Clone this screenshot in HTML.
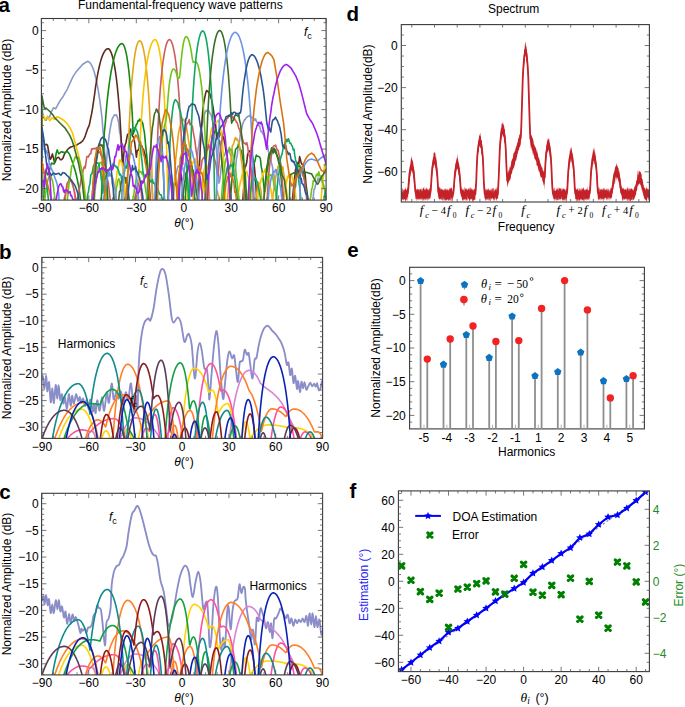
<!DOCTYPE html><html><head><meta charset="utf-8"><style>html,body{margin:0;padding:0;background:#fff;overflow:hidden}svg{display:block}</style></head><body>
<svg width="685" height="707" viewBox="0 0 685 707" font-family='"Liberation Sans", sans-serif'>
<rect width="685" height="707" fill="#fff"/>
<defs>
<clipPath id="ca"><rect x="41.4" y="18.5" width="284.7" height="181.6"/></clipPath>
<clipPath id="cb"><rect x="41.8" y="257.4" width="280.8" height="181"/></clipPath>
<clipPath id="cc"><rect x="41.6" y="493.3" width="281" height="181.6"/></clipPath>
<clipPath id="cd"><rect x="401.3" y="24.6" width="248.1" height="177.4"/></clipPath>
<clipPath id="ce"><rect x="409.6" y="267.3" width="234.8" height="161.6"/></clipPath>
<clipPath id="cf"><rect x="398.4" y="490.9" width="251" height="180.7"/></clipPath>
</defs>
<g clip-path="url(#ca)">
<path d="M40.4 215.0 41.2 215.0 42.0 109.1 42.8 113.4 43.6 117.0 44.4 118.6 45.2 120.1 46.0 120.5 46.8 118.9 47.6 117.2 48.4 116.9 49.2 117.3 50.0 116.0 50.8 113.6 51.6 111.5 52.4 109.9 53.2 108.3 54.0 107.8 54.8 108.4 55.6 108.8 56.4 107.3 57.2 105.9 58.0 104.4 58.8 103.0 59.6 101.6 60.4 100.2 61.2 99.1 62.0 98.1 62.8 97.0 63.6 95.6 64.4 94.1 65.2 92.7 66.0 91.4 66.8 90.1 67.6 88.5 68.4 86.7 69.2 84.8 70.0 83.0 70.8 81.3 71.6 79.6 72.4 77.9 73.2 76.4 74.0 75.1 74.8 73.9 75.6 72.6 76.4 71.5 77.2 70.6 78.0 69.7 78.8 68.8 79.6 67.9 80.4 67.0 81.2 66.1 82.0 65.1 82.8 64.2 83.6 63.7 84.4 63.2 85.2 62.7 86.0 62.3 86.8 61.8 87.6 61.4 88.4 61.6 89.2 62.1 90.0 62.8 90.8 63.9 91.6 65.3 92.4 67.0 93.2 69.0 94.0 71.3 94.8 74.0 95.6 77.2 96.4 80.5 97.2 84.9 98.0 88.9 98.8 94.1 99.6 99.1 100.4 104.8 101.2 111.7 102.0 117.5 102.8 128.5 103.6 137.3 104.4 149.1 105.2 159.6 106.0 169.4 106.8 158.5 107.6 146.8 108.4 142.1 109.2 135.3 110.0 129.8 110.8 125.3 111.6 121.3 112.4 118.4 113.2 117.2 114.0 115.2 114.8 114.8 115.6 115.4 116.4 114.8 117.2 116.6 118.0 120.0 118.8 123.4 119.6 132.1 120.4 135.3 121.2 145.6 122.0 157.1 122.8 168.9 123.6 185.0 124.4 204.1 125.2 215.0 126.0 215.0 126.8 215.0 127.6 215.0 128.4 215.0 129.2 215.0 130.0 215.0 130.8 215.0 131.6 215.0 132.4 215.0 133.2 211.3 134.0 204.7 134.8 197.1 135.6 195.3 136.4 194.6 137.2 194.3 138.0 197.9 138.8 201.9 139.6 215.0 140.4 215.0 141.2 215.0 142.0 215.0 142.8 215.0 143.6 215.0 144.4 215.0 145.2 215.0 146.0 208.4 146.8 194.0 147.6 181.5 148.4 175.7 149.2 174.2 150.0 170.9 150.8 175.9 151.6 182.9 152.4 193.6 153.2 210.4 154.0 215.0 154.8 215.0 155.6 215.0 156.4 215.0 157.2 215.0 158.0 215.0 158.8 215.0 159.6 215.0 160.4 215.0 161.2 215.0 162.0 215.0 162.8 215.0 163.6 215.0 164.4 215.0 165.2 215.0 166.0 215.0 166.8 215.0 167.6 215.0 168.4 215.0 169.2 215.0 170.0 215.0 170.8 215.0 171.6 211.6 172.4 201.3 173.2 196.3 174.0 187.5 174.8 179.7 175.6 175.0 176.4 173.2 177.2 168.8 178.0 166.3 178.8 166.5 179.6 165.5 180.4 166.4 181.2 163.9 182.0 165.1 182.8 168.3 183.6 171.9 184.4 172.7 185.2 175.5 186.0 179.1 186.8 186.1 187.6 190.8 188.4 196.7 189.2 199.9 190.0 212.1 190.8 215.0 191.6 215.0 192.4 215.0 193.2 215.0 194.0 211.1 194.8 195.4 195.6 183.0 196.4 172.7 197.2 159.7 198.0 149.7 198.8 145.8 199.6 138.4 200.4 132.3 201.2 127.3 202.0 125.1 202.8 121.3 203.6 116.7 204.4 114.7 205.2 112.1 206.0 110.6 206.8 111.3 207.6 109.8 208.4 110.6 209.2 111.6 210.0 113.4 210.8 114.5 211.6 116.9 212.4 120.5 213.2 124.1 214.0 128.8 214.8 137.5 215.6 141.7 216.4 149.5 217.2 159.8 218.0 169.7 218.8 183.2 219.6 181.2 220.4 175.5 221.2 166.5 222.0 163.0 222.8 158.9 223.6 155.2 224.4 155.9 225.2 153.1 226.0 151.3 226.8 156.0 227.6 150.6 228.4 150.0 229.2 149.9 230.0 153.0 230.8 155.7 231.6 157.7 232.4 163.6 233.2 165.8 234.0 171.9 234.8 177.0 235.6 168.3 236.4 159.2 237.2 155.6 238.0 148.5 238.8 142.2 239.6 141.0 240.4 133.8 241.2 131.0 242.0 127.4 242.8 123.6 243.6 121.8 244.4 119.9 245.2 119.7 246.0 117.9 246.8 117.4 247.6 116.5 248.4 116.1 249.2 116.5 250.0 115.2 250.8 116.9 251.6 117.8 252.4 117.6 253.2 117.8 254.0 118.8 254.8 120.4 255.6 118.8 256.4 121.3 257.2 122.5 258.0 122.9 258.8 125.8 259.6 125.8 260.4 129.5 261.2 131.8 262.0 131.3 262.8 134.0 263.6 134.8 264.4 137.9 265.2 138.9 266.0 140.4 266.8 146.3 267.6 145.3 268.4 151.5 269.2 152.4 270.0 157.8 270.8 158.9 271.6 163.8 272.4 166.2 273.2 173.2 274.0 174.8 274.8 181.7 275.6 186.9 276.4 193.4 277.2 199.7 278.0 206.9 278.8 212.0 279.6 215.0 280.4 215.0 281.2 215.0 282.0 215.0 282.8 215.0 283.6 215.0 284.4 215.0 285.2 215.0 286.0 215.0 286.8 215.0 287.6 215.0 288.4 215.0 289.2 215.0 290.0 215.0 290.8 215.0 291.6 215.0 292.4 215.0 293.2 215.0 294.0 215.0 294.8 215.0 295.6 215.0 296.4 215.0 297.2 215.0 298.0 215.0 298.8 215.0 299.6 215.0 300.4 215.0 301.2 215.0 302.0 215.0 302.8 215.0 303.6 215.0 304.4 215.0 305.2 215.0 306.0 215.0 306.8 215.0 307.6 215.0 308.4 215.0 309.2 215.0 310.0 215.0 310.8 215.0 311.6 207.3 312.4 201.5 313.2 196.9 314.0 189.4 314.8 188.7 315.6 184.6 316.4 183.4 317.2 180.9 318.0 178.0 318.8 179.8 319.6 178.3 320.4 177.7 321.2 180.5 322.0 181.3 322.8 183.8 323.6 185.9 324.4 189.1 325.2 194.9 326.0 198.2 326.8 205.9" stroke="#8a9ac8" stroke-width="1.6" fill="none" stroke-linejoin="round"/>
<path d="M40.4 215.0 41.2 215.0 42.0 132.8 42.8 136.6 43.6 140.5 44.4 144.4 45.2 144.8 46.0 144.6 46.8 144.4 47.6 145.5 48.4 150.2 49.2 154.8 50.0 159.5 50.8 158.8 51.6 156.4 52.4 153.9 53.2 157.1 54.0 160.2 54.8 162.8 55.6 160.8 56.4 158.8 57.2 157.8 58.0 157.5 58.8 157.4 59.6 158.6 60.4 159.7 61.2 159.7 62.0 159.3 62.8 158.5 63.6 156.4 64.4 154.3 65.2 152.9 66.0 151.7 66.8 150.6 67.6 149.5 68.4 148.7 69.2 148.1 70.0 147.5 70.8 147.0 71.6 146.7 72.4 146.5 73.2 146.2 74.0 146.0 74.8 145.8 75.6 145.6 76.4 145.2 77.2 144.7 78.0 144.1 78.8 143.6 79.6 143.2 80.4 142.8 81.2 142.3 82.0 141.5 82.8 140.6 83.6 139.3 84.4 137.8 85.2 136.1 86.0 133.6 86.8 131.2 87.6 128.8 88.4 127.1 89.2 125.4 90.0 121.6 90.8 117.7 91.6 113.9 92.4 109.3 93.2 103.8 94.0 98.3 94.8 92.8 95.6 86.6 96.4 81.8 97.2 76.8 98.0 72.6 98.8 68.7 99.6 65.2 100.4 62.1 101.2 59.3 102.0 56.9 102.8 54.8 103.6 53.1 104.4 51.6 105.2 50.5 106.0 49.6 106.8 49.0 107.6 48.7 108.4 48.8 109.2 49.3 110.0 50.3 110.8 51.8 111.6 53.8 112.4 56.4 113.2 59.5 114.0 63.2 114.8 67.6 115.6 72.7 116.4 78.6 117.2 85.6 118.0 93.7 118.8 102.7 119.6 111.8 120.4 125.7 121.2 138.6 122.0 154.2 122.8 165.6 123.6 155.8 124.4 148.5 125.2 144.7 126.0 142.5 126.8 138.2 127.6 134.2 128.4 134.3 129.2 133.9 130.0 128.9 130.8 131.9 131.6 131.7 132.4 135.6 133.2 136.8 134.0 138.6 134.8 143.5 135.6 149.7 136.4 157.2 137.2 151.0 138.0 150.1 138.8 150.0 139.6 144.2 140.4 147.2 141.2 145.5 142.0 146.1 142.8 148.9 143.6 149.4 144.4 153.1 145.2 155.1 146.0 158.8 146.8 164.4 147.6 170.5 148.4 178.4 149.2 184.1 150.0 195.8 150.8 203.4 151.6 215.0 152.4 215.0 153.2 215.0 154.0 215.0 154.8 215.0 155.6 215.0 156.4 215.0 157.2 215.0 158.0 215.0 158.8 215.0 159.6 215.0 160.4 215.0 161.2 215.0 162.0 215.0 162.8 215.0 163.6 215.0 164.4 215.0 165.2 215.0 166.0 215.0 166.8 215.0 167.6 210.6 168.4 191.8 169.2 183.5 170.0 177.7 170.8 179.8 171.6 186.1 172.4 196.4 173.2 211.9 174.0 215.0 174.8 215.0 175.6 215.0 176.4 215.0 177.2 208.8 178.0 191.5 178.8 176.9 179.6 171.9 180.4 172.8 181.2 174.9 182.0 181.1 182.8 191.4 183.6 215.0 184.4 215.0 185.2 215.0 186.0 215.0 186.8 215.0 187.6 215.0 188.4 215.0 189.2 215.0 190.0 215.0 190.8 215.0 191.6 215.0 192.4 215.0 193.2 215.0 194.0 215.0 194.8 215.0 195.6 215.0 196.4 215.0 197.2 215.0 198.0 215.0 198.8 189.5 199.6 163.9 200.4 144.8 201.2 133.4 202.0 120.5 202.8 110.4 203.6 103.6 204.4 99.2 205.2 95.3 206.0 91.9 206.8 90.5 207.6 91.5 208.4 91.8 209.2 93.0 210.0 94.1 210.8 97.3 211.6 99.7 212.4 103.6 213.2 108.3 214.0 114.2 214.8 119.6 215.6 124.9 216.4 134.1 217.2 138.8 218.0 138.3 218.8 137.6 219.6 135.6 220.4 132.4 221.2 133.7 222.0 136.1 222.8 138.5 223.6 136.8 224.4 141.9 225.2 145.6 226.0 151.6 226.8 153.7 227.6 161.9 228.4 169.7 229.2 179.9 230.0 187.3 230.8 199.5 231.6 215.0 232.4 215.0 233.2 215.0 234.0 215.0 234.8 215.0 235.6 215.0 236.4 215.0 237.2 215.0 238.0 215.0 238.8 215.0 239.6 215.0 240.4 215.0 241.2 215.0 242.0 215.0 242.8 200.9 243.6 189.4 244.4 179.3 245.2 167.6 246.0 165.2 246.8 162.0 247.6 154.5 248.4 152.8 249.2 151.8 250.0 150.6 250.8 151.8 251.6 151.9 252.4 155.8 253.2 160.2 254.0 162.9 254.8 171.4 255.6 180.3 256.4 194.8 257.2 209.6 258.0 215.0 258.8 215.0 259.6 215.0 260.4 215.0 261.2 215.0 262.0 215.0 262.8 215.0 263.6 215.0 264.4 215.0 265.2 215.0 266.0 215.0 266.8 215.0 267.6 215.0 268.4 215.0 269.2 215.0 270.0 215.0 270.8 215.0 271.6 215.0 272.4 215.0 273.2 215.0 274.0 215.0 274.8 215.0 275.6 215.0 276.4 215.0 277.2 215.0 278.0 215.0 278.8 215.0 279.6 215.0 280.4 215.0 281.2 215.0 282.0 215.0 282.8 215.0 283.6 215.0 284.4 215.0 285.2 215.0 286.0 215.0 286.8 215.0 287.6 215.0 288.4 215.0 289.2 215.0 290.0 215.0 290.8 215.0 291.6 204.0 292.4 199.5 293.2 192.1 294.0 182.4 294.8 176.5 295.6 169.0 296.4 169.0 297.2 164.5 298.0 162.3 298.8 164.0 299.6 156.6 300.4 159.6 301.2 162.9 302.0 164.4 302.8 164.2 303.6 165.6 304.4 171.2 305.2 174.7 306.0 184.3 306.8 190.0 307.6 196.4 308.4 206.7 309.2 215.0 310.0 215.0 310.8 215.0 311.6 215.0 312.4 215.0 313.2 215.0 314.0 215.0 314.8 215.0 315.6 215.0 316.4 215.0 317.2 215.0 318.0 215.0 318.8 215.0 319.6 215.0 320.4 215.0 321.2 215.0 322.0 215.0 322.8 215.0 323.6 215.0 324.4 215.0 325.2 215.0 326.0 215.0 326.8 215.0" stroke="#5e2a1e" stroke-width="1.6" fill="none" stroke-linejoin="round"/>
<path d="M40.4 215.0 41.2 215.0 42.0 215.0 42.8 215.0 43.6 215.0 44.4 174.0 45.2 172.0 46.0 170.0 46.8 172.4 47.6 174.8 48.4 174.4 49.2 171.3 50.0 168.1 50.8 165.0 51.6 163.1 52.4 163.4 53.2 163.7 54.0 164.1 54.8 160.6 55.6 156.5 56.4 152.4 57.2 149.9 58.0 152.0 58.8 153.8 59.6 153.2 60.4 152.6 61.2 151.9 62.0 151.9 62.8 152.1 63.6 152.4 64.4 152.6 65.2 152.5 66.0 151.9 66.8 151.2 67.6 151.7 68.4 152.7 69.2 153.7 70.0 155.5 70.8 157.6 71.6 159.8 72.4 161.9 73.2 164.3 74.0 167.0 74.8 169.6 75.6 172.3 76.4 175.3 77.2 179.2 78.0 183.0 78.8 186.9 79.6 192.5 80.4 198.7 81.2 215.0 82.0 215.0 82.8 215.0 83.6 215.0 84.4 215.0 85.2 215.0 86.0 215.0 86.8 215.0 87.6 215.0 88.4 215.0 89.2 215.0 90.0 215.0 90.8 215.0 91.6 215.0 92.4 215.0 93.2 215.0 94.0 215.0 94.8 215.0 95.6 215.0 96.4 215.0 97.2 215.0 98.0 215.0 98.8 215.0 99.6 215.0 100.4 215.0 101.2 205.8 102.0 180.4 102.8 163.8 103.6 146.7 104.4 131.7 105.2 124.4 106.0 114.2 106.8 104.6 107.6 97.2 108.4 90.3 109.2 84.2 110.0 78.5 110.8 73.6 111.6 69.1 112.4 65.1 113.2 61.4 114.0 58.2 114.8 55.3 115.6 52.8 116.4 50.6 117.2 48.7 118.0 47.1 118.8 45.9 119.6 44.9 120.4 44.2 121.2 43.7 122.0 43.6 122.8 43.9 123.6 45.0 124.4 46.7 125.2 49.2 126.0 52.4 126.8 56.4 127.6 61.3 128.4 67.1 129.2 74.1 130.0 82.3 130.8 91.7 131.6 103.5 132.4 116.9 133.2 134.1 134.0 131.7 134.8 129.8 135.6 127.1 136.4 124.3 137.2 123.6 138.0 120.7 138.8 121.0 139.6 119.0 140.4 120.9 141.2 119.5 142.0 122.2 142.8 123.5 143.6 128.4 144.4 132.4 145.2 140.6 146.0 149.3 146.8 156.2 147.6 167.8 148.4 185.4 149.2 206.1 150.0 215.0 150.8 215.0 151.6 215.0 152.4 215.0 153.2 215.0 154.0 215.0 154.8 215.0 155.6 215.0 156.4 215.0 157.2 215.0 158.0 215.0 158.8 215.0 159.6 215.0 160.4 215.0 161.2 208.0 162.0 200.9 162.8 198.3 163.6 198.8 164.4 204.1 165.2 214.5 166.0 215.0 166.8 215.0 167.6 215.0 168.4 215.0 169.2 215.0 170.0 215.0 170.8 215.0 171.6 213.6 172.4 197.9 173.2 190.4 174.0 183.7 174.8 185.1 175.6 182.7 176.4 184.8 177.2 191.2 178.0 196.0 178.8 205.3 179.6 215.0 180.4 215.0 181.2 215.0 182.0 215.0 182.8 215.0 183.6 215.0 184.4 215.0 185.2 201.5 186.0 185.8 186.8 177.8 187.6 169.1 188.4 163.9 189.2 160.2 190.0 160.3 190.8 161.6 191.6 165.2 192.4 170.2 193.2 178.8 194.0 193.8 194.8 211.4 195.6 215.0 196.4 215.0 197.2 215.0 198.0 215.0 198.8 215.0 199.6 215.0 200.4 215.0 201.2 215.0 202.0 215.0 202.8 215.0 203.6 215.0 204.4 215.0 205.2 215.0 206.0 201.3 206.8 187.7 207.6 175.6 208.4 166.8 209.2 160.1 210.0 150.0 210.8 147.6 211.6 140.4 212.4 135.2 213.2 133.0 214.0 133.4 214.8 132.0 215.6 130.3 216.4 131.5 217.2 132.8 218.0 138.0 218.8 139.8 219.6 141.2 220.4 147.2 221.2 154.5 222.0 163.6 222.8 169.8 223.6 178.5 224.4 189.0 225.2 203.1 226.0 215.0 226.8 215.0 227.6 215.0 228.4 215.0 229.2 215.0 230.0 208.0 230.8 194.8 231.6 184.7 232.4 172.9 233.2 165.1 234.0 161.5 234.8 155.1 235.6 149.1 236.4 148.6 237.2 147.6 238.0 146.5 238.8 143.3 239.6 147.6 240.4 150.4 241.2 150.4 242.0 154.7 242.8 158.4 243.6 164.2 244.4 171.2 245.2 173.2 246.0 188.2 246.8 197.7 247.6 208.4 248.4 215.0 249.2 211.7 250.0 197.4 250.8 190.4 251.6 181.5 252.4 174.4 253.2 168.9 254.0 162.1 254.8 161.8 255.6 157.6 256.4 155.1 257.2 156.3 258.0 156.2 258.8 156.6 259.6 157.0 260.4 159.0 261.2 166.3 262.0 170.2 262.8 176.4 263.6 183.3 264.4 191.6 265.2 190.7 266.0 182.2 266.8 172.1 267.6 169.1 268.4 162.8 269.2 158.1 270.0 154.1 270.8 153.2 271.6 151.0 272.4 149.6 273.2 149.3 274.0 148.1 274.8 152.0 275.6 149.9 276.4 153.0 277.2 156.1 278.0 159.1 278.8 161.4 279.6 168.3 280.4 170.7 281.2 179.2 282.0 188.2 282.8 198.9 283.6 210.6 284.4 215.0 285.2 215.0 286.0 215.0 286.8 215.0 287.6 215.0 288.4 215.0 289.2 215.0 290.0 215.0 290.8 215.0 291.6 215.0 292.4 215.0 293.2 212.0 294.0 198.5 294.8 192.3 295.6 185.1 296.4 176.3 297.2 170.5 298.0 166.3 298.8 165.9 299.6 165.3 300.4 168.3 301.2 167.5 302.0 168.8 302.8 171.8 303.6 172.2 304.4 177.5 305.2 183.0 306.0 189.5 306.8 193.1 307.6 201.6 308.4 210.3 309.2 215.0 310.0 215.0 310.8 215.0 311.6 215.0 312.4 215.0 313.2 215.0 314.0 215.0 314.8 215.0 315.6 215.0 316.4 215.0 317.2 215.0 318.0 215.0 318.8 215.0 319.6 215.0 320.4 215.0 321.2 215.0 322.0 215.0 322.8 215.0 323.6 215.0 324.4 215.0 325.2 208.3 326.0 201.4 326.8 197.0" stroke="#138a13" stroke-width="1.6" fill="none" stroke-linejoin="round"/>
<path d="M40.4 215.0 41.2 215.0 42.0 215.0 42.8 215.0 43.6 215.0 44.4 215.0 45.2 215.0 46.0 215.0 46.8 215.0 47.6 215.0 48.4 215.0 49.2 215.0 50.0 215.0 50.8 215.0 51.6 215.0 52.4 215.0 53.2 215.0 54.0 215.0 54.8 215.0 55.6 215.0 56.4 215.0 57.2 215.0 58.0 215.0 58.8 215.0 59.6 215.0 60.4 215.0 61.2 215.0 62.0 215.0 62.8 215.0 63.6 215.0 64.4 208.1 65.2 201.4 66.0 193.2 66.8 190.0 67.6 186.1 68.4 183.0 69.2 179.0 70.0 177.5 70.8 180.8 71.6 182.0 72.4 183.2 73.2 185.7 74.0 190.1 74.8 195.8 75.6 200.9 76.4 203.9 77.2 212.3 78.0 215.0 78.8 215.0 79.6 215.0 80.4 215.0 81.2 215.0 82.0 215.0 82.8 215.0 83.6 215.0 84.4 215.0 85.2 215.0 86.0 215.0 86.8 215.0 87.6 215.0 88.4 215.0 89.2 215.0 90.0 215.0 90.8 215.0 91.6 215.0 92.4 207.4 93.2 199.4 94.0 192.4 94.8 184.5 95.6 183.0 96.4 176.8 97.2 174.7 98.0 172.1 98.8 171.0 99.6 171.3 100.4 172.6 101.2 173.4 102.0 171.1 102.8 172.8 103.6 178.2 104.4 182.7 105.2 188.5 106.0 191.1 106.8 200.3 107.6 209.2 108.4 215.0 109.2 215.0 110.0 215.0 110.8 215.0 111.6 215.0 112.4 215.0 113.2 215.0 114.0 215.0 114.8 215.0 115.6 215.0 116.4 215.0 117.2 215.0 118.0 215.0 118.8 215.0 119.6 215.0 120.4 215.0 121.2 215.0 122.0 215.0 122.8 215.0 123.6 215.0 124.4 215.0 125.2 215.0 126.0 215.0 126.8 215.0 127.6 175.2 128.4 149.4 129.2 125.9 130.0 110.5 130.8 95.6 131.6 84.8 132.4 75.4 133.2 67.6 134.0 60.8 134.8 55.2 135.6 50.7 136.4 47.0 137.2 44.2 138.0 42.3 138.8 41.1 139.6 40.7 140.4 41.1 141.2 42.1 142.0 43.9 142.8 46.5 143.6 49.9 144.4 54.1 145.2 59.2 146.0 65.3 146.8 72.5 147.6 81.3 148.4 91.1 149.2 102.7 150.0 118.1 150.8 134.4 151.6 156.6 152.4 192.3 153.2 215.0 154.0 215.0 154.8 215.0 155.6 215.0 156.4 215.0 157.2 215.0 158.0 215.0 158.8 215.0 159.6 215.0 160.4 215.0 161.2 215.0 162.0 215.0 162.8 215.0 163.6 215.0 164.4 215.0 165.2 215.0 166.0 215.0 166.8 215.0 167.6 215.0 168.4 215.0 169.2 215.0 170.0 215.0 170.8 215.0 171.6 215.0 172.4 215.0 173.2 207.4 174.0 189.8 174.8 174.5 175.6 160.2 176.4 152.8 177.2 144.8 178.0 137.3 178.8 131.7 179.6 128.2 180.4 125.2 181.2 121.3 182.0 119.4 182.8 120.1 183.6 119.3 184.4 120.4 185.2 122.2 186.0 124.6 186.8 129.4 187.6 133.9 188.4 139.7 189.2 143.8 190.0 151.9 190.8 164.6 191.6 171.3 192.4 183.6 193.2 200.1 194.0 215.0 194.8 215.0 195.6 215.0 196.4 215.0 197.2 215.0 198.0 215.0 198.8 215.0 199.6 215.0 200.4 215.0 201.2 215.0 202.0 194.5 202.8 183.1 203.6 173.0 204.4 169.1 205.2 166.0 206.0 163.8 206.8 166.7 207.6 172.4 208.4 178.3 209.2 193.5 210.0 206.9 210.8 215.0 211.6 215.0 212.4 215.0 213.2 215.0 214.0 215.0 214.8 215.0 215.6 207.4 216.4 196.1 217.2 190.9 218.0 194.3 218.8 196.2 219.6 205.7 220.4 215.0 221.2 215.0 222.0 215.0 222.8 215.0 223.6 215.0 224.4 215.0 225.2 215.0 226.0 215.0 226.8 215.0 227.6 200.8 228.4 186.4 229.2 173.0 230.0 168.0 230.8 161.8 231.6 153.3 232.4 145.6 233.2 144.8 234.0 142.4 234.8 139.1 235.6 137.4 236.4 139.9 237.2 138.8 238.0 140.5 238.8 143.0 239.6 147.2 240.4 151.8 241.2 159.7 242.0 163.8 242.8 173.1 243.6 184.0 244.4 199.2 245.2 213.2 246.0 215.0 246.8 215.0 247.6 215.0 248.4 215.0 249.2 215.0 250.0 215.0 250.8 215.0 251.6 215.0 252.4 215.0 253.2 215.0 254.0 215.0 254.8 215.0 255.6 203.0 256.4 195.1 257.2 190.0 258.0 184.9 258.8 182.2 259.6 185.0 260.4 187.7 261.2 192.9 262.0 203.2 262.8 215.0 263.6 215.0 264.4 215.0 265.2 215.0 266.0 215.0 266.8 215.0 267.6 215.0 268.4 215.0 269.2 215.0 270.0 215.0 270.8 215.0 271.6 213.5 272.4 202.9 273.2 192.6 274.0 188.6 274.8 182.0 275.6 177.9 276.4 172.5 277.2 170.1 278.0 167.1 278.8 164.4 279.6 162.5 280.4 165.8 281.2 165.6 282.0 169.6 282.8 166.7 283.6 173.1 284.4 177.1 285.2 182.1 286.0 187.2 286.8 193.1 287.6 202.9 288.4 212.0 289.2 215.0 290.0 215.0 290.8 215.0 291.6 215.0 292.4 215.0 293.2 215.0 294.0 215.0 294.8 215.0 295.6 215.0 296.4 215.0 297.2 215.0 298.0 215.0 298.8 215.0 299.6 215.0 300.4 215.0 301.2 215.0 302.0 215.0 302.8 215.0 303.6 215.0 304.4 215.0 305.2 215.0 306.0 215.0 306.8 215.0 307.6 215.0 308.4 215.0 309.2 215.0 310.0 215.0 310.8 215.0 311.6 215.0 312.4 215.0 313.2 215.0 314.0 215.0 314.8 215.0 315.6 215.0 316.4 215.0 317.2 215.0 318.0 215.0 318.8 215.0 319.6 215.0 320.4 215.0 321.2 215.0 322.0 215.0 322.8 213.1 323.6 207.5 324.4 206.1 325.2 204.7 326.0 202.3 326.8 203.3" stroke="#e8a317" stroke-width="1.6" fill="none" stroke-linejoin="round"/>
<path d="M40.4 215.0 41.2 215.0 42.0 120.1 42.8 117.5 43.6 116.0 44.4 118.1 45.2 119.8 46.0 118.5 46.8 117.2 47.6 116.2 48.4 118.0 49.2 119.7 50.0 120.7 50.8 119.4 51.6 118.1 52.4 117.8 53.2 118.5 54.0 119.1 54.8 119.2 55.6 118.2 56.4 117.3 57.2 116.7 58.0 117.0 58.8 117.4 59.6 117.8 60.4 118.3 61.2 118.7 62.0 119.2 62.8 119.7 63.6 120.2 64.4 120.9 65.2 121.6 66.0 122.3 66.8 123.3 67.6 124.3 68.4 125.4 69.2 126.7 70.0 128.1 70.8 129.5 71.6 131.2 72.4 132.8 73.2 135.5 74.0 138.5 74.8 141.5 75.6 144.5 76.4 147.5 77.2 150.4 78.0 153.3 78.8 156.4 79.6 160.0 80.4 163.6 81.2 167.4 82.0 171.3 82.8 175.6 83.6 180.5 84.4 186.5 85.2 193.5 86.0 201.0 86.8 215.0 87.6 215.0 88.4 215.0 89.2 215.0 90.0 215.0 90.8 215.0 91.6 215.0 92.4 215.0 93.2 215.0 94.0 215.0 94.8 215.0 95.6 215.0 96.4 215.0 97.2 215.0 98.0 215.0 98.8 215.0 99.6 215.0 100.4 215.0 101.2 215.0 102.0 215.0 102.8 215.0 103.6 215.0 104.4 215.0 105.2 215.0 106.0 215.0 106.8 215.0 107.6 215.0 108.4 215.0 109.2 215.0 110.0 215.0 110.8 215.0 111.6 215.0 112.4 215.0 113.2 215.0 114.0 207.9 114.8 196.1 115.6 183.9 116.4 177.8 117.2 171.1 118.0 168.6 118.8 164.9 119.6 160.0 120.4 160.0 121.2 162.1 122.0 162.9 122.8 168.0 123.6 175.0 124.4 184.6 125.2 195.7 126.0 213.5 126.8 215.0 127.6 215.0 128.4 215.0 129.2 215.0 130.0 215.0 130.8 215.0 131.6 215.0 132.4 215.0 133.2 215.0 134.0 215.0 134.8 215.0 135.6 215.0 136.4 215.0 137.2 215.0 138.0 203.4 138.8 174.6 139.6 151.0 140.4 135.6 141.2 121.8 142.0 110.2 142.8 98.8 143.6 89.8 144.4 81.8 145.2 75.0 146.0 68.9 146.8 63.6 147.6 58.9 148.4 54.8 149.2 51.3 150.0 48.2 150.8 45.7 151.6 43.6 152.4 42.0 153.2 40.8 154.0 40.0 154.8 39.6 155.6 39.7 156.4 40.6 157.2 42.2 158.0 44.5 158.8 47.7 159.6 51.7 160.4 56.6 161.2 62.5 162.0 69.6 162.8 78.0 163.6 87.6 164.4 99.7 165.2 115.6 166.0 129.0 166.8 154.3 167.6 187.1 168.4 215.0 169.2 215.0 170.0 215.0 170.8 215.0 171.6 215.0 172.4 215.0 173.2 215.0 174.0 215.0 174.8 215.0 175.6 215.0 176.4 215.0 177.2 215.0 178.0 215.0 178.8 215.0 179.6 215.0 180.4 215.0 181.2 215.0 182.0 215.0 182.8 215.0 183.6 215.0 184.4 215.0 185.2 215.0 186.0 215.0 186.8 202.4 187.6 192.1 188.4 186.1 189.2 179.4 190.0 177.5 190.8 170.8 191.6 164.6 192.4 164.2 193.2 162.1 194.0 161.4 194.8 160.0 195.6 159.1 196.4 164.5 197.2 164.1 198.0 167.1 198.8 166.5 199.6 173.7 200.4 178.6 201.2 184.9 202.0 192.3 202.8 194.0 203.6 181.6 204.4 173.5 205.2 166.9 206.0 163.9 206.8 155.0 207.6 150.6 208.4 144.8 209.2 140.5 210.0 137.7 210.8 133.0 211.6 128.2 212.4 127.8 213.2 127.3 214.0 124.5 214.8 122.7 215.6 122.8 216.4 122.8 217.2 121.6 218.0 120.3 218.8 120.6 219.6 125.7 220.4 127.4 221.2 134.0 222.0 137.8 222.8 148.4 223.6 160.5 224.4 170.6 225.2 187.5 226.0 209.4 226.8 215.0 227.6 215.0 228.4 215.0 229.2 215.0 230.0 215.0 230.8 215.0 231.6 215.0 232.4 215.0 233.2 215.0 234.0 215.0 234.8 215.0 235.6 215.0 236.4 215.0 237.2 208.4 238.0 199.8 238.8 190.4 239.6 186.0 240.4 182.0 241.2 179.4 242.0 175.3 242.8 172.4 243.6 168.4 244.4 166.8 245.2 170.1 246.0 171.2 246.8 171.5 247.6 175.2 248.4 177.1 249.2 181.4 250.0 184.6 250.8 191.6 251.6 194.8 252.4 204.3 253.2 213.7 254.0 215.0 254.8 215.0 255.6 215.0 256.4 213.3 257.2 204.9 258.0 197.1 258.8 189.9 259.6 186.0 260.4 182.7 261.2 179.2 262.0 177.6 262.8 173.0 263.6 171.9 264.4 171.9 265.2 168.9 266.0 172.0 266.8 174.8 267.6 174.1 268.4 179.1 269.2 180.0 270.0 186.1 270.8 188.9 271.6 194.7 272.4 201.2 273.2 209.3 274.0 215.0 274.8 215.0 275.6 215.0 276.4 215.0 277.2 215.0 278.0 215.0 278.8 215.0 279.6 215.0 280.4 215.0 281.2 215.0 282.0 214.3 282.8 209.4 283.6 201.3 284.4 193.4 285.2 190.0 286.0 184.2 286.8 180.8 287.6 176.0 288.4 177.6 289.2 174.0 290.0 176.5 290.8 175.6 291.6 175.2 292.4 178.2 293.2 180.8 294.0 183.8 294.8 187.9 295.6 194.9 296.4 201.6 297.2 210.6 298.0 215.0 298.8 215.0 299.6 215.0 300.4 215.0 301.2 215.0 302.0 215.0 302.8 215.0 303.6 215.0 304.4 215.0 305.2 215.0 306.0 215.0 306.8 215.0 307.6 215.0 308.4 215.0 309.2 215.0 310.0 215.0 310.8 215.0 311.6 215.0 312.4 215.0 313.2 215.0 314.0 215.0 314.8 215.0 315.6 215.0 316.4 215.0 317.2 215.0 318.0 215.0 318.8 215.0 319.6 215.0 320.4 207.9 321.2 198.4 322.0 188.0 322.8 180.6 323.6 175.9 324.4 166.0 325.2 163.7 326.0 160.6 326.8 157.2" stroke="#f7c600" stroke-width="1.6" fill="none" stroke-linejoin="round"/>
<path d="M40.4 215.0 41.2 215.0 42.0 215.0 42.8 215.0 43.6 215.0 44.4 215.0 45.2 215.0 46.0 215.0 46.8 215.0 47.6 215.0 48.4 215.0 49.2 215.0 50.0 215.0 50.8 215.0 51.6 215.0 52.4 215.0 53.2 215.0 54.0 215.0 54.8 215.0 55.6 215.0 56.4 215.0 57.2 215.0 58.0 215.0 58.8 215.0 59.6 215.0 60.4 215.0 61.2 215.0 62.0 215.0 62.8 211.0 63.6 205.9 64.4 198.0 65.2 195.3 66.0 190.4 66.8 184.7 67.6 182.3 68.4 182.1 69.2 179.3 70.0 181.0 70.8 181.4 71.6 179.9 72.4 184.5 73.2 186.9 74.0 189.9 74.8 193.2 75.6 198.8 76.4 204.4 77.2 202.2 78.0 195.8 78.8 193.2 79.6 187.8 80.4 183.8 81.2 178.4 82.0 176.9 82.8 171.8 83.6 168.7 84.4 166.6 85.2 168.1 86.0 162.3 86.8 156.5 87.6 156.5 88.4 157.0 89.2 155.0 90.0 153.9 90.8 153.7 91.6 148.8 92.4 149.4 93.2 148.7 94.0 148.4 94.8 148.6 95.6 148.9 96.4 147.7 97.2 150.0 98.0 148.4 98.8 153.0 99.6 152.4 100.4 151.4 101.2 155.5 102.0 155.9 102.8 159.2 103.6 161.3 104.4 164.4 105.2 167.4 106.0 170.5 106.8 174.9 107.6 179.9 108.4 183.5 109.2 190.7 110.0 197.8 110.8 202.0 111.6 212.6 112.4 215.0 113.2 215.0 114.0 215.0 114.8 215.0 115.6 215.0 116.4 215.0 117.2 215.0 118.0 215.0 118.8 215.0 119.6 215.0 120.4 215.0 121.2 215.0 122.0 215.0 122.8 215.0 123.6 215.0 124.4 215.0 125.2 215.0 126.0 215.0 126.8 215.0 127.6 215.0 128.4 215.0 129.2 215.0 130.0 215.0 130.8 215.0 131.6 215.0 132.4 215.0 133.2 215.0 134.0 212.3 134.8 203.2 135.6 195.2 136.4 190.9 137.2 185.7 138.0 183.2 138.8 184.9 139.6 186.7 140.4 187.7 141.2 191.8 142.0 200.9 142.8 206.3 143.6 215.0 144.4 215.0 145.2 215.0 146.0 215.0 146.8 215.0 147.6 215.0 148.4 215.0 149.2 215.0 150.0 215.0 150.8 215.0 151.6 215.0 152.4 215.0 153.2 215.0 154.0 215.0 154.8 215.0 155.6 214.7 156.4 175.6 157.2 149.7 158.0 128.0 158.8 112.0 159.6 98.7 160.4 87.5 161.2 78.4 162.0 70.4 162.8 63.5 163.6 57.8 164.4 52.9 165.2 48.9 166.0 45.6 166.8 43.1 167.6 41.3 168.4 40.1 169.2 39.6 170.0 39.8 170.8 40.6 171.6 42.1 172.4 44.3 173.2 47.2 174.0 50.8 174.8 55.2 175.6 60.5 176.4 66.8 177.2 74.2 178.0 83.2 178.8 92.6 179.6 104.9 180.4 118.8 181.2 135.3 182.0 158.2 182.8 164.4 183.6 150.7 184.4 140.9 185.2 132.8 186.0 127.7 186.8 123.8 187.6 123.5 188.4 121.7 189.2 119.5 190.0 124.7 190.8 123.3 191.6 125.5 192.4 126.2 193.2 131.7 194.0 136.1 194.8 139.8 195.6 146.6 196.4 152.5 197.2 156.7 198.0 164.8 198.8 176.8 199.6 174.0 200.4 170.4 201.2 167.7 202.0 160.7 202.8 158.8 203.6 158.3 204.4 157.0 205.2 154.1 206.0 149.1 206.8 150.8 207.6 149.3 208.4 144.6 209.2 147.9 210.0 146.3 210.8 144.6 211.6 147.7 212.4 150.2 213.2 150.4 214.0 155.9 214.8 160.5 215.6 161.8 216.4 168.0 217.2 173.9 218.0 176.1 218.8 166.4 219.6 157.1 220.4 149.7 221.2 142.5 222.0 139.4 222.8 135.8 223.6 129.8 224.4 127.2 225.2 123.8 226.0 122.0 226.8 118.1 227.6 118.2 228.4 117.0 229.2 116.3 230.0 115.2 230.8 116.7 231.6 116.6 232.4 116.7 233.2 118.6 234.0 117.2 234.8 119.5 235.6 120.4 236.4 122.3 237.2 122.8 238.0 125.6 238.8 128.3 239.6 129.4 240.4 132.9 241.2 134.8 242.0 136.9 242.8 140.1 243.6 142.7 244.4 143.5 245.2 143.3 246.0 144.5 246.8 142.7 247.6 146.3 248.4 152.3 249.2 155.2 250.0 157.9 250.8 165.5 251.6 174.0 252.4 183.0 253.2 196.2 254.0 210.0 254.8 215.0 255.6 215.0 256.4 215.0 257.2 215.0 258.0 215.0 258.8 215.0 259.6 215.0 260.4 215.0 261.2 215.0 262.0 215.0 262.8 215.0 263.6 215.0 264.4 215.0 265.2 215.0 266.0 215.0 266.8 207.7 267.6 191.8 268.4 179.0 269.2 169.4 270.0 162.2 270.8 159.0 271.6 154.7 272.4 149.6 273.2 146.5 274.0 145.7 274.8 145.7 275.6 145.0 276.4 147.9 277.2 149.8 278.0 150.2 278.8 153.6 279.6 158.1 280.4 161.8 281.2 166.7 282.0 177.4 282.8 188.0 283.6 201.5 284.4 215.0 285.2 215.0 286.0 215.0 286.8 215.0 287.6 215.0 288.4 215.0 289.2 215.0 290.0 215.0 290.8 215.0 291.6 215.0 292.4 206.3 293.2 201.7 294.0 188.6 294.8 183.9 295.6 180.6 296.4 178.1 297.2 176.5 298.0 172.9 298.8 171.5 299.6 168.4 300.4 169.3 301.2 169.5 302.0 170.8 302.8 175.8 303.6 176.9 304.4 180.6 305.2 186.9 306.0 191.9 306.8 200.9 307.6 207.5 308.4 215.0 309.2 215.0 310.0 215.0 310.8 215.0 311.6 215.0 312.4 215.0 313.2 215.0 314.0 215.0 314.8 215.0 315.6 215.0 316.4 215.0 317.2 215.0 318.0 215.0 318.8 215.0 319.6 215.0 320.4 215.0 321.2 215.0 322.0 215.0 322.8 215.0 323.6 215.0 324.4 215.0 325.2 215.0 326.0 215.0 326.8 215.0" stroke="#cd5c5c" stroke-width="1.6" fill="none" stroke-linejoin="round"/>
<path d="M40.4 215.0 41.2 215.0 42.0 215.0 42.8 215.0 43.6 215.0 44.4 206.2 45.2 196.2 46.0 191.0 46.8 185.2 47.6 181.3 48.4 178.6 49.2 176.1 50.0 175.2 50.8 174.3 51.6 178.6 52.4 180.6 53.2 184.4 54.0 191.4 54.8 197.2 55.6 205.9 56.4 215.0 57.2 215.0 58.0 215.0 58.8 215.0 59.6 215.0 60.4 215.0 61.2 215.0 62.0 215.0 62.8 215.0 63.6 215.0 64.4 215.0 65.2 215.0 66.0 215.0 66.8 212.2 67.6 198.7 68.4 189.3 69.2 182.7 70.0 178.6 70.8 173.8 71.6 166.1 72.4 165.9 73.2 163.1 74.0 160.7 74.8 157.9 75.6 156.3 76.4 158.2 77.2 157.3 78.0 157.5 78.8 158.1 79.6 161.1 80.4 164.7 81.2 168.4 82.0 172.6 82.8 174.7 83.6 184.3 84.4 190.8 85.2 198.9 86.0 208.3 86.8 215.0 87.6 215.0 88.4 215.0 89.2 215.0 90.0 215.0 90.8 215.0 91.6 215.0 92.4 215.0 93.2 215.0 94.0 205.9 94.8 193.8 95.6 185.9 96.4 178.0 97.2 172.7 98.0 166.7 98.8 165.5 99.6 162.8 100.4 162.7 101.2 162.1 102.0 165.2 102.8 166.6 103.6 168.0 104.4 176.1 105.2 182.9 106.0 187.9 106.8 201.3 107.6 215.0 108.4 215.0 109.2 215.0 110.0 215.0 110.8 215.0 111.6 215.0 112.4 215.0 113.2 215.0 114.0 213.9 114.8 201.3 115.6 193.8 116.4 188.7 117.2 184.4 118.0 180.1 118.8 178.7 119.6 180.7 120.4 187.0 121.2 190.5 122.0 197.9 122.8 206.4 123.6 215.0 124.4 215.0 125.2 215.0 126.0 215.0 126.8 215.0 127.6 215.0 128.4 215.0 129.2 215.0 130.0 215.0 130.8 215.0 131.6 215.0 132.4 203.7 133.2 196.7 134.0 193.5 134.8 186.2 135.6 183.5 136.4 177.0 137.2 173.8 138.0 173.7 138.8 170.0 139.6 172.5 140.4 171.7 141.2 171.7 142.0 173.9 142.8 172.3 143.6 177.4 144.4 181.8 145.2 186.8 146.0 192.6 146.8 196.7 147.6 206.7 148.4 215.0 149.2 215.0 150.0 215.0 150.8 215.0 151.6 215.0 152.4 215.0 153.2 215.0 154.0 215.0 154.8 209.8 155.6 199.3 156.4 188.4 157.2 176.3 158.0 174.7 158.8 168.3 159.6 160.1 160.4 154.0 161.2 147.7 162.0 139.7 162.8 136.9 163.6 131.4 164.4 125.9 165.2 123.2 166.0 119.8 166.8 114.6 167.6 103.3 168.4 93.7 169.2 85.3 170.0 79.7 170.8 75.3 171.6 72.1 172.4 69.9 173.2 69.0 174.0 69.2 174.8 69.9 175.6 71.2 176.4 73.1 177.2 75.6 178.0 78.7 178.8 78.3 179.6 77.0 180.4 69.6 181.2 60.3 182.0 52.8 182.8 46.9 183.6 42.4 184.4 39.3 185.2 37.3 186.0 36.6 186.8 36.9 187.6 37.8 188.4 39.5 189.2 41.8 190.0 45.0 190.8 48.9 191.6 53.7 192.4 59.4 193.2 62.3 194.0 62.2 194.8 62.0 195.6 62.0 196.4 62.3 197.2 63.5 198.0 65.5 198.8 68.5 199.6 72.4 200.4 77.4 201.2 83.3 202.0 90.4 202.8 99.8 203.6 110.0 204.4 123.3 205.2 138.1 206.0 160.6 206.8 184.1 207.6 215.0 208.4 215.0 209.2 215.0 210.0 215.0 210.8 215.0 211.6 215.0 212.4 215.0 213.2 215.0 214.0 215.0 214.8 215.0 215.6 215.0 216.4 215.0 217.2 215.0 218.0 215.0 218.8 215.0 219.6 215.0 220.4 215.0 221.2 203.0 222.0 190.5 222.8 181.7 223.6 172.8 224.4 170.0 225.2 162.2 226.0 159.0 226.8 157.0 227.6 151.3 228.4 151.8 229.2 147.4 230.0 148.6 230.8 150.7 231.6 149.5 232.4 152.0 233.2 156.6 234.0 161.2 234.8 164.5 235.6 168.9 236.4 176.8 237.2 182.3 238.0 192.9 238.8 196.8 239.6 213.5 240.4 215.0 241.2 215.0 242.0 215.0 242.8 215.0 243.6 215.0 244.4 215.0 245.2 215.0 246.0 215.0 246.8 215.0 247.6 215.0 248.4 215.0 249.2 215.0 250.0 215.0 250.8 215.0 251.6 215.0 252.4 215.0 253.2 215.0 254.0 215.0 254.8 215.0 255.6 215.0 256.4 215.0 257.2 215.0 258.0 215.0 258.8 215.0 259.6 215.0 260.4 215.0 261.2 215.0 262.0 215.0 262.8 209.2 263.6 201.6 264.4 194.9 265.2 187.1 266.0 183.6 266.8 181.3 267.6 177.4 268.4 179.3 269.2 175.5 270.0 175.6 270.8 174.5 271.6 175.8 272.4 175.6 273.2 180.3 274.0 184.3 274.8 189.5 275.6 191.7 276.4 198.7 277.2 207.4 278.0 215.0 278.8 215.0 279.6 215.0 280.4 215.0 281.2 215.0 282.0 215.0 282.8 215.0 283.6 215.0 284.4 215.0 285.2 215.0 286.0 215.0 286.8 215.0 287.6 215.0 288.4 215.0 289.2 215.0 290.0 215.0 290.8 215.0 291.6 215.0 292.4 215.0 293.2 215.0 294.0 215.0 294.8 215.0 295.6 215.0 296.4 215.0 297.2 215.0 298.0 215.0 298.8 215.0 299.6 215.0 300.4 215.0 301.2 215.0 302.0 215.0 302.8 215.0 303.6 215.0 304.4 215.0 305.2 215.0 306.0 215.0 306.8 215.0 307.6 215.0 308.4 215.0 309.2 205.6 310.0 199.8 310.8 196.7 311.6 189.6 312.4 187.2 313.2 180.8 314.0 181.3 314.8 179.9 315.6 177.2 316.4 174.7 317.2 173.8 318.0 176.0 318.8 171.7 319.6 175.3 320.4 176.6 321.2 175.9 322.0 179.3 322.8 182.3 323.6 184.9 324.4 188.3 325.2 190.5 326.0 196.2 326.8 202.1" stroke="#6fc41a" stroke-width="1.6" fill="none" stroke-linejoin="round"/>
<path d="M40.4 210.1 41.2 201.3 42.0 190.1 42.8 184.0 43.6 182.6 44.4 179.2 45.2 180.9 46.0 181.8 46.8 185.3 47.6 192.1 48.4 199.7 49.2 207.4 50.0 215.0 50.8 215.0 51.6 215.0 52.4 215.0 53.2 215.0 54.0 215.0 54.8 215.0 55.6 215.0 56.4 215.0 57.2 215.0 58.0 215.0 58.8 215.0 59.6 215.0 60.4 215.0 61.2 215.0 62.0 215.0 62.8 215.0 63.6 215.0 64.4 215.0 65.2 215.0 66.0 215.0 66.8 215.0 67.6 215.0 68.4 215.0 69.2 215.0 70.0 215.0 70.8 215.0 71.6 215.0 72.4 215.0 73.2 215.0 74.0 215.0 74.8 215.0 75.6 215.0 76.4 215.0 77.2 215.0 78.0 215.0 78.8 215.0 79.6 215.0 80.4 215.0 81.2 215.0 82.0 215.0 82.8 215.0 83.6 215.0 84.4 215.0 85.2 215.0 86.0 213.3 86.8 204.7 87.6 194.9 88.4 191.9 89.2 186.4 90.0 183.5 90.8 174.8 91.6 174.1 92.4 172.1 93.2 166.8 94.0 164.8 94.8 165.1 95.6 163.4 96.4 163.0 97.2 162.5 98.0 163.2 98.8 163.7 99.6 169.7 100.4 170.4 101.2 178.5 102.0 183.8 102.8 193.1 103.6 186.9 104.4 180.4 105.2 178.9 106.0 177.2 106.8 174.1 107.6 172.9 108.4 171.5 109.2 169.7 110.0 168.5 110.8 167.8 111.6 166.1 112.4 166.8 113.2 163.4 114.0 164.3 114.8 165.9 115.6 165.7 116.4 167.7 117.2 167.0 118.0 169.2 118.8 171.5 119.6 175.0 120.4 174.0 121.2 176.2 122.0 183.6 122.8 176.7 123.6 175.6 124.4 172.1 125.2 167.1 126.0 165.8 126.8 168.1 127.6 159.5 128.4 154.6 129.2 146.0 130.0 139.9 130.8 134.1 131.6 132.1 132.4 128.4 133.2 127.3 134.0 128.5 134.8 127.7 135.6 128.3 136.4 129.9 137.2 131.3 138.0 134.6 138.8 139.1 139.6 145.7 140.4 146.5 141.2 154.8 142.0 161.0 142.8 170.6 143.6 173.9 144.4 176.3 145.2 176.9 146.0 174.8 146.8 176.4 147.6 176.2 148.4 177.7 149.2 180.0 150.0 180.0 150.8 181.9 151.6 181.8 152.4 179.5 153.2 183.2 154.0 182.8 154.8 184.4 155.6 187.4 156.4 188.9 157.2 188.8 158.0 188.7 158.8 192.3 159.6 194.2 160.4 194.9 161.2 194.7 162.0 198.3 162.8 199.7 163.6 200.1 164.4 201.4 165.2 205.7 166.0 206.1 166.8 205.8 167.6 208.2 168.4 191.0 169.2 167.9 170.0 143.4 170.8 130.1 171.6 119.2 172.4 111.9 173.2 105.9 174.0 102.4 174.8 100.4 175.6 99.7 176.4 100.7 177.2 101.8 178.0 102.8 178.8 107.0 179.6 109.7 180.4 111.4 181.2 116.0 182.0 119.0 182.8 125.4 183.6 131.8 184.4 137.1 185.2 145.1 186.0 157.7 186.8 167.3 187.6 178.4 188.4 195.3 189.2 214.7 190.0 177.7 190.8 145.8 191.6 123.1 192.4 105.7 193.2 91.5 194.0 80.0 194.8 70.2 195.6 61.8 196.4 54.7 197.2 48.7 198.0 43.7 198.8 39.6 199.6 36.4 200.4 33.9 201.2 32.2 202.0 31.2 202.8 30.9 203.6 31.4 204.4 32.8 205.2 35.1 206.0 38.3 206.8 42.5 207.6 47.8 208.4 54.2 209.2 61.9 210.0 71.1 210.8 82.4 211.6 95.5 212.4 111.8 213.2 133.9 214.0 163.4 214.8 207.6 215.6 215.0 216.4 215.0 217.2 215.0 218.0 215.0 218.8 215.0 219.6 215.0 220.4 215.0 221.2 215.0 222.0 204.4 222.8 197.2 223.6 191.6 224.4 183.3 225.2 179.5 226.0 175.0 226.8 169.5 227.6 166.3 228.4 165.6 229.2 168.4 230.0 165.9 230.8 164.4 231.6 165.6 232.4 167.1 233.2 174.4 234.0 175.8 234.8 177.8 235.6 185.8 236.4 190.6 237.2 198.3 238.0 208.4 238.8 215.0 239.6 215.0 240.4 215.0 241.2 215.0 242.0 215.0 242.8 215.0 243.6 215.0 244.4 215.0 245.2 215.0 246.0 215.0 246.8 215.0 247.6 213.5 248.4 205.8 249.2 202.3 250.0 195.8 250.8 188.7 251.6 184.1 252.4 184.0 253.2 180.1 254.0 178.0 254.8 180.6 255.6 178.1 256.4 180.5 257.2 181.7 258.0 185.8 258.8 189.1 259.6 193.4 260.4 197.4 261.2 203.1 262.0 211.2 262.8 215.0 263.6 215.0 264.4 215.0 265.2 215.0 266.0 215.0 266.8 215.0 267.6 215.0 268.4 215.0 269.2 215.0 270.0 215.0 270.8 215.0 271.6 215.0 272.4 215.0 273.2 215.0 274.0 215.0 274.8 215.0 275.6 203.6 276.4 197.4 277.2 187.1 278.0 177.9 278.8 174.6 279.6 167.3 280.4 159.7 281.2 155.9 282.0 154.5 282.8 149.8 283.6 145.7 284.4 146.9 285.2 141.4 286.0 142.0 286.8 139.2 287.6 141.4 288.4 138.8 289.2 140.8 290.0 143.3 290.8 143.2 291.6 145.3 292.4 146.3 293.2 149.9 294.0 149.1 294.8 155.4 295.6 159.9 296.4 162.5 297.2 168.6 298.0 172.9 298.8 181.7 299.6 186.7 300.4 194.4 301.2 204.7 302.0 215.0 302.8 215.0 303.6 215.0 304.4 215.0 305.2 215.0 306.0 215.0 306.8 215.0 307.6 215.0 308.4 215.0 309.2 215.0 310.0 215.0 310.8 215.0 311.6 215.0 312.4 215.0 313.2 215.0 314.0 215.0 314.8 215.0 315.6 215.0 316.4 215.0 317.2 215.0 318.0 215.0 318.8 215.0 319.6 215.0 320.4 215.0 321.2 215.0 322.0 214.9 322.8 207.4 323.6 202.3 324.4 195.9 325.2 193.3 326.0 190.6 326.8 188.5" stroke="#0fa860" stroke-width="1.6" fill="none" stroke-linejoin="round"/>
<path d="M40.4 215.0 41.2 215.0 42.0 95.8 42.8 100.8 43.6 104.7 44.4 108.3 45.2 108.4 46.0 108.0 46.8 108.8 47.6 109.5 48.4 110.2 49.2 110.8 50.0 111.6 50.8 112.6 51.6 113.5 52.4 114.4 53.2 115.3 54.0 116.6 54.8 117.8 55.6 118.6 56.4 119.4 57.2 120.2 58.0 121.0 58.8 121.9 59.6 122.7 60.4 123.5 61.2 124.3 62.0 125.1 62.8 125.9 63.6 126.7 64.4 127.4 65.2 128.3 66.0 129.5 66.8 130.7 67.6 131.9 68.4 133.2 69.2 134.4 70.0 135.9 70.8 137.6 71.6 139.3 72.4 141.6 73.2 144.0 74.0 146.4 74.8 149.4 75.6 152.5 76.4 155.4 77.2 158.3 78.0 161.2 78.8 164.6 79.6 168.9 80.4 172.9 81.2 176.7 82.0 180.8 82.8 187.4 83.6 194.6 84.4 201.3 85.2 215.0 86.0 215.0 86.8 215.0 87.6 215.0 88.4 215.0 89.2 215.0 90.0 215.0 90.8 215.0 91.6 215.0 92.4 215.0 93.2 215.0 94.0 195.9 94.8 181.0 95.6 172.3 96.4 161.0 97.2 157.1 98.0 149.8 98.8 149.4 99.6 143.4 100.4 144.9 101.2 145.8 102.0 144.9 102.8 147.3 103.6 151.5 104.4 154.6 105.2 161.5 106.0 169.1 106.8 181.7 107.6 194.2 108.4 212.3 109.2 215.0 110.0 215.0 110.8 215.0 111.6 215.0 112.4 215.0 113.2 215.0 114.0 215.0 114.8 215.0 115.6 215.0 116.4 215.0 117.2 210.4 118.0 203.2 118.8 198.8 119.6 191.5 120.4 190.6 121.2 181.8 122.0 181.0 122.8 179.2 123.6 176.5 124.4 177.4 125.2 177.5 126.0 183.1 126.8 177.7 127.6 186.6 128.4 192.5 129.2 200.5 130.0 212.0 130.8 215.0 131.6 215.0 132.4 215.0 133.2 215.0 134.0 215.0 134.8 215.0 135.6 215.0 136.4 215.0 137.2 215.0 138.0 215.0 138.8 215.0 139.6 215.0 140.4 215.0 141.2 215.0 142.0 215.0 142.8 215.0 143.6 215.0 144.4 215.0 145.2 215.0 146.0 215.0 146.8 215.0 147.6 211.5 148.4 189.2 149.2 171.0 150.0 155.4 150.8 146.1 151.6 135.7 152.4 127.5 153.2 122.8 154.0 116.2 154.8 113.1 155.6 111.8 156.4 109.1 157.2 110.0 158.0 112.4 158.8 113.3 159.6 119.9 160.4 127.2 161.2 134.8 162.0 145.9 162.8 160.1 163.6 177.5 164.4 198.9 165.2 215.0 166.0 215.0 166.8 215.0 167.6 215.0 168.4 215.0 169.2 215.0 170.0 215.0 170.8 215.0 171.6 215.0 172.4 215.0 173.2 215.0 174.0 215.0 174.8 215.0 175.6 215.0 176.4 215.0 177.2 215.0 178.0 215.0 178.8 215.0 179.6 215.0 180.4 215.0 181.2 215.0 182.0 208.7 182.8 198.0 183.6 191.4 184.4 184.2 185.2 179.2 186.0 172.8 186.8 171.5 187.6 170.1 188.4 166.9 189.2 165.8 190.0 166.8 190.8 167.3 191.6 165.7 192.4 169.5 193.2 170.3 194.0 175.8 194.8 177.7 195.6 183.2 196.4 192.2 197.2 197.1 198.0 210.4 198.8 215.0 199.6 215.0 200.4 215.0 201.2 215.0 202.0 215.0 202.8 215.0 203.6 215.0 204.4 215.0 205.2 193.7 206.0 162.4 206.8 138.9 207.6 118.2 208.4 103.4 209.2 90.7 210.0 80.0 210.8 70.9 211.6 63.2 212.4 56.5 213.2 50.8 214.0 45.8 214.8 41.7 215.6 38.3 216.4 35.5 217.2 33.3 218.0 31.8 218.8 30.9 219.6 30.5 220.4 30.8 221.2 31.7 222.0 33.2 222.8 35.5 223.6 38.4 224.4 42.2 225.2 46.7 226.0 52.1 226.8 58.5 227.6 66.0 228.4 74.6 229.2 85.5 230.0 97.6 230.8 112.6 231.6 123.2 232.4 121.3 233.2 120.4 234.0 118.2 234.8 116.0 235.6 114.7 236.4 115.3 237.2 115.3 238.0 116.2 238.8 114.8 239.6 120.8 240.4 123.3 241.2 130.3 242.0 139.3 242.8 146.2 243.6 157.6 244.4 175.6 245.2 194.7 246.0 215.0 246.8 215.0 247.6 215.0 248.4 215.0 249.2 215.0 250.0 215.0 250.8 215.0 251.6 215.0 252.4 215.0 253.2 215.0 254.0 215.0 254.8 215.0 255.6 215.0 256.4 215.0 257.2 215.0 258.0 215.0 258.8 215.0 259.6 215.0 260.4 215.0 261.2 215.0 262.0 215.0 262.8 215.0 263.6 206.3 264.4 190.6 265.2 183.4 266.0 175.4 266.8 166.7 267.6 163.4 268.4 156.9 269.2 153.3 270.0 155.0 270.8 151.2 271.6 147.9 272.4 150.5 273.2 153.1 274.0 149.3 274.8 149.5 275.6 152.9 276.4 154.0 277.2 156.5 278.0 157.5 278.8 163.4 279.6 163.5 280.4 166.6 281.2 170.2 282.0 174.5 282.8 176.4 283.6 178.3 284.4 179.8 285.2 186.8 286.0 191.5 286.8 198.7 287.6 207.5 288.4 215.0 289.2 215.0 290.0 174.8 290.8 174.4 291.6 174.0 292.4 173.6 293.2 173.2 294.0 172.8 294.8 172.6 295.6 172.3 296.4 172.1 297.2 171.9 298.0 171.6 298.8 171.4 299.6 171.1 300.4 171.1 301.2 171.2 302.0 171.4 302.8 171.6 303.6 171.7 304.4 171.9 305.2 172.1 306.0 172.3 306.8 172.5 307.6 172.7 308.4 173.0 309.2 173.2 310.0 173.4 310.8 173.7 311.6 173.9 312.4 175.4 313.2 176.9 314.0 178.3 314.8 179.8 315.6 181.3 316.4 182.8 317.2 184.2 318.0 183.8 318.8 182.3 319.6 180.7 320.4 179.2 321.2 177.7 322.0 176.4 322.8 175.1 323.6 173.8 324.4 172.5 325.2 171.2 326.0 169.8 326.8 168.4" stroke="#3c6e28" stroke-width="1.6" fill="none" stroke-linejoin="round"/>
<path d="M40.4 215.0 41.2 215.0 42.0 136.7 42.8 141.1 43.6 145.4 44.4 148.6 45.2 151.9 46.0 153.0 46.8 150.6 47.6 153.6 48.4 158.3 49.2 162.5 50.0 164.9 50.8 167.4 51.6 169.2 52.4 170.8 53.2 172.6 54.0 175.0 54.8 177.4 55.6 179.6 56.4 181.8 57.2 184.5 58.0 189.1 58.8 194.7 59.6 215.0 60.4 215.0 61.2 215.0 62.0 215.0 62.8 215.0 63.6 215.0 64.4 215.0 65.2 215.0 66.0 215.0 66.8 215.0 67.6 215.0 68.4 215.0 69.2 215.0 70.0 215.0 70.8 215.0 71.6 215.0 72.4 215.0 73.2 215.0 74.0 215.0 74.8 215.0 75.6 215.0 76.4 215.0 77.2 215.0 78.0 215.0 78.8 215.0 79.6 215.0 80.4 215.0 81.2 215.0 82.0 215.0 82.8 215.0 83.6 215.0 84.4 215.0 85.2 215.0 86.0 215.0 86.8 215.0 87.6 215.0 88.4 215.0 89.2 215.0 90.0 215.0 90.8 215.0 91.6 215.0 92.4 215.0 93.2 215.0 94.0 215.0 94.8 215.0 95.6 215.0 96.4 215.0 97.2 215.0 98.0 215.0 98.8 215.0 99.6 215.0 100.4 215.0 101.2 215.0 102.0 215.0 102.8 208.0 103.6 199.4 104.4 193.2 105.2 190.1 106.0 185.0 106.8 179.7 107.6 176.7 108.4 175.8 109.2 172.4 110.0 176.1 110.8 174.2 111.6 175.3 112.4 177.5 113.2 180.1 114.0 185.2 114.8 188.1 115.6 191.3 116.4 201.4 117.2 207.4 118.0 215.0 118.8 215.0 119.6 215.0 120.4 215.0 121.2 202.6 122.0 192.7 122.8 185.5 123.6 176.9 124.4 167.5 125.2 161.7 126.0 155.4 126.8 156.2 127.6 154.2 128.4 152.1 129.2 149.1 130.0 149.6 130.8 149.5 131.6 154.1 132.4 153.8 133.2 156.3 134.0 160.3 134.8 163.7 135.6 169.7 136.4 176.3 137.2 182.2 138.0 191.3 138.8 202.4 139.6 215.0 140.4 215.0 141.2 215.0 142.0 215.0 142.8 215.0 143.6 215.0 144.4 215.0 145.2 215.0 146.0 215.0 146.8 215.0 147.6 215.0 148.4 215.0 149.2 215.0 150.0 215.0 150.8 215.0 151.6 215.0 152.4 215.0 153.2 215.0 154.0 215.0 154.8 197.5 155.6 176.3 156.4 157.1 157.2 148.0 158.0 140.7 158.8 139.1 159.6 136.6 160.4 138.1 161.2 144.0 162.0 151.9 162.8 158.4 163.6 176.4 164.4 201.1 165.2 215.0 166.0 215.0 166.8 215.0 167.6 215.0 168.4 201.3 169.2 185.1 170.0 177.7 170.8 179.3 171.6 174.7 172.4 185.3 173.2 201.5 174.0 215.0 174.8 215.0 175.6 215.0 176.4 215.0 177.2 215.0 178.0 215.0 178.8 215.0 179.6 215.0 180.4 215.0 181.2 204.4 182.0 191.8 182.8 181.3 183.6 177.5 184.4 168.9 185.2 164.3 186.0 160.5 186.8 156.9 187.6 154.8 188.4 150.5 189.2 150.3 190.0 152.0 190.8 149.2 191.6 150.9 192.4 152.6 193.2 156.8 194.0 159.0 194.8 162.5 195.6 172.1 196.4 175.0 197.2 183.6 198.0 192.9 198.8 203.5 199.6 215.0 200.4 215.0 201.2 215.0 202.0 215.0 202.8 215.0 203.6 215.0 204.4 215.0 205.2 215.0 206.0 215.0 206.8 215.0 207.6 215.0 208.4 215.0 209.2 215.0 210.0 215.0 210.8 215.0 211.6 215.0 212.4 215.0 213.2 215.0 214.0 215.0 214.8 215.0 215.6 215.0 216.4 198.6 217.2 171.1 218.0 150.3 218.8 132.2 219.6 119.9 220.4 107.1 221.2 97.5 222.0 88.3 222.8 80.6 223.6 73.5 224.4 67.4 225.2 61.9 226.0 57.0 226.8 52.6 227.6 48.8 228.4 45.4 229.2 42.4 230.0 39.9 230.8 37.7 231.6 35.9 232.4 34.5 233.2 33.5 234.0 32.8 234.8 32.4 235.6 32.4 236.4 32.8 237.2 33.5 238.0 34.5 238.8 35.9 239.6 37.7 240.4 39.9 241.2 42.4 242.0 45.4 242.8 48.8 243.6 52.6 244.4 57.0 245.2 61.9 246.0 67.4 246.8 73.5 247.6 80.4 248.4 88.2 249.2 96.7 250.0 107.2 250.8 117.3 251.6 132.4 252.4 148.2 253.2 172.2 254.0 199.1 254.8 215.0 255.6 215.0 256.4 215.0 257.2 215.0 258.0 215.0 258.8 215.0 259.6 215.0 260.4 215.0 261.2 215.0 262.0 215.0 262.8 215.0 263.6 215.0 264.4 215.0 265.2 215.0 266.0 215.0 266.8 215.0 267.6 201.9 268.4 197.3 269.2 187.7 270.0 185.5 270.8 180.0 271.6 176.3 272.4 175.8 273.2 171.8 274.0 171.3 274.8 172.4 275.6 169.5 276.4 170.1 277.2 173.5 278.0 176.6 278.8 177.0 279.6 183.9 280.4 186.1 281.2 193.5 282.0 200.1 282.8 207.1 283.6 215.0 284.4 215.0 285.2 215.0 286.0 215.0 286.8 215.0 287.6 215.0 288.4 215.0 289.2 215.0 290.0 215.0 290.8 215.0 291.6 215.0 292.4 215.0 293.2 215.0 294.0 215.0 294.8 215.0 295.6 215.0 296.4 215.0 297.2 215.0 298.0 215.0 298.8 215.0 299.6 215.0 300.4 173.7 301.2 172.3 302.0 170.9 302.8 169.3 303.6 167.5 304.4 165.7 305.2 163.9 306.0 162.6 306.8 161.8 307.6 160.9 308.4 160.1 309.2 159.8 310.0 159.5 310.8 159.3 311.6 159.0 312.4 159.3 313.2 159.6 314.0 159.8 314.8 160.1 315.6 160.4 316.4 160.6 317.2 160.9 318.0 160.6 318.8 159.9 319.6 159.2 320.4 158.5 321.2 157.9 322.0 157.3 322.8 156.8 323.6 156.2 324.4 155.7 325.2 155.1 326.0 154.6 326.8 154.1" stroke="#6b93e8" stroke-width="1.6" fill="none" stroke-linejoin="round"/>
<path d="M40.4 215.0 41.2 215.0 42.0 127.7 42.8 133.0 43.6 137.7 44.4 144.0 45.2 152.0 46.0 158.9 46.8 165.2 47.6 167.3 48.4 169.4 49.2 171.4 50.0 172.9 50.8 174.4 51.6 175.1 52.4 174.2 53.2 173.3 54.0 173.3 54.8 173.7 55.6 174.2 56.4 174.1 57.2 173.8 58.0 173.5 58.8 173.3 59.6 174.1 60.4 174.9 61.2 175.0 62.0 173.8 62.8 172.6 63.6 172.7 64.4 173.0 65.2 173.5 66.0 174.4 66.8 175.3 67.6 176.0 68.4 176.7 69.2 177.8 70.0 178.8 70.8 179.9 71.6 181.0 72.4 182.0 73.2 183.1 74.0 184.1 74.8 185.2 75.6 187.0 76.4 189.3 77.2 191.5 78.0 194.2 78.8 199.6 79.6 215.0 80.4 215.0 81.2 215.0 82.0 215.0 82.8 215.0 83.6 215.0 84.4 215.0 85.2 215.0 86.0 215.0 86.8 215.0 87.6 215.0 88.4 215.0 89.2 215.0 90.0 215.0 90.8 215.0 91.6 206.7 92.4 194.4 93.2 184.5 94.0 177.3 94.8 167.3 95.6 163.2 96.4 157.1 97.2 150.5 98.0 147.5 98.8 144.9 99.6 142.8 100.4 140.4 101.2 138.6 102.0 137.7 102.8 137.2 103.6 138.3 104.4 138.7 105.2 139.1 106.0 141.0 106.8 143.8 107.6 147.9 108.4 148.7 109.2 155.1 110.0 160.0 110.8 165.5 111.6 173.1 112.4 183.6 113.2 188.3 114.0 202.0 114.8 212.9 115.6 215.0 116.4 215.0 117.2 215.0 118.0 215.0 118.8 215.0 119.6 215.0 120.4 215.0 121.2 215.0 122.0 215.0 122.8 215.0 123.6 215.0 124.4 215.0 125.2 215.0 126.0 215.0 126.8 209.9 127.6 200.2 128.4 190.1 129.2 183.1 130.0 176.2 130.8 172.1 131.6 171.4 132.4 165.6 133.2 169.9 134.0 168.7 134.8 169.0 135.6 166.4 136.4 171.4 137.2 171.9 138.0 173.3 138.8 176.6 139.6 177.8 140.4 183.0 141.2 186.5 142.0 191.7 142.8 196.6 143.6 206.6 144.4 211.0 145.2 215.0 146.0 215.0 146.8 215.0 147.6 215.0 148.4 215.0 149.2 215.0 150.0 215.0 150.8 215.0 151.6 215.0 152.4 215.0 153.2 215.0 154.0 215.0 154.8 215.0 155.6 213.6 156.4 193.1 157.2 177.5 158.0 164.1 158.8 157.4 159.6 148.7 160.4 140.8 161.2 137.1 162.0 135.7 162.8 130.2 163.6 131.0 164.4 129.5 165.2 131.0 166.0 132.1 166.8 136.0 167.6 143.4 168.4 141.9 169.2 149.2 170.0 155.7 170.8 165.2 171.6 175.2 172.4 184.2 173.2 194.9 174.0 212.5 174.8 215.0 175.6 215.0 176.4 215.0 177.2 215.0 178.0 215.0 178.8 204.7 179.6 188.4 180.4 172.8 181.2 160.8 182.0 152.3 182.8 146.3 183.6 136.7 184.4 131.5 185.2 124.7 186.0 118.3 186.8 118.0 187.6 112.4 188.4 109.2 189.2 106.3 190.0 106.0 190.8 105.1 191.6 104.1 192.4 104.3 193.2 104.1 194.0 104.7 194.8 104.8 195.6 107.3 196.4 109.8 197.2 111.7 198.0 114.0 198.8 116.2 199.6 121.0 200.4 126.6 201.2 129.2 202.0 133.6 202.8 140.8 203.6 145.2 204.4 149.0 205.2 161.4 206.0 168.5 206.8 179.5 207.6 178.5 208.4 173.6 209.2 173.2 210.0 166.6 210.8 160.1 211.6 156.3 212.4 155.5 213.2 151.1 214.0 149.5 214.8 145.4 215.6 141.3 216.4 138.8 217.2 137.2 218.0 133.9 218.8 133.6 219.6 129.4 220.4 127.5 221.2 126.5 222.0 125.6 222.8 123.9 223.6 123.2 224.4 120.6 225.2 119.8 226.0 116.9 226.8 116.3 227.6 116.6 228.4 115.4 229.2 116.0 230.0 115.0 230.8 114.5 231.6 112.8 232.4 114.8 233.2 112.8 234.0 112.2 234.8 112.3 235.6 113.2 236.4 113.4 237.2 113.7 238.0 113.4 238.8 114.2 239.6 112.9 240.4 113.0 241.2 108.9 242.0 99.9 242.8 92.0 243.6 85.1 244.4 79.5 245.2 74.3 246.0 69.7 246.8 65.9 247.6 62.6 248.4 60.0 249.2 57.9 250.0 56.4 250.8 55.4 251.6 54.9 252.4 54.8 253.2 55.2 254.0 55.8 254.8 56.8 255.6 58.1 256.4 59.8 257.2 61.8 258.0 64.2 258.8 67.0 259.6 70.1 260.4 73.7 261.2 77.5 262.0 82.6 262.8 87.0 263.6 92.7 264.4 99.1 265.2 107.0 266.0 115.0 266.8 123.0 267.6 126.0 268.4 129.9 269.2 127.5 270.0 130.5 270.8 132.0 271.6 125.9 272.4 121.2 273.2 119.5 274.0 119.7 274.8 118.2 275.6 117.2 276.4 119.6 277.2 120.1 278.0 122.6 278.8 124.6 279.6 126.7 280.4 130.7 281.2 134.6 282.0 141.4 282.8 146.7 283.6 145.1 284.4 148.3 285.2 148.7 286.0 146.3 286.8 151.2 287.6 151.9 288.4 154.4 289.2 153.1 290.0 153.8 290.8 158.2 291.6 160.9 292.4 160.4 293.2 162.1 294.0 161.5 294.8 164.6 295.6 165.6 296.4 170.0 297.2 169.2 298.0 170.2 298.8 174.2 299.6 174.0 300.4 178.9 301.2 178.3 302.0 183.3 302.8 184.0 303.6 185.5 304.4 187.5 305.2 191.7 306.0 194.1 306.8 193.7 307.6 197.6 308.4 203.4 309.2 203.3 310.0 208.8 310.8 213.6 311.6 213.3 312.4 215.0 313.2 215.0 314.0 215.0 314.8 215.0 315.6 215.0 316.4 215.0 317.2 215.0 318.0 215.0 318.8 215.0 319.6 215.0 320.4 215.0 321.2 215.0 322.0 215.0 322.8 215.0 323.6 215.0 324.4 215.0 325.2 215.0 326.0 215.0 326.8 215.0" stroke="#2a5592" stroke-width="1.6" fill="none" stroke-linejoin="round"/>
<path d="M40.4 215.0 41.2 215.0 42.0 161.3 42.8 165.9 43.6 169.8 44.4 173.5 45.2 176.4 46.0 179.2 46.8 182.0 47.6 184.8 48.4 187.6 49.2 190.8 50.0 194.0 50.8 198.3 51.6 215.0 52.4 215.0 53.2 215.0 54.0 215.0 54.8 215.0 55.6 215.0 56.4 215.0 57.2 215.0 58.0 215.0 58.8 215.0 59.6 215.0 60.4 215.0 61.2 215.0 62.0 215.0 62.8 215.0 63.6 215.0 64.4 215.0 65.2 215.0 66.0 215.0 66.8 215.0 67.6 215.0 68.4 215.0 69.2 215.0 70.0 215.0 70.8 214.4 71.6 212.6 72.4 206.8 73.2 207.0 74.0 205.5 74.8 204.0 75.6 201.9 76.4 202.8 77.2 205.9 78.0 204.4 78.8 209.0 79.6 212.3 80.4 214.9 81.2 215.0 82.0 215.0 82.8 215.0 83.6 215.0 84.4 215.0 85.2 215.0 86.0 215.0 86.8 215.0 87.6 215.0 88.4 215.0 89.2 215.0 90.0 215.0 90.8 215.0 91.6 212.1 92.4 193.2 93.2 180.2 94.0 169.5 94.8 159.5 95.6 155.8 96.4 151.0 97.2 148.8 98.0 148.1 98.8 148.8 99.6 146.5 100.4 148.4 101.2 155.0 102.0 157.9 102.8 165.1 103.6 173.0 104.4 185.2 105.2 202.1 106.0 215.0 106.8 215.0 107.6 215.0 108.4 215.0 109.2 215.0 110.0 215.0 110.8 215.0 111.6 215.0 112.4 215.0 113.2 215.0 114.0 215.0 114.8 215.0 115.6 215.0 116.4 215.0 117.2 215.0 118.0 215.0 118.8 215.0 119.6 215.0 120.4 215.0 121.2 215.0 122.0 215.0 122.8 215.0 123.6 215.0 124.4 215.0 125.2 210.0 126.0 197.0 126.8 184.8 127.6 176.6 128.4 169.2 129.2 160.1 130.0 154.1 130.8 148.7 131.6 141.7 132.4 141.4 133.2 139.5 134.0 139.7 134.8 137.4 135.6 135.1 136.4 135.7 137.2 137.1 138.0 138.6 138.8 141.7 139.6 142.1 140.4 141.6 141.2 145.6 142.0 147.2 142.8 149.4 143.6 155.1 144.4 156.6 145.2 162.3 146.0 166.2 146.8 171.4 147.6 178.0 148.4 184.9 149.2 192.0 150.0 198.6 150.8 211.9 151.6 215.0 152.4 215.0 153.2 215.0 154.0 215.0 154.8 215.0 155.6 215.0 156.4 215.0 157.2 210.8 158.0 186.5 158.8 167.4 159.6 152.0 160.4 143.6 161.2 134.3 162.0 123.7 162.8 120.5 163.6 116.7 164.4 114.2 165.2 110.6 166.0 109.9 166.8 110.7 167.6 112.8 168.4 113.8 169.2 116.5 170.0 120.9 170.8 125.2 171.6 129.1 172.4 135.6 173.2 141.7 174.0 151.2 174.8 161.7 175.6 173.8 176.4 187.2 177.2 200.4 178.0 189.7 178.8 175.8 179.6 168.8 180.4 157.6 181.2 155.4 182.0 151.7 182.8 145.4 183.6 145.2 184.4 141.4 185.2 144.8 186.0 144.8 186.8 151.0 187.6 148.9 188.4 152.6 189.2 156.5 190.0 160.0 190.8 164.3 191.6 170.3 192.4 175.4 193.2 180.1 194.0 188.0 194.8 179.4 195.6 178.7 196.4 174.9 197.2 170.3 198.0 170.9 198.8 170.3 199.6 168.8 200.4 171.1 201.2 173.1 202.0 173.0 202.8 177.5 203.6 180.6 204.4 182.5 205.2 187.6 206.0 190.0 206.8 195.4 207.6 202.9 208.4 208.9 209.2 213.9 210.0 215.0 210.8 215.0 211.6 215.0 212.4 215.0 213.2 215.0 214.0 215.0 214.8 215.0 215.6 215.0 216.4 215.0 217.2 215.0 218.0 215.0 218.8 215.0 219.6 215.0 220.4 215.0 221.2 215.0 222.0 215.0 222.8 209.6 223.6 199.0 224.4 193.3 225.2 189.8 226.0 183.1 226.8 181.7 227.6 176.9 228.4 177.2 229.2 173.2 230.0 176.7 230.8 173.3 231.6 177.5 232.4 176.9 233.2 180.4 234.0 182.8 234.8 192.4 235.6 191.8 236.4 199.8 237.2 210.4 238.0 215.0 238.8 215.0 239.6 215.0 240.4 215.0 241.2 215.0 242.0 215.0 242.8 215.0 243.6 215.0 244.4 215.0 245.2 215.0 246.0 215.0 246.8 215.0 247.6 215.0 248.4 215.0 249.2 191.4 250.0 168.5 250.8 151.7 251.6 142.9 252.4 127.7 253.2 118.9 254.0 109.8 254.8 102.6 255.6 95.9 256.4 89.1 257.2 84.0 258.0 79.3 258.8 74.9 259.6 70.8 260.4 67.3 261.2 64.2 262.0 61.6 262.8 59.3 263.6 57.3 264.4 55.7 265.2 54.4 266.0 53.5 266.8 52.9 267.6 52.5 268.4 52.8 269.2 53.5 270.0 54.2 270.8 54.9 271.6 55.6 272.4 56.8 273.2 58.4 274.0 60.0 274.8 64.8 275.6 69.6 276.4 74.4 277.2 79.5 278.0 85.4 278.8 91.4 279.6 97.4 280.4 102.8 281.2 107.9 282.0 113.0 282.8 118.2 283.6 123.4 284.4 130.8 285.2 139.7 286.0 149.2 286.8 159.0 287.6 164.2 288.4 169.4 289.2 174.7 290.0 179.6 290.8 182.7 291.6 185.9 292.4 185.4 293.2 183.7 294.0 182.0 294.8 180.5 295.6 179.0 296.4 177.8 297.2 176.6 298.0 175.4 298.8 174.2 299.6 173.0 300.4 171.2 301.2 169.2 302.0 167.2 302.8 165.3 303.6 163.5 304.4 161.7 305.2 159.9 306.0 158.4 306.8 157.3 307.6 156.2 308.4 155.1 309.2 154.6 310.0 154.1 310.8 153.6 311.6 153.1 312.4 153.7 313.2 154.4 314.0 155.0 314.8 156.3 315.6 157.6 316.4 158.8 317.2 160.7 318.0 162.6 318.8 164.5 319.6 166.4 320.4 168.3 321.2 170.2 322.0 170.9 322.8 171.0 323.6 171.0 324.4 170.8 325.2 170.5 326.0 170.2 326.8 170.0" stroke="#d9730d" stroke-width="1.6" fill="none" stroke-linejoin="round"/>
<path d="M40.4 185.6 41.2 181.6 42.0 182.3 42.8 180.6 43.6 185.9 44.4 187.0 45.2 179.0 46.0 169.8 46.8 167.9 47.6 163.9 48.4 169.0 49.2 174.0 50.0 177.8 50.8 192.2 51.6 209.6 52.4 208.1 53.2 205.1 54.0 203.7 54.8 202.2 55.6 199.7 56.4 199.2 57.2 193.7 58.0 189.8 58.8 186.1 59.6 184.8 60.4 183.9 61.2 184.1 62.0 186.5 62.8 187.0 63.6 191.0 64.4 192.6 65.2 189.9 66.0 190.5 66.8 190.0 67.6 190.7 68.4 193.0 69.2 192.2 70.0 191.6 70.8 195.8 71.6 195.6 72.4 198.4 73.2 199.9 74.0 199.5 74.8 203.1 75.6 206.4 76.4 211.2 77.2 214.3 78.0 215.0 78.8 215.0 79.6 215.0 80.4 215.0 81.2 215.0 82.0 215.0 82.8 215.0 83.6 215.0 84.4 215.0 85.2 215.0 86.0 215.0 86.8 215.0 87.6 215.0 88.4 215.0 89.2 215.0 90.0 215.0 90.8 213.5 91.6 207.1 92.4 200.4 93.2 196.4 94.0 192.4 94.8 184.7 95.6 182.7 96.4 178.7 97.2 175.9 98.0 171.7 98.8 172.2 99.6 168.6 100.4 168.9 101.2 169.3 102.0 167.6 102.8 168.7 103.6 168.0 104.4 169.1 105.2 170.8 106.0 171.5 106.8 171.5 107.6 170.0 108.4 169.5 109.2 169.9 110.0 167.6 110.8 168.0 111.6 167.3 112.4 169.7 113.2 167.9 114.0 163.4 114.8 156.6 115.6 156.8 116.4 152.1 117.2 148.8 118.0 144.7 118.8 150.1 119.6 146.4 120.4 146.5 121.2 145.4 122.0 143.8 122.8 145.5 123.6 149.1 124.4 148.1 125.2 151.1 126.0 151.3 126.8 155.1 127.6 160.5 128.4 161.5 129.2 163.0 130.0 166.5 130.8 173.3 131.6 174.8 132.4 177.8 133.2 186.3 134.0 186.6 134.8 185.5 135.6 187.9 136.4 188.5 137.2 193.0 138.0 193.1 138.8 192.4 139.6 190.5 140.4 185.6 141.2 186.9 142.0 180.7 142.8 182.9 143.6 182.3 144.4 178.7 145.2 177.8 146.0 174.5 146.8 174.8 147.6 172.9 148.4 170.8 149.2 169.4 150.0 169.8 150.8 165.1 151.6 158.4 152.4 153.6 153.2 149.0 154.0 146.1 154.8 146.6 155.6 147.0 156.4 144.8 157.2 148.2 158.0 149.9 158.8 153.9 159.6 155.6 160.4 158.1 161.2 161.6 162.0 155.4 162.8 158.0 163.6 156.7 164.4 157.6 165.2 157.9 166.0 156.1 166.8 159.2 167.6 161.4 168.4 166.7 169.2 169.7 170.0 174.8 170.8 182.3 171.6 190.0 172.4 200.2 173.2 215.0 174.0 215.0 174.8 215.0 175.6 215.0 176.4 215.0 177.2 215.0 178.0 207.9 178.8 193.8 179.6 181.1 180.4 177.6 181.2 167.7 182.0 162.1 182.8 156.8 183.6 154.8 184.4 153.7 185.2 153.2 186.0 152.1 186.8 157.6 187.6 159.4 188.4 162.4 189.2 169.7 190.0 177.7 190.8 184.5 191.6 196.2 192.4 190.7 193.2 185.2 194.0 181.5 194.8 176.5 195.6 172.0 196.4 172.8 197.2 169.2 198.0 173.0 198.8 172.2 199.6 175.7 200.4 178.6 201.2 188.1 202.0 192.2 202.8 205.6 203.6 215.0 204.4 215.0 205.2 215.0 206.0 215.0 206.8 215.0 207.6 201.7 208.4 182.9 209.2 170.0 210.0 160.4 210.8 150.5 211.6 141.6 212.4 135.6 213.2 131.4 214.0 125.9 214.8 121.1 215.6 116.4 216.4 115.2 217.2 114.1 218.0 113.3 218.8 113.3 219.6 114.3 220.4 115.6 221.2 119.1 222.0 119.6 222.8 123.3 223.6 127.3 224.4 131.8 225.2 136.8 226.0 147.3 226.8 151.1 227.6 160.5 228.4 173.4 229.2 182.8 230.0 200.1 230.8 215.0 231.6 215.0 232.4 215.0 233.2 215.0 234.0 215.0 234.8 215.0 235.6 215.0 236.4 215.0 237.2 215.0 238.0 215.0 238.8 215.0 239.6 215.0 240.4 215.0 241.2 215.0 242.0 215.0 242.8 215.0 243.6 215.0 244.4 215.0 245.2 215.0 246.0 215.0 246.8 215.0 247.6 210.4 248.4 193.5 249.2 181.3 250.0 167.4 250.8 160.9 251.6 152.6 252.4 146.3 253.2 142.5 254.0 137.8 254.8 132.9 255.6 130.1 256.4 127.7 257.2 125.0 258.0 124.2 258.8 122.4 259.6 122.5 260.4 123.9 261.2 122.0 262.0 124.0 262.8 127.8 263.6 131.1 264.4 135.2 265.2 140.9 266.0 145.7 266.8 149.2 267.6 138.4 268.4 130.8 269.2 123.5 270.0 116.9 270.8 112.4 271.6 105.6 272.4 100.9 273.2 96.5 274.0 93.4 274.8 88.8 275.6 85.5 276.4 82.5 277.2 79.5 278.0 77.0 278.8 74.7 279.6 72.6 280.4 70.8 281.2 69.3 282.0 68.0 282.8 66.9 283.6 66.0 284.4 65.3 285.2 64.9 286.0 64.6 286.8 64.6 287.6 65.1 288.4 65.8 289.2 66.5 290.0 67.1 290.8 67.8 291.6 69.0 292.4 70.3 293.2 71.7 294.0 73.0 294.8 74.3 295.6 75.6 296.4 77.5 297.2 79.5 298.0 81.5 298.8 83.5 299.6 86.2 300.4 89.0 301.2 91.9 302.0 94.9 302.8 98.1 303.6 101.4 304.4 104.6 305.2 107.8 306.0 111.1 306.8 113.9 307.6 115.4 308.4 116.9 309.2 118.4 310.0 119.7 310.8 120.8 311.6 122.0 312.4 123.1 313.2 124.8 314.0 126.7 314.8 128.5 315.6 130.5 316.4 132.5 317.2 134.5 318.0 136.9 318.8 139.6 319.6 142.4 320.4 145.2 321.2 148.0 322.0 150.7 322.8 153.2 323.6 155.7 324.4 158.3 325.2 160.8 326.0 163.4 326.8 166.0" stroke="#a020f0" stroke-width="1.6" fill="none" stroke-linejoin="round"/>
</g>
<rect x="41.4" y="18.5" width="284.7" height="181.6" fill="none" stroke="#3a3a3a" stroke-width="1.1"/>
<path d="M41.4 196.5h2.6M326.1 196.5h-2.6M41.4 180.7h2.6M326.1 180.7h-2.6M41.4 172.8h2.6M326.1 172.8h-2.6M41.4 164.9h2.6M326.1 164.9h-2.6M41.4 157h2.6M326.1 157h-2.6M41.4 141.2h2.6M326.1 141.2h-2.6M41.4 133.3h2.6M326.1 133.3h-2.6M41.4 125.4h2.6M326.1 125.4h-2.6M41.4 117.5h2.6M326.1 117.5h-2.6M41.4 101.7h2.6M326.1 101.7h-2.6M41.4 93.8h2.6M326.1 93.8h-2.6M41.4 85.9h2.6M326.1 85.9h-2.6M41.4 78h2.6M326.1 78h-2.6M41.4 62.2h2.6M326.1 62.2h-2.6M41.4 54.3h2.6M326.1 54.3h-2.6M41.4 46.4h2.6M326.1 46.4h-2.6M41.4 38.5h2.6M326.1 38.5h-2.6M41.4 22.7h2.6M326.1 22.7h-2.6" stroke="#555" stroke-width="0.8" fill="none"/>
<path d="M41.4 30.6h4.8M326.1 30.6h-4.8M41.4 70.1h4.8M326.1 70.1h-4.8M41.4 109.6h4.8M326.1 109.6h-4.8M41.4 149.1h4.8M326.1 149.1h-4.8M41.4 188.6h4.8M326.1 188.6h-4.8" stroke="#555" stroke-width="0.8" fill="none"/>
<path d="M53.26 200.1v-2.6M53.26 18.5v2.6M65.12 200.1v-2.6M65.12 18.5v2.6M76.99 200.1v-2.6M76.99 18.5v2.6M100.71 200.1v-2.6M100.71 18.5v2.6M112.58 200.1v-2.6M112.58 18.5v2.6M124.44 200.1v-2.6M124.44 18.5v2.6M148.16 200.1v-2.6M148.16 18.5v2.6M160.03 200.1v-2.6M160.03 18.5v2.6M171.89 200.1v-2.6M171.89 18.5v2.6M195.61 200.1v-2.6M195.61 18.5v2.6M207.48 200.1v-2.6M207.48 18.5v2.6M219.34 200.1v-2.6M219.34 18.5v2.6M243.06 200.1v-2.6M243.06 18.5v2.6M254.93 200.1v-2.6M254.93 18.5v2.6M266.79 200.1v-2.6M266.79 18.5v2.6M290.51 200.1v-2.6M290.51 18.5v2.6M302.38 200.1v-2.6M302.38 18.5v2.6M314.24 200.1v-2.6M314.24 18.5v2.6" stroke="#555" stroke-width="0.8" fill="none"/>
<path d="M41.4 200.1v-4.8M41.4 18.5v4.8M88.85 200.1v-4.8M88.85 18.5v4.8M136.3 200.1v-4.8M136.3 18.5v4.8M183.75 200.1v-4.8M183.75 18.5v4.8M231.2 200.1v-4.8M231.2 18.5v4.8M278.65 200.1v-4.8M278.65 18.5v4.8M326.1 200.1v-4.8M326.1 18.5v4.8" stroke="#555" stroke-width="0.8" fill="none"/>
<text x="38.6" y="34.8" font-size="12" text-anchor="end" font-family='"Liberation Sans", sans-serif' >0</text>
<text x="38.6" y="74.3" font-size="12" text-anchor="end" font-family='"Liberation Sans", sans-serif' >−5</text>
<text x="38.6" y="113.8" font-size="12" text-anchor="end" font-family='"Liberation Sans", sans-serif' >−10</text>
<text x="38.6" y="153.3" font-size="12" text-anchor="end" font-family='"Liberation Sans", sans-serif' >−15</text>
<text x="38.6" y="192.8" font-size="12" text-anchor="end" font-family='"Liberation Sans", sans-serif' >−20</text>
<text x="41.4" y="212" font-size="12" text-anchor="middle" font-family='"Liberation Sans", sans-serif' >−90</text>
<text x="88.85" y="212" font-size="12" text-anchor="middle" font-family='"Liberation Sans", sans-serif' >−60</text>
<text x="136.3" y="212" font-size="12" text-anchor="middle" font-family='"Liberation Sans", sans-serif' >−30</text>
<text x="183.75" y="212" font-size="12" text-anchor="middle" font-family='"Liberation Sans", sans-serif' >0</text>
<text x="231.2" y="212" font-size="12" text-anchor="middle" font-family='"Liberation Sans", sans-serif' >30</text>
<text x="278.65" y="212" font-size="12" text-anchor="middle" font-family='"Liberation Sans", sans-serif' >60</text>
<text x="326.1" y="212" font-size="12" text-anchor="middle" font-family='"Liberation Sans", sans-serif' >90</text>
<text x="78" y="8.8" font-size="12" text-anchor="start" font-family='"Liberation Sans", sans-serif' >Fundamental-frequency wave patterns</text>
<text x="-1.5" y="11.6" font-size="20.5" text-anchor="start" font-family='"Liberation Sans", sans-serif' font-weight="bold">a</text>
<text transform="translate(11.2,110) rotate(-90)" font-size="12" text-anchor="middle" font-family='"Liberation Sans", sans-serif' >Normalized Amplitude (dB)</text>
<text x="184" y="227" font-size="12" text-anchor="middle" font-family='"Liberation Sans", sans-serif' ><tspan font-style="italic">θ</tspan>(°)</text>
<text x="303.9" y="36" font-size="12" text-anchor="start" font-family='"Liberation Sans", sans-serif' ><tspan font-style="italic">f</tspan><tspan font-size="9" dy="3.3">c</tspan></text>
<g clip-path="url(#cb)">
<path d="M41.50 379.00C41.73 378.55 42.42 374.62 42.90 376.30C43.38 377.98 43.85 389.15 44.40 389.10C44.95 389.05 45.72 375.63 46.20 376.00C46.68 376.37 46.82 390.27 47.30 391.30C47.78 392.33 48.52 380.38 49.10 382.20C49.68 384.02 50.25 401.17 50.80 402.20C51.35 403.23 51.88 388.27 52.40 388.40C52.92 388.53 53.35 403.57 53.90 403.00C54.45 402.43 55.15 385.73 55.70 385.00C56.25 384.27 56.72 398.53 57.20 398.60C57.68 398.67 58.08 385.17 58.60 385.40C59.12 385.63 59.75 398.53 60.30 400.00C60.85 401.47 61.38 393.58 61.90 394.20C62.42 394.82 62.92 403.22 63.40 403.70C63.88 404.18 64.20 396.25 64.80 397.10C65.40 397.95 66.33 409.28 67.00 408.80C67.67 408.32 68.18 394.68 68.80 394.20C69.42 393.72 70.15 405.65 70.70 405.90C71.25 406.15 71.57 396.07 72.10 395.70C72.63 395.33 73.23 403.95 73.90 403.70C74.57 403.45 75.42 394.65 76.10 394.20C76.78 393.75 77.38 400.52 78.00 401.00C78.62 401.48 79.32 396.77 79.80 397.10C80.28 397.43 80.35 402.75 80.90 403.00C81.45 403.25 82.42 398.10 83.10 398.60C83.78 399.10 84.40 405.77 85.00 406.00C85.60 406.23 86.12 399.50 86.70 400.00C87.28 400.50 87.88 409.08 88.50 409.00C89.12 408.92 89.68 399.07 90.40 399.50C91.12 399.93 92.17 410.85 92.80 411.60C93.43 412.35 93.73 403.73 94.20 404.00C94.67 404.27 95.10 413.82 95.60 413.20C96.10 412.58 96.53 400.70 97.20 400.30C97.87 399.90 98.80 411.33 99.60 410.80C100.40 410.27 101.25 397.10 102.00 397.10C102.75 397.10 103.28 411.60 104.10 410.80C104.92 410.00 106.10 393.63 106.90 392.30C107.70 390.97 108.10 404.27 108.90 402.80C109.70 401.33 110.90 384.05 111.70 383.50C112.50 382.95 112.90 398.17 113.70 399.50C114.50 400.83 115.70 391.63 116.50 391.50C117.30 391.37 117.77 398.70 118.50 398.70C119.23 398.70 120.10 390.68 120.90 391.50C121.70 392.32 122.48 403.47 123.30 403.60C124.12 403.73 124.98 392.85 125.80 392.30C126.62 391.75 127.33 401.77 128.20 400.30C129.07 398.83 130.07 381.62 131.00 383.50C131.93 385.38 132.97 409.52 133.80 411.60C134.63 413.68 135.37 396.60 136.00 396.00C136.63 395.40 137.15 412.98 137.60 408.00C138.05 403.02 138.17 377.32 138.70 366.10C139.23 354.88 139.92 347.77 140.80 340.70C141.68 333.63 142.77 327.42 144.00 323.70C145.23 319.98 147.15 318.93 148.20 318.40C149.25 317.87 149.42 322.10 150.30 320.50C151.18 318.90 152.43 314.28 153.50 308.80C154.57 303.32 155.63 293.62 156.70 287.60C157.77 281.58 158.92 275.82 159.90 272.70C160.88 269.58 161.65 268.53 162.60 268.90C163.55 269.27 164.53 270.37 165.60 274.90C166.67 279.43 168.00 289.03 169.00 296.10C170.00 303.17 170.82 312.88 171.60 317.30C172.38 321.72 172.65 322.60 173.70 322.60C174.75 322.60 176.67 317.12 177.90 317.30C179.13 317.48 180.03 319.63 181.10 323.70C182.17 327.77 183.32 339.65 184.30 341.70C185.28 343.75 186.22 337.23 187.00 336.00C187.78 334.77 188.22 332.82 189.00 334.30C189.78 335.78 190.73 337.53 191.70 344.90C192.67 352.27 193.82 377.42 194.80 378.50C195.78 379.58 196.75 357.33 197.60 351.40C198.45 345.47 199.18 342.90 199.90 342.90C200.62 342.90 201.15 347.17 201.90 351.40C202.65 355.63 203.55 365.20 204.40 368.30C205.25 371.40 206.28 366.32 207.00 370.00C207.72 373.68 208.28 385.58 208.70 390.40C209.12 395.22 209.03 401.47 209.50 398.90C209.97 396.33 210.78 383.48 211.50 375.00C212.22 366.52 213.00 355.33 213.80 348.00C214.60 340.67 215.52 331.57 216.30 331.00C217.08 330.43 217.78 337.25 218.50 344.60C219.22 351.95 219.83 366.05 220.60 375.10C221.37 384.15 222.40 397.20 223.10 398.90C223.80 400.60 224.08 391.80 224.80 385.30C225.52 378.80 226.63 365.55 227.40 359.90C228.17 354.25 228.62 351.68 229.40 351.40C230.18 351.12 231.30 357.50 232.10 358.20C232.90 358.90 233.52 353.35 234.20 355.60C234.88 357.85 235.58 367.30 236.20 371.70C236.82 376.10 237.33 383.40 237.90 382.00C238.47 380.60 239.08 366.72 239.60 363.30C240.12 359.88 240.43 362.07 241.00 361.50C241.57 360.93 242.38 361.87 243.00 359.90C243.62 357.93 244.05 350.55 244.70 349.70C245.35 348.85 246.25 354.23 246.90 354.80C247.55 355.37 248.03 351.40 248.60 353.10C249.17 354.80 249.65 360.77 250.30 365.00C250.95 369.23 251.78 379.35 252.50 378.50C253.22 377.65 253.95 363.32 254.60 359.90C255.25 356.48 255.75 360.20 256.40 358.00C257.05 355.80 257.80 350.12 258.50 346.70C259.20 343.28 259.65 340.57 260.60 337.50C261.55 334.43 262.95 330.25 264.20 328.30C265.45 326.35 266.82 325.45 268.10 325.80C269.38 326.15 270.67 329.03 271.90 330.40C273.13 331.77 274.32 332.58 275.50 334.00C276.68 335.42 277.95 337.25 279.00 338.90C280.05 340.55 280.85 341.53 281.80 343.90C282.75 346.27 283.85 349.60 284.70 353.10C285.55 356.60 286.27 363.32 286.90 364.90C287.53 366.48 287.95 360.90 288.50 362.60C289.05 364.30 289.65 374.12 290.20 375.10C290.75 376.08 291.25 367.18 291.80 368.50C292.35 369.82 292.95 381.78 293.50 383.00C294.05 384.22 294.52 374.82 295.10 375.80C295.68 376.78 296.50 388.03 297.00 388.90C297.50 389.77 297.60 380.45 298.10 381.00C298.60 381.55 299.45 392.08 300.00 392.20C300.55 392.32 300.90 382.35 301.40 381.70C301.90 381.05 302.47 388.20 303.00 388.30C303.53 388.40 304.05 382.08 304.60 382.30C305.15 382.52 305.68 388.93 306.30 389.60C306.92 390.27 307.65 387.45 308.30 386.30C308.95 385.15 309.55 382.70 310.20 382.70C310.85 382.70 311.53 386.13 312.20 386.30C312.87 386.47 313.60 383.60 314.20 383.70C314.80 383.80 315.32 386.97 315.80 386.90C316.28 386.83 316.60 382.75 317.10 383.30C317.60 383.85 318.20 389.48 318.80 390.20C319.40 390.92 320.17 389.13 320.70 387.60C321.23 386.07 321.45 381.43 322.00 381.00C322.55 380.57 323.67 384.33 324.00 385.00" stroke="#8a8dc8" stroke-width="1.85" fill="none" stroke-linejoin="round"/>
<path d="M41.0 453.9 41.5 453.9 42.0 453.9 42.5 453.9 43.0 453.9 43.5 453.9 44.0 453.9 44.5 453.9 45.0 453.9 45.5 453.9 46.0 453.9 46.5 453.9 47.0 453.9 47.5 453.9 48.0 453.9 48.5 453.9 49.0 453.9 49.5 453.9 50.0 453.9 50.5 453.9 51.0 453.9 51.5 453.9 52.0 453.9 52.5 453.9 53.0 453.9 53.5 453.9 54.0 453.9 54.5 453.9 55.0 451.9 55.5 449.9 56.0 448.0 56.5 446.2 57.0 444.4 57.5 442.7 58.0 441.1 58.5 439.5 59.0 438.0 59.5 436.5 60.0 435.1 60.5 433.8 61.0 432.5 61.5 431.2 62.0 430.0 62.5 428.9 63.0 427.8 63.5 426.7 64.0 425.6 64.5 424.6 65.0 423.7 65.5 422.8 66.0 421.9 66.5 421.0 67.0 420.2 67.5 419.4 68.0 418.7 68.5 418.0 69.0 417.3 69.5 416.6 70.0 416.0 70.5 415.4 71.0 414.8 71.5 414.3 72.0 413.8 72.5 413.3 73.0 412.9 73.5 412.4 74.0 412.0 74.5 411.7 75.0 411.3 75.5 411.0 76.0 410.7 76.5 410.5 77.0 410.2 77.5 410.0 78.0 409.8 78.5 409.7 79.0 409.5 79.5 409.4 80.0 409.3 80.5 409.2 81.0 409.2 81.5 409.2 82.0 409.2 82.5 409.3 83.0 409.5 83.5 409.7 84.0 410.1 84.5 410.4 85.0 410.9 85.5 411.4 86.0 412.0 86.5 412.7 87.0 413.4 87.5 414.2 88.0 415.1 88.5 416.1 89.0 417.2 89.5 418.3 90.0 419.6 90.5 420.9 91.0 422.3 91.5 423.8 92.0 425.4 92.5 427.1 93.0 429.0 93.5 430.9 94.0 433.0 94.5 435.2 95.0 437.6 95.5 440.1 96.0 442.8 96.5 445.6 97.0 448.7 97.5 451.9 98.0 453.9 98.5 453.9 99.0 453.9 99.5 451.1 100.0 447.8 100.5 444.8 101.0 442.2 101.5 439.9 102.0 437.9 102.5 436.2 103.0 434.7 103.5 433.4 104.0 432.4 104.5 431.7 105.0 431.2 105.5 430.9 106.0 430.8 106.5 430.9 107.0 431.3 107.5 431.9 108.0 432.6 108.5 433.6 109.0 434.8 109.5 436.2 110.0 437.9 110.5 439.8 111.0 442.0 111.5 444.4 112.0 447.2 112.5 450.3 113.0 453.7 113.5 453.9 114.0 453.9 114.5 453.9 115.0 453.9 115.5 453.9 116.0 453.9 116.5 453.9 117.0 453.9 117.5 453.9 118.0 453.9 118.5 453.9 119.0 453.9 119.5 453.9 120.0 453.9 120.5 453.9 121.0 453.9 121.5 453.9 122.0 453.6 122.5 448.8 123.0 444.6 123.5 441.0 124.0 437.9 124.5 435.3 125.0 433.1 125.5 431.3 126.0 430.0 126.5 429.0 127.0 428.4 127.5 428.1 128.0 428.2 128.5 428.8 129.0 429.7 129.5 431.1 130.0 432.9 130.5 435.1 131.0 437.9 131.5 441.2 132.0 445.1 132.5 449.6 133.0 453.9 133.5 453.9 134.0 453.9 134.5 453.9 135.0 453.9 135.5 453.9 136.0 453.9 136.5 453.9 137.0 450.9 137.5 446.4 138.0 442.5 138.5 439.0 139.0 435.9 139.5 433.2 140.0 430.8 140.5 428.8 141.0 427.1 141.5 425.6 142.0 424.5 142.5 423.6 143.0 423.0 143.5 422.7 144.0 422.6 144.5 422.9 145.0 423.5 145.5 424.5 146.0 425.9 146.5 427.8 147.0 430.0 147.5 432.7 148.0 435.9 148.5 439.6 149.0 444.0 149.5 449.0 150.0 453.9 150.5 453.9 151.0 453.9 151.5 453.9 152.0 453.9 152.5 453.9 153.0 453.9 153.5 453.9 154.0 453.9 154.5 453.9 155.0 453.9 155.5 453.9 156.0 453.9 156.5 453.9 157.0 453.9 157.5 453.9 158.0 453.9 158.5 453.9 159.0 453.9 159.5 453.9 160.0 453.9 160.5 453.9 161.0 453.9 161.5 453.9 162.0 453.9 162.5 453.9 163.0 453.9 163.5 453.9 164.0 453.9 164.5 453.9 165.0 453.9 165.5 453.9 166.0 453.9 166.5 453.9 167.0 453.9 167.5 453.9 168.0 453.9 168.5 453.9 169.0 453.9 169.5 453.9 170.0 453.9 170.5 453.9 171.0 453.9 171.5 453.9 172.0 453.9 172.5 453.9 173.0 453.9 173.5 453.9 174.0 453.9 174.5 453.9 175.0 453.9 175.5 453.9 176.0 453.9 176.5 453.9 177.0 453.9 177.5 453.9 178.0 453.9 178.5 453.9 179.0 453.9 179.5 453.9 180.0 453.9 180.5 453.9 181.0 453.9 181.5 444.9 182.0 435.7 182.5 427.8 183.0 421.0 183.5 414.9 184.0 409.6 184.5 404.8 185.0 400.4 185.5 396.5 186.0 392.9 186.5 389.7 187.0 386.8 187.5 384.1 188.0 381.7 188.5 379.5 189.0 377.5 189.5 375.8 190.0 374.2 190.5 372.9 191.0 371.7 191.5 370.7 192.0 369.9 192.5 369.3 193.0 368.8 193.5 368.5 194.0 368.3 194.5 368.3 195.0 368.4 195.5 368.5 196.0 368.6 196.5 368.8 197.0 369.1 197.5 369.4 198.0 369.8 198.5 370.2 199.0 370.7 199.5 371.2 200.0 371.8 200.5 372.4 201.0 373.1 201.5 373.9 202.0 374.7 202.5 375.6 203.0 376.5 203.5 377.5 204.0 378.5 204.5 379.7 205.0 380.9 205.5 382.1 206.0 383.5 206.5 384.9 207.0 386.4 207.5 388.0 208.0 389.7 208.5 391.4 209.0 392.3 209.5 391.7 210.0 391.1 210.5 390.7 211.0 390.4 211.5 390.2 212.0 390.1 212.5 390.2 213.0 390.5 213.5 391.1 214.0 392.1 214.5 393.4 215.0 395.0 215.5 397.0 216.0 399.3 216.5 402.0 217.0 405.2 217.5 408.8 218.0 412.9 218.5 412.9 219.0 411.9 219.5 411.0 220.0 410.1 220.5 409.2 221.0 408.5 221.5 407.8 222.0 407.1 222.5 406.5 223.0 406.0 223.5 405.5 224.0 405.1 224.5 404.7 225.0 404.4 225.5 404.1 226.0 403.9 226.5 403.8 227.0 403.7 227.5 403.6 228.0 403.6 228.5 404.0 229.0 404.9 229.5 406.2 230.0 408.0 230.5 410.3 231.0 413.2 231.5 416.6 232.0 420.7 232.5 425.5 233.0 431.1 233.5 437.7 234.0 445.5 234.5 453.9 235.0 453.9 235.5 453.9 236.0 453.9 236.5 453.9 237.0 453.9 237.5 453.9 238.0 453.9 238.5 453.9 239.0 453.9 239.5 453.9 240.0 453.9 240.5 453.9 241.0 449.9 241.5 443.3 242.0 437.9 242.5 433.4 243.0 429.8 243.5 426.9 244.0 424.7 244.5 423.1 245.0 422.2 245.5 421.9 246.0 422.1 246.5 422.6 247.0 423.6 247.5 424.9 248.0 426.6 248.5 428.7 249.0 431.3 249.5 434.3 250.0 437.9 250.5 438.0 251.0 437.2 251.5 436.5 252.0 435.8 252.5 435.1 253.0 434.4 253.5 433.7 254.0 433.1 254.5 432.5 255.0 432.0 255.5 431.4 256.0 430.9 256.5 430.4 257.0 429.9 257.5 429.5 258.0 429.0 258.5 428.6 259.0 428.2 259.5 427.9 260.0 427.5 260.5 427.2 261.0 426.9 261.5 426.6 262.0 426.4 262.5 426.1 263.0 425.9 263.5 425.7 264.0 425.5 264.5 425.4 265.0 425.3 265.5 425.2 266.0 425.1 266.5 425.0 267.0 424.9 267.5 424.9 268.0 424.9 268.5 424.9 269.0 424.9 269.5 424.9 270.0 424.9 270.5 424.9 271.0 425.0 271.5 425.0 272.0 425.0 272.5 425.0 273.0 425.1 273.5 425.1 274.0 425.1 274.5 425.2 275.0 425.2 275.5 425.3 276.0 425.3 276.5 425.4 277.0 425.5 277.5 425.5 278.0 425.6 278.5 425.7 279.0 425.7 279.5 425.8 280.0 425.9 280.5 426.0 281.0 426.1 281.5 426.2 282.0 426.3 282.5 426.4 283.0 426.5 283.5 426.6 284.0 426.7 284.5 426.8 285.0 426.9 285.5 427.0 286.0 427.1 286.5 427.3 287.0 427.4 287.5 427.5 288.0 427.7 288.5 427.8 289.0 428.0 289.5 428.1 290.0 428.3 290.5 428.4 291.0 428.6 291.5 428.5 292.0 428.4 292.5 428.3 293.0 428.2 293.5 428.1 294.0 428.0 294.5 428.0 295.0 427.9 295.5 427.9 296.0 427.9 296.5 427.9 297.0 427.9 297.5 428.0 298.0 428.0 298.5 428.1 299.0 428.2 299.5 428.3 300.0 428.4 300.5 428.5 301.0 428.7 301.5 428.8 302.0 429.0 302.5 429.2 303.0 429.4 303.5 429.6 304.0 429.8 304.5 430.1 305.0 430.4 305.5 430.7 306.0 431.0 306.5 431.3 307.0 431.6 307.5 432.0 308.0 432.3 308.5 432.7 309.0 433.1 309.5 433.5 310.0 434.0 310.5 434.4 311.0 434.9 311.5 435.4 312.0 435.9 312.5 436.4 313.0 437.0 313.5 437.5 314.0 438.1 314.5 438.7 315.0 439.4 315.5 440.0 316.0 440.7 316.5 441.4 317.0 442.1 317.5 442.8 318.0 443.5 318.5 443.9 319.0 444.4 319.5 444.8 320.0 445.2 320.5 445.6 321.0 446.1 321.5 446.5 322.0 447.0 322.5 447.4 323.0 447.9 323.5 448.4" stroke="#ffd400" stroke-width="1.6" fill="none" stroke-linejoin="round"/>
<path d="M41.0 453.9 41.5 453.9 42.0 453.9 42.5 453.9 43.0 453.9 43.5 453.9 44.0 453.9 44.5 453.9 45.0 453.9 45.5 453.9 46.0 453.9 46.5 453.9 47.0 453.9 47.5 453.9 48.0 453.9 48.5 453.9 49.0 453.9 49.5 453.9 50.0 453.9 50.5 453.9 51.0 453.9 51.5 453.9 52.0 453.9 52.5 453.9 53.0 453.9 53.5 453.9 54.0 453.9 54.5 453.9 55.0 453.9 55.5 453.9 56.0 453.9 56.5 453.9 57.0 453.9 57.5 453.9 58.0 453.9 58.5 453.9 59.0 453.9 59.5 453.9 60.0 453.9 60.5 453.9 61.0 453.9 61.5 453.9 62.0 453.9 62.5 453.9 63.0 453.9 63.5 453.9 64.0 453.9 64.5 453.9 65.0 453.9 65.5 453.9 66.0 453.9 66.5 453.9 67.0 453.9 67.5 453.9 68.0 453.9 68.5 453.9 69.0 453.9 69.5 453.9 70.0 453.9 70.5 453.9 71.0 453.9 71.5 453.9 72.0 453.9 72.5 453.9 73.0 453.9 73.5 453.9 74.0 453.9 74.5 453.9 75.0 453.9 75.5 453.9 76.0 453.9 76.5 453.9 77.0 453.9 77.5 453.9 78.0 453.9 78.5 453.9 79.0 453.9 79.5 453.9 80.0 453.9 80.5 453.9 81.0 453.9 81.5 453.9 82.0 453.9 82.5 453.9 83.0 453.9 83.5 453.9 84.0 451.5 84.5 448.6 85.0 446.0 85.5 443.6 86.0 441.5 86.5 439.6 87.0 437.9 87.5 436.4 88.0 435.1 88.5 434.1 89.0 433.1 89.5 432.4 90.0 431.9 90.5 431.5 91.0 431.3 91.5 431.3 92.0 431.4 92.5 431.7 93.0 432.1 93.5 432.7 94.0 433.4 94.5 434.3 95.0 435.3 95.5 436.5 96.0 437.9 96.5 439.4 97.0 441.1 97.5 443.1 98.0 445.2 98.5 447.5 99.0 450.0 99.5 452.8 100.0 453.9 100.5 453.9 101.0 453.9 101.5 453.9 102.0 453.9 102.5 453.9 103.0 453.9 103.5 453.9 104.0 453.9 104.5 453.9 105.0 453.9 105.5 453.9 106.0 453.9 106.5 453.9 107.0 453.9 107.5 453.9 108.0 453.9 108.5 453.9 109.0 453.9 109.5 453.9 110.0 453.9 110.5 453.9 111.0 453.9 111.5 453.9 112.0 453.9 112.5 453.9 113.0 453.9 113.5 453.9 114.0 453.9 114.5 453.9 115.0 453.9 115.5 453.9 116.0 453.9 116.5 452.1 117.0 450.0 117.5 448.1 118.0 446.2 118.5 444.4 119.0 442.6 119.5 441.0 120.0 439.4 120.5 438.0 121.0 436.5 121.5 435.2 122.0 433.9 122.5 432.7 123.0 431.5 123.5 430.4 124.0 429.3 124.5 428.3 125.0 427.4 125.5 426.5 126.0 425.6 126.5 424.8 127.0 424.1 127.5 423.4 128.0 422.7 128.5 422.1 129.0 421.5 129.5 421.0 130.0 420.5 130.5 420.1 131.0 419.7 131.5 419.3 132.0 419.0 132.5 418.7 133.0 418.5 133.5 418.3 134.0 418.1 134.5 418.0 135.0 417.9 135.5 417.9 136.0 417.9 136.5 417.9 137.0 418.0 137.5 418.0 138.0 418.1 138.5 418.2 139.0 418.3 139.5 418.4 140.0 418.5 140.5 418.6 141.0 418.8 141.5 419.0 142.0 419.2 142.5 419.4 143.0 419.6 143.5 419.9 144.0 420.1 144.5 420.4 145.0 420.7 145.5 421.0 146.0 421.4 146.5 421.7 147.0 422.1 147.5 422.5 148.0 422.9 148.5 423.3 149.0 423.7 149.5 424.2 150.0 424.7 150.5 425.2 151.0 425.7 151.5 426.2 152.0 426.8 152.5 427.3 153.0 427.9 153.5 428.6 154.0 429.2 154.5 429.9 155.0 430.5 155.5 431.3 156.0 432.0 156.5 432.7 157.0 433.5 157.5 434.3 158.0 435.1 158.5 436.0 159.0 436.9 159.5 437.8 160.0 438.7 160.5 439.7 161.0 440.7 161.5 441.7 162.0 442.7 162.5 443.8 163.0 444.9 163.5 445.8 164.0 443.6 164.5 441.7 165.0 439.9 165.5 438.3 166.0 437.0 166.5 435.7 167.0 434.7 167.5 433.8 168.0 433.1 168.5 432.6 169.0 432.2 169.5 432.0 170.0 431.9 170.5 432.0 171.0 432.1 171.5 432.4 172.0 432.8 172.5 433.2 173.0 433.8 173.5 434.6 174.0 435.4 174.5 436.3 175.0 437.4 175.5 438.6 176.0 439.9 176.5 441.3 177.0 442.9 177.5 444.7 178.0 446.6 178.5 448.6 179.0 450.8 179.5 453.2 180.0 453.9 180.5 453.9 181.0 453.9 181.5 453.9 182.0 453.9 182.5 453.9 183.0 453.9 183.5 453.9 184.0 453.9 184.5 453.9 185.0 453.9 185.5 453.9 186.0 453.9 186.5 453.9 187.0 453.9 187.5 453.9 188.0 453.9 188.5 453.9 189.0 453.9 189.5 453.9 190.0 453.9 190.5 453.9 191.0 453.9 191.5 453.9 192.0 453.9 192.5 453.9 193.0 453.9 193.5 453.9 194.0 453.9 194.5 453.9 195.0 453.9 195.5 453.9 196.0 453.9 196.5 453.9 197.0 453.9 197.5 453.9 198.0 453.9 198.5 453.9 199.0 453.9 199.5 453.9 200.0 453.9 200.5 453.9 201.0 453.9 201.5 453.9 202.0 453.9 202.5 453.9 203.0 453.9 203.5 453.9 204.0 453.9 204.5 453.9 205.0 453.9 205.5 453.9 206.0 453.9 206.5 453.9 207.0 453.9 207.5 453.9 208.0 453.9 208.5 453.9 209.0 453.9 209.5 453.9 210.0 453.9 210.5 453.9 211.0 453.9 211.5 453.9 212.0 453.9 212.5 453.9 213.0 453.9 213.5 453.9 214.0 453.9 214.5 453.9 215.0 453.9 215.5 453.9 216.0 453.9 216.5 453.9 217.0 453.9 217.5 453.9 218.0 453.9 218.5 453.9 219.0 453.9 219.5 453.9 220.0 453.9 220.5 453.9 221.0 453.9 221.5 453.9 222.0 453.9 222.5 453.9 223.0 453.9 223.5 453.9 224.0 453.9 224.5 453.9 225.0 453.9 225.5 453.9 226.0 453.9 226.5 453.9 227.0 453.9 227.5 453.9 228.0 453.9 228.5 452.1 229.0 445.5 229.5 439.6 230.0 434.3 230.5 429.5 231.0 425.1 231.5 421.0 232.0 417.3 232.5 413.8 233.0 410.5 233.5 407.5 234.0 404.7 234.5 402.0 235.0 399.5 235.5 397.1 236.0 394.9 236.5 392.8 237.0 390.9 237.5 389.0 238.0 387.3 238.5 385.7 239.0 384.1 239.5 382.7 240.0 381.4 240.5 380.1 241.0 378.9 241.5 377.9 242.0 376.9 242.5 375.9 243.0 375.1 243.5 374.3 244.0 373.6 244.5 373.0 245.0 372.4 245.5 371.9 246.0 371.5 246.5 371.2 247.0 370.9 247.5 370.7 248.0 370.5 248.5 370.4 249.0 370.4 249.5 370.4 250.0 370.5 250.5 370.6 251.0 370.8 251.5 371.0 252.0 371.3 252.5 371.6 253.0 371.9 253.5 372.4 254.0 372.8 254.5 373.3 255.0 373.9 255.5 374.5 256.0 375.1 256.5 375.8 257.0 376.5 257.5 377.4 258.0 378.2 258.5 379.2 259.0 380.1 259.5 381.2 260.0 382.3 260.5 383.3 261.0 383.7 261.5 384.2 262.0 384.6 262.5 385.1 263.0 385.5 263.5 386.0 264.0 386.4 264.5 386.9 265.0 387.3 265.5 387.7 266.0 388.0 266.5 388.4 267.0 388.8 267.5 389.2 268.0 389.5 268.5 389.9 269.0 390.3 269.5 390.6 270.0 391.0 270.5 391.3 271.0 391.7 271.5 392.0 272.0 392.4 272.5 392.9 273.0 393.3 273.5 393.8 274.0 394.2 274.5 394.7 275.0 395.1 275.5 395.6 276.0 396.2 276.5 396.7 277.0 397.2 277.5 397.8 278.0 398.3 278.5 398.9 279.0 399.4 279.5 400.1 280.0 400.8 280.5 401.4 281.0 402.1 281.5 402.8 282.0 403.5 282.5 404.3 283.0 405.2 283.5 406.2 284.0 407.1 284.5 408.0 285.0 408.9 285.5 410.0 286.0 411.0 286.5 412.1 287.0 413.1 287.5 414.2 288.0 415.2 288.5 416.2 289.0 417.3 289.5 418.3 290.0 419.3 290.5 420.3 291.0 421.3 291.5 422.3 292.0 423.3 292.5 424.3 293.0 425.3 293.5 426.2 294.0 427.2 294.5 428.1 295.0 429.0 295.5 430.0 296.0 430.9 296.5 432.1 297.0 433.2 297.5 434.4 298.0 435.6 298.5 436.7 299.0 437.9 299.5 439.4 300.0 440.9 300.5 453.9 301.0 453.9 301.5 453.9 302.0 453.9 302.5 453.9 303.0 453.9 303.5 453.9 304.0 453.9 304.5 453.9 305.0 453.9 305.5 453.9 306.0 453.9 306.5 453.9 307.0 453.9 307.5 453.9 308.0 453.9 308.5 453.9 309.0 453.9 309.5 453.9 310.0 453.9 310.5 453.9 311.0 453.9 311.5 453.9 312.0 453.9 312.5 453.9 313.0 453.9 313.5 453.9 314.0 453.9 314.5 453.9 315.0 453.9 315.5 453.9 316.0 453.9 316.5 453.9 317.0 453.9 317.5 453.9 318.0 453.9 318.5 453.9 319.0 453.9 319.5 453.9 320.0 453.9 320.5 453.9 321.0 453.9 321.5 453.9 322.0 453.9 322.5 453.9 323.0 453.9 323.5 453.9" stroke="#d483d6" stroke-width="1.6" fill="none" stroke-linejoin="round"/>
<path d="M41.0 453.9 41.5 453.9 42.0 453.9 42.5 453.9 43.0 453.9 43.5 453.9 44.0 453.9 44.5 453.9 45.0 453.9 45.5 453.9 46.0 453.9 46.5 453.9 47.0 453.9 47.5 453.9 48.0 453.9 48.5 453.9 49.0 453.9 49.5 453.9 50.0 453.9 50.5 453.9 51.0 453.9 51.5 453.9 52.0 453.9 52.5 453.9 53.0 453.9 53.5 453.9 54.0 453.9 54.5 453.9 55.0 453.9 55.5 453.9 56.0 453.9 56.5 453.9 57.0 453.9 57.5 453.9 58.0 453.9 58.5 453.9 59.0 452.9 59.5 451.8 60.0 450.7 60.5 449.7 61.0 448.7 61.5 447.7 62.0 446.8 62.5 445.9 63.0 445.0 63.5 444.2 64.0 443.4 64.5 442.6 65.0 441.8 65.5 441.1 66.0 440.4 66.5 439.7 67.0 439.1 67.5 438.5 68.0 437.9 68.5 437.3 69.0 436.7 69.5 436.2 70.0 435.7 70.5 435.2 71.0 434.7 71.5 434.3 72.0 433.9 72.5 433.5 73.0 433.1 73.5 432.8 74.0 432.4 74.5 432.1 75.0 431.8 75.5 431.6 76.0 431.3 76.5 431.1 77.0 430.9 77.5 430.7 78.0 430.5 78.5 430.4 79.0 430.3 79.5 430.1 80.0 430.1 80.5 430.0 81.0 429.9 81.5 429.9 82.0 429.9 82.5 429.9 83.0 429.9 83.5 430.0 84.0 430.0 84.5 430.1 85.0 430.2 85.5 430.3 86.0 430.4 86.5 430.6 87.0 430.7 87.5 430.9 88.0 431.1 88.5 431.3 89.0 431.5 89.5 431.8 90.0 432.0 90.5 431.7 91.0 431.2 91.5 430.6 92.0 430.0 92.5 429.5 93.0 429.0 93.5 428.5 94.0 428.0 94.5 427.5 95.0 427.0 95.5 426.6 96.0 426.1 96.5 425.7 97.0 425.3 97.5 424.9 98.0 424.5 98.5 424.1 99.0 423.8 99.5 423.4 100.0 423.1 100.5 422.8 101.0 422.5 101.5 422.2 102.0 421.9 102.5 421.6 103.0 421.4 103.5 421.1 104.0 420.9 104.5 420.6 105.0 420.4 105.5 420.2 106.0 420.0 106.5 419.9 107.0 419.7 107.5 419.6 108.0 419.4 108.5 419.3 109.0 419.2 109.5 419.1 110.0 419.0 110.5 418.9 111.0 418.8 111.5 418.7 112.0 418.7 112.5 418.7 113.0 418.6 113.5 418.6 114.0 418.6 114.5 418.6 115.0 418.7 115.5 418.9 116.0 419.1 116.5 419.4 117.0 419.8 117.5 420.3 118.0 420.8 118.5 421.4 119.0 422.0 119.5 422.8 120.0 423.6 120.5 424.4 121.0 425.4 121.5 426.4 122.0 427.6 122.5 428.8 123.0 430.1 123.5 431.5 124.0 433.0 124.5 434.6 125.0 436.2 125.5 438.0 126.0 440.0 126.5 442.0 127.0 444.2 127.5 446.5 128.0 448.9 128.5 451.5 129.0 453.9 129.5 453.9 130.0 453.9 130.5 453.9 131.0 453.9 131.5 453.9 132.0 453.9 132.5 453.9 133.0 453.9 133.5 453.9 134.0 453.9 134.5 453.9 135.0 453.9 135.5 453.9 136.0 453.9 136.5 453.9 137.0 453.9 137.5 453.9 138.0 453.9 138.5 453.9 139.0 453.9 139.5 453.1 140.0 449.4 140.5 446.0 141.0 443.0 141.5 440.3 142.0 437.9 142.5 435.8 143.0 434.0 143.5 432.4 144.0 431.1 144.5 430.1 145.0 429.2 145.5 428.6 146.0 428.3 146.5 428.1 147.0 428.2 147.5 428.4 148.0 428.9 148.5 429.5 149.0 430.4 149.5 431.4 150.0 429.9 150.5 426.7 151.0 423.9 151.5 421.5 152.0 419.5 152.5 417.9 153.0 416.5 153.5 415.6 154.0 414.9 154.5 414.6 155.0 414.5 155.5 414.9 156.0 415.8 156.5 417.1 157.0 418.8 157.5 421.1 158.0 423.9 158.5 427.3 159.0 431.2 159.5 435.9 160.0 441.4 160.5 447.8 161.0 453.9 161.5 453.9 162.0 453.9 162.5 453.9 163.0 453.9 163.5 453.9 164.0 453.9 164.5 453.9 165.0 453.9 165.5 453.9 166.0 453.9 166.5 453.9 167.0 450.5 167.5 442.3 168.0 435.5 168.5 429.7 169.0 424.8 169.5 420.6 170.0 417.1 170.5 414.3 171.0 411.9 171.5 410.1 172.0 408.8 172.5 408.0 173.0 407.7 173.5 407.7 174.0 407.9 174.5 408.3 175.0 408.7 175.5 409.4 176.0 410.2 176.5 411.1 177.0 412.2 177.5 413.4 178.0 414.9 178.5 416.5 179.0 418.2 179.5 420.2 180.0 422.4 180.5 424.8 181.0 427.4 181.5 430.3 182.0 433.4 182.5 436.9 183.0 440.7 183.5 444.8 184.0 449.4 184.5 453.9 185.0 453.9 185.5 453.9 186.0 453.9 186.5 453.9 187.0 453.9 187.5 453.9 188.0 453.9 188.5 453.9 189.0 453.9 189.5 453.9 190.0 453.9 190.5 453.9 191.0 453.9 191.5 453.9 192.0 453.9 192.5 453.9 193.0 453.9 193.5 453.9 194.0 453.9 194.5 453.9 195.0 453.9 195.5 453.9 196.0 453.9 196.5 444.6 197.0 435.6 197.5 427.9 198.0 421.2 198.5 415.2 199.0 409.9 199.5 405.1 200.0 400.7 200.5 396.8 201.0 393.1 201.5 389.8 202.0 386.8 202.5 384.0 203.0 381.4 203.5 379.1 204.0 376.9 204.5 374.9 205.0 373.2 205.5 371.6 206.0 370.1 206.5 368.8 207.0 367.7 207.5 366.7 208.0 365.8 208.5 365.1 209.0 364.6 209.5 364.1 210.0 363.8 210.5 363.6 211.0 363.6 211.5 363.7 212.0 363.9 212.5 364.3 213.0 364.7 213.5 365.4 214.0 366.1 214.5 367.0 215.0 368.0 215.5 369.2 216.0 370.5 216.5 372.0 217.0 373.6 217.5 375.4 218.0 377.4 218.5 379.5 219.0 381.9 219.5 384.5 220.0 387.3 220.5 390.3 221.0 391.1 221.5 390.7 222.0 390.4 222.5 390.2 223.0 390.1 223.5 390.1 224.0 390.3 224.5 390.5 225.0 390.9 225.5 391.4 226.0 391.9 226.5 392.7 227.0 393.5 227.5 394.4 228.0 395.5 228.5 396.6 229.0 398.0 229.5 399.4 230.0 401.0 230.5 402.7 231.0 404.6 231.5 406.7 232.0 408.9 232.5 411.3 233.0 413.9 233.5 416.7 234.0 419.8 234.5 423.1 235.0 426.6 235.5 430.5 236.0 434.8 236.5 439.4 237.0 444.6 237.5 450.3 238.0 453.9 238.5 453.9 239.0 453.9 239.5 453.9 240.0 453.9 240.5 453.9 241.0 453.9 241.5 453.9 242.0 453.9 242.5 453.9 243.0 453.9 243.5 453.9 244.0 453.9 244.5 453.9 245.0 453.9 245.5 453.9 246.0 453.9 246.5 453.9 247.0 453.9 247.5 453.9 248.0 453.9 248.5 453.9 249.0 453.9 249.5 453.9 250.0 453.9 250.5 453.9 251.0 453.9 251.5 453.9 252.0 453.9 252.5 453.9 253.0 453.9 253.5 453.9 254.0 453.9 254.5 453.9 255.0 453.9 255.5 453.9 256.0 453.9 256.5 453.9 257.0 453.9 257.5 453.9 258.0 453.9 258.5 453.9 259.0 453.9 259.5 453.9 260.0 453.9 260.5 453.9 261.0 453.9 261.5 453.9 262.0 453.9 262.5 453.9 263.0 453.9 263.5 453.9 264.0 453.9 264.5 453.9 265.0 453.9 265.5 453.9 266.0 453.9 266.5 453.9 267.0 453.9 267.5 453.9 268.0 453.9 268.5 453.9 269.0 453.9 269.5 452.9 270.0 447.9 270.5 443.4 271.0 439.3 271.5 435.6 272.0 432.2 272.5 429.1 273.0 426.2 273.5 423.7 274.0 421.3 274.5 419.2 275.0 417.2 275.5 415.5 276.0 413.9 276.5 412.5 277.0 411.3 277.5 410.2 278.0 409.3 278.5 408.5 279.0 407.9 279.5 407.5 280.0 407.2 280.5 407.0 281.0 407.0 281.5 407.1 282.0 407.2 282.5 407.4 283.0 407.8 283.5 408.1 284.0 408.6 284.5 409.1 285.0 409.8 285.5 410.5 286.0 411.3 286.5 412.1 287.0 413.1 287.5 414.2 288.0 415.3 288.5 416.6 289.0 417.9 289.5 419.4 290.0 420.9 290.5 422.6 291.0 424.4 291.5 426.3 292.0 428.4 292.5 430.6 293.0 432.9 293.5 435.4 294.0 438.1 294.5 441.0 295.0 444.0 295.5 447.3 296.0 450.9 296.5 453.9 297.0 453.7 297.5 450.8 298.0 448.2 298.5 445.8 299.0 443.6 299.5 441.7 300.0 439.9 300.5 438.3 301.0 437.0 301.5 435.7 302.0 434.7 302.5 433.8 303.0 433.1 303.5 432.6 304.0 432.2 304.5 432.0 305.0 431.9 305.5 431.9 306.0 432.1 306.5 432.3 307.0 432.5 307.5 432.9 308.0 433.3 308.5 433.8 309.0 434.5 309.5 435.1 310.0 435.9 310.5 436.8 311.0 437.7 311.5 438.8 312.0 439.9 312.5 441.1 313.0 442.5 313.5 443.9 314.0 445.5 314.5 447.1 315.0 448.9 315.5 450.8 316.0 452.8 316.5 453.9 317.0 453.9 317.5 453.9 318.0 453.9 318.5 453.9 319.0 453.9 319.5 453.9 320.0 453.9 320.5 453.9 321.0 453.9 321.5 453.9 322.0 453.9 322.5 453.9 323.0 453.9 323.5 453.9" stroke="#ff4fa0" stroke-width="1.6" fill="none" stroke-linejoin="round"/>
<path d="M41.0 453.9 41.5 453.9 42.0 453.9 42.5 453.9 43.0 453.9 43.5 453.9 44.0 453.9 44.5 453.9 45.0 453.9 45.5 453.9 46.0 453.9 46.5 453.9 47.0 453.9 47.5 453.9 48.0 453.9 48.5 453.9 49.0 453.9 49.5 453.9 50.0 453.9 50.5 453.9 51.0 452.3 51.5 450.2 52.0 448.3 52.5 446.4 53.0 444.6 53.5 442.9 54.0 441.2 54.5 439.6 55.0 438.1 55.5 436.6 56.0 435.1 56.5 433.7 57.0 432.4 57.5 431.1 58.0 429.8 58.5 428.6 59.0 427.4 59.5 426.3 60.0 425.2 60.5 424.1 61.0 423.1 61.5 422.0 62.0 421.1 62.5 420.1 63.0 419.2 63.5 418.4 64.0 417.5 64.5 416.7 65.0 415.9 65.5 415.1 66.0 414.4 66.5 413.7 67.0 413.0 67.5 412.3 68.0 411.7 68.5 411.1 69.0 410.5 69.5 409.9 70.0 409.4 70.5 408.9 71.0 408.4 71.5 407.9 72.0 407.5 72.5 407.0 73.0 406.6 73.5 406.3 74.0 405.9 74.5 405.6 75.0 405.2 75.5 404.9 76.0 404.7 76.5 404.4 77.0 404.2 77.5 403.9 78.0 403.7 78.5 403.5 79.0 403.4 79.5 403.2 80.0 403.1 80.5 403.0 81.0 402.9 81.5 402.9 82.0 402.8 82.5 402.8 83.0 402.8 83.5 402.8 84.0 403.0 84.5 403.1 85.0 403.4 85.5 403.7 86.0 404.1 86.5 404.5 87.0 405.1 87.5 405.6 88.0 406.3 88.5 407.0 89.0 407.8 89.5 408.7 90.0 409.7 90.5 410.7 91.0 411.9 91.5 413.1 92.0 414.4 92.5 415.7 93.0 417.2 93.5 418.8 94.0 420.5 94.5 422.3 95.0 424.2 95.5 426.2 96.0 428.3 96.5 430.6 97.0 433.1 97.5 435.6 98.0 438.4 98.5 441.3 99.0 444.5 99.5 447.9 100.0 451.5 100.5 453.9 101.0 453.9 101.5 453.9 102.0 453.9 102.5 453.9 103.0 453.9 103.5 453.9 104.0 453.9 104.5 453.9 105.0 453.9 105.5 453.9 106.0 453.9 106.5 453.9 107.0 453.9 107.5 453.9 108.0 453.9 108.5 453.9 109.0 453.9 109.5 453.9 110.0 453.9 110.5 453.9 111.0 453.9 111.5 453.9 112.0 453.9 112.5 448.1 113.0 439.0 113.5 431.2 114.0 424.4 114.5 418.4 115.0 413.0 115.5 408.1 116.0 403.7 116.5 399.7 117.0 396.0 117.5 392.6 118.0 389.5 118.5 386.7 119.0 384.0 119.5 381.6 120.0 379.4 120.5 377.4 121.0 375.5 121.5 373.8 122.0 372.2 122.5 370.8 123.0 369.6 123.5 368.5 124.0 367.5 124.5 366.7 125.0 366.0 125.5 365.4 126.0 364.9 126.5 364.6 127.0 364.4 127.5 364.3 128.0 364.3 128.5 364.4 129.0 364.6 129.5 364.8 130.0 365.1 130.5 365.5 131.0 366.0 131.5 366.5 132.0 367.2 132.5 367.9 133.0 368.6 133.5 369.5 134.0 370.5 134.5 371.5 135.0 372.6 135.5 373.8 136.0 375.1 136.5 376.5 137.0 378.0 137.5 379.7 138.0 381.4 138.5 383.2 139.0 385.2 139.5 387.3 140.0 389.5 140.5 391.9 141.0 394.4 141.5 397.1 142.0 400.1 142.5 403.2 143.0 406.5 143.5 410.1 144.0 414.0 144.5 418.2 145.0 421.9 145.5 420.9 146.0 419.9 146.5 419.0 147.0 418.1 147.5 417.3 148.0 416.4 148.5 415.6 149.0 414.9 149.5 414.1 150.0 413.4 150.5 412.7 151.0 412.0 151.5 411.3 152.0 410.7 152.5 410.1 153.0 409.5 153.5 408.9 154.0 408.4 154.5 407.8 155.0 407.3 155.5 406.9 156.0 406.4 156.5 405.9 157.0 405.5 157.5 405.1 158.0 404.7 158.5 404.4 159.0 404.0 159.5 403.7 160.0 403.4 160.5 403.1 161.0 402.8 161.5 402.6 162.0 402.3 162.5 402.1 163.0 401.9 163.5 401.7 164.0 401.6 164.5 401.4 165.0 401.3 165.5 401.2 166.0 401.1 166.5 401.0 167.0 401.0 167.5 400.9 168.0 400.9 168.5 400.9 169.0 401.2 169.5 402.1 170.0 403.4 170.5 405.2 171.0 407.5 171.5 410.4 172.0 413.9 172.5 418.1 173.0 423.0 173.5 428.9 174.0 435.7 174.5 443.9 175.0 453.8 175.5 453.9 176.0 453.9 176.5 453.9 177.0 453.9 177.5 453.9 178.0 453.9 178.5 451.4 179.0 447.2 179.5 443.3 180.0 439.8 180.5 436.6 181.0 433.6 181.5 430.8 182.0 428.3 182.5 426.0 183.0 423.9 183.5 422.0 184.0 420.2 184.5 418.6 185.0 417.2 185.5 415.9 186.0 414.7 186.5 413.7 187.0 412.9 187.5 412.1 188.0 411.5 188.5 411.0 189.0 410.7 189.5 410.5 190.0 410.4 190.5 410.5 191.0 410.8 191.5 411.5 192.0 412.4 192.5 413.6 193.0 415.1 193.5 416.8 194.0 419.0 194.5 421.4 195.0 424.2 195.5 427.5 196.0 431.1 196.5 435.2 197.0 439.9 197.5 445.2 198.0 451.2 198.5 453.9 199.0 453.9 199.5 453.9 200.0 453.9 200.5 453.9 201.0 453.9 201.5 453.9 202.0 453.9 202.5 453.9 203.0 453.9 203.5 453.9 204.0 453.9 204.5 453.9 205.0 453.9 205.5 453.9 206.0 453.9 206.5 453.9 207.0 453.9 207.5 453.9 208.0 453.9 208.5 453.9 209.0 453.9 209.5 453.9 210.0 453.9 210.5 453.9 211.0 453.9 211.5 453.9 212.0 453.9 212.5 453.9 213.0 453.9 213.5 453.9 214.0 453.9 214.5 453.9 215.0 453.9 215.5 453.9 216.0 453.9 216.5 453.9 217.0 453.9 217.5 453.9 218.0 453.9 218.5 453.9 219.0 453.9 219.5 453.9 220.0 453.9 220.5 453.9 221.0 453.9 221.5 453.9 222.0 453.9 222.5 453.9 223.0 453.9 223.5 453.9 224.0 453.9 224.5 453.9 225.0 453.9 225.5 453.9 226.0 453.9 226.5 453.9 227.0 453.9 227.5 453.9 228.0 453.9 228.5 453.9 229.0 453.9 229.5 453.9 230.0 453.9 230.5 453.9 231.0 453.9 231.5 453.9 232.0 453.9 232.5 453.9 233.0 453.9 233.5 453.9 234.0 453.9 234.5 453.9 235.0 453.9 235.5 453.9 236.0 453.9 236.5 453.9 237.0 453.9 237.5 453.9 238.0 453.9 238.5 453.9 239.0 453.9 239.5 453.9 240.0 453.9 240.5 453.9 241.0 453.9 241.5 453.9 242.0 453.9 242.5 453.9 243.0 453.9 243.5 453.9 244.0 453.9 244.5 453.9 245.0 453.9 245.5 453.9 246.0 453.9 246.5 453.9 247.0 453.9 247.5 453.9 248.0 453.9 248.5 453.9 249.0 453.9 249.5 453.9 250.0 453.9 250.5 453.9 251.0 453.9 251.5 453.9 252.0 453.9 252.5 453.9 253.0 453.9 253.5 453.9 254.0 453.9 254.5 453.9 255.0 453.9 255.5 453.9 256.0 453.9 256.5 453.9 257.0 453.9 257.5 453.9 258.0 453.9 258.5 453.9 259.0 453.9 259.5 453.9 260.0 453.9 260.5 453.9 261.0 453.9 261.5 453.9 262.0 453.9 262.5 453.9 263.0 453.9 263.5 453.9 264.0 453.9 264.5 453.9 265.0 453.9 265.5 453.9 266.0 453.9 266.5 453.9 267.0 453.9 267.5 453.9 268.0 453.9 268.5 453.9 269.0 453.9 269.5 453.9 270.0 453.9 270.5 453.9 271.0 453.9 271.5 453.9 272.0 453.9 272.5 453.9 273.0 453.9 273.5 453.9 274.0 453.9 274.5 453.9 275.0 453.9 275.5 453.9 276.0 453.9 276.5 453.9 277.0 453.9 277.5 453.9 278.0 453.9 278.5 453.9 279.0 453.9 279.5 453.9 280.0 453.9 280.5 453.9 281.0 453.9 281.5 453.9 282.0 453.9 282.5 453.9 283.0 453.9 283.5 453.9 284.0 453.9 284.5 453.9 285.0 453.9 285.5 453.9 286.0 453.9 286.5 453.9 287.0 453.9 287.5 453.9 288.0 453.9 288.5 453.9 289.0 453.9 289.5 453.9 290.0 453.9 290.5 453.9 291.0 453.9 291.5 453.9 292.0 453.9 292.5 453.9 293.0 453.9 293.5 453.9 294.0 453.9 294.5 453.9 295.0 453.9 295.5 453.9 296.0 453.9 296.5 453.9 297.0 453.9 297.5 453.9 298.0 453.9 298.5 453.9 299.0 453.9 299.5 453.9 300.0 453.9 300.5 453.9 301.0 453.9 301.5 453.9 302.0 453.9 302.5 453.9 303.0 453.9 303.5 453.9 304.0 453.9 304.5 453.9 305.0 453.9 305.5 453.9 306.0 453.9 306.5 453.9 307.0 453.9 307.5 453.9 308.0 453.9 308.5 453.9 309.0 453.9 309.5 453.9 310.0 453.9 310.5 453.9 311.0 453.9 311.5 453.9 312.0 453.9 312.5 453.9 313.0 453.9 313.5 453.9 314.0 453.9 314.5 453.9 315.0 453.9 315.5 453.9 316.0 453.9 316.5 453.9 317.0 453.9 317.5 453.9 318.0 453.9 318.5 453.9 319.0 453.9 319.5 453.9 320.0 453.9 320.5 453.9 321.0 453.9 321.5 453.9 322.0 453.9 322.5 453.9 323.0 453.9 323.5 453.9" stroke="#ff7f27" stroke-width="1.6" fill="none" stroke-linejoin="round"/>
<path d="M41.0 453.9 41.5 453.9 42.0 453.9 42.5 453.9 43.0 453.9 43.5 453.9 44.0 453.9 44.5 453.9 45.0 453.9 45.5 453.9 46.0 453.9 46.5 453.9 47.0 453.9 47.5 453.9 48.0 453.9 48.5 453.9 49.0 453.9 49.5 453.9 50.0 453.9 50.5 453.9 51.0 453.9 51.5 453.9 52.0 453.9 52.5 453.9 53.0 453.9 53.5 453.9 54.0 453.9 54.5 453.9 55.0 453.9 55.5 453.9 56.0 453.9 56.5 453.9 57.0 453.9 57.5 453.9 58.0 453.9 58.5 453.9 59.0 453.9 59.5 453.9 60.0 453.9 60.5 453.9 61.0 453.9 61.5 453.9 62.0 453.9 62.5 453.9 63.0 453.9 63.5 453.9 64.0 453.9 64.5 453.9 65.0 453.9 65.5 453.9 66.0 453.9 66.5 453.9 67.0 453.9 67.5 453.9 68.0 453.9 68.5 453.9 69.0 453.9 69.5 453.9 70.0 453.9 70.5 453.9 71.0 453.9 71.5 453.9 72.0 453.9 72.5 453.9 73.0 453.9 73.5 453.9 74.0 453.9 74.5 453.9 75.0 453.9 75.5 453.9 76.0 453.9 76.5 453.9 77.0 453.9 77.5 453.9 78.0 453.9 78.5 453.9 79.0 453.9 79.5 453.9 80.0 453.9 80.5 453.9 81.0 453.9 81.5 453.9 82.0 452.3 82.5 450.0 83.0 447.8 83.5 445.7 84.0 443.7 84.5 441.9 85.0 440.1 85.5 438.4 86.0 436.9 86.5 435.4 87.0 434.0 87.5 432.6 88.0 431.4 88.5 430.2 89.0 429.1 89.5 428.1 90.0 427.1 90.5 426.2 91.0 425.4 91.5 424.6 92.0 423.9 92.5 423.3 93.0 422.7 93.5 422.1 94.0 421.7 94.5 421.2 95.0 420.9 95.5 420.6 96.0 420.3 96.5 420.1 97.0 420.0 97.5 419.9 98.0 419.9 98.5 419.9 99.0 420.0 99.5 420.2 100.0 420.4 100.5 420.6 101.0 421.0 101.5 421.4 102.0 421.8 102.5 422.3 103.0 422.9 103.5 423.5 104.0 424.2 104.5 425.0 105.0 425.9 105.5 426.8 106.0 425.7 106.5 423.6 107.0 421.6 107.5 419.7 108.0 417.9 108.5 416.2 109.0 414.6 109.5 413.1 110.0 411.6 110.5 410.2 111.0 408.9 111.5 407.7 112.0 406.5 112.5 405.4 113.0 404.3 113.5 403.3 114.0 402.4 114.5 401.6 115.0 400.7 115.5 400.0 116.0 399.3 116.5 398.6 117.0 398.0 117.5 397.5 118.0 397.0 118.5 396.6 119.0 396.2 119.5 395.8 120.0 395.5 120.5 395.3 121.0 395.1 121.5 395.0 122.0 394.9 122.5 394.8 123.0 394.8 123.5 394.8 124.0 394.9 124.5 395.0 125.0 395.2 125.5 395.4 126.0 395.6 126.5 395.9 127.0 396.2 127.5 396.6 128.0 397.0 128.5 397.5 129.0 398.0 129.5 398.5 130.0 399.1 130.5 399.7 131.0 400.4 131.5 401.1 132.0 401.9 132.5 402.7 133.0 403.6 133.5 404.5 134.0 405.5 134.5 406.5 135.0 407.6 135.5 408.8 136.0 410.0 136.5 411.2 137.0 412.6 137.5 414.0 138.0 415.4 138.5 417.0 139.0 418.6 139.5 420.3 140.0 422.0 140.5 423.9 141.0 425.8 141.5 427.9 142.0 430.1 142.5 432.3 143.0 434.7 143.5 437.2 144.0 439.9 144.5 442.7 145.0 445.7 145.5 448.9 146.0 452.3 146.5 453.9 147.0 453.9 147.5 453.9 148.0 453.9 148.5 453.9 149.0 453.9 149.5 453.9 150.0 453.9 150.5 453.9 151.0 453.9 151.5 453.9 152.0 453.9 152.5 453.9 153.0 453.9 153.5 453.9 154.0 453.9 154.5 453.9 155.0 453.9 155.5 453.9 156.0 453.9 156.5 453.9 157.0 453.9 157.5 453.9 158.0 453.9 158.5 453.9 159.0 453.9 159.5 453.9 160.0 453.9 160.5 453.9 161.0 453.9 161.5 453.9 162.0 453.9 162.5 453.9 163.0 453.9 163.5 453.9 164.0 453.9 164.5 453.9 165.0 453.9 165.5 453.9 166.0 453.9 166.5 453.9 167.0 453.9 167.5 453.9 168.0 453.9 168.5 453.9 169.0 453.9 169.5 452.9 170.0 447.0 170.5 442.1 171.0 437.9 171.5 434.4 172.0 431.5 172.5 429.3 173.0 427.5 173.5 426.3 174.0 425.5 174.5 425.3 175.0 425.5 175.5 426.3 176.0 427.5 176.5 429.3 177.0 431.5 177.5 434.4 178.0 437.9 178.5 442.1 179.0 447.0 179.5 452.9 180.0 453.9 180.5 453.9 181.0 453.9 181.5 453.9 182.0 453.9 182.5 453.9 183.0 453.9 183.5 453.9 184.0 453.9 184.5 453.9 185.0 453.9 185.5 453.9 186.0 453.9 186.5 453.9 187.0 453.9 187.5 453.9 188.0 453.9 188.5 453.9 189.0 453.9 189.5 453.9 190.0 453.9 190.5 453.9 191.0 453.9 191.5 453.9 192.0 453.9 192.5 453.9 193.0 453.9 193.5 453.9 194.0 453.9 194.5 453.9 195.0 453.9 195.5 453.9 196.0 453.9 196.5 453.9 197.0 453.9 197.5 453.9 198.0 453.9 198.5 453.9 199.0 453.9 199.5 453.9 200.0 453.9 200.5 453.9 201.0 453.9 201.5 453.9 202.0 453.9 202.5 453.9 203.0 453.9 203.5 453.9 204.0 453.9 204.5 453.9 205.0 453.9 205.5 453.9 206.0 453.9 206.5 453.9 207.0 453.9 207.5 453.9 208.0 453.9 208.5 453.9 209.0 453.9 209.5 453.9 210.0 453.9 210.5 453.9 211.0 453.9 211.5 452.2 212.0 444.7 212.5 438.1 213.0 432.2 213.5 426.9 214.0 422.1 214.5 417.8 215.0 413.7 215.5 410.0 216.0 406.5 216.5 403.3 217.0 400.3 217.5 397.5 218.0 394.9 218.5 392.4 219.0 390.1 219.5 387.9 220.0 385.9 220.5 384.0 221.0 382.2 221.5 380.6 222.0 379.0 222.5 377.6 223.0 376.2 223.5 375.0 224.0 373.8 224.5 372.8 225.0 371.8 225.5 370.9 226.0 370.1 226.5 369.3 227.0 368.7 227.5 368.1 228.0 367.6 228.5 367.2 229.0 366.9 229.5 366.6 230.0 366.4 230.5 366.3 231.0 366.3 231.5 366.3 232.0 366.4 232.5 366.5 233.0 366.6 233.5 366.7 234.0 366.9 234.5 367.1 235.0 367.4 235.5 367.7 236.0 368.0 236.5 368.3 237.0 368.7 237.5 369.2 238.0 369.6 238.5 370.1 239.0 370.7 239.5 371.2 240.0 371.8 240.5 372.5 241.0 373.2 241.5 373.9 242.0 374.7 242.5 375.5 243.0 376.3 243.5 377.2 244.0 378.2 244.5 379.2 245.0 380.2 245.5 381.3 246.0 382.4 246.5 383.6 247.0 384.9 247.5 386.2 248.0 387.5 248.5 388.9 249.0 390.3 249.5 391.0 250.0 391.8 250.5 392.6 251.0 393.4 251.5 394.1 252.0 394.9 252.5 396.2 253.0 397.5 253.5 398.8 254.0 400.1 254.5 401.5 255.0 403.1 255.5 404.7 256.0 406.3 256.5 407.9 257.0 410.0 257.5 412.1 258.0 414.1 258.5 416.3 259.0 418.8 259.5 421.4 260.0 423.9 260.5 426.6 261.0 429.2 261.5 431.2 262.0 428.9 262.5 426.8 263.0 424.8 263.5 423.0 264.0 421.3 264.5 419.7 265.0 418.2 265.5 416.9 266.0 415.7 266.5 414.6 267.0 413.6 267.5 412.7 268.0 411.9 268.5 411.2 269.0 410.6 269.5 410.0 270.0 409.6 270.5 409.3 271.0 409.1 271.5 408.9 272.0 408.9 272.5 408.9 273.0 408.9 273.5 409.0 274.0 409.1 274.5 409.2 275.0 409.3 275.5 409.4 276.0 409.5 276.5 409.7 277.0 409.9 277.5 410.1 278.0 410.4 278.5 410.6 279.0 410.9 279.5 411.2 280.0 411.5 280.5 411.8 281.0 412.2 281.5 412.6 282.0 413.0 282.5 413.4 283.0 413.9 283.5 414.3 284.0 414.8 284.5 415.4 285.0 415.9 285.5 416.5 286.0 416.2 286.5 415.4 287.0 414.6 287.5 413.8 288.0 413.1 288.5 412.5 289.0 411.9 289.5 411.4 290.0 410.9 290.5 410.5 291.0 410.1 291.5 409.8 292.0 409.5 292.5 409.3 293.0 409.2 293.5 409.1 294.0 409.0 294.5 409.0 295.0 409.0 295.5 409.1 296.0 409.1 296.5 409.2 297.0 409.4 297.5 409.5 298.0 409.7 298.5 409.9 299.0 410.1 299.5 410.4 300.0 410.7 300.5 411.0 301.0 411.3 301.5 411.7 302.0 412.1 302.5 412.5 303.0 413.0 303.5 413.4 304.0 413.9 304.5 414.5 305.0 415.0 305.5 415.6 306.0 416.3 306.5 416.9 307.0 417.6 307.5 418.3 308.0 419.1 308.5 419.9 309.0 420.7 309.5 421.5 310.0 422.4 310.5 423.4 311.0 424.3 311.5 425.3 312.0 426.4 312.5 427.5 313.0 428.6 313.5 429.8 314.0 431.0 314.5 432.0 315.0 432.0 315.5 431.9 316.0 431.9 316.5 431.9 317.0 431.9 317.5 431.9 318.0 431.9 318.5 432.0 319.0 432.3 319.5 432.7 320.0 433.4 320.5 434.2 321.0 435.2 321.5 436.5 322.0 437.9 322.5 439.5 323.0 441.4 323.5 443.5" stroke="#ff7f27" stroke-width="1.6" fill="none" stroke-linejoin="round"/>
<path d="M41.0 453.9 41.5 453.9 42.0 453.9 42.5 453.9 43.0 453.9 43.5 453.9 44.0 453.9 44.5 453.9 45.0 453.9 45.5 453.9 46.0 453.9 46.5 453.9 47.0 453.9 47.5 453.9 48.0 453.9 48.5 453.9 49.0 453.9 49.5 453.9 50.0 453.9 50.5 453.9 51.0 453.9 51.5 453.9 52.0 453.9 52.5 453.9 53.0 453.9 53.5 453.9 54.0 453.9 54.5 453.9 55.0 453.9 55.5 453.9 56.0 453.9 56.5 453.9 57.0 453.9 57.5 453.9 58.0 453.9 58.5 453.9 59.0 453.9 59.5 453.9 60.0 453.0 60.5 451.0 61.0 449.0 61.5 447.1 62.0 445.2 62.5 443.4 63.0 441.7 63.5 440.1 64.0 438.5 64.5 437.0 65.0 435.5 65.5 434.1 66.0 432.7 66.5 431.4 67.0 430.1 67.5 428.9 68.0 427.7 68.5 426.5 69.0 425.4 69.5 424.3 70.0 423.3 70.5 422.2 71.0 421.3 71.5 420.3 72.0 419.4 72.5 418.5 73.0 417.7 73.5 416.9 74.0 416.1 74.5 415.3 75.0 414.6 75.5 413.9 76.0 413.2 76.5 412.5 77.0 411.9 77.5 411.3 78.0 410.7 78.5 410.2 79.0 409.6 79.5 409.1 80.0 408.6 80.5 408.2 81.0 407.8 81.5 407.3 82.0 407.0 82.5 406.6 83.0 406.2 83.5 405.9 84.0 405.6 84.5 405.3 85.0 405.1 85.5 404.8 86.0 404.6 86.5 404.4 87.0 404.3 87.5 404.1 88.0 404.0 88.5 403.9 89.0 403.8 89.5 403.7 90.0 403.6 90.5 403.6 91.0 403.6 91.5 403.6 92.0 403.6 92.5 403.6 93.0 403.7 93.5 403.7 94.0 403.7 94.5 403.8 95.0 403.9 95.5 403.9 96.0 404.0 96.5 404.1 97.0 404.2 97.5 404.3 98.0 404.4 98.5 404.5 99.0 404.6 99.5 404.8 100.0 404.8 100.5 403.5 101.0 402.3 101.5 401.1 102.0 400.1 102.5 399.0 103.0 398.1 103.5 397.2 104.0 396.3 104.5 395.5 105.0 394.8 105.5 394.1 106.0 393.4 106.5 392.8 107.0 392.3 107.5 391.8 108.0 391.3 108.5 390.9 109.0 390.6 109.5 390.3 110.0 390.0 110.5 389.8 111.0 389.6 111.5 389.5 112.0 389.4 112.5 389.4 113.0 389.4 113.5 389.5 114.0 389.7 114.5 389.9 115.0 390.2 115.5 390.5 116.0 391.0 116.5 391.5 117.0 392.0 117.5 392.7 118.0 393.4 118.5 394.2 119.0 395.1 119.5 396.0 120.0 397.0 120.5 398.2 121.0 399.4 121.5 400.6 122.0 402.0 122.5 403.5 123.0 405.1 123.5 406.7 124.0 408.5 124.5 410.4 125.0 412.4 125.5 414.6 126.0 416.8 126.5 419.3 127.0 421.9 127.5 424.6 128.0 427.6 128.5 428.7 129.0 429.5 129.5 430.3 130.0 431.1 130.5 431.9 131.0 432.7 131.5 433.6 132.0 434.5 132.5 435.4 133.0 436.3 133.5 437.2 134.0 438.2 134.5 439.1 135.0 440.1 135.5 441.1 136.0 442.2 136.5 443.3 137.0 444.4 137.5 445.5 138.0 446.6 138.5 447.8 139.0 449.0 139.5 450.2 140.0 451.5 140.5 452.8 141.0 453.9 141.5 453.9 142.0 453.9 142.5 453.9 143.0 453.9 143.5 453.9 144.0 453.9 144.5 453.9 145.0 453.9 145.5 453.9 146.0 453.9 146.5 453.9 147.0 453.9 147.5 453.9 148.0 453.9 148.5 453.9 149.0 453.9 149.5 453.9 150.0 453.9 150.5 453.9 151.0 453.9 151.5 453.9 152.0 453.9 152.5 453.9 153.0 453.9 153.5 453.9 154.0 453.9 154.5 453.9 155.0 453.9 155.5 453.9 156.0 453.9 156.5 453.9 157.0 453.9 157.5 453.9 158.0 453.9 158.5 453.9 159.0 453.9 159.5 453.9 160.0 453.9 160.5 453.9 161.0 453.9 161.5 453.9 162.0 453.9 162.5 453.9 163.0 453.9 163.5 453.9 164.0 453.9 164.5 450.6 165.0 441.1 165.5 433.1 166.0 426.1 166.5 419.9 167.0 414.4 167.5 409.5 168.0 404.9 168.5 400.8 169.0 397.0 169.5 393.6 170.0 390.4 170.5 387.4 171.0 384.7 171.5 382.2 172.0 379.9 172.5 377.8 173.0 375.8 173.5 374.0 174.0 372.4 174.5 370.9 175.0 369.5 175.5 368.3 176.0 367.2 176.5 366.3 177.0 365.4 177.5 364.7 178.0 364.1 178.5 363.6 179.0 363.3 179.5 363.0 180.0 362.9 180.5 362.9 181.0 363.1 181.5 363.5 182.0 364.2 182.5 365.0 183.0 366.1 183.5 367.4 184.0 369.0 184.5 370.8 185.0 372.9 185.5 375.3 186.0 378.0 186.5 381.0 187.0 384.3 187.5 388.1 188.0 392.3 188.5 397.0 189.0 402.2 189.5 408.2 190.0 408.9 190.5 406.7 191.0 404.9 191.5 403.5 192.0 402.3 192.5 401.5 193.0 401.1 193.5 400.9 194.0 401.1 194.5 401.7 195.0 402.8 195.5 404.3 196.0 406.3 196.5 408.8 197.0 411.7 197.5 415.3 198.0 419.4 198.5 424.3 199.0 430.0 199.5 436.6 200.0 444.5 200.5 442.7 201.0 436.9 201.5 432.0 202.0 427.9 202.5 424.5 203.0 421.7 203.5 419.4 204.0 417.8 204.5 416.6 205.0 416.0 205.5 415.8 206.0 416.1 206.5 416.9 207.0 418.1 207.5 419.8 208.0 421.9 208.5 424.6 209.0 427.9 209.5 431.8 210.0 436.3 210.5 441.7 211.0 447.9 211.5 453.9 212.0 453.9 212.5 453.9 213.0 453.9 213.5 453.9 214.0 453.9 214.5 453.9 215.0 453.9 215.5 453.9 216.0 453.9 216.5 453.9 217.0 453.9 217.5 453.9 218.0 453.9 218.5 453.9 219.0 453.9 219.5 453.9 220.0 453.9 220.5 453.9 221.0 453.9 221.5 453.9 222.0 453.9 222.5 453.9 223.0 453.9 223.5 453.9 224.0 453.9 224.5 453.9 225.0 453.9 225.5 453.9 226.0 453.9 226.5 453.9 227.0 453.9 227.5 453.9 228.0 450.9 228.5 447.0 229.0 443.6 229.5 440.6 230.0 437.9 230.5 435.5 231.0 433.4 231.5 431.6 232.0 430.1 232.5 428.8 233.0 427.7 233.5 426.9 234.0 426.4 234.5 426.0 235.0 425.9 235.5 426.0 236.0 426.4 236.5 426.9 237.0 427.7 237.5 428.8 238.0 430.1 238.5 431.6 239.0 433.4 239.5 435.5 240.0 437.9 240.5 440.6 241.0 443.6 241.5 447.0 242.0 450.9 242.5 453.9 243.0 453.9 243.5 453.9 244.0 453.9 244.5 453.9 245.0 453.9 245.5 453.9 246.0 453.9 246.5 453.9 247.0 453.9 247.5 453.9 248.0 453.9 248.5 453.9 249.0 453.9 249.5 453.9 250.0 453.9 250.5 453.9 251.0 453.9 251.5 453.9 252.0 453.9 252.5 453.9 253.0 453.9 253.5 453.9 254.0 453.9 254.5 453.9 255.0 453.9 255.5 453.9 256.0 453.9 256.5 453.9 257.0 453.9 257.5 453.9 258.0 453.9 258.5 453.9 259.0 453.9 259.5 453.9 260.0 453.9 260.5 453.9 261.0 453.9 261.5 453.9 262.0 453.9 262.5 453.9 263.0 453.9 263.5 453.9 264.0 453.9 264.5 453.9 265.0 453.9 265.5 453.9 266.0 453.9 266.5 453.9 267.0 453.9 267.5 453.9 268.0 453.9 268.5 453.9 269.0 453.9 269.5 453.9 270.0 453.9 270.5 453.9 271.0 453.9 271.5 453.9 272.0 453.9 272.5 453.9 273.0 453.9 273.5 453.9 274.0 453.9 274.5 453.9 275.0 453.9 275.5 453.9 276.0 453.9 276.5 453.9 277.0 453.9 277.5 453.9 278.0 453.9 278.5 453.9 279.0 453.9 279.5 453.9 280.0 453.9 280.5 453.9 281.0 453.9 281.5 453.9 282.0 453.9 282.5 453.9 283.0 453.9 283.5 453.9 284.0 453.9 284.5 453.9 285.0 453.9 285.5 453.9 286.0 453.9 286.5 453.9 287.0 453.9 287.5 453.9 288.0 453.9 288.5 453.9 289.0 453.9 289.5 453.9 290.0 453.9 290.5 453.9 291.0 453.9 291.5 453.9 292.0 453.9 292.5 453.9 293.0 453.9 293.5 453.9 294.0 453.9 294.5 453.9 295.0 453.9 295.5 453.9 296.0 453.9 296.5 453.9 297.0 453.9 297.5 453.9 298.0 453.9 298.5 453.9 299.0 453.9 299.5 453.9 300.0 453.9 300.5 453.9 301.0 453.9 301.5 453.9 302.0 453.9 302.5 453.9 303.0 453.9 303.5 453.9 304.0 453.9 304.5 453.9 305.0 453.9 305.5 453.9 306.0 453.9 306.5 453.9 307.0 453.9 307.5 453.9 308.0 453.9 308.5 453.9 309.0 453.9 309.5 453.9 310.0 453.9 310.5 453.9 311.0 453.9 311.5 453.9 312.0 453.9 312.5 453.9 313.0 453.9 313.5 453.9 314.0 453.9 314.5 453.9 315.0 453.9 315.5 453.9 316.0 453.9 316.5 453.9 317.0 453.9 317.5 453.9 318.0 453.9 318.5 453.9 319.0 453.9 319.5 453.9 320.0 453.9 320.5 453.9 321.0 453.9 321.5 453.9 322.0 453.9 322.5 453.9 323.0 453.9 323.5 453.9" stroke="#12a043" stroke-width="1.6" fill="none" stroke-linejoin="round"/>
<path d="M41.0 453.9 41.5 453.9 42.0 453.9 42.5 453.9 43.0 453.9 43.5 453.9 44.0 453.9 44.5 453.9 45.0 453.9 45.5 453.9 46.0 453.9 46.5 453.9 47.0 453.9 47.5 453.9 48.0 453.9 48.5 453.9 49.0 453.9 49.5 453.9 50.0 453.9 50.5 451.5 51.0 447.8 51.5 444.4 52.0 441.2 52.5 438.2 53.0 435.4 53.5 432.7 54.0 430.1 54.5 427.7 55.0 425.4 55.5 423.2 56.0 421.1 56.5 419.1 57.0 417.1 57.5 415.3 58.0 413.5 58.5 411.9 59.0 410.2 59.5 408.7 60.0 407.2 60.5 405.8 61.0 404.4 61.5 403.1 62.0 401.9 62.5 400.7 63.0 399.5 63.5 398.4 64.0 397.4 64.5 396.4 65.0 395.4 65.5 394.5 66.0 393.6 66.5 392.8 67.0 392.0 67.5 391.3 68.0 390.5 68.5 389.9 69.0 389.2 69.5 388.6 70.0 388.1 70.5 387.6 71.0 387.1 71.5 386.6 72.0 386.2 72.5 385.8 73.0 385.4 73.5 385.1 74.0 384.8 74.5 384.6 75.0 384.4 75.5 384.2 76.0 384.0 76.5 383.9 77.0 383.8 77.5 383.7 78.0 383.7 78.5 383.7 79.0 383.8 79.5 384.0 80.0 384.3 80.5 384.7 81.0 385.2 81.5 385.8 82.0 386.5 82.5 387.3 83.0 388.2 83.5 389.2 84.0 390.3 84.5 391.5 85.0 392.8 85.5 394.3 86.0 395.9 86.5 397.6 87.0 399.5 87.5 401.5 88.0 403.6 88.5 406.0 89.0 408.5 89.5 411.2 90.0 414.1 90.5 409.6 91.0 405.1 91.5 400.9 92.0 397.1 92.5 393.6 93.0 390.3 93.5 387.3 94.0 384.4 94.5 381.7 95.0 379.2 95.5 376.9 96.0 374.7 96.5 372.7 97.0 370.8 97.5 369.0 98.0 367.3 98.5 365.8 99.0 364.3 99.5 363.0 100.0 361.7 100.5 360.6 101.0 359.5 101.5 358.5 102.0 357.7 102.5 356.9 103.0 356.2 103.5 355.5 104.0 355.0 104.5 354.5 105.0 354.2 105.5 353.8 106.0 353.6 106.5 353.5 107.0 353.4 107.5 353.4 108.0 353.5 108.5 353.7 109.0 354.1 109.5 354.5 110.0 355.0 110.5 355.6 111.0 356.4 111.5 357.2 112.0 358.1 112.5 359.2 113.0 360.4 113.5 361.7 114.0 363.1 114.5 364.7 115.0 366.4 115.5 368.2 116.0 370.2 116.5 372.4 117.0 374.7 117.5 377.2 118.0 379.9 118.5 382.8 119.0 386.0 119.5 389.4 120.0 393.1 120.5 397.1 121.0 401.5 121.5 406.3 122.0 411.6 122.5 417.5 123.0 424.2 123.5 431.8 124.0 440.6 124.5 451.2 125.0 453.9 125.5 453.0 126.0 446.2 126.5 440.1 127.0 434.7 127.5 429.9 128.0 425.5 128.5 421.5 129.0 417.8 129.5 414.5 130.0 411.5 130.5 408.7 131.0 406.2 131.5 403.9 132.0 401.8 132.5 399.9 133.0 398.2 133.5 396.7 134.0 395.3 134.5 394.1 135.0 393.1 135.5 392.2 136.0 391.5 136.5 390.9 137.0 390.5 137.5 390.2 138.0 390.1 138.5 390.1 139.0 390.4 139.5 390.9 140.0 391.7 140.5 392.8 141.0 394.1 141.5 395.6 142.0 397.5 142.5 399.7 143.0 402.2 143.5 405.0 144.0 408.2 144.5 411.8 145.0 415.9 145.5 420.4 146.0 425.6 146.5 431.5 147.0 438.2 147.5 445.9 148.0 453.9 148.5 453.9 149.0 453.9 149.5 453.2 150.0 445.3 150.5 438.7 151.0 433.0 151.5 428.1 152.0 423.9 152.5 420.3 153.0 417.3 153.5 414.8 154.0 412.8 154.5 411.2 155.0 410.1 155.5 409.4 156.0 409.1 156.5 409.2 157.0 409.8 157.5 410.9 158.0 412.4 158.5 414.5 159.0 417.0 159.5 420.2 160.0 423.9 160.5 428.3 161.0 433.5 161.5 439.6 162.0 446.8 162.5 453.9 163.0 453.9 163.5 453.9 164.0 453.9 164.5 453.9 165.0 453.9 165.5 453.9 166.0 453.9 166.5 453.9 167.0 453.9 167.5 453.9 168.0 453.9 168.5 453.9 169.0 453.9 169.5 453.9 170.0 453.9 170.5 453.9 171.0 453.9 171.5 453.9 172.0 453.9 172.5 453.9 173.0 453.9 173.5 453.9 174.0 453.9 174.5 453.9 175.0 453.9 175.5 453.9 176.0 453.9 176.5 453.9 177.0 453.9 177.5 453.9 178.0 453.9 178.5 453.9 179.0 453.9 179.5 453.9 180.0 453.9 180.5 453.9 181.0 453.9 181.5 453.9 182.0 453.9 182.5 453.9 183.0 453.9 183.5 453.9 184.0 453.9 184.5 453.9 185.0 453.9 185.5 453.9 186.0 453.9 186.5 453.9 187.0 453.9 187.5 453.9 188.0 453.9 188.5 453.9 189.0 453.9 189.5 453.9 190.0 453.9 190.5 453.9 191.0 453.9 191.5 453.9 192.0 453.9 192.5 453.9 193.0 453.9 193.5 453.9 194.0 449.3 194.5 442.7 195.0 437.0 195.5 431.9 196.0 427.4 196.5 423.4 197.0 419.8 197.5 416.7 198.0 413.9 198.5 411.5 199.0 409.3 199.5 407.5 200.0 406.0 200.5 404.7 201.0 403.8 201.5 403.0 202.0 402.5 202.5 402.3 203.0 402.4 203.5 402.8 204.0 403.7 204.5 405.0 205.0 406.8 205.5 409.0 206.0 411.7 206.5 415.0 207.0 418.8 207.5 423.3 208.0 428.5 208.5 434.6 209.0 441.8 209.5 450.3 210.0 453.9 210.5 453.9 211.0 453.9 211.5 453.9 212.0 453.9 212.5 453.9 213.0 453.9 213.5 450.7 214.0 447.1 214.5 443.8 215.0 440.8 215.5 437.9 216.0 435.3 216.5 432.9 217.0 430.6 217.5 428.5 218.0 426.5 218.5 424.6 219.0 422.9 219.5 421.4 220.0 419.9 220.5 418.6 221.0 417.3 221.5 416.2 222.0 415.2 222.5 414.3 223.0 413.5 223.5 412.8 224.0 412.2 224.5 411.6 225.0 411.2 225.5 410.9 226.0 410.6 226.5 410.5 227.0 410.4 227.5 410.5 228.0 410.8 228.5 411.4 229.0 412.3 229.5 413.5 230.0 414.9 230.5 416.7 231.0 418.8 231.5 421.2 232.0 423.9 232.5 427.0 233.0 430.6 233.5 434.6 234.0 439.1 234.5 444.3 235.0 450.1 235.5 453.9 236.0 453.9 236.5 453.9 237.0 453.9 237.5 453.9 238.0 453.9 238.5 453.9 239.0 453.9 239.5 453.9 240.0 453.9 240.5 453.9 241.0 453.9 241.5 453.9 242.0 453.9 242.5 453.9 243.0 453.9 243.5 453.9 244.0 453.9 244.5 453.9 245.0 453.9 245.5 453.9 246.0 453.9 246.5 453.9 247.0 453.9 247.5 453.9 248.0 453.9 248.5 453.9 249.0 453.9 249.5 453.9 250.0 453.9 250.5 453.9 251.0 453.9 251.5 453.9 252.0 453.9 252.5 453.9 253.0 453.9 253.5 453.9 254.0 453.9 254.5 453.9 255.0 453.9 255.5 453.9 256.0 453.9 256.5 453.9 257.0 453.9 257.5 449.5 258.0 445.2 258.5 441.3 259.0 437.9 259.5 434.7 260.0 431.9 260.5 429.4 261.0 427.1 261.5 425.1 262.0 423.4 262.5 421.9 263.0 420.6 263.5 419.5 264.0 418.6 264.5 418.0 265.0 417.5 265.5 417.3 266.0 417.2 266.5 417.3 267.0 417.4 267.5 417.7 268.0 418.1 268.5 418.6 269.0 419.2 269.5 419.9 270.0 420.7 270.5 421.6 271.0 422.6 271.5 423.8 272.0 425.0 272.5 426.4 273.0 427.9 273.5 429.6 274.0 431.4 274.5 433.3 275.0 435.4 275.5 437.7 276.0 440.2 276.5 442.8 277.0 445.6 277.5 448.7 278.0 452.1 278.5 453.9 279.0 453.9 279.5 453.9 280.0 453.9 280.5 453.9 281.0 453.9 281.5 453.9 282.0 453.9 282.5 453.9 283.0 453.9 283.5 453.9 284.0 453.9 284.5 453.9 285.0 453.9 285.5 453.9 286.0 453.9 286.5 453.9 287.0 453.9 287.5 453.9 288.0 453.9 288.5 453.9 289.0 453.9 289.5 453.9 290.0 453.9 290.5 453.9 291.0 453.9 291.5 453.9 292.0 453.9 292.5 453.9 293.0 453.9 293.5 453.9 294.0 453.9 294.5 453.9 295.0 453.9 295.5 453.9 296.0 453.9 296.5 453.9 297.0 453.9 297.5 453.9 298.0 453.9 298.5 453.9 299.0 453.9 299.5 453.9 300.0 453.9 300.5 453.9 301.0 453.9 301.5 453.9 302.0 453.7 302.5 450.8 303.0 448.2 303.5 445.8 304.0 443.6 304.5 441.7 305.0 439.9 305.5 438.3 306.0 437.0 306.5 435.7 307.0 434.7 307.5 433.8 308.0 433.1 308.5 432.6 309.0 432.2 309.5 432.0 310.0 431.9 310.5 432.0 311.0 432.2 311.5 432.6 312.0 433.1 312.5 433.8 313.0 434.7 313.5 435.7 314.0 437.0 314.5 438.3 315.0 439.9 315.5 441.7 316.0 443.6 316.5 445.8 317.0 448.2 317.5 450.8 318.0 453.7 318.5 453.9 319.0 453.9 319.5 453.9 320.0 453.9 320.5 453.9 321.0 453.9 321.5 453.9 322.0 453.9 322.5 453.9 323.0 453.9 323.5 453.9" stroke="#0f8b8d" stroke-width="1.6" fill="none" stroke-linejoin="round"/>
<path d="M41.0 453.9 41.5 453.9 42.0 453.9 42.5 453.9 43.0 453.9 43.5 453.9 44.0 453.9 44.5 453.9 45.0 453.9 45.5 453.9 46.0 453.9 46.5 453.9 47.0 453.9 47.5 453.9 48.0 453.9 48.5 453.9 49.0 453.9 49.5 453.9 50.0 453.9 50.5 453.9 51.0 453.9 51.5 453.9 52.0 453.9 52.5 453.9 53.0 453.9 53.5 453.9 54.0 453.9 54.5 453.9 55.0 453.9 55.5 453.9 56.0 453.9 56.5 453.9 57.0 453.9 57.5 453.9 58.0 453.9 58.5 453.9 59.0 453.9 59.5 453.9 60.0 453.9 60.5 453.9 61.0 453.9 61.5 453.9 62.0 453.9 62.5 453.9 63.0 453.9 63.5 453.9 64.0 453.9 64.5 453.9 65.0 453.9 65.5 453.9 66.0 453.9 66.5 453.9 67.0 453.9 67.5 453.9 68.0 453.9 68.5 453.9 69.0 453.9 69.5 453.9 70.0 453.9 70.5 453.9 71.0 453.9 71.5 453.9 72.0 453.9 72.5 453.9 73.0 453.9 73.5 453.9 74.0 453.9 74.5 453.9 75.0 453.9 75.5 453.9 76.0 453.9 76.5 453.9 77.0 453.9 77.5 453.9 78.0 453.9 78.5 453.9 79.0 453.9 79.5 453.9 80.0 453.9 80.5 453.9 81.0 453.9 81.5 453.9 82.0 453.9 82.5 453.9 83.0 453.9 83.5 453.9 84.0 453.9 84.5 453.9 85.0 453.9 85.5 453.9 86.0 453.9 86.5 453.9 87.0 453.9 87.5 453.9 88.0 453.9 88.5 453.9 89.0 453.9 89.5 453.9 90.0 453.9 90.5 453.9 91.0 453.9 91.5 453.9 92.0 453.9 92.5 453.9 93.0 453.9 93.5 453.9 94.0 453.9 94.5 453.9 95.0 453.9 95.5 453.9 96.0 453.9 96.5 453.9 97.0 453.9 97.5 453.9 98.0 453.9 98.5 453.9 99.0 452.9 99.5 447.0 100.0 441.9 100.5 437.3 101.0 433.3 101.5 429.8 102.0 426.7 102.5 424.1 103.0 421.7 103.5 419.8 104.0 418.1 104.5 416.8 105.0 415.8 105.5 415.1 106.0 414.6 106.5 414.5 107.0 414.6 107.5 414.9 108.0 415.5 108.5 416.3 109.0 417.3 109.5 418.6 110.0 420.1 110.5 421.9 111.0 423.9 111.5 426.3 112.0 428.9 112.5 431.9 113.0 435.2 113.5 438.9 114.0 443.1 114.5 447.8 115.0 453.1 115.5 453.9 116.0 453.9 116.5 450.7 117.0 443.2 117.5 436.7 118.0 431.0 118.5 426.0 119.0 421.5 119.5 417.5 120.0 413.9 120.5 410.7 121.0 407.9 121.5 405.4 122.0 403.1 122.5 401.2 123.0 399.6 123.5 398.2 124.0 397.0 124.5 396.1 125.0 395.5 125.5 395.0 126.0 394.8 126.5 394.8 127.0 394.9 127.5 395.2 128.0 395.5 128.5 396.0 129.0 396.5 129.5 397.2 130.0 398.0 130.5 398.9 131.0 400.0 131.5 401.2 132.0 402.4 132.5 403.9 133.0 405.5 133.5 407.2 134.0 409.0 134.5 403.9 135.0 398.7 135.5 394.1 136.0 389.9 136.5 386.1 137.0 382.8 137.5 379.8 138.0 377.1 138.5 374.6 139.0 372.5 139.5 370.6 140.0 369.0 140.5 367.6 141.0 366.4 141.5 365.4 142.0 364.6 142.5 364.1 143.0 363.7 143.5 363.6 144.0 363.7 144.5 363.9 145.0 364.2 145.5 364.7 146.0 365.4 146.5 366.3 147.0 367.3 147.5 368.5 148.0 369.8 148.5 371.4 149.0 373.1 149.5 375.1 150.0 377.2 150.5 379.6 151.0 382.3 151.5 385.2 152.0 388.3 152.5 391.8 153.0 395.7 153.5 398.6 154.0 397.9 154.5 397.3 155.0 396.7 155.5 396.3 156.0 395.9 156.5 395.7 157.0 395.5 157.5 395.5 158.0 395.6 158.5 396.0 159.0 396.6 159.5 397.4 160.0 398.5 160.5 399.8 161.0 401.4 161.5 403.3 162.0 405.5 162.5 408.0 163.0 410.8 163.5 414.0 164.0 417.6 164.5 421.6 165.0 426.1 165.5 431.1 166.0 436.9 166.5 443.4 167.0 450.9 167.5 453.9 168.0 453.9 168.5 453.9 169.0 453.9 169.5 453.9 170.0 453.9 170.5 453.9 171.0 453.9 171.5 453.9 172.0 453.9 172.5 453.9 173.0 453.9 173.5 453.9 174.0 453.9 174.5 453.9 175.0 453.9 175.5 453.9 176.0 453.9 176.5 453.9 177.0 453.9 177.5 453.9 178.0 453.9 178.5 453.9 179.0 451.9 179.5 447.7 180.0 444.0 180.5 440.7 181.0 437.9 181.5 435.5 182.0 433.4 182.5 431.7 183.0 430.3 183.5 429.3 184.0 428.5 184.5 428.0 185.0 427.9 185.5 428.0 186.0 428.5 186.5 429.3 187.0 430.3 187.5 431.7 188.0 433.4 188.5 435.5 189.0 437.9 189.5 440.7 190.0 444.0 190.5 447.7 191.0 451.9 191.5 453.9 192.0 453.9 192.5 453.9 193.0 453.9 193.5 453.9 194.0 453.9 194.5 453.9 195.0 453.9 195.5 453.9 196.0 453.9 196.5 453.9 197.0 453.9 197.5 453.9 198.0 453.9 198.5 453.9 199.0 453.9 199.5 453.9 200.0 453.9 200.5 453.9 201.0 453.9 201.5 453.9 202.0 453.9 202.5 453.9 203.0 453.9 203.5 453.9 204.0 453.9 204.5 453.9 205.0 453.9 205.5 453.9 206.0 453.9 206.5 453.9 207.0 453.9 207.5 453.9 208.0 453.9 208.5 453.9 209.0 451.5 209.5 445.2 210.0 439.7 210.5 435.0 211.0 430.8 211.5 427.1 212.0 423.9 212.5 421.1 213.0 418.8 213.5 416.8 214.0 415.1 214.5 413.8 215.0 412.9 215.5 412.2 216.0 411.9 216.5 411.8 217.0 412.2 217.5 413.0 218.0 414.2 218.5 415.9 219.0 418.1 219.5 420.7 220.0 423.9 220.5 427.7 221.0 432.1 221.5 437.2 222.0 443.2 222.5 450.2 223.0 453.9 223.5 453.9 224.0 453.9 224.5 453.9 225.0 453.9 225.5 453.9 226.0 453.9 226.5 453.9 227.0 453.9 227.5 453.9 228.0 453.9 228.5 453.9 229.0 453.9 229.5 453.9 230.0 453.9 230.5 453.9 231.0 453.9 231.5 453.9 232.0 453.9 232.5 453.9 233.0 453.9 233.5 453.9 234.0 453.9 234.5 453.9 235.0 453.9 235.5 453.9 236.0 453.9 236.5 453.9 237.0 453.9 237.5 453.9 238.0 453.9 238.5 453.9 239.0 453.9 239.5 453.9 240.0 453.9 240.5 453.9 241.0 453.9 241.5 453.9 242.0 453.9 242.5 453.9 243.0 453.9 243.5 453.9 244.0 447.3 244.5 441.3 245.0 436.2 245.5 431.7 246.0 427.9 246.5 424.6 247.0 421.8 247.5 419.5 248.0 417.6 248.5 416.1 249.0 415.0 249.5 414.3 250.0 413.9 250.5 414.0 251.0 414.5 251.5 415.5 252.0 416.9 252.5 418.8 253.0 421.3 253.5 424.3 254.0 427.9 254.5 432.2 255.0 437.2 255.5 443.1 256.0 450.1 256.5 453.9 257.0 453.9 257.5 453.9 258.0 453.9 258.5 453.9 259.0 453.9 259.5 453.9 260.0 453.9 260.5 453.9 261.0 453.9 261.5 453.9 262.0 453.9 262.5 453.9 263.0 453.9 263.5 453.9 264.0 453.9 264.5 453.9 265.0 453.9 265.5 453.9 266.0 453.9 266.5 453.9 267.0 453.9 267.5 453.9 268.0 453.9 268.5 453.9 269.0 453.9 269.5 453.9 270.0 453.9 270.5 453.9 271.0 453.9 271.5 453.9 272.0 453.9 272.5 453.9 273.0 453.9 273.5 453.9 274.0 453.9 274.5 453.9 275.0 453.9 275.5 453.9 276.0 453.9 276.5 453.9 277.0 453.9 277.5 453.9 278.0 453.9 278.5 453.9 279.0 453.9 279.5 453.9 280.0 453.9 280.5 453.9 281.0 453.9 281.5 453.9 282.0 453.9 282.5 453.9 283.0 453.9 283.5 453.9 284.0 453.9 284.5 453.9 285.0 453.9 285.5 453.9 286.0 453.9 286.5 453.9 287.0 452.6 287.5 449.0 288.0 445.7 288.5 442.8 289.0 440.2 289.5 437.9 290.0 435.9 290.5 434.1 291.0 432.6 291.5 431.3 292.0 430.2 292.5 429.3 293.0 428.7 293.5 428.3 294.0 428.0 294.5 428.0 295.0 428.2 295.5 428.5 296.0 429.0 296.5 429.7 297.0 430.5 297.5 431.6 298.0 432.8 298.5 434.3 299.0 435.9 299.5 437.8 300.0 439.8 300.5 442.1 301.0 444.7 301.5 447.5 302.0 450.7 302.5 453.9 303.0 453.9 303.5 453.9 304.0 453.9 304.5 453.9 305.0 453.9 305.5 453.9 306.0 453.9 306.5 453.9 307.0 453.9 307.5 453.9 308.0 453.9 308.5 453.9 309.0 453.9 309.5 453.9 310.0 453.9 310.5 453.9 311.0 453.9 311.5 453.9 312.0 453.9 312.5 453.9 313.0 453.9 313.5 453.9 314.0 453.9 314.5 453.9 315.0 453.9 315.5 453.9 316.0 453.9 316.5 453.9 317.0 453.9 317.5 453.9 318.0 453.9 318.5 453.9 319.0 453.9 319.5 453.9 320.0 453.9 320.5 453.9 321.0 453.9 321.5 453.9 322.0 453.9 322.5 453.9 323.0 453.9 323.5 453.9" stroke="#8d1b1b" stroke-width="1.6" fill="none" stroke-linejoin="round"/>
<path d="M41.0 441.8 41.5 440.2 42.0 438.7 42.5 437.3 43.0 435.9 43.5 434.6 44.0 433.3 44.5 432.0 45.0 430.8 45.5 429.7 46.0 428.6 46.5 427.5 47.0 426.5 47.5 425.5 48.0 424.5 48.5 423.6 49.0 422.7 49.5 421.9 50.0 421.1 50.5 420.3 51.0 419.6 51.5 418.9 52.0 418.2 52.5 417.5 53.0 416.9 53.5 416.3 54.0 415.8 54.5 415.2 55.0 414.7 55.5 414.3 56.0 413.8 56.5 413.4 57.0 413.0 57.5 412.6 58.0 412.3 58.5 412.0 59.0 411.7 59.5 411.5 60.0 411.2 60.5 411.0 61.0 410.8 61.5 410.7 62.0 410.6 62.5 410.5 63.0 410.4 63.5 410.3 64.0 410.3 64.5 410.3 65.0 410.3 65.5 410.4 66.0 410.5 66.5 410.7 67.0 410.9 67.5 411.1 68.0 411.4 68.5 411.7 69.0 412.1 69.5 412.5 70.0 412.9 70.5 413.4 71.0 413.9 71.5 414.5 72.0 415.1 72.5 415.8 73.0 416.5 73.5 417.2 74.0 418.0 74.5 418.8 75.0 419.7 75.5 420.7 76.0 421.7 76.5 422.7 77.0 423.9 77.5 425.0 78.0 426.2 78.5 427.5 79.0 428.9 79.5 430.3 80.0 431.8 80.5 433.3 81.0 435.0 81.5 436.7 82.0 438.5 82.5 440.4 83.0 442.3 83.5 444.4 84.0 446.6 84.5 448.9 85.0 451.3 85.5 453.8 86.0 453.9 86.5 453.9 87.0 453.9 87.5 453.9 88.0 453.9 88.5 453.9 89.0 453.9 89.5 453.9 90.0 453.9 90.5 453.9 91.0 453.9 91.5 453.9 92.0 453.9 92.5 453.9 93.0 453.9 93.5 453.9 94.0 453.9 94.5 453.9 95.0 453.9 95.5 453.9 96.0 453.9 96.5 453.9 97.0 453.9 97.5 453.9 98.0 453.9 98.5 453.9 99.0 453.9 99.5 453.9 100.0 453.9 100.5 453.9 101.0 453.9 101.5 453.9 102.0 453.9 102.5 453.9 103.0 453.9 103.5 453.9 104.0 453.9 104.5 453.9 105.0 453.9 105.5 453.9 106.0 453.9 106.5 453.9 107.0 453.9 107.5 453.9 108.0 453.9 108.5 453.9 109.0 453.9 109.5 453.9 110.0 453.9 110.5 453.9 111.0 453.9 111.5 453.9 112.0 453.9 112.5 453.9 113.0 453.9 113.5 453.9 114.0 451.9 114.5 447.7 115.0 444.0 115.5 440.7 116.0 437.9 116.5 435.5 117.0 433.4 117.5 431.7 118.0 430.3 118.5 429.3 119.0 428.5 119.5 428.0 120.0 427.9 120.5 428.0 121.0 428.5 121.5 429.3 122.0 430.3 122.5 431.7 123.0 433.4 123.5 435.5 124.0 437.9 124.5 440.7 125.0 444.0 125.5 447.7 126.0 450.7 126.5 447.1 127.0 443.8 127.5 440.6 128.0 437.7 128.5 435.0 129.0 432.5 129.5 430.1 130.0 427.9 130.5 425.8 131.0 423.9 131.5 422.1 132.0 420.4 132.5 418.8 133.0 417.3 133.5 416.0 134.0 414.7 134.5 413.5 135.0 412.5 135.5 411.5 136.0 410.6 136.5 409.8 137.0 409.1 137.5 408.5 138.0 407.9 138.5 407.4 139.0 407.1 139.5 406.8 140.0 406.5 140.5 406.4 141.0 406.3 141.5 406.3 142.0 406.5 142.5 406.8 143.0 407.2 143.5 407.8 144.0 408.5 144.5 409.3 145.0 410.3 145.5 411.5 146.0 412.8 146.5 414.3 147.0 415.9 147.5 417.7 148.0 419.7 148.5 421.9 149.0 424.3 149.5 427.0 150.0 429.9 150.5 424.1 151.0 415.9 151.5 408.8 152.0 402.6 152.5 397.1 153.0 392.2 153.5 387.9 154.0 383.9 154.5 380.4 155.0 377.3 155.5 374.4 156.0 371.9 156.5 369.7 157.0 367.7 157.5 366.0 158.0 364.5 158.5 363.2 159.0 362.2 159.5 361.4 160.0 360.8 160.5 360.4 161.0 360.2 161.5 360.3 162.0 360.6 162.5 361.3 163.0 362.3 163.5 363.7 164.0 365.4 164.5 367.5 165.0 370.0 165.5 372.9 166.0 376.3 166.5 380.2 167.0 384.6 167.5 389.7 168.0 395.5 168.5 402.3 169.0 410.1 169.5 419.5 170.0 430.9 170.5 429.1 171.0 425.7 171.5 422.7 172.0 419.9 172.5 417.4 173.0 415.1 173.5 413.0 174.0 411.1 174.5 409.5 175.0 408.0 175.5 406.7 176.0 405.6 176.5 404.6 177.0 403.8 177.5 403.2 178.0 402.8 178.5 402.5 179.0 402.3 179.5 402.4 180.0 402.7 180.5 403.5 181.0 404.6 181.5 406.0 182.0 407.8 182.5 410.0 183.0 412.7 183.5 415.8 184.0 419.4 184.5 423.5 185.0 428.3 185.5 433.8 186.0 440.1 186.5 447.5 187.0 453.9 187.5 453.9 188.0 453.9 188.5 453.9 189.0 453.9 189.5 453.9 190.0 453.9 190.5 453.9 191.0 453.9 191.5 453.9 192.0 453.9 192.5 453.9 193.0 453.9 193.5 453.9 194.0 453.9 194.5 453.9 195.0 453.9 195.5 453.9 196.0 453.9 196.5 453.9 197.0 453.9 197.5 453.9 198.0 453.9 198.5 453.9 199.0 451.9 199.5 447.7 200.0 444.0 200.5 440.7 201.0 437.9 201.5 435.5 202.0 433.4 202.5 431.7 203.0 430.3 203.5 429.3 204.0 428.5 204.5 428.0 205.0 427.9 205.5 428.0 206.0 428.5 206.5 429.3 207.0 430.3 207.5 431.7 208.0 433.4 208.5 435.5 209.0 437.9 209.5 440.7 210.0 444.0 210.5 447.7 211.0 451.9 211.5 453.9 212.0 453.9 212.5 453.9 213.0 453.9 213.5 453.9 214.0 453.9 214.5 453.9 215.0 453.9 215.5 453.9 216.0 453.9 216.5 453.9 217.0 453.9 217.5 453.9 218.0 453.9 218.5 453.9 219.0 453.9 219.5 453.9 220.0 453.9 220.5 453.9 221.0 453.9 221.5 453.9 222.0 453.9 222.5 453.9 223.0 453.9 223.5 453.9 224.0 453.9 224.5 453.9 225.0 453.9 225.5 453.9 226.0 453.9 226.5 453.9 227.0 453.9 227.5 453.9 228.0 453.9 228.5 453.9 229.0 453.9 229.5 453.9 230.0 453.9 230.5 453.9 231.0 453.9 231.5 453.9 232.0 453.9 232.5 453.9 233.0 453.9 233.5 453.9 234.0 453.9 234.5 453.9 235.0 453.9 235.5 453.9 236.0 453.9 236.5 453.9 237.0 453.9 237.5 453.9 238.0 453.9 238.5 453.9 239.0 453.9 239.5 453.9 240.0 453.9 240.5 453.9 241.0 453.9 241.5 453.9 242.0 453.9 242.5 453.9 243.0 453.9 243.5 453.9 244.0 453.9 244.5 453.9 245.0 453.9 245.5 453.9 246.0 453.9 246.5 453.9 247.0 453.9 247.5 453.9 248.0 453.9 248.5 453.9 249.0 453.9 249.5 453.9 250.0 453.9 250.5 453.9 251.0 453.9 251.5 453.9 252.0 453.9 252.5 453.9 253.0 453.9 253.5 453.9 254.0 453.9 254.5 453.9 255.0 453.9 255.5 453.9 256.0 453.9 256.5 453.9 257.0 453.9 257.5 453.9 258.0 453.2 258.5 449.1 259.0 445.5 259.5 442.5 260.0 439.9 260.5 437.7 261.0 436.0 261.5 434.6 262.0 433.7 262.5 433.1 263.0 432.8 263.5 432.9 264.0 433.5 264.5 434.4 265.0 435.8 265.5 437.6 266.0 439.9 266.5 442.7 267.0 446.0 267.5 449.9 268.0 453.9 268.5 453.9 269.0 453.9 269.5 453.9 270.0 453.9 270.5 453.9 271.0 453.9 271.5 453.9 272.0 453.9 272.5 453.9 273.0 453.9 273.5 453.9 274.0 453.9 274.5 453.9 275.0 453.9 275.5 453.9 276.0 453.9 276.5 453.9 277.0 453.9 277.5 453.9 278.0 453.9 278.5 453.9 279.0 453.9 279.5 453.9 280.0 453.9 280.5 453.9 281.0 453.9 281.5 453.9 282.0 453.5 282.5 449.8 283.0 446.4 283.5 443.3 284.0 440.6 284.5 438.1 285.0 435.9 285.5 433.9 286.0 432.2 286.5 430.6 287.0 429.3 287.5 428.2 288.0 427.2 288.5 426.5 289.0 425.9 289.5 425.5 290.0 425.3 290.5 425.3 291.0 425.4 291.5 425.6 292.0 425.9 292.5 426.3 293.0 426.7 293.5 427.3 294.0 428.0 294.5 428.8 295.0 429.7 295.5 430.8 296.0 431.9 296.5 433.2 297.0 434.5 297.5 436.0 298.0 437.7 298.5 439.4 299.0 441.3 299.5 443.4 300.0 445.6 300.5 448.0 301.0 450.6 301.5 453.4 302.0 453.9 302.5 453.9 303.0 453.9 303.5 453.9 304.0 453.9 304.5 453.9 305.0 453.9 305.5 453.9 306.0 453.9 306.5 453.9 307.0 453.9 307.5 453.9 308.0 453.9 308.5 453.9 309.0 453.9 309.5 453.9 310.0 453.9 310.5 453.9 311.0 453.9 311.5 453.9 312.0 453.9 312.5 453.9 313.0 453.9 313.5 453.9 314.0 453.9 314.5 453.9 315.0 453.9 315.5 453.9 316.0 453.9 316.5 453.9 317.0 453.9 317.5 453.9 318.0 453.9 318.5 453.9 319.0 453.9 319.5 453.9 320.0 453.9 320.5 453.9 321.0 453.9 321.5 453.9 322.0 453.9 322.5 453.9 323.0 453.9 323.5 453.9" stroke="#5b3b59" stroke-width="1.6" fill="none" stroke-linejoin="round"/>
<path d="M41.0 453.9 41.5 453.9 42.0 453.9 42.5 453.9 43.0 453.9 43.5 453.9 44.0 453.9 44.5 453.9 45.0 453.9 45.5 453.9 46.0 453.9 46.5 453.9 47.0 453.9 47.5 453.9 48.0 453.9 48.5 453.9 49.0 453.9 49.5 453.9 50.0 453.9 50.5 453.9 51.0 453.9 51.5 453.9 52.0 453.9 52.5 453.9 53.0 453.9 53.5 453.9 54.0 453.9 54.5 453.9 55.0 453.9 55.5 453.9 56.0 453.9 56.5 453.9 57.0 453.9 57.5 453.9 58.0 453.9 58.5 453.9 59.0 453.9 59.5 453.9 60.0 453.9 60.5 453.9 61.0 453.9 61.5 453.9 62.0 453.9 62.5 453.9 63.0 453.9 63.5 453.9 64.0 452.2 64.5 448.8 65.0 445.5 65.5 442.5 66.0 439.7 66.5 437.0 67.0 434.5 67.5 432.1 68.0 429.9 68.5 427.7 69.0 425.7 69.5 423.8 70.0 422.0 70.5 420.4 71.0 418.8 71.5 417.2 72.0 415.8 72.5 414.5 73.0 413.2 73.5 412.0 74.0 410.9 74.5 409.9 75.0 408.9 75.5 408.0 76.0 407.1 76.5 406.4 77.0 405.7 77.5 405.0 78.0 404.4 78.5 403.9 79.0 403.4 79.5 403.0 80.0 402.6 80.5 402.3 81.0 402.1 81.5 401.9 82.0 401.8 82.5 401.7 83.0 401.7 83.5 401.8 84.0 401.9 84.5 402.1 85.0 402.4 85.5 402.7 86.0 403.2 86.5 403.7 87.0 404.3 87.5 404.9 88.0 405.7 88.5 406.5 89.0 407.4 89.5 408.4 90.0 409.5 90.5 410.7 91.0 412.0 91.5 413.4 92.0 414.9 92.5 416.5 93.0 418.2 93.5 420.0 94.0 422.0 94.5 424.1 95.0 426.3 95.5 428.7 96.0 431.2 96.5 433.9 97.0 436.8 97.5 439.9 98.0 443.3 98.5 446.9 99.0 450.7 99.5 453.9 100.0 453.9 100.5 453.9 101.0 453.9 101.5 453.9 102.0 453.9 102.5 453.9 103.0 453.9 103.5 453.9 104.0 453.9 104.5 453.9 105.0 453.9 105.5 453.9 106.0 453.9 106.5 453.9 107.0 453.9 107.5 453.9 108.0 453.9 108.5 453.9 109.0 453.9 109.5 453.9 110.0 453.9 110.5 453.9 111.0 453.9 111.5 453.9 112.0 453.9 112.5 453.9 113.0 453.9 113.5 453.9 114.0 453.9 114.5 453.9 115.0 453.9 115.5 453.9 116.0 453.9 116.5 453.9 117.0 453.9 117.5 453.9 118.0 453.9 118.5 453.9 119.0 446.6 119.5 439.4 120.0 433.2 120.5 427.8 121.0 423.0 121.5 418.8 122.0 415.2 122.5 412.0 123.0 409.2 123.5 406.8 124.0 404.8 124.5 403.1 125.0 401.8 125.5 400.8 126.0 400.1 126.5 399.7 127.0 399.6 127.5 399.8 128.0 400.2 128.5 400.9 129.0 401.8 129.5 403.0 130.0 404.5 130.5 406.2 131.0 408.3 131.5 410.7 132.0 413.4 132.5 416.4 133.0 419.9 133.5 423.8 134.0 428.2 134.5 433.1 135.0 438.7 135.5 445.1 136.0 452.5 136.5 453.9 137.0 453.9 137.5 453.9 138.0 453.9 138.5 453.9 139.0 453.9 139.5 453.9 140.0 453.9 140.5 453.9 141.0 453.9 141.5 446.0 142.0 437.3 142.5 430.0 143.0 423.9 143.5 418.8 144.0 414.5 144.5 410.9 145.0 408.1 145.5 405.8 146.0 404.1 146.5 403.0 147.0 402.4 147.5 402.3 148.0 402.6 148.5 403.3 149.0 404.3 149.5 405.7 150.0 407.5 150.5 409.7 151.0 412.3 151.5 415.3 152.0 418.9 152.5 423.0 153.0 427.7 153.5 433.2 154.0 439.5 154.5 446.8 155.0 453.9 155.5 453.9 156.0 453.9 156.5 453.9 157.0 453.9 157.5 453.9 158.0 453.9 158.5 453.9 159.0 453.9 159.5 453.9 160.0 453.9 160.5 453.9 161.0 453.9 161.5 453.9 162.0 453.9 162.5 453.9 163.0 453.9 163.5 453.9 164.0 453.9 164.5 453.9 165.0 453.9 165.5 453.9 166.0 453.9 166.5 453.9 167.0 453.9 167.5 453.9 168.0 453.9 168.5 453.9 169.0 453.9 169.5 453.9 170.0 453.9 170.5 449.4 171.0 445.7 171.5 442.5 172.0 439.9 172.5 437.8 173.0 436.2 173.5 435.1 174.0 434.4 174.5 434.2 175.0 434.4 175.5 435.1 176.0 436.2 176.5 437.8 177.0 439.9 177.5 442.5 178.0 445.7 178.5 449.4 179.0 453.9 179.5 453.9 180.0 453.9 180.5 453.9 181.0 453.9 181.5 453.9 182.0 453.9 182.5 453.9 183.0 453.9 183.5 453.9 184.0 453.9 184.5 453.9 185.0 453.9 185.5 453.9 186.0 453.9 186.5 453.9 187.0 453.9 187.5 453.9 188.0 453.9 188.5 451.8 189.0 446.5 189.5 441.9 190.0 437.9 190.5 434.4 191.0 431.4 191.5 428.8 192.0 426.7 192.5 424.9 193.0 423.5 193.5 422.4 194.0 421.7 194.5 421.4 195.0 421.3 195.5 421.6 196.0 422.3 196.5 423.3 197.0 424.7 197.5 426.5 198.0 428.7 198.5 431.3 199.0 434.3 199.5 437.9 200.0 442.0 200.5 446.7 201.0 452.2 201.5 453.9 202.0 453.9 202.5 453.9 203.0 453.9 203.5 453.9 204.0 453.9 204.5 453.9 205.0 453.9 205.5 453.9 206.0 453.9 206.5 453.9 207.0 453.9 207.5 453.9 208.0 453.9 208.5 453.9 209.0 453.9 209.5 453.9 210.0 453.9 210.5 453.9 211.0 453.9 211.5 453.9 212.0 453.9 212.5 453.9 213.0 453.9 213.5 453.9 214.0 453.9 214.5 453.9 215.0 453.9 215.5 453.9 216.0 453.9 216.5 453.9 217.0 453.9 217.5 453.9 218.0 453.9 218.5 453.9 219.0 453.9 219.5 453.9 220.0 453.9 220.5 453.9 221.0 453.9 221.5 453.9 222.0 453.9 222.5 453.9 223.0 453.9 223.5 452.6 224.0 447.1 224.5 442.2 225.0 437.9 225.5 434.1 226.0 430.9 226.5 428.0 227.0 425.6 227.5 423.5 228.0 421.7 228.5 420.3 229.0 419.3 229.5 418.5 230.0 418.1 230.5 417.9 231.0 418.1 231.5 418.6 232.0 419.6 232.5 420.9 233.0 422.6 233.5 424.7 234.0 427.2 234.5 430.3 235.0 433.8 235.5 437.9 236.0 442.6 236.5 448.1 237.0 453.9 237.5 453.9 238.0 453.9 238.5 453.9 239.0 453.9 239.5 453.9 240.0 453.9 240.5 453.9 241.0 453.3 241.5 444.0 242.0 436.2 242.5 429.6 243.0 423.9 243.5 419.0 244.0 414.8 244.5 411.2 245.0 408.2 245.5 405.6 246.0 403.6 246.5 401.9 247.0 400.8 247.5 400.0 248.0 399.6 248.5 399.7 249.0 400.1 249.5 400.9 250.0 402.0 250.5 403.6 251.0 405.5 251.5 407.9 252.0 410.8 252.5 414.1 253.0 418.0 253.5 422.5 254.0 427.8 254.5 433.8 255.0 440.8 255.5 449.1 256.0 453.9 256.5 453.9 257.0 453.9 257.5 453.9 258.0 444.2 258.5 434.5 259.0 426.3 259.5 419.2 260.0 412.9 260.5 407.3 261.0 402.3 261.5 397.8 262.0 393.6 262.5 389.8 263.0 386.3 263.5 383.1 264.0 380.2 264.5 377.5 265.0 375.0 265.5 372.7 266.0 370.6 266.5 368.7 267.0 366.9 267.5 365.3 268.0 363.9 268.5 362.6 269.0 361.4 269.5 360.4 270.0 359.5 270.5 358.7 271.0 358.1 271.5 357.6 272.0 357.2 272.5 357.0 273.0 356.8 273.5 356.8 274.0 356.9 274.5 357.1 275.0 357.3 275.5 357.7 276.0 358.2 276.5 358.7 277.0 359.4 277.5 360.2 278.0 361.0 278.5 362.0 279.0 363.1 279.5 364.3 280.0 365.6 280.5 367.0 281.0 368.5 281.5 370.2 282.0 372.0 282.5 374.0 283.0 376.1 283.5 378.3 284.0 380.8 284.5 383.4 285.0 386.2 285.5 389.2 286.0 392.5 286.5 396.0 287.0 399.9 287.5 404.0 288.0 408.6 288.5 413.6 289.0 419.1 289.5 425.3 290.0 432.3 290.5 440.3 291.0 449.8 291.5 453.9 292.0 453.9 292.5 453.9 293.0 453.9 293.5 453.9 294.0 453.9 294.5 453.9 295.0 453.9 295.5 453.9 296.0 453.9 296.5 453.9 297.0 453.9 297.5 453.9 298.0 453.9 298.5 453.9 299.0 453.9 299.5 453.9 300.0 453.9 300.5 453.9 301.0 453.9 301.5 453.9 302.0 453.9 302.5 453.9 303.0 453.9 303.5 453.9 304.0 453.9 304.5 453.9 305.0 453.9 305.5 453.9 306.0 453.9 306.5 453.9 307.0 453.9 307.5 453.9 308.0 453.9 308.5 453.9 309.0 453.9 309.5 453.9 310.0 453.9 310.5 453.9 311.0 453.9 311.5 453.9 312.0 453.9 312.5 453.9 313.0 453.9 313.5 453.9 314.0 453.9 314.5 453.9 315.0 453.9 315.5 453.9 316.0 453.9 316.5 453.9 317.0 453.9 317.5 453.9 318.0 453.9 318.5 453.9 319.0 453.9 319.5 453.9 320.0 453.9 320.5 453.9 321.0 453.9 321.5 453.9 322.0 453.9 322.5 453.9 323.0 453.9 323.5 453.9" stroke="#0a22b4" stroke-width="1.6" fill="none" stroke-linejoin="round"/>
</g>
<rect x="41.8" y="257.4" width="280.8" height="181" fill="none" stroke="#3a3a3a" stroke-width="1.1"/>
<path d="M41.8 437.84h2.6M322.6 437.84h-2.6M41.8 432.52h2.6M322.6 432.52h-2.6M41.8 421.88h2.6M322.6 421.88h-2.6M41.8 416.56h2.6M322.6 416.56h-2.6M41.8 411.24h2.6M322.6 411.24h-2.6M41.8 405.92h2.6M322.6 405.92h-2.6M41.8 395.28h2.6M322.6 395.28h-2.6M41.8 389.96h2.6M322.6 389.96h-2.6M41.8 384.64h2.6M322.6 384.64h-2.6M41.8 379.32h2.6M322.6 379.32h-2.6M41.8 368.68h2.6M322.6 368.68h-2.6M41.8 363.36h2.6M322.6 363.36h-2.6M41.8 358.04h2.6M322.6 358.04h-2.6M41.8 352.72h2.6M322.6 352.72h-2.6M41.8 342.08h2.6M322.6 342.08h-2.6M41.8 336.76h2.6M322.6 336.76h-2.6M41.8 331.44h2.6M322.6 331.44h-2.6M41.8 326.12h2.6M322.6 326.12h-2.6M41.8 315.48h2.6M322.6 315.48h-2.6M41.8 310.16h2.6M322.6 310.16h-2.6M41.8 304.84h2.6M322.6 304.84h-2.6M41.8 299.52h2.6M322.6 299.52h-2.6M41.8 288.88h2.6M322.6 288.88h-2.6M41.8 283.56h2.6M322.6 283.56h-2.6M41.8 278.24h2.6M322.6 278.24h-2.6M41.8 272.92h2.6M322.6 272.92h-2.6M41.8 262.28h2.6M322.6 262.28h-2.6" stroke="#555" stroke-width="0.8" fill="none"/>
<path d="M41.8 267.6h4.8M322.6 267.6h-4.8M41.8 294.2h4.8M322.6 294.2h-4.8M41.8 320.8h4.8M322.6 320.8h-4.8M41.8 347.4h4.8M322.6 347.4h-4.8M41.8 374h4.8M322.6 374h-4.8M41.8 400.6h4.8M322.6 400.6h-4.8M41.8 427.2h4.8M322.6 427.2h-4.8" stroke="#555" stroke-width="0.8" fill="none"/>
<path d="M53.68 438.4v-2.6M53.68 257.4v2.6M65.37 438.4v-2.6M65.37 257.4v2.6M77.05 438.4v-2.6M77.05 257.4v2.6M100.42 438.4v-2.6M100.42 257.4v2.6M112.1 438.4v-2.6M112.1 257.4v2.6M123.78 438.4v-2.6M123.78 257.4v2.6M147.15 438.4v-2.6M147.15 257.4v2.6M158.83 438.4v-2.6M158.83 257.4v2.6M170.52 438.4v-2.6M170.52 257.4v2.6M193.88 438.4v-2.6M193.88 257.4v2.6M205.57 438.4v-2.6M205.57 257.4v2.6M217.25 438.4v-2.6M217.25 257.4v2.6M240.62 438.4v-2.6M240.62 257.4v2.6M252.3 438.4v-2.6M252.3 257.4v2.6M263.98 438.4v-2.6M263.98 257.4v2.6M287.35 438.4v-2.6M287.35 257.4v2.6M299.03 438.4v-2.6M299.03 257.4v2.6M310.72 438.4v-2.6M310.72 257.4v2.6" stroke="#555" stroke-width="0.8" fill="none"/>
<path d="M42 438.4v-4.8M42 257.4v4.8M88.73 438.4v-4.8M88.73 257.4v4.8M135.47 438.4v-4.8M135.47 257.4v4.8M182.2 438.4v-4.8M182.2 257.4v4.8M228.93 438.4v-4.8M228.93 257.4v4.8M275.67 438.4v-4.8M275.67 257.4v4.8M322.4 438.4v-4.8M322.4 257.4v4.8" stroke="#555" stroke-width="0.8" fill="none"/>
<text x="38.6" y="271.8" font-size="12" text-anchor="end" font-family='"Liberation Sans", sans-serif' >0</text>
<text x="38.6" y="298.4" font-size="12" text-anchor="end" font-family='"Liberation Sans", sans-serif' >−5</text>
<text x="38.6" y="325" font-size="12" text-anchor="end" font-family='"Liberation Sans", sans-serif' >−10</text>
<text x="38.6" y="351.6" font-size="12" text-anchor="end" font-family='"Liberation Sans", sans-serif' >−15</text>
<text x="38.6" y="378.2" font-size="12" text-anchor="end" font-family='"Liberation Sans", sans-serif' >−20</text>
<text x="38.6" y="404.8" font-size="12" text-anchor="end" font-family='"Liberation Sans", sans-serif' >−25</text>
<text x="38.6" y="431.4" font-size="12" text-anchor="end" font-family='"Liberation Sans", sans-serif' >−30</text>
<text x="42" y="450.6" font-size="12" text-anchor="middle" font-family='"Liberation Sans", sans-serif' >−90</text>
<text x="88.73" y="450.6" font-size="12" text-anchor="middle" font-family='"Liberation Sans", sans-serif' >−60</text>
<text x="135.47" y="450.6" font-size="12" text-anchor="middle" font-family='"Liberation Sans", sans-serif' >−30</text>
<text x="182.2" y="450.6" font-size="12" text-anchor="middle" font-family='"Liberation Sans", sans-serif' >0</text>
<text x="228.93" y="450.6" font-size="12" text-anchor="middle" font-family='"Liberation Sans", sans-serif' >30</text>
<text x="275.67" y="450.6" font-size="12" text-anchor="middle" font-family='"Liberation Sans", sans-serif' >60</text>
<text x="322.4" y="450.6" font-size="12" text-anchor="middle" font-family='"Liberation Sans", sans-serif' >90</text>
<text x="-1" y="258.8" font-size="20.5" text-anchor="start" font-family='"Liberation Sans", sans-serif' font-weight="bold">b</text>
<text transform="translate(11.2,347.9) rotate(-90)" font-size="12" text-anchor="middle" font-family='"Liberation Sans", sans-serif' >Normalized Amplitude (dB)</text>
<text x="184" y="465.5" font-size="12" text-anchor="middle" font-family='"Liberation Sans", sans-serif' ><tspan font-style="italic">θ</tspan>(°)</text>
<text x="140" y="284.5" font-size="12" text-anchor="start" font-family='"Liberation Sans", sans-serif' ><tspan font-style="italic">f</tspan><tspan font-size="9" dy="3">c</tspan></text>
<text x="57.8" y="348" font-size="12" text-anchor="start" font-family='"Liberation Sans", sans-serif' >Harmonics</text>
<text x="129.8" y="404" font-size="11" text-anchor="start" font-family='"Liberation Sans", sans-serif' ><tspan font-style="italic">f</tspan></text>
<text x="133" y="407.4" font-size="8" text-anchor="start" font-family='"Liberation Sans", sans-serif' >c</text>
<g clip-path="url(#cc)">
<path d="M41.50 601.00C41.58 600.87 41.65 601.02 42.00 600.20C42.35 599.38 43.17 595.42 43.60 596.10C44.03 596.78 44.18 604.47 44.60 604.30C45.02 604.13 45.58 594.93 46.10 595.10C46.62 595.27 47.22 604.62 47.70 605.30C48.18 605.98 48.50 597.92 49.00 599.20C49.50 600.48 50.15 612.15 50.70 613.00C51.25 613.85 51.78 604.30 52.30 604.30C52.82 604.30 53.22 613.68 53.80 613.00C54.38 612.32 55.20 600.80 55.80 600.20C56.40 599.60 56.88 609.40 57.40 609.40C57.92 609.40 58.40 599.85 58.90 600.20C59.40 600.55 59.88 610.47 60.40 611.50C60.92 612.53 61.40 605.38 62.00 606.40C62.60 607.42 63.42 616.75 64.00 617.60C64.58 618.45 64.98 610.48 65.50 611.50C66.02 612.52 66.50 623.28 67.10 623.70C67.70 624.12 68.50 614.00 69.10 614.00C69.70 614.00 70.13 623.62 70.70 623.70C71.27 623.78 71.92 615.00 72.50 614.50C73.08 614.00 73.65 620.27 74.20 620.70C74.75 621.13 75.12 616.43 75.80 617.10C76.48 617.77 77.53 622.07 78.30 624.70C79.07 627.33 79.88 632.22 80.40 632.90C80.92 633.58 80.98 629.13 81.40 628.80C81.82 628.47 82.30 630.90 82.90 630.90C83.50 630.90 84.40 628.47 85.00 628.80C85.60 629.13 86.00 633.07 86.50 632.90C87.00 632.73 87.40 628.73 88.00 627.80C88.60 626.87 89.42 627.98 90.10 627.30C90.78 626.62 91.52 625.67 92.10 623.70C92.68 621.73 93.00 617.37 93.60 615.50C94.20 613.63 95.10 614.20 95.70 612.50C96.30 610.80 96.68 606.07 97.20 605.30C97.72 604.53 98.20 607.22 98.80 607.90C99.40 608.58 100.22 607.27 100.80 609.40C101.38 611.53 101.62 614.68 102.30 620.70C102.98 626.72 104.22 645.12 104.90 645.50C105.58 645.88 105.80 627.45 106.40 623.00C107.00 618.55 107.80 621.27 108.50 618.80C109.20 616.33 110.07 613.85 110.60 608.20C111.13 602.55 111.17 590.92 111.70 584.90C112.23 578.88 113.17 574.92 113.80 572.10C114.43 569.28 114.97 569.05 115.50 568.00C116.03 566.95 116.40 566.35 117.00 565.80C117.60 565.25 118.40 565.77 119.10 564.70C119.80 563.63 120.50 560.82 121.20 559.40C121.90 557.98 122.42 558.32 123.30 556.20C124.18 554.08 125.62 550.77 126.50 546.70C127.38 542.63 127.72 537.12 128.60 531.80C129.48 526.48 130.83 518.33 131.80 514.80C132.77 511.27 133.52 512.08 134.40 510.60C135.28 509.12 136.30 506.25 137.10 505.90C137.90 505.55 138.32 506.30 139.20 508.50C140.08 510.70 141.33 515.22 142.40 519.10C143.47 522.98 144.53 527.57 145.60 531.80C146.67 536.03 147.73 540.97 148.80 544.50C149.87 548.03 151.05 551.17 152.00 553.00C152.95 554.83 153.80 554.97 154.50 555.50C155.20 556.03 155.57 554.48 156.20 556.20C156.83 557.92 157.58 561.73 158.30 565.80C159.02 569.87 159.62 576.37 160.50 580.60C161.38 584.83 162.72 586.95 163.60 591.20C164.48 595.45 165.20 601.63 165.80 606.10C166.40 610.57 166.70 614.65 167.20 618.00C167.70 621.35 167.90 626.53 168.80 626.20C169.70 625.87 171.32 621.52 172.60 616.00C173.88 610.48 175.22 599.88 176.50 593.10C177.78 586.32 178.87 579.87 180.30 575.30C181.73 570.73 183.72 566.33 185.10 565.70C186.48 565.07 187.70 568.20 188.60 571.50C189.50 574.80 189.80 581.27 190.50 585.50C191.20 589.73 191.95 597.53 192.80 596.90C193.65 596.27 194.67 585.90 195.60 581.70C196.53 577.50 197.55 571.50 198.40 571.70C199.25 571.90 199.90 576.78 200.70 582.90C201.50 589.02 202.47 604.78 203.20 608.40C203.93 612.02 204.47 605.67 205.10 604.60C205.73 603.53 206.47 599.88 207.00 602.00C207.53 604.12 207.87 609.87 208.30 617.30C208.73 624.73 209.07 643.42 209.60 646.60C210.13 649.78 210.87 643.40 211.50 636.40C212.13 629.40 212.65 612.87 213.40 604.60C214.15 596.33 215.25 587.87 216.00 586.80C216.75 585.73 217.27 589.93 217.90 598.20C218.53 606.47 219.23 627.77 219.80 636.40C220.37 645.03 220.77 649.78 221.30 650.00C221.83 650.22 222.40 638.27 223.00 637.70C223.60 637.13 224.17 651.27 224.90 646.60C225.63 641.93 226.77 616.07 227.40 609.70C228.03 603.33 228.17 605.12 228.70 608.40C229.23 611.68 229.97 628.97 230.60 629.40C231.23 629.83 231.87 615.67 232.50 611.00C233.13 606.33 233.55 603.53 234.40 601.40C235.25 599.27 236.75 601.07 237.60 598.20C238.45 595.33 238.87 585.05 239.50 584.20C240.13 583.35 240.77 592.67 241.40 593.10C242.03 593.53 242.70 587.43 243.30 586.80C243.90 586.17 244.62 587.35 245.00 589.30C245.38 591.25 245.20 594.48 245.60 598.50C246.00 602.52 246.78 608.85 247.40 613.40C248.02 617.95 248.67 621.45 249.30 625.80C249.93 630.15 250.58 638.87 251.20 639.50C251.82 640.13 252.38 628.78 253.00 629.60C253.62 630.42 254.28 646.27 254.90 644.40C255.52 642.53 256.08 622.32 256.70 618.40C257.32 614.48 257.97 622.55 258.60 620.90C259.23 619.25 259.88 609.95 260.50 608.50C261.12 607.05 261.68 610.35 262.30 612.20C262.92 614.05 263.57 616.92 264.20 619.60C264.83 622.28 265.48 627.88 266.10 628.30C266.72 628.72 267.28 621.48 267.90 622.10C268.52 622.72 269.28 631.80 269.80 632.00C270.32 632.20 270.55 622.27 271.00 623.30C271.45 624.33 271.98 638.82 272.50 638.20C273.02 637.58 273.52 622.90 274.10 619.60C274.68 616.30 275.27 619.43 276.00 618.40C276.73 617.37 277.78 615.05 278.50 613.40C279.22 611.75 279.68 608.90 280.30 608.50C280.92 608.10 281.58 609.97 282.20 611.00C282.82 612.03 283.38 613.47 284.00 614.70C284.62 615.93 285.27 618.40 285.90 618.40C286.53 618.40 287.18 613.88 287.80 614.70C288.42 615.52 288.98 622.68 289.60 623.30C290.22 623.92 290.88 617.98 291.50 618.40C292.12 618.82 292.68 625.60 293.30 625.80C293.92 626.00 294.57 620.02 295.20 619.60C295.83 619.18 296.48 623.30 297.10 623.30C297.72 623.30 298.28 619.80 298.90 619.60C299.52 619.40 300.17 622.30 300.80 622.10C301.43 621.90 302.08 618.40 302.70 618.40C303.32 618.40 303.88 622.52 304.50 622.10C305.12 621.68 305.82 615.28 306.40 615.90C306.98 616.52 307.48 626.22 308.00 625.80C308.52 625.38 308.95 613.60 309.50 613.40C310.05 613.20 310.78 624.60 311.30 624.60C311.82 624.60 312.08 612.98 312.60 613.40C313.12 613.82 313.85 626.68 314.40 627.10C314.95 627.52 315.38 615.90 315.90 615.90C316.42 615.90 316.92 626.48 317.50 627.10C318.08 627.72 318.77 618.37 319.40 619.60C320.03 620.83 320.68 632.43 321.30 634.50C321.92 636.57 322.48 632.08 323.10 632.00C323.72 631.92 324.68 633.67 325.00 634.00" stroke="#8a8dc8" stroke-width="1.85" fill="none" stroke-linejoin="round"/>
<path d="M41.0 690.0 41.5 690.0 42.0 690.0 42.5 690.0 43.0 690.0 43.5 690.0 44.0 690.0 44.5 690.0 45.0 690.0 45.5 690.0 46.0 690.0 46.5 690.0 47.0 690.0 47.5 690.0 48.0 690.0 48.5 690.0 49.0 690.0 49.5 690.0 50.0 690.0 50.5 690.0 51.0 690.0 51.5 690.0 52.0 690.0 52.5 690.0 53.0 690.0 53.5 690.0 54.0 690.0 54.5 690.0 55.0 688.0 55.5 686.0 56.0 684.1 56.5 682.3 57.0 680.5 57.5 678.8 58.0 677.2 58.5 675.6 59.0 674.1 59.5 672.6 60.0 671.2 60.5 669.9 61.0 668.6 61.5 667.3 62.0 666.1 62.5 665.0 63.0 663.9 63.5 662.8 64.0 661.7 64.5 660.7 65.0 659.8 65.5 658.9 66.0 658.0 66.5 657.1 67.0 656.3 67.5 655.5 68.0 654.8 68.5 654.1 69.0 653.4 69.5 652.7 70.0 652.1 70.5 651.5 71.0 650.9 71.5 650.4 72.0 649.9 72.5 649.4 73.0 649.0 73.5 648.5 74.0 648.1 74.5 647.8 75.0 647.4 75.5 647.1 76.0 646.8 76.5 646.6 77.0 646.3 77.5 646.1 78.0 645.9 78.5 645.8 79.0 645.6 79.5 645.5 80.0 645.4 80.5 645.3 81.0 645.3 81.5 645.3 82.0 645.3 82.5 645.4 83.0 645.6 83.5 645.8 84.0 646.2 84.5 646.5 85.0 647.0 85.5 647.5 86.0 648.1 86.5 648.8 87.0 649.5 87.5 650.3 88.0 651.2 88.5 652.2 89.0 653.3 89.5 654.4 90.0 655.7 90.5 657.0 91.0 658.4 91.5 659.9 92.0 661.5 92.5 663.2 93.0 665.1 93.5 667.0 94.0 669.1 94.5 671.3 95.0 673.7 95.5 676.2 96.0 678.9 96.5 681.7 97.0 684.8 97.5 688.0 98.0 690.0 98.5 690.0 99.0 690.0 99.5 687.2 100.0 683.9 100.5 680.9 101.0 678.3 101.5 676.0 102.0 674.0 102.5 672.3 103.0 670.8 103.5 669.5 104.0 668.5 104.5 667.8 105.0 667.3 105.5 667.0 106.0 666.9 106.5 667.0 107.0 667.4 107.5 668.0 108.0 668.7 108.5 669.7 109.0 670.9 109.5 672.3 110.0 674.0 110.5 675.9 111.0 678.1 111.5 680.5 112.0 683.3 112.5 686.4 113.0 689.8 113.5 690.0 114.0 690.0 114.5 690.0 115.0 690.0 115.5 690.0 116.0 690.0 116.5 690.0 117.0 690.0 117.5 690.0 118.0 690.0 118.5 690.0 119.0 690.0 119.5 690.0 120.0 690.0 120.5 690.0 121.0 690.0 121.5 690.0 122.0 689.7 122.5 684.9 123.0 680.7 123.5 677.1 124.0 674.0 124.5 671.4 125.0 669.2 125.5 667.4 126.0 666.1 126.5 665.1 127.0 664.5 127.5 664.2 128.0 664.3 128.5 664.9 129.0 665.8 129.5 667.2 130.0 669.0 130.5 671.2 131.0 674.0 131.5 677.3 132.0 681.2 132.5 685.7 133.0 690.0 133.5 690.0 134.0 690.0 134.5 690.0 135.0 690.0 135.5 690.0 136.0 690.0 136.5 690.0 137.0 687.0 137.5 682.5 138.0 678.6 138.5 675.1 139.0 672.0 139.5 669.3 140.0 666.9 140.5 664.9 141.0 663.2 141.5 661.7 142.0 660.6 142.5 659.7 143.0 659.1 143.5 658.8 144.0 658.7 144.5 659.0 145.0 659.6 145.5 660.6 146.0 662.0 146.5 663.9 147.0 666.1 147.5 668.8 148.0 672.0 148.5 675.7 149.0 680.1 149.5 685.1 150.0 690.0 150.5 690.0 151.0 690.0 151.5 690.0 152.0 690.0 152.5 690.0 153.0 690.0 153.5 690.0 154.0 690.0 154.5 690.0 155.0 690.0 155.5 690.0 156.0 690.0 156.5 690.0 157.0 690.0 157.5 690.0 158.0 690.0 158.5 690.0 159.0 690.0 159.5 690.0 160.0 690.0 160.5 690.0 161.0 690.0 161.5 690.0 162.0 690.0 162.5 690.0 163.0 690.0 163.5 690.0 164.0 690.0 164.5 690.0 165.0 690.0 165.5 690.0 166.0 690.0 166.5 690.0 167.0 690.0 167.5 690.0 168.0 690.0 168.5 690.0 169.0 690.0 169.5 690.0 170.0 690.0 170.5 690.0 171.0 690.0 171.5 690.0 172.0 690.0 172.5 690.0 173.0 690.0 173.5 690.0 174.0 690.0 174.5 690.0 175.0 690.0 175.5 690.0 176.0 690.0 176.5 690.0 177.0 690.0 177.5 690.0 178.0 690.0 178.5 690.0 179.0 690.0 179.5 690.0 180.0 690.0 180.5 690.0 181.0 690.0 181.5 681.0 182.0 671.8 182.5 663.9 183.0 657.1 183.5 651.0 184.0 645.7 184.5 640.9 185.0 636.5 185.5 632.6 186.0 629.0 186.5 625.8 187.0 622.9 187.5 620.2 188.0 617.8 188.5 615.6 189.0 613.6 189.5 611.9 190.0 610.3 190.5 609.0 191.0 607.8 191.5 606.8 192.0 606.0 192.5 605.4 193.0 604.9 193.5 604.6 194.0 604.4 194.5 604.4 195.0 604.5 195.5 604.6 196.0 604.7 196.5 604.9 197.0 605.2 197.5 605.5 198.0 605.9 198.5 606.3 199.0 606.8 199.5 607.3 200.0 607.9 200.5 608.5 201.0 609.2 201.5 610.0 202.0 610.8 202.5 611.7 203.0 612.6 203.5 613.6 204.0 614.6 204.5 615.8 205.0 617.0 205.5 618.2 206.0 619.6 206.5 621.0 207.0 622.5 207.5 624.1 208.0 625.8 208.5 627.5 209.0 628.4 209.5 627.8 210.0 627.2 210.5 626.8 211.0 626.5 211.5 626.3 212.0 626.2 212.5 626.3 213.0 626.6 213.5 627.2 214.0 628.2 214.5 629.5 215.0 631.1 215.5 633.1 216.0 635.4 216.5 638.1 217.0 641.3 217.5 644.9 218.0 649.0 218.5 649.0 219.0 648.0 219.5 647.1 220.0 646.2 220.5 645.3 221.0 644.6 221.5 643.9 222.0 643.2 222.5 642.6 223.0 642.1 223.5 641.6 224.0 641.2 224.5 640.8 225.0 640.5 225.5 640.2 226.0 640.0 226.5 639.9 227.0 639.8 227.5 639.7 228.0 639.7 228.5 640.1 229.0 641.0 229.5 642.3 230.0 644.1 230.5 646.4 231.0 649.3 231.5 652.7 232.0 656.8 232.5 661.6 233.0 667.2 233.5 673.8 234.0 681.6 234.5 690.0 235.0 690.0 235.5 690.0 236.0 690.0 236.5 690.0 237.0 690.0 237.5 690.0 238.0 690.0 238.5 690.0 239.0 690.0 239.5 690.0 240.0 690.0 240.5 690.0 241.0 686.0 241.5 679.4 242.0 674.0 242.5 669.5 243.0 665.9 243.5 663.0 244.0 660.8 244.5 659.2 245.0 658.3 245.5 658.0 246.0 658.2 246.5 658.7 247.0 659.7 247.5 661.0 248.0 662.7 248.5 664.8 249.0 667.4 249.5 670.4 250.0 674.0 250.5 674.1 251.0 673.3 251.5 672.6 252.0 671.9 252.5 671.2 253.0 670.5 253.5 669.8 254.0 669.2 254.5 668.6 255.0 668.1 255.5 667.5 256.0 667.0 256.5 666.5 257.0 666.0 257.5 665.6 258.0 665.1 258.5 664.7 259.0 664.3 259.5 664.0 260.0 663.6 260.5 663.3 261.0 663.0 261.5 662.7 262.0 662.5 262.5 662.2 263.0 662.0 263.5 661.8 264.0 661.6 264.5 661.5 265.0 661.4 265.5 661.3 266.0 661.2 266.5 661.1 267.0 661.0 267.5 661.0 268.0 661.0 268.5 661.0 269.0 661.0 269.5 661.0 270.0 661.0 270.5 661.0 271.0 661.1 271.5 661.1 272.0 661.1 272.5 661.1 273.0 661.2 273.5 661.2 274.0 661.2 274.5 661.3 275.0 661.3 275.5 661.4 276.0 661.4 276.5 661.5 277.0 661.6 277.5 661.6 278.0 661.7 278.5 661.8 279.0 661.8 279.5 661.9 280.0 662.0 280.5 662.1 281.0 662.2 281.5 662.3 282.0 662.4 282.5 662.5 283.0 662.6 283.5 662.7 284.0 662.8 284.5 662.9 285.0 663.0 285.5 663.1 286.0 663.2 286.5 663.4 287.0 663.5 287.5 663.6 288.0 663.8 288.5 663.9 289.0 664.1 289.5 664.2 290.0 664.4 290.5 664.5 291.0 664.7 291.5 664.6 292.0 664.5 292.5 664.4 293.0 664.3 293.5 664.2 294.0 664.1 294.5 664.1 295.0 664.0 295.5 664.0 296.0 664.0 296.5 664.0 297.0 664.0 297.5 664.1 298.0 664.1 298.5 664.2 299.0 664.3 299.5 664.4 300.0 664.5 300.5 664.6 301.0 664.8 301.5 664.9 302.0 665.1 302.5 665.3 303.0 665.5 303.5 665.7 304.0 665.9 304.5 666.2 305.0 666.5 305.5 666.8 306.0 667.1 306.5 667.4 307.0 667.7 307.5 668.1 308.0 668.4 308.5 668.8 309.0 669.2 309.5 669.6 310.0 670.1 310.5 670.5 311.0 671.0 311.5 671.5 312.0 672.0 312.5 672.5 313.0 673.1 313.5 673.6 314.0 674.2 314.5 674.8 315.0 675.5 315.5 676.1 316.0 676.8 316.5 677.5 317.0 678.2 317.5 678.9 318.0 679.6 318.5 680.0 319.0 680.5 319.5 680.9 320.0 681.3 320.5 681.7 321.0 682.2 321.5 682.6 322.0 683.1 322.5 683.5 323.0 684.0 323.5 684.5" stroke="#ffd400" stroke-width="1.6" fill="none" stroke-linejoin="round"/>
<path d="M41.0 690.0 41.5 690.0 42.0 690.0 42.5 690.0 43.0 690.0 43.5 690.0 44.0 690.0 44.5 690.0 45.0 690.0 45.5 690.0 46.0 690.0 46.5 690.0 47.0 690.0 47.5 690.0 48.0 690.0 48.5 690.0 49.0 690.0 49.5 690.0 50.0 690.0 50.5 690.0 51.0 690.0 51.5 690.0 52.0 690.0 52.5 690.0 53.0 690.0 53.5 690.0 54.0 690.0 54.5 690.0 55.0 690.0 55.5 690.0 56.0 690.0 56.5 690.0 57.0 690.0 57.5 690.0 58.0 690.0 58.5 690.0 59.0 690.0 59.5 690.0 60.0 690.0 60.5 690.0 61.0 690.0 61.5 690.0 62.0 690.0 62.5 690.0 63.0 690.0 63.5 690.0 64.0 690.0 64.5 690.0 65.0 690.0 65.5 690.0 66.0 690.0 66.5 690.0 67.0 690.0 67.5 690.0 68.0 690.0 68.5 690.0 69.0 690.0 69.5 690.0 70.0 690.0 70.5 690.0 71.0 690.0 71.5 690.0 72.0 690.0 72.5 690.0 73.0 690.0 73.5 690.0 74.0 690.0 74.5 690.0 75.0 690.0 75.5 690.0 76.0 690.0 76.5 690.0 77.0 690.0 77.5 690.0 78.0 690.0 78.5 690.0 79.0 690.0 79.5 690.0 80.0 690.0 80.5 690.0 81.0 690.0 81.5 690.0 82.0 690.0 82.5 690.0 83.0 690.0 83.5 690.0 84.0 687.6 84.5 684.7 85.0 682.1 85.5 679.7 86.0 677.6 86.5 675.7 87.0 674.0 87.5 672.5 88.0 671.2 88.5 670.2 89.0 669.2 89.5 668.5 90.0 668.0 90.5 667.6 91.0 667.4 91.5 667.4 92.0 667.5 92.5 667.8 93.0 668.2 93.5 668.8 94.0 669.5 94.5 670.4 95.0 671.4 95.5 672.6 96.0 674.0 96.5 675.5 97.0 677.2 97.5 679.2 98.0 681.3 98.5 683.6 99.0 686.1 99.5 688.9 100.0 690.0 100.5 690.0 101.0 690.0 101.5 690.0 102.0 690.0 102.5 690.0 103.0 690.0 103.5 690.0 104.0 690.0 104.5 690.0 105.0 690.0 105.5 690.0 106.0 690.0 106.5 690.0 107.0 690.0 107.5 690.0 108.0 690.0 108.5 690.0 109.0 690.0 109.5 690.0 110.0 690.0 110.5 690.0 111.0 690.0 111.5 690.0 112.0 690.0 112.5 690.0 113.0 690.0 113.5 690.0 114.0 690.0 114.5 690.0 115.0 690.0 115.5 690.0 116.0 690.0 116.5 688.2 117.0 686.1 117.5 684.2 118.0 682.3 118.5 680.5 119.0 678.7 119.5 677.1 120.0 675.5 120.5 674.1 121.0 672.6 121.5 671.3 122.0 670.0 122.5 668.8 123.0 667.6 123.5 666.5 124.0 665.4 124.5 664.4 125.0 663.5 125.5 662.6 126.0 661.7 126.5 660.9 127.0 660.2 127.5 659.5 128.0 658.8 128.5 658.2 129.0 657.6 129.5 657.1 130.0 656.6 130.5 656.2 131.0 655.8 131.5 655.4 132.0 655.1 132.5 654.8 133.0 654.6 133.5 654.4 134.0 654.2 134.5 654.1 135.0 654.0 135.5 654.0 136.0 654.0 136.5 654.0 137.0 654.1 137.5 654.1 138.0 654.2 138.5 654.3 139.0 654.4 139.5 654.5 140.0 654.6 140.5 654.7 141.0 654.9 141.5 655.1 142.0 655.3 142.5 655.5 143.0 655.7 143.5 656.0 144.0 656.2 144.5 656.5 145.0 656.8 145.5 657.1 146.0 657.5 146.5 657.8 147.0 658.2 147.5 658.6 148.0 659.0 148.5 659.4 149.0 659.8 149.5 660.3 150.0 660.8 150.5 661.3 151.0 661.8 151.5 662.3 152.0 662.9 152.5 663.4 153.0 664.0 153.5 664.7 154.0 665.3 154.5 666.0 155.0 666.6 155.5 667.4 156.0 668.1 156.5 668.8 157.0 669.6 157.5 670.4 158.0 671.2 158.5 672.1 159.0 673.0 159.5 673.9 160.0 674.8 160.5 675.8 161.0 676.8 161.5 677.8 162.0 678.8 162.5 679.9 163.0 681.0 163.5 681.9 164.0 679.7 164.5 677.8 165.0 676.0 165.5 674.4 166.0 673.1 166.5 671.8 167.0 670.8 167.5 669.9 168.0 669.2 168.5 668.7 169.0 668.3 169.5 668.1 170.0 668.0 170.5 668.1 171.0 668.2 171.5 668.5 172.0 668.9 172.5 669.3 173.0 669.9 173.5 670.7 174.0 671.5 174.5 672.4 175.0 673.5 175.5 674.7 176.0 676.0 176.5 677.4 177.0 679.0 177.5 680.8 178.0 682.7 178.5 684.7 179.0 686.9 179.5 689.3 180.0 690.0 180.5 690.0 181.0 690.0 181.5 690.0 182.0 690.0 182.5 690.0 183.0 690.0 183.5 690.0 184.0 690.0 184.5 690.0 185.0 690.0 185.5 690.0 186.0 690.0 186.5 690.0 187.0 690.0 187.5 690.0 188.0 690.0 188.5 690.0 189.0 690.0 189.5 690.0 190.0 690.0 190.5 690.0 191.0 690.0 191.5 690.0 192.0 690.0 192.5 690.0 193.0 690.0 193.5 690.0 194.0 690.0 194.5 690.0 195.0 690.0 195.5 690.0 196.0 690.0 196.5 690.0 197.0 690.0 197.5 690.0 198.0 690.0 198.5 690.0 199.0 690.0 199.5 690.0 200.0 690.0 200.5 690.0 201.0 690.0 201.5 690.0 202.0 690.0 202.5 690.0 203.0 690.0 203.5 690.0 204.0 690.0 204.5 690.0 205.0 690.0 205.5 690.0 206.0 690.0 206.5 690.0 207.0 690.0 207.5 690.0 208.0 690.0 208.5 690.0 209.0 690.0 209.5 690.0 210.0 690.0 210.5 690.0 211.0 690.0 211.5 690.0 212.0 690.0 212.5 690.0 213.0 690.0 213.5 690.0 214.0 690.0 214.5 690.0 215.0 690.0 215.5 690.0 216.0 690.0 216.5 690.0 217.0 690.0 217.5 690.0 218.0 690.0 218.5 690.0 219.0 690.0 219.5 690.0 220.0 690.0 220.5 690.0 221.0 690.0 221.5 690.0 222.0 690.0 222.5 690.0 223.0 690.0 223.5 690.0 224.0 690.0 224.5 690.0 225.0 690.0 225.5 690.0 226.0 690.0 226.5 690.0 227.0 690.0 227.5 690.0 228.0 690.0 228.5 688.2 229.0 681.6 229.5 675.7 230.0 670.4 230.5 665.6 231.0 661.2 231.5 657.1 232.0 653.4 232.5 649.9 233.0 646.6 233.5 643.6 234.0 640.8 234.5 638.1 235.0 635.6 235.5 633.2 236.0 631.0 236.5 628.9 237.0 627.0 237.5 625.1 238.0 623.4 238.5 621.8 239.0 620.2 239.5 618.8 240.0 617.5 240.5 616.2 241.0 615.0 241.5 614.0 242.0 613.0 242.5 612.0 243.0 611.2 243.5 610.4 244.0 609.7 244.5 609.1 245.0 608.5 245.5 608.0 246.0 607.6 246.5 607.3 247.0 607.0 247.5 606.8 248.0 606.6 248.5 606.5 249.0 606.5 249.5 606.5 250.0 606.6 250.5 606.7 251.0 606.9 251.5 607.1 252.0 607.4 252.5 607.7 253.0 608.0 253.5 608.5 254.0 608.9 254.5 609.4 255.0 610.0 255.5 610.6 256.0 611.2 256.5 611.9 257.0 612.6 257.5 613.5 258.0 614.3 258.5 615.3 259.0 616.2 259.5 617.3 260.0 618.4 260.5 619.4 261.0 619.8 261.5 620.3 262.0 620.7 262.5 621.2 263.0 621.6 263.5 622.1 264.0 622.5 264.5 623.0 265.0 623.4 265.5 623.8 266.0 624.1 266.5 624.5 267.0 624.9 267.5 625.3 268.0 625.6 268.5 626.0 269.0 626.4 269.5 626.7 270.0 627.1 270.5 627.4 271.0 627.8 271.5 628.1 272.0 628.5 272.5 629.0 273.0 629.4 273.5 629.9 274.0 630.3 274.5 630.8 275.0 631.2 275.5 631.7 276.0 632.2 276.5 632.8 277.0 633.3 277.5 633.9 278.0 634.4 278.5 635.0 279.0 635.5 279.5 636.2 280.0 636.9 280.5 637.5 281.0 638.2 281.5 638.9 282.0 639.6 282.5 640.4 283.0 641.3 283.5 642.3 284.0 643.2 284.5 644.1 285.0 645.0 285.5 646.1 286.0 647.1 286.5 648.2 287.0 649.2 287.5 650.3 288.0 651.3 288.5 652.3 289.0 653.4 289.5 654.4 290.0 655.4 290.5 656.4 291.0 657.4 291.5 658.4 292.0 659.4 292.5 660.4 293.0 661.4 293.5 662.3 294.0 663.3 294.5 664.2 295.0 665.1 295.5 666.1 296.0 667.0 296.5 668.2 297.0 669.3 297.5 670.5 298.0 671.7 298.5 672.8 299.0 674.0 299.5 675.5 300.0 677.0 300.5 690.0 301.0 690.0 301.5 690.0 302.0 690.0 302.5 690.0 303.0 690.0 303.5 690.0 304.0 690.0 304.5 690.0 305.0 690.0 305.5 690.0 306.0 690.0 306.5 690.0 307.0 690.0 307.5 690.0 308.0 690.0 308.5 690.0 309.0 690.0 309.5 690.0 310.0 690.0 310.5 690.0 311.0 690.0 311.5 690.0 312.0 690.0 312.5 690.0 313.0 690.0 313.5 690.0 314.0 690.0 314.5 690.0 315.0 690.0 315.5 690.0 316.0 690.0 316.5 690.0 317.0 690.0 317.5 690.0 318.0 690.0 318.5 690.0 319.0 690.0 319.5 690.0 320.0 690.0 320.5 690.0 321.0 690.0 321.5 690.0 322.0 690.0 322.5 690.0 323.0 690.0 323.5 690.0" stroke="#d483d6" stroke-width="1.6" fill="none" stroke-linejoin="round"/>
<path d="M41.0 690.0 41.5 690.0 42.0 690.0 42.5 690.0 43.0 690.0 43.5 690.0 44.0 690.0 44.5 690.0 45.0 690.0 45.5 690.0 46.0 690.0 46.5 690.0 47.0 690.0 47.5 690.0 48.0 690.0 48.5 690.0 49.0 690.0 49.5 690.0 50.0 690.0 50.5 690.0 51.0 690.0 51.5 690.0 52.0 690.0 52.5 690.0 53.0 690.0 53.5 690.0 54.0 690.0 54.5 690.0 55.0 690.0 55.5 690.0 56.0 690.0 56.5 690.0 57.0 690.0 57.5 690.0 58.0 690.0 58.5 690.0 59.0 689.0 59.5 687.9 60.0 686.8 60.5 685.8 61.0 684.8 61.5 683.8 62.0 682.9 62.5 682.0 63.0 681.1 63.5 680.3 64.0 679.5 64.5 678.7 65.0 677.9 65.5 677.2 66.0 676.5 66.5 675.8 67.0 675.2 67.5 674.6 68.0 674.0 68.5 673.4 69.0 672.8 69.5 672.3 70.0 671.8 70.5 671.3 71.0 670.8 71.5 670.4 72.0 670.0 72.5 669.6 73.0 669.2 73.5 668.9 74.0 668.5 74.5 668.2 75.0 667.9 75.5 667.7 76.0 667.4 76.5 667.2 77.0 667.0 77.5 666.8 78.0 666.6 78.5 666.5 79.0 666.4 79.5 666.2 80.0 666.2 80.5 666.1 81.0 666.0 81.5 666.0 82.0 666.0 82.5 666.0 83.0 666.0 83.5 666.1 84.0 666.1 84.5 666.2 85.0 666.3 85.5 666.4 86.0 666.5 86.5 666.7 87.0 666.8 87.5 667.0 88.0 667.2 88.5 667.4 89.0 667.6 89.5 667.9 90.0 668.1 90.5 667.8 91.0 667.3 91.5 666.7 92.0 666.1 92.5 665.6 93.0 665.1 93.5 664.6 94.0 664.1 94.5 663.6 95.0 663.1 95.5 662.7 96.0 662.2 96.5 661.8 97.0 661.4 97.5 661.0 98.0 660.6 98.5 660.2 99.0 659.9 99.5 659.5 100.0 659.2 100.5 658.9 101.0 658.6 101.5 658.3 102.0 658.0 102.5 657.7 103.0 657.5 103.5 657.2 104.0 657.0 104.5 656.7 105.0 656.5 105.5 656.3 106.0 656.1 106.5 656.0 107.0 655.8 107.5 655.7 108.0 655.5 108.5 655.4 109.0 655.3 109.5 655.2 110.0 655.1 110.5 655.0 111.0 654.9 111.5 654.8 112.0 654.8 112.5 654.8 113.0 654.7 113.5 654.7 114.0 654.7 114.5 654.7 115.0 654.8 115.5 655.0 116.0 655.2 116.5 655.5 117.0 655.9 117.5 656.4 118.0 656.9 118.5 657.5 119.0 658.1 119.5 658.9 120.0 659.7 120.5 660.5 121.0 661.5 121.5 662.5 122.0 663.7 122.5 664.9 123.0 666.2 123.5 667.6 124.0 669.1 124.5 670.7 125.0 672.3 125.5 674.1 126.0 676.1 126.5 678.1 127.0 680.3 127.5 682.6 128.0 685.0 128.5 687.6 129.0 690.0 129.5 690.0 130.0 690.0 130.5 690.0 131.0 690.0 131.5 690.0 132.0 690.0 132.5 690.0 133.0 690.0 133.5 690.0 134.0 690.0 134.5 690.0 135.0 690.0 135.5 690.0 136.0 690.0 136.5 690.0 137.0 690.0 137.5 690.0 138.0 690.0 138.5 690.0 139.0 690.0 139.5 689.2 140.0 685.5 140.5 682.1 141.0 679.1 141.5 676.4 142.0 674.0 142.5 671.9 143.0 670.1 143.5 668.5 144.0 667.2 144.5 666.2 145.0 665.3 145.5 664.7 146.0 664.4 146.5 664.2 147.0 664.3 147.5 664.5 148.0 665.0 148.5 665.6 149.0 666.5 149.5 667.5 150.0 666.0 150.5 662.8 151.0 660.0 151.5 657.6 152.0 655.6 152.5 654.0 153.0 652.6 153.5 651.7 154.0 651.0 154.5 650.7 155.0 650.6 155.5 651.0 156.0 651.9 156.5 653.2 157.0 654.9 157.5 657.2 158.0 660.0 158.5 663.4 159.0 667.3 159.5 672.0 160.0 677.5 160.5 683.9 161.0 690.0 161.5 690.0 162.0 690.0 162.5 690.0 163.0 690.0 163.5 690.0 164.0 690.0 164.5 690.0 165.0 690.0 165.5 690.0 166.0 690.0 166.5 690.0 167.0 686.6 167.5 678.4 168.0 671.6 168.5 665.8 169.0 660.9 169.5 656.7 170.0 653.2 170.5 650.4 171.0 648.0 171.5 646.2 172.0 644.9 172.5 644.1 173.0 643.8 173.5 643.8 174.0 644.0 174.5 644.4 175.0 644.8 175.5 645.5 176.0 646.3 176.5 647.2 177.0 648.3 177.5 649.5 178.0 651.0 178.5 652.6 179.0 654.3 179.5 656.3 180.0 658.5 180.5 660.9 181.0 663.5 181.5 666.4 182.0 669.5 182.5 673.0 183.0 676.8 183.5 680.9 184.0 685.5 184.5 690.0 185.0 690.0 185.5 690.0 186.0 690.0 186.5 690.0 187.0 690.0 187.5 690.0 188.0 690.0 188.5 690.0 189.0 690.0 189.5 690.0 190.0 690.0 190.5 690.0 191.0 690.0 191.5 690.0 192.0 690.0 192.5 690.0 193.0 690.0 193.5 690.0 194.0 690.0 194.5 690.0 195.0 690.0 195.5 690.0 196.0 690.0 196.5 680.7 197.0 671.7 197.5 664.0 198.0 657.3 198.5 651.3 199.0 646.0 199.5 641.2 200.0 636.8 200.5 632.9 201.0 629.2 201.5 625.9 202.0 622.9 202.5 620.1 203.0 617.5 203.5 615.2 204.0 613.0 204.5 611.0 205.0 609.3 205.5 607.7 206.0 606.2 206.5 604.9 207.0 603.8 207.5 602.8 208.0 601.9 208.5 601.2 209.0 600.7 209.5 600.2 210.0 599.9 210.5 599.7 211.0 599.7 211.5 599.8 212.0 600.0 212.5 600.4 213.0 600.8 213.5 601.5 214.0 602.2 214.5 603.1 215.0 604.1 215.5 605.3 216.0 606.6 216.5 608.1 217.0 609.7 217.5 611.5 218.0 613.5 218.5 615.6 219.0 618.0 219.5 620.6 220.0 623.4 220.5 626.4 221.0 627.2 221.5 626.8 222.0 626.5 222.5 626.3 223.0 626.2 223.5 626.2 224.0 626.4 224.5 626.6 225.0 627.0 225.5 627.5 226.0 628.0 226.5 628.8 227.0 629.6 227.5 630.5 228.0 631.6 228.5 632.7 229.0 634.1 229.5 635.5 230.0 637.1 230.5 638.8 231.0 640.7 231.5 642.8 232.0 645.0 232.5 647.4 233.0 650.0 233.5 652.8 234.0 655.9 234.5 659.2 235.0 662.7 235.5 666.6 236.0 670.9 236.5 675.5 237.0 680.7 237.5 686.4 238.0 690.0 238.5 690.0 239.0 690.0 239.5 690.0 240.0 690.0 240.5 690.0 241.0 690.0 241.5 690.0 242.0 690.0 242.5 690.0 243.0 690.0 243.5 690.0 244.0 690.0 244.5 690.0 245.0 690.0 245.5 690.0 246.0 690.0 246.5 690.0 247.0 690.0 247.5 690.0 248.0 690.0 248.5 690.0 249.0 690.0 249.5 690.0 250.0 690.0 250.5 690.0 251.0 690.0 251.5 690.0 252.0 690.0 252.5 690.0 253.0 690.0 253.5 690.0 254.0 690.0 254.5 690.0 255.0 690.0 255.5 690.0 256.0 690.0 256.5 690.0 257.0 690.0 257.5 690.0 258.0 690.0 258.5 690.0 259.0 690.0 259.5 690.0 260.0 690.0 260.5 690.0 261.0 690.0 261.5 690.0 262.0 690.0 262.5 690.0 263.0 690.0 263.5 690.0 264.0 690.0 264.5 690.0 265.0 690.0 265.5 690.0 266.0 690.0 266.5 690.0 267.0 690.0 267.5 690.0 268.0 690.0 268.5 690.0 269.0 690.0 269.5 689.0 270.0 684.0 270.5 679.5 271.0 675.4 271.5 671.7 272.0 668.3 272.5 665.2 273.0 662.3 273.5 659.8 274.0 657.4 274.5 655.3 275.0 653.3 275.5 651.6 276.0 650.0 276.5 648.6 277.0 647.4 277.5 646.3 278.0 645.4 278.5 644.6 279.0 644.0 279.5 643.6 280.0 643.3 280.5 643.1 281.0 643.1 281.5 643.2 282.0 643.3 282.5 643.5 283.0 643.9 283.5 644.2 284.0 644.7 284.5 645.2 285.0 645.9 285.5 646.6 286.0 647.4 286.5 648.2 287.0 649.2 287.5 650.3 288.0 651.4 288.5 652.7 289.0 654.0 289.5 655.5 290.0 657.0 290.5 658.7 291.0 660.5 291.5 662.4 292.0 664.5 292.5 666.7 293.0 669.0 293.5 671.5 294.0 674.2 294.5 677.1 295.0 680.1 295.5 683.4 296.0 687.0 296.5 690.0 297.0 689.8 297.5 686.9 298.0 684.3 298.5 681.9 299.0 679.7 299.5 677.8 300.0 676.0 300.5 674.4 301.0 673.1 301.5 671.8 302.0 670.8 302.5 669.9 303.0 669.2 303.5 668.7 304.0 668.3 304.5 668.1 305.0 668.0 305.5 668.0 306.0 668.2 306.5 668.4 307.0 668.6 307.5 669.0 308.0 669.4 308.5 669.9 309.0 670.6 309.5 671.2 310.0 672.0 310.5 672.9 311.0 673.8 311.5 674.9 312.0 676.0 312.5 677.2 313.0 678.6 313.5 680.0 314.0 681.6 314.5 683.2 315.0 685.0 315.5 686.9 316.0 688.9 316.5 690.0 317.0 690.0 317.5 690.0 318.0 690.0 318.5 690.0 319.0 690.0 319.5 690.0 320.0 690.0 320.5 690.0 321.0 690.0 321.5 690.0 322.0 690.0 322.5 690.0 323.0 690.0 323.5 690.0" stroke="#ff4fa0" stroke-width="1.6" fill="none" stroke-linejoin="round"/>
<path d="M41.0 690.0 41.5 690.0 42.0 690.0 42.5 690.0 43.0 690.0 43.5 690.0 44.0 690.0 44.5 690.0 45.0 690.0 45.5 690.0 46.0 690.0 46.5 690.0 47.0 690.0 47.5 690.0 48.0 690.0 48.5 690.0 49.0 690.0 49.5 690.0 50.0 690.0 50.5 690.0 51.0 688.4 51.5 686.3 52.0 684.4 52.5 682.5 53.0 680.7 53.5 679.0 54.0 677.3 54.5 675.7 55.0 674.2 55.5 672.7 56.0 671.2 56.5 669.8 57.0 668.5 57.5 667.2 58.0 665.9 58.5 664.7 59.0 663.5 59.5 662.4 60.0 661.3 60.5 660.2 61.0 659.2 61.5 658.1 62.0 657.2 62.5 656.2 63.0 655.3 63.5 654.5 64.0 653.6 64.5 652.8 65.0 652.0 65.5 651.2 66.0 650.5 66.5 649.8 67.0 649.1 67.5 648.4 68.0 647.8 68.5 647.2 69.0 646.6 69.5 646.0 70.0 645.5 70.5 645.0 71.0 644.5 71.5 644.0 72.0 643.6 72.5 643.1 73.0 642.7 73.5 642.4 74.0 642.0 74.5 641.7 75.0 641.3 75.5 641.0 76.0 640.8 76.5 640.5 77.0 640.3 77.5 640.0 78.0 639.8 78.5 639.6 79.0 639.5 79.5 639.3 80.0 639.2 80.5 639.1 81.0 639.0 81.5 639.0 82.0 638.9 82.5 638.9 83.0 638.9 83.5 638.9 84.0 639.1 84.5 639.2 85.0 639.5 85.5 639.8 86.0 640.2 86.5 640.6 87.0 641.2 87.5 641.7 88.0 642.4 88.5 643.1 89.0 643.9 89.5 644.8 90.0 645.8 90.5 646.8 91.0 648.0 91.5 649.2 92.0 650.5 92.5 651.8 93.0 653.3 93.5 654.9 94.0 656.6 94.5 658.4 95.0 660.3 95.5 662.3 96.0 664.4 96.5 666.7 97.0 669.2 97.5 671.7 98.0 674.5 98.5 677.4 99.0 680.6 99.5 684.0 100.0 687.6 100.5 690.0 101.0 690.0 101.5 690.0 102.0 690.0 102.5 690.0 103.0 690.0 103.5 690.0 104.0 690.0 104.5 690.0 105.0 690.0 105.5 690.0 106.0 690.0 106.5 690.0 107.0 690.0 107.5 690.0 108.0 690.0 108.5 690.0 109.0 690.0 109.5 690.0 110.0 690.0 110.5 690.0 111.0 690.0 111.5 690.0 112.0 690.0 112.5 684.2 113.0 675.1 113.5 667.3 114.0 660.5 114.5 654.5 115.0 649.1 115.5 644.2 116.0 639.8 116.5 635.8 117.0 632.1 117.5 628.7 118.0 625.6 118.5 622.8 119.0 620.1 119.5 617.7 120.0 615.5 120.5 613.5 121.0 611.6 121.5 609.9 122.0 608.3 122.5 606.9 123.0 605.7 123.5 604.6 124.0 603.6 124.5 602.8 125.0 602.1 125.5 601.5 126.0 601.0 126.5 600.7 127.0 600.5 127.5 600.4 128.0 600.4 128.5 600.5 129.0 600.7 129.5 600.9 130.0 601.2 130.5 601.6 131.0 602.1 131.5 602.6 132.0 603.3 132.5 604.0 133.0 604.7 133.5 605.6 134.0 606.6 134.5 607.6 135.0 608.7 135.5 609.9 136.0 611.2 136.5 612.6 137.0 614.1 137.5 615.8 138.0 617.5 138.5 619.3 139.0 621.3 139.5 623.4 140.0 625.6 140.5 628.0 141.0 630.5 141.5 633.2 142.0 636.2 142.5 639.3 143.0 642.6 143.5 646.2 144.0 650.1 144.5 654.3 145.0 658.0 145.5 657.0 146.0 656.0 146.5 655.1 147.0 654.2 147.5 653.4 148.0 652.5 148.5 651.7 149.0 651.0 149.5 650.2 150.0 649.5 150.5 648.8 151.0 648.1 151.5 647.4 152.0 646.8 152.5 646.2 153.0 645.6 153.5 645.0 154.0 644.5 154.5 643.9 155.0 643.4 155.5 643.0 156.0 642.5 156.5 642.0 157.0 641.6 157.5 641.2 158.0 640.8 158.5 640.5 159.0 640.1 159.5 639.8 160.0 639.5 160.5 639.2 161.0 638.9 161.5 638.7 162.0 638.4 162.5 638.2 163.0 638.0 163.5 637.8 164.0 637.7 164.5 637.5 165.0 637.4 165.5 637.3 166.0 637.2 166.5 637.1 167.0 637.1 167.5 637.0 168.0 637.0 168.5 637.0 169.0 637.3 169.5 638.2 170.0 639.5 170.5 641.3 171.0 643.6 171.5 646.5 172.0 650.0 172.5 654.2 173.0 659.1 173.5 665.0 174.0 671.8 174.5 680.0 175.0 689.9 175.5 690.0 176.0 690.0 176.5 690.0 177.0 690.0 177.5 690.0 178.0 690.0 178.5 687.5 179.0 683.3 179.5 679.4 180.0 675.9 180.5 672.7 181.0 669.7 181.5 666.9 182.0 664.4 182.5 662.1 183.0 660.0 183.5 658.1 184.0 656.3 184.5 654.7 185.0 653.3 185.5 652.0 186.0 650.8 186.5 649.8 187.0 649.0 187.5 648.2 188.0 647.6 188.5 647.1 189.0 646.8 189.5 646.6 190.0 646.5 190.5 646.6 191.0 646.9 191.5 647.6 192.0 648.5 192.5 649.7 193.0 651.2 193.5 652.9 194.0 655.1 194.5 657.5 195.0 660.3 195.5 663.6 196.0 667.2 196.5 671.3 197.0 676.0 197.5 681.3 198.0 687.3 198.5 690.0 199.0 690.0 199.5 690.0 200.0 690.0 200.5 690.0 201.0 690.0 201.5 690.0 202.0 690.0 202.5 690.0 203.0 690.0 203.5 690.0 204.0 690.0 204.5 690.0 205.0 690.0 205.5 690.0 206.0 690.0 206.5 690.0 207.0 690.0 207.5 690.0 208.0 690.0 208.5 690.0 209.0 690.0 209.5 690.0 210.0 690.0 210.5 690.0 211.0 690.0 211.5 690.0 212.0 690.0 212.5 690.0 213.0 690.0 213.5 690.0 214.0 690.0 214.5 690.0 215.0 690.0 215.5 690.0 216.0 690.0 216.5 690.0 217.0 690.0 217.5 690.0 218.0 690.0 218.5 690.0 219.0 690.0 219.5 690.0 220.0 690.0 220.5 690.0 221.0 690.0 221.5 690.0 222.0 690.0 222.5 690.0 223.0 690.0 223.5 690.0 224.0 690.0 224.5 690.0 225.0 690.0 225.5 690.0 226.0 690.0 226.5 690.0 227.0 690.0 227.5 690.0 228.0 690.0 228.5 690.0 229.0 690.0 229.5 690.0 230.0 690.0 230.5 690.0 231.0 690.0 231.5 690.0 232.0 690.0 232.5 690.0 233.0 690.0 233.5 690.0 234.0 690.0 234.5 690.0 235.0 690.0 235.5 690.0 236.0 690.0 236.5 690.0 237.0 690.0 237.5 690.0 238.0 690.0 238.5 690.0 239.0 690.0 239.5 690.0 240.0 690.0 240.5 690.0 241.0 690.0 241.5 690.0 242.0 690.0 242.5 690.0 243.0 690.0 243.5 690.0 244.0 690.0 244.5 690.0 245.0 690.0 245.5 690.0 246.0 690.0 246.5 690.0 247.0 690.0 247.5 690.0 248.0 690.0 248.5 690.0 249.0 690.0 249.5 690.0 250.0 690.0 250.5 690.0 251.0 690.0 251.5 690.0 252.0 690.0 252.5 690.0 253.0 690.0 253.5 690.0 254.0 690.0 254.5 690.0 255.0 690.0 255.5 690.0 256.0 690.0 256.5 690.0 257.0 690.0 257.5 690.0 258.0 690.0 258.5 690.0 259.0 690.0 259.5 690.0 260.0 690.0 260.5 690.0 261.0 690.0 261.5 690.0 262.0 690.0 262.5 690.0 263.0 690.0 263.5 690.0 264.0 690.0 264.5 690.0 265.0 690.0 265.5 690.0 266.0 690.0 266.5 690.0 267.0 690.0 267.5 690.0 268.0 690.0 268.5 690.0 269.0 690.0 269.5 690.0 270.0 690.0 270.5 690.0 271.0 690.0 271.5 690.0 272.0 690.0 272.5 690.0 273.0 690.0 273.5 690.0 274.0 690.0 274.5 690.0 275.0 690.0 275.5 690.0 276.0 690.0 276.5 690.0 277.0 690.0 277.5 690.0 278.0 690.0 278.5 690.0 279.0 690.0 279.5 690.0 280.0 690.0 280.5 690.0 281.0 690.0 281.5 690.0 282.0 690.0 282.5 690.0 283.0 690.0 283.5 690.0 284.0 690.0 284.5 690.0 285.0 690.0 285.5 690.0 286.0 690.0 286.5 690.0 287.0 690.0 287.5 690.0 288.0 690.0 288.5 690.0 289.0 690.0 289.5 690.0 290.0 690.0 290.5 690.0 291.0 690.0 291.5 690.0 292.0 690.0 292.5 690.0 293.0 690.0 293.5 690.0 294.0 690.0 294.5 690.0 295.0 690.0 295.5 690.0 296.0 690.0 296.5 690.0 297.0 690.0 297.5 690.0 298.0 690.0 298.5 690.0 299.0 690.0 299.5 690.0 300.0 690.0 300.5 690.0 301.0 690.0 301.5 690.0 302.0 690.0 302.5 690.0 303.0 690.0 303.5 690.0 304.0 690.0 304.5 690.0 305.0 690.0 305.5 690.0 306.0 690.0 306.5 690.0 307.0 690.0 307.5 690.0 308.0 690.0 308.5 690.0 309.0 690.0 309.5 690.0 310.0 690.0 310.5 690.0 311.0 690.0 311.5 690.0 312.0 690.0 312.5 690.0 313.0 690.0 313.5 690.0 314.0 690.0 314.5 690.0 315.0 690.0 315.5 690.0 316.0 690.0 316.5 690.0 317.0 690.0 317.5 690.0 318.0 690.0 318.5 690.0 319.0 690.0 319.5 690.0 320.0 690.0 320.5 690.0 321.0 690.0 321.5 690.0 322.0 690.0 322.5 690.0 323.0 690.0 323.5 690.0" stroke="#ff7f27" stroke-width="1.6" fill="none" stroke-linejoin="round"/>
<path d="M41.0 690.0 41.5 690.0 42.0 690.0 42.5 690.0 43.0 690.0 43.5 690.0 44.0 690.0 44.5 690.0 45.0 690.0 45.5 690.0 46.0 690.0 46.5 690.0 47.0 690.0 47.5 690.0 48.0 690.0 48.5 690.0 49.0 690.0 49.5 690.0 50.0 690.0 50.5 690.0 51.0 690.0 51.5 690.0 52.0 690.0 52.5 690.0 53.0 690.0 53.5 690.0 54.0 690.0 54.5 690.0 55.0 690.0 55.5 690.0 56.0 690.0 56.5 690.0 57.0 690.0 57.5 690.0 58.0 690.0 58.5 690.0 59.0 690.0 59.5 690.0 60.0 690.0 60.5 690.0 61.0 690.0 61.5 690.0 62.0 690.0 62.5 690.0 63.0 690.0 63.5 690.0 64.0 690.0 64.5 690.0 65.0 690.0 65.5 690.0 66.0 690.0 66.5 690.0 67.0 690.0 67.5 690.0 68.0 690.0 68.5 690.0 69.0 690.0 69.5 690.0 70.0 690.0 70.5 690.0 71.0 690.0 71.5 690.0 72.0 690.0 72.5 690.0 73.0 690.0 73.5 690.0 74.0 690.0 74.5 690.0 75.0 690.0 75.5 690.0 76.0 690.0 76.5 690.0 77.0 690.0 77.5 690.0 78.0 690.0 78.5 690.0 79.0 690.0 79.5 690.0 80.0 690.0 80.5 690.0 81.0 690.0 81.5 690.0 82.0 688.4 82.5 686.1 83.0 683.9 83.5 681.8 84.0 679.8 84.5 678.0 85.0 676.2 85.5 674.5 86.0 673.0 86.5 671.5 87.0 670.1 87.5 668.7 88.0 667.5 88.5 666.3 89.0 665.2 89.5 664.2 90.0 663.2 90.5 662.3 91.0 661.5 91.5 660.7 92.0 660.0 92.5 659.4 93.0 658.8 93.5 658.2 94.0 657.8 94.5 657.3 95.0 657.0 95.5 656.7 96.0 656.4 96.5 656.2 97.0 656.1 97.5 656.0 98.0 656.0 98.5 656.0 99.0 656.1 99.5 656.3 100.0 656.5 100.5 656.7 101.0 657.1 101.5 657.5 102.0 657.9 102.5 658.4 103.0 659.0 103.5 659.6 104.0 660.3 104.5 661.1 105.0 662.0 105.5 662.9 106.0 661.8 106.5 659.7 107.0 657.7 107.5 655.8 108.0 654.0 108.5 652.3 109.0 650.7 109.5 649.2 110.0 647.7 110.5 646.3 111.0 645.0 111.5 643.8 112.0 642.6 112.5 641.5 113.0 640.4 113.5 639.4 114.0 638.5 114.5 637.7 115.0 636.8 115.5 636.1 116.0 635.4 116.5 634.7 117.0 634.1 117.5 633.6 118.0 633.1 118.5 632.7 119.0 632.3 119.5 631.9 120.0 631.6 120.5 631.4 121.0 631.2 121.5 631.1 122.0 631.0 122.5 630.9 123.0 630.9 123.5 630.9 124.0 631.0 124.5 631.1 125.0 631.3 125.5 631.5 126.0 631.7 126.5 632.0 127.0 632.3 127.5 632.7 128.0 633.1 128.5 633.6 129.0 634.1 129.5 634.6 130.0 635.2 130.5 635.8 131.0 636.5 131.5 637.2 132.0 638.0 132.5 638.8 133.0 639.7 133.5 640.6 134.0 641.6 134.5 642.6 135.0 643.7 135.5 644.9 136.0 646.1 136.5 647.3 137.0 648.7 137.5 650.1 138.0 651.5 138.5 653.1 139.0 654.7 139.5 656.4 140.0 658.1 140.5 660.0 141.0 661.9 141.5 664.0 142.0 666.2 142.5 668.4 143.0 670.8 143.5 673.3 144.0 676.0 144.5 678.8 145.0 681.8 145.5 685.0 146.0 688.4 146.5 690.0 147.0 690.0 147.5 690.0 148.0 690.0 148.5 690.0 149.0 690.0 149.5 690.0 150.0 690.0 150.5 690.0 151.0 690.0 151.5 690.0 152.0 690.0 152.5 690.0 153.0 690.0 153.5 690.0 154.0 690.0 154.5 690.0 155.0 690.0 155.5 690.0 156.0 690.0 156.5 690.0 157.0 690.0 157.5 690.0 158.0 690.0 158.5 690.0 159.0 690.0 159.5 690.0 160.0 690.0 160.5 690.0 161.0 690.0 161.5 690.0 162.0 690.0 162.5 690.0 163.0 690.0 163.5 690.0 164.0 690.0 164.5 690.0 165.0 690.0 165.5 690.0 166.0 690.0 166.5 690.0 167.0 690.0 167.5 690.0 168.0 690.0 168.5 690.0 169.0 690.0 169.5 689.0 170.0 683.1 170.5 678.2 171.0 674.0 171.5 670.5 172.0 667.6 172.5 665.4 173.0 663.6 173.5 662.4 174.0 661.6 174.5 661.4 175.0 661.6 175.5 662.4 176.0 663.6 176.5 665.4 177.0 667.6 177.5 670.5 178.0 674.0 178.5 678.2 179.0 683.1 179.5 689.0 180.0 690.0 180.5 690.0 181.0 690.0 181.5 690.0 182.0 690.0 182.5 690.0 183.0 690.0 183.5 690.0 184.0 690.0 184.5 690.0 185.0 690.0 185.5 690.0 186.0 690.0 186.5 690.0 187.0 690.0 187.5 690.0 188.0 690.0 188.5 690.0 189.0 690.0 189.5 690.0 190.0 690.0 190.5 690.0 191.0 690.0 191.5 690.0 192.0 690.0 192.5 690.0 193.0 690.0 193.5 690.0 194.0 690.0 194.5 690.0 195.0 690.0 195.5 690.0 196.0 690.0 196.5 690.0 197.0 690.0 197.5 690.0 198.0 690.0 198.5 690.0 199.0 690.0 199.5 690.0 200.0 690.0 200.5 690.0 201.0 690.0 201.5 690.0 202.0 690.0 202.5 690.0 203.0 690.0 203.5 690.0 204.0 690.0 204.5 690.0 205.0 690.0 205.5 690.0 206.0 690.0 206.5 690.0 207.0 690.0 207.5 690.0 208.0 690.0 208.5 690.0 209.0 690.0 209.5 690.0 210.0 690.0 210.5 690.0 211.0 690.0 211.5 688.3 212.0 680.8 212.5 674.2 213.0 668.3 213.5 663.0 214.0 658.2 214.5 653.9 215.0 649.8 215.5 646.1 216.0 642.6 216.5 639.4 217.0 636.4 217.5 633.6 218.0 631.0 218.5 628.5 219.0 626.2 219.5 624.0 220.0 622.0 220.5 620.1 221.0 618.3 221.5 616.7 222.0 615.1 222.5 613.7 223.0 612.3 223.5 611.1 224.0 609.9 224.5 608.9 225.0 607.9 225.5 607.0 226.0 606.2 226.5 605.4 227.0 604.8 227.5 604.2 228.0 603.7 228.5 603.3 229.0 603.0 229.5 602.7 230.0 602.5 230.5 602.4 231.0 602.4 231.5 602.4 232.0 602.5 232.5 602.6 233.0 602.7 233.5 602.8 234.0 603.0 234.5 603.2 235.0 603.5 235.5 603.8 236.0 604.1 236.5 604.4 237.0 604.8 237.5 605.3 238.0 605.7 238.5 606.2 239.0 606.8 239.5 607.3 240.0 607.9 240.5 608.6 241.0 609.3 241.5 610.0 242.0 610.8 242.5 611.6 243.0 612.4 243.5 613.3 244.0 614.3 244.5 615.3 245.0 616.3 245.5 617.4 246.0 618.5 246.5 619.7 247.0 621.0 247.5 622.3 248.0 623.6 248.5 625.0 249.0 626.4 249.5 627.1 250.0 627.9 250.5 628.7 251.0 629.5 251.5 630.2 252.0 631.0 252.5 632.3 253.0 633.6 253.5 634.9 254.0 636.2 254.5 637.6 255.0 639.2 255.5 640.8 256.0 642.4 256.5 644.0 257.0 646.1 257.5 648.2 258.0 650.2 258.5 652.4 259.0 654.9 259.5 657.5 260.0 660.0 260.5 662.7 261.0 665.3 261.5 667.3 262.0 665.0 262.5 662.9 263.0 660.9 263.5 659.1 264.0 657.4 264.5 655.8 265.0 654.3 265.5 653.0 266.0 651.8 266.5 650.7 267.0 649.7 267.5 648.8 268.0 648.0 268.5 647.3 269.0 646.7 269.5 646.1 270.0 645.7 270.5 645.4 271.0 645.2 271.5 645.0 272.0 645.0 272.5 645.0 273.0 645.0 273.5 645.1 274.0 645.2 274.5 645.3 275.0 645.4 275.5 645.5 276.0 645.6 276.5 645.8 277.0 646.0 277.5 646.2 278.0 646.5 278.5 646.7 279.0 647.0 279.5 647.3 280.0 647.6 280.5 647.9 281.0 648.3 281.5 648.7 282.0 649.1 282.5 649.5 283.0 650.0 283.5 650.4 284.0 650.9 284.5 651.5 285.0 652.0 285.5 652.6 286.0 652.3 286.5 651.5 287.0 650.7 287.5 649.9 288.0 649.2 288.5 648.6 289.0 648.0 289.5 647.5 290.0 647.0 290.5 646.6 291.0 646.2 291.5 645.9 292.0 645.6 292.5 645.4 293.0 645.3 293.5 645.2 294.0 645.1 294.5 645.1 295.0 645.1 295.5 645.2 296.0 645.2 296.5 645.3 297.0 645.5 297.5 645.6 298.0 645.8 298.5 646.0 299.0 646.2 299.5 646.5 300.0 646.8 300.5 647.1 301.0 647.4 301.5 647.8 302.0 648.2 302.5 648.6 303.0 649.1 303.5 649.5 304.0 650.0 304.5 650.6 305.0 651.1 305.5 651.7 306.0 652.4 306.5 653.0 307.0 653.7 307.5 654.4 308.0 655.2 308.5 656.0 309.0 656.8 309.5 657.6 310.0 658.5 310.5 659.5 311.0 660.4 311.5 661.4 312.0 662.5 312.5 663.6 313.0 664.7 313.5 665.9 314.0 667.1 314.5 668.1 315.0 668.1 315.5 668.0 316.0 668.0 316.5 668.0 317.0 668.0 317.5 668.0 318.0 668.0 318.5 668.1 319.0 668.4 319.5 668.8 320.0 669.5 320.5 670.3 321.0 671.3 321.5 672.6 322.0 674.0 322.5 675.6 323.0 677.5 323.5 679.6" stroke="#ff7f27" stroke-width="1.6" fill="none" stroke-linejoin="round"/>
<path d="M41.0 690.0 41.5 690.0 42.0 690.0 42.5 690.0 43.0 690.0 43.5 690.0 44.0 690.0 44.5 690.0 45.0 690.0 45.5 690.0 46.0 690.0 46.5 690.0 47.0 690.0 47.5 690.0 48.0 690.0 48.5 690.0 49.0 690.0 49.5 690.0 50.0 690.0 50.5 690.0 51.0 690.0 51.5 690.0 52.0 690.0 52.5 690.0 53.0 690.0 53.5 690.0 54.0 690.0 54.5 690.0 55.0 690.0 55.5 690.0 56.0 690.0 56.5 690.0 57.0 690.0 57.5 690.0 58.0 690.0 58.5 690.0 59.0 690.0 59.5 690.0 60.0 689.1 60.5 687.1 61.0 685.1 61.5 683.2 62.0 681.3 62.5 679.5 63.0 677.8 63.5 676.2 64.0 674.6 64.5 673.1 65.0 671.6 65.5 670.2 66.0 668.8 66.5 667.5 67.0 666.2 67.5 665.0 68.0 663.8 68.5 662.6 69.0 661.5 69.5 660.4 70.0 659.4 70.5 658.3 71.0 657.4 71.5 656.4 72.0 655.5 72.5 654.6 73.0 653.8 73.5 653.0 74.0 652.2 74.5 651.4 75.0 650.7 75.5 650.0 76.0 649.3 76.5 648.6 77.0 648.0 77.5 647.4 78.0 646.8 78.5 646.3 79.0 645.7 79.5 645.2 80.0 644.7 80.5 644.3 81.0 643.9 81.5 643.4 82.0 643.1 82.5 642.7 83.0 642.3 83.5 642.0 84.0 641.7 84.5 641.4 85.0 641.2 85.5 640.9 86.0 640.7 86.5 640.5 87.0 640.4 87.5 640.2 88.0 640.1 88.5 640.0 89.0 639.9 89.5 639.8 90.0 639.7 90.5 639.7 91.0 639.7 91.5 639.7 92.0 639.7 92.5 639.7 93.0 639.8 93.5 639.8 94.0 639.8 94.5 639.9 95.0 640.0 95.5 640.0 96.0 640.1 96.5 640.2 97.0 640.3 97.5 640.4 98.0 640.5 98.5 640.6 99.0 640.7 99.5 640.9 100.0 640.9 100.5 639.6 101.0 638.4 101.5 637.2 102.0 636.2 102.5 635.1 103.0 634.2 103.5 633.3 104.0 632.4 104.5 631.6 105.0 630.9 105.5 630.2 106.0 629.5 106.5 628.9 107.0 628.4 107.5 627.9 108.0 627.4 108.5 627.0 109.0 626.7 109.5 626.4 110.0 626.1 110.5 625.9 111.0 625.7 111.5 625.6 112.0 625.5 112.5 625.5 113.0 625.5 113.5 625.6 114.0 625.8 114.5 626.0 115.0 626.3 115.5 626.6 116.0 627.1 116.5 627.6 117.0 628.1 117.5 628.8 118.0 629.5 118.5 630.3 119.0 631.2 119.5 632.1 120.0 633.1 120.5 634.3 121.0 635.5 121.5 636.7 122.0 638.1 122.5 639.6 123.0 641.2 123.5 642.8 124.0 644.6 124.5 646.5 125.0 648.5 125.5 650.7 126.0 652.9 126.5 655.4 127.0 658.0 127.5 660.7 128.0 663.7 128.5 664.8 129.0 665.6 129.5 666.4 130.0 667.2 130.5 668.0 131.0 668.8 131.5 669.7 132.0 670.6 132.5 671.5 133.0 672.4 133.5 673.3 134.0 674.3 134.5 675.2 135.0 676.2 135.5 677.2 136.0 678.3 136.5 679.4 137.0 680.5 137.5 681.6 138.0 682.7 138.5 683.9 139.0 685.1 139.5 686.3 140.0 687.6 140.5 688.9 141.0 690.0 141.5 690.0 142.0 690.0 142.5 690.0 143.0 690.0 143.5 690.0 144.0 690.0 144.5 690.0 145.0 690.0 145.5 690.0 146.0 690.0 146.5 690.0 147.0 690.0 147.5 690.0 148.0 690.0 148.5 690.0 149.0 690.0 149.5 690.0 150.0 690.0 150.5 690.0 151.0 690.0 151.5 690.0 152.0 690.0 152.5 690.0 153.0 690.0 153.5 690.0 154.0 690.0 154.5 690.0 155.0 690.0 155.5 690.0 156.0 690.0 156.5 690.0 157.0 690.0 157.5 690.0 158.0 690.0 158.5 690.0 159.0 690.0 159.5 690.0 160.0 690.0 160.5 690.0 161.0 690.0 161.5 690.0 162.0 690.0 162.5 690.0 163.0 690.0 163.5 690.0 164.0 690.0 164.5 686.7 165.0 677.2 165.5 669.2 166.0 662.2 166.5 656.0 167.0 650.5 167.5 645.6 168.0 641.0 168.5 636.9 169.0 633.1 169.5 629.7 170.0 626.5 170.5 623.5 171.0 620.8 171.5 618.3 172.0 616.0 172.5 613.9 173.0 611.9 173.5 610.1 174.0 608.5 174.5 607.0 175.0 605.6 175.5 604.4 176.0 603.3 176.5 602.4 177.0 601.5 177.5 600.8 178.0 600.2 178.5 599.7 179.0 599.4 179.5 599.1 180.0 599.0 180.5 599.0 181.0 599.2 181.5 599.6 182.0 600.3 182.5 601.1 183.0 602.2 183.5 603.5 184.0 605.1 184.5 606.9 185.0 609.0 185.5 611.4 186.0 614.1 186.5 617.1 187.0 620.4 187.5 624.2 188.0 628.4 188.5 633.1 189.0 638.3 189.5 644.3 190.0 645.0 190.5 642.8 191.0 641.0 191.5 639.6 192.0 638.4 192.5 637.6 193.0 637.2 193.5 637.0 194.0 637.2 194.5 637.8 195.0 638.9 195.5 640.4 196.0 642.4 196.5 644.9 197.0 647.8 197.5 651.4 198.0 655.5 198.5 660.4 199.0 666.1 199.5 672.7 200.0 680.6 200.5 678.8 201.0 673.0 201.5 668.1 202.0 664.0 202.5 660.6 203.0 657.8 203.5 655.5 204.0 653.9 204.5 652.7 205.0 652.1 205.5 651.9 206.0 652.2 206.5 653.0 207.0 654.2 207.5 655.9 208.0 658.0 208.5 660.7 209.0 664.0 209.5 667.9 210.0 672.4 210.5 677.8 211.0 684.0 211.5 690.0 212.0 690.0 212.5 690.0 213.0 690.0 213.5 690.0 214.0 690.0 214.5 690.0 215.0 690.0 215.5 690.0 216.0 690.0 216.5 690.0 217.0 690.0 217.5 690.0 218.0 690.0 218.5 690.0 219.0 690.0 219.5 690.0 220.0 690.0 220.5 690.0 221.0 690.0 221.5 690.0 222.0 690.0 222.5 690.0 223.0 690.0 223.5 690.0 224.0 690.0 224.5 690.0 225.0 690.0 225.5 690.0 226.0 690.0 226.5 690.0 227.0 690.0 227.5 690.0 228.0 687.0 228.5 683.1 229.0 679.7 229.5 676.7 230.0 674.0 230.5 671.6 231.0 669.5 231.5 667.7 232.0 666.2 232.5 664.9 233.0 663.8 233.5 663.0 234.0 662.5 234.5 662.1 235.0 662.0 235.5 662.1 236.0 662.5 236.5 663.0 237.0 663.8 237.5 664.9 238.0 666.2 238.5 667.7 239.0 669.5 239.5 671.6 240.0 674.0 240.5 676.7 241.0 679.7 241.5 683.1 242.0 687.0 242.5 690.0 243.0 690.0 243.5 690.0 244.0 690.0 244.5 690.0 245.0 690.0 245.5 690.0 246.0 690.0 246.5 690.0 247.0 690.0 247.5 690.0 248.0 690.0 248.5 690.0 249.0 690.0 249.5 690.0 250.0 690.0 250.5 690.0 251.0 690.0 251.5 690.0 252.0 690.0 252.5 690.0 253.0 690.0 253.5 690.0 254.0 690.0 254.5 690.0 255.0 690.0 255.5 690.0 256.0 690.0 256.5 690.0 257.0 690.0 257.5 690.0 258.0 690.0 258.5 690.0 259.0 690.0 259.5 690.0 260.0 690.0 260.5 690.0 261.0 690.0 261.5 690.0 262.0 690.0 262.5 690.0 263.0 690.0 263.5 690.0 264.0 690.0 264.5 690.0 265.0 690.0 265.5 690.0 266.0 690.0 266.5 690.0 267.0 690.0 267.5 690.0 268.0 690.0 268.5 690.0 269.0 690.0 269.5 690.0 270.0 690.0 270.5 690.0 271.0 690.0 271.5 690.0 272.0 690.0 272.5 690.0 273.0 690.0 273.5 690.0 274.0 690.0 274.5 690.0 275.0 690.0 275.5 690.0 276.0 690.0 276.5 690.0 277.0 690.0 277.5 690.0 278.0 690.0 278.5 690.0 279.0 690.0 279.5 690.0 280.0 690.0 280.5 690.0 281.0 690.0 281.5 690.0 282.0 690.0 282.5 690.0 283.0 690.0 283.5 690.0 284.0 690.0 284.5 690.0 285.0 690.0 285.5 690.0 286.0 690.0 286.5 690.0 287.0 690.0 287.5 690.0 288.0 690.0 288.5 690.0 289.0 690.0 289.5 690.0 290.0 690.0 290.5 690.0 291.0 690.0 291.5 690.0 292.0 690.0 292.5 690.0 293.0 690.0 293.5 690.0 294.0 690.0 294.5 690.0 295.0 690.0 295.5 690.0 296.0 690.0 296.5 690.0 297.0 690.0 297.5 690.0 298.0 690.0 298.5 690.0 299.0 690.0 299.5 690.0 300.0 690.0 300.5 690.0 301.0 690.0 301.5 690.0 302.0 690.0 302.5 690.0 303.0 690.0 303.5 690.0 304.0 690.0 304.5 690.0 305.0 690.0 305.5 690.0 306.0 690.0 306.5 690.0 307.0 690.0 307.5 690.0 308.0 690.0 308.5 690.0 309.0 690.0 309.5 690.0 310.0 690.0 310.5 690.0 311.0 690.0 311.5 690.0 312.0 690.0 312.5 690.0 313.0 690.0 313.5 690.0 314.0 690.0 314.5 690.0 315.0 690.0 315.5 690.0 316.0 690.0 316.5 690.0 317.0 690.0 317.5 690.0 318.0 690.0 318.5 690.0 319.0 690.0 319.5 690.0 320.0 690.0 320.5 690.0 321.0 690.0 321.5 690.0 322.0 690.0 322.5 690.0 323.0 690.0 323.5 690.0" stroke="#12a043" stroke-width="1.6" fill="none" stroke-linejoin="round"/>
<path d="M41.0 690.0 41.5 690.0 42.0 690.0 42.5 690.0 43.0 690.0 43.5 690.0 44.0 690.0 44.5 690.0 45.0 690.0 45.5 690.0 46.0 690.0 46.5 690.0 47.0 690.0 47.5 690.0 48.0 690.0 48.5 690.0 49.0 690.0 49.5 690.0 50.0 690.0 50.5 687.6 51.0 683.9 51.5 680.5 52.0 677.3 52.5 674.3 53.0 671.5 53.5 668.8 54.0 666.2 54.5 663.8 55.0 661.5 55.5 659.3 56.0 657.2 56.5 655.2 57.0 653.2 57.5 651.4 58.0 649.6 58.5 648.0 59.0 646.3 59.5 644.8 60.0 643.3 60.5 641.9 61.0 640.5 61.5 639.2 62.0 638.0 62.5 636.8 63.0 635.6 63.5 634.5 64.0 633.5 64.5 632.5 65.0 631.5 65.5 630.6 66.0 629.7 66.5 628.9 67.0 628.1 67.5 627.4 68.0 626.6 68.5 626.0 69.0 625.3 69.5 624.7 70.0 624.2 70.5 623.7 71.0 623.2 71.5 622.7 72.0 622.3 72.5 621.9 73.0 621.5 73.5 621.2 74.0 620.9 74.5 620.7 75.0 620.5 75.5 620.3 76.0 620.1 76.5 620.0 77.0 619.9 77.5 619.8 78.0 619.8 78.5 619.8 79.0 619.9 79.5 620.1 80.0 620.4 80.5 620.8 81.0 621.3 81.5 621.9 82.0 622.6 82.5 623.4 83.0 624.3 83.5 625.3 84.0 626.4 84.5 627.6 85.0 628.9 85.5 630.4 86.0 632.0 86.5 633.7 87.0 635.6 87.5 637.6 88.0 639.7 88.5 642.1 89.0 644.6 89.5 647.3 90.0 650.2 90.5 645.7 91.0 641.2 91.5 637.0 92.0 633.2 92.5 629.7 93.0 626.4 93.5 623.4 94.0 620.5 94.5 617.8 95.0 615.3 95.5 613.0 96.0 610.8 96.5 608.8 97.0 606.9 97.5 605.1 98.0 603.4 98.5 601.9 99.0 600.4 99.5 599.1 100.0 597.8 100.5 596.7 101.0 595.6 101.5 594.6 102.0 593.8 102.5 593.0 103.0 592.3 103.5 591.6 104.0 591.1 104.5 590.6 105.0 590.3 105.5 589.9 106.0 589.7 106.5 589.6 107.0 589.5 107.5 589.5 108.0 589.6 108.5 589.8 109.0 590.2 109.5 590.6 110.0 591.1 110.5 591.7 111.0 592.5 111.5 593.3 112.0 594.2 112.5 595.3 113.0 596.5 113.5 597.8 114.0 599.2 114.5 600.8 115.0 602.5 115.5 604.3 116.0 606.3 116.5 608.5 117.0 610.8 117.5 613.3 118.0 616.0 118.5 618.9 119.0 622.1 119.5 625.5 120.0 629.2 120.5 633.2 121.0 637.6 121.5 642.4 122.0 647.7 122.5 653.6 123.0 660.3 123.5 667.9 124.0 676.7 124.5 687.3 125.0 690.0 125.5 689.1 126.0 682.3 126.5 676.2 127.0 670.8 127.5 666.0 128.0 661.6 128.5 657.6 129.0 653.9 129.5 650.6 130.0 647.6 130.5 644.8 131.0 642.3 131.5 640.0 132.0 637.9 132.5 636.0 133.0 634.3 133.5 632.8 134.0 631.4 134.5 630.2 135.0 629.2 135.5 628.3 136.0 627.6 136.5 627.0 137.0 626.6 137.5 626.3 138.0 626.2 138.5 626.2 139.0 626.5 139.5 627.0 140.0 627.8 140.5 628.9 141.0 630.2 141.5 631.7 142.0 633.6 142.5 635.8 143.0 638.3 143.5 641.1 144.0 644.3 144.5 647.9 145.0 652.0 145.5 656.5 146.0 661.7 146.5 667.6 147.0 674.3 147.5 682.0 148.0 690.0 148.5 690.0 149.0 690.0 149.5 689.3 150.0 681.4 150.5 674.8 151.0 669.1 151.5 664.2 152.0 660.0 152.5 656.4 153.0 653.4 153.5 650.9 154.0 648.9 154.5 647.3 155.0 646.2 155.5 645.5 156.0 645.2 156.5 645.3 157.0 645.9 157.5 647.0 158.0 648.5 158.5 650.6 159.0 653.1 159.5 656.3 160.0 660.0 160.5 664.4 161.0 669.6 161.5 675.7 162.0 682.9 162.5 690.0 163.0 690.0 163.5 690.0 164.0 690.0 164.5 690.0 165.0 690.0 165.5 690.0 166.0 690.0 166.5 690.0 167.0 690.0 167.5 690.0 168.0 690.0 168.5 690.0 169.0 690.0 169.5 690.0 170.0 690.0 170.5 690.0 171.0 690.0 171.5 690.0 172.0 690.0 172.5 690.0 173.0 690.0 173.5 690.0 174.0 690.0 174.5 690.0 175.0 690.0 175.5 690.0 176.0 690.0 176.5 690.0 177.0 690.0 177.5 690.0 178.0 690.0 178.5 690.0 179.0 690.0 179.5 690.0 180.0 690.0 180.5 690.0 181.0 690.0 181.5 690.0 182.0 690.0 182.5 690.0 183.0 690.0 183.5 690.0 184.0 690.0 184.5 690.0 185.0 690.0 185.5 690.0 186.0 690.0 186.5 690.0 187.0 690.0 187.5 690.0 188.0 690.0 188.5 690.0 189.0 690.0 189.5 690.0 190.0 690.0 190.5 690.0 191.0 690.0 191.5 690.0 192.0 690.0 192.5 690.0 193.0 690.0 193.5 690.0 194.0 685.4 194.5 678.8 195.0 673.1 195.5 668.0 196.0 663.5 196.5 659.5 197.0 655.9 197.5 652.8 198.0 650.0 198.5 647.6 199.0 645.4 199.5 643.6 200.0 642.1 200.5 640.8 201.0 639.9 201.5 639.1 202.0 638.6 202.5 638.4 203.0 638.5 203.5 638.9 204.0 639.8 204.5 641.1 205.0 642.9 205.5 645.1 206.0 647.8 206.5 651.1 207.0 654.9 207.5 659.4 208.0 664.6 208.5 670.7 209.0 677.9 209.5 686.4 210.0 690.0 210.5 690.0 211.0 690.0 211.5 690.0 212.0 690.0 212.5 690.0 213.0 690.0 213.5 686.8 214.0 683.2 214.5 679.9 215.0 676.9 215.5 674.0 216.0 671.4 216.5 669.0 217.0 666.7 217.5 664.6 218.0 662.6 218.5 660.7 219.0 659.0 219.5 657.5 220.0 656.0 220.5 654.7 221.0 653.4 221.5 652.3 222.0 651.3 222.5 650.4 223.0 649.6 223.5 648.9 224.0 648.3 224.5 647.7 225.0 647.3 225.5 647.0 226.0 646.7 226.5 646.6 227.0 646.5 227.5 646.6 228.0 646.9 228.5 647.5 229.0 648.4 229.5 649.6 230.0 651.0 230.5 652.8 231.0 654.9 231.5 657.3 232.0 660.0 232.5 663.1 233.0 666.7 233.5 670.7 234.0 675.2 234.5 680.4 235.0 686.2 235.5 690.0 236.0 690.0 236.5 690.0 237.0 690.0 237.5 690.0 238.0 690.0 238.5 690.0 239.0 690.0 239.5 690.0 240.0 690.0 240.5 690.0 241.0 690.0 241.5 690.0 242.0 690.0 242.5 690.0 243.0 690.0 243.5 690.0 244.0 690.0 244.5 690.0 245.0 690.0 245.5 690.0 246.0 690.0 246.5 690.0 247.0 690.0 247.5 690.0 248.0 690.0 248.5 690.0 249.0 690.0 249.5 690.0 250.0 690.0 250.5 690.0 251.0 690.0 251.5 690.0 252.0 690.0 252.5 690.0 253.0 690.0 253.5 690.0 254.0 690.0 254.5 690.0 255.0 690.0 255.5 690.0 256.0 690.0 256.5 690.0 257.0 690.0 257.5 685.6 258.0 681.3 258.5 677.4 259.0 674.0 259.5 670.8 260.0 668.0 260.5 665.5 261.0 663.2 261.5 661.2 262.0 659.5 262.5 658.0 263.0 656.7 263.5 655.6 264.0 654.7 264.5 654.1 265.0 653.6 265.5 653.4 266.0 653.3 266.5 653.4 267.0 653.5 267.5 653.8 268.0 654.2 268.5 654.7 269.0 655.3 269.5 656.0 270.0 656.8 270.5 657.7 271.0 658.7 271.5 659.9 272.0 661.1 272.5 662.5 273.0 664.0 273.5 665.7 274.0 667.5 274.5 669.4 275.0 671.5 275.5 673.8 276.0 676.3 276.5 678.9 277.0 681.7 277.5 684.8 278.0 688.2 278.5 690.0 279.0 690.0 279.5 690.0 280.0 690.0 280.5 690.0 281.0 690.0 281.5 690.0 282.0 690.0 282.5 690.0 283.0 690.0 283.5 690.0 284.0 690.0 284.5 690.0 285.0 690.0 285.5 690.0 286.0 690.0 286.5 690.0 287.0 690.0 287.5 690.0 288.0 690.0 288.5 690.0 289.0 690.0 289.5 690.0 290.0 690.0 290.5 690.0 291.0 690.0 291.5 690.0 292.0 690.0 292.5 690.0 293.0 690.0 293.5 690.0 294.0 690.0 294.5 690.0 295.0 690.0 295.5 690.0 296.0 690.0 296.5 690.0 297.0 690.0 297.5 690.0 298.0 690.0 298.5 690.0 299.0 690.0 299.5 690.0 300.0 690.0 300.5 690.0 301.0 690.0 301.5 690.0 302.0 689.8 302.5 686.9 303.0 684.3 303.5 681.9 304.0 679.7 304.5 677.8 305.0 676.0 305.5 674.4 306.0 673.1 306.5 671.8 307.0 670.8 307.5 669.9 308.0 669.2 308.5 668.7 309.0 668.3 309.5 668.1 310.0 668.0 310.5 668.1 311.0 668.3 311.5 668.7 312.0 669.2 312.5 669.9 313.0 670.8 313.5 671.8 314.0 673.1 314.5 674.4 315.0 676.0 315.5 677.8 316.0 679.7 316.5 681.9 317.0 684.3 317.5 686.9 318.0 689.8 318.5 690.0 319.0 690.0 319.5 690.0 320.0 690.0 320.5 690.0 321.0 690.0 321.5 690.0 322.0 690.0 322.5 690.0 323.0 690.0 323.5 690.0" stroke="#0f8b8d" stroke-width="1.6" fill="none" stroke-linejoin="round"/>
<path d="M41.0 690.0 41.5 690.0 42.0 690.0 42.5 690.0 43.0 690.0 43.5 690.0 44.0 690.0 44.5 690.0 45.0 690.0 45.5 690.0 46.0 690.0 46.5 690.0 47.0 690.0 47.5 690.0 48.0 690.0 48.5 690.0 49.0 690.0 49.5 690.0 50.0 690.0 50.5 690.0 51.0 690.0 51.5 690.0 52.0 690.0 52.5 690.0 53.0 690.0 53.5 690.0 54.0 690.0 54.5 690.0 55.0 690.0 55.5 690.0 56.0 690.0 56.5 690.0 57.0 690.0 57.5 690.0 58.0 690.0 58.5 690.0 59.0 690.0 59.5 690.0 60.0 690.0 60.5 690.0 61.0 690.0 61.5 690.0 62.0 690.0 62.5 690.0 63.0 690.0 63.5 690.0 64.0 690.0 64.5 690.0 65.0 690.0 65.5 690.0 66.0 690.0 66.5 690.0 67.0 690.0 67.5 690.0 68.0 690.0 68.5 690.0 69.0 690.0 69.5 690.0 70.0 690.0 70.5 690.0 71.0 690.0 71.5 690.0 72.0 690.0 72.5 690.0 73.0 690.0 73.5 690.0 74.0 690.0 74.5 690.0 75.0 690.0 75.5 690.0 76.0 690.0 76.5 690.0 77.0 690.0 77.5 690.0 78.0 690.0 78.5 690.0 79.0 690.0 79.5 690.0 80.0 690.0 80.5 690.0 81.0 690.0 81.5 690.0 82.0 690.0 82.5 690.0 83.0 690.0 83.5 690.0 84.0 690.0 84.5 690.0 85.0 690.0 85.5 690.0 86.0 690.0 86.5 690.0 87.0 690.0 87.5 690.0 88.0 690.0 88.5 690.0 89.0 690.0 89.5 690.0 90.0 690.0 90.5 690.0 91.0 690.0 91.5 690.0 92.0 690.0 92.5 690.0 93.0 690.0 93.5 690.0 94.0 690.0 94.5 690.0 95.0 690.0 95.5 690.0 96.0 690.0 96.5 690.0 97.0 690.0 97.5 690.0 98.0 690.0 98.5 690.0 99.0 689.0 99.5 683.1 100.0 678.0 100.5 673.4 101.0 669.4 101.5 665.9 102.0 662.8 102.5 660.2 103.0 657.8 103.5 655.9 104.0 654.2 104.5 652.9 105.0 651.9 105.5 651.2 106.0 650.7 106.5 650.6 107.0 650.7 107.5 651.0 108.0 651.6 108.5 652.4 109.0 653.4 109.5 654.7 110.0 656.2 110.5 658.0 111.0 660.0 111.5 662.4 112.0 665.0 112.5 668.0 113.0 671.3 113.5 675.0 114.0 679.2 114.5 683.9 115.0 689.2 115.5 690.0 116.0 690.0 116.5 686.8 117.0 679.3 117.5 672.8 118.0 667.1 118.5 662.1 119.0 657.6 119.5 653.6 120.0 650.0 120.5 646.8 121.0 644.0 121.5 641.5 122.0 639.2 122.5 637.3 123.0 635.7 123.5 634.3 124.0 633.1 124.5 632.2 125.0 631.6 125.5 631.1 126.0 630.9 126.5 630.9 127.0 631.0 127.5 631.3 128.0 631.6 128.5 632.1 129.0 632.6 129.5 633.3 130.0 634.1 130.5 635.0 131.0 636.1 131.5 637.3 132.0 638.5 132.5 640.0 133.0 641.6 133.5 643.3 134.0 645.1 134.5 640.0 135.0 634.8 135.5 630.2 136.0 626.0 136.5 622.2 137.0 618.9 137.5 615.9 138.0 613.2 138.5 610.7 139.0 608.6 139.5 606.7 140.0 605.1 140.5 603.7 141.0 602.5 141.5 601.5 142.0 600.7 142.5 600.2 143.0 599.8 143.5 599.7 144.0 599.8 144.5 600.0 145.0 600.3 145.5 600.8 146.0 601.5 146.5 602.4 147.0 603.4 147.5 604.6 148.0 605.9 148.5 607.5 149.0 609.2 149.5 611.2 150.0 613.3 150.5 615.7 151.0 618.4 151.5 621.3 152.0 624.4 152.5 627.9 153.0 631.8 153.5 634.7 154.0 634.0 154.5 633.4 155.0 632.8 155.5 632.4 156.0 632.0 156.5 631.8 157.0 631.6 157.5 631.6 158.0 631.7 158.5 632.1 159.0 632.7 159.5 633.5 160.0 634.6 160.5 635.9 161.0 637.5 161.5 639.4 162.0 641.6 162.5 644.1 163.0 646.9 163.5 650.1 164.0 653.7 164.5 657.7 165.0 662.2 165.5 667.2 166.0 673.0 166.5 679.5 167.0 687.0 167.5 690.0 168.0 690.0 168.5 690.0 169.0 690.0 169.5 690.0 170.0 690.0 170.5 690.0 171.0 690.0 171.5 690.0 172.0 690.0 172.5 690.0 173.0 690.0 173.5 690.0 174.0 690.0 174.5 690.0 175.0 690.0 175.5 690.0 176.0 690.0 176.5 690.0 177.0 690.0 177.5 690.0 178.0 690.0 178.5 690.0 179.0 688.0 179.5 683.8 180.0 680.1 180.5 676.8 181.0 674.0 181.5 671.6 182.0 669.5 182.5 667.8 183.0 666.4 183.5 665.4 184.0 664.6 184.5 664.1 185.0 664.0 185.5 664.1 186.0 664.6 186.5 665.4 187.0 666.4 187.5 667.8 188.0 669.5 188.5 671.6 189.0 674.0 189.5 676.8 190.0 680.1 190.5 683.8 191.0 688.0 191.5 690.0 192.0 690.0 192.5 690.0 193.0 690.0 193.5 690.0 194.0 690.0 194.5 690.0 195.0 690.0 195.5 690.0 196.0 690.0 196.5 690.0 197.0 690.0 197.5 690.0 198.0 690.0 198.5 690.0 199.0 690.0 199.5 690.0 200.0 690.0 200.5 690.0 201.0 690.0 201.5 690.0 202.0 690.0 202.5 690.0 203.0 690.0 203.5 690.0 204.0 690.0 204.5 690.0 205.0 690.0 205.5 690.0 206.0 690.0 206.5 690.0 207.0 690.0 207.5 690.0 208.0 690.0 208.5 690.0 209.0 687.6 209.5 681.3 210.0 675.8 210.5 671.1 211.0 666.9 211.5 663.2 212.0 660.0 212.5 657.2 213.0 654.9 213.5 652.9 214.0 651.2 214.5 649.9 215.0 649.0 215.5 648.3 216.0 648.0 216.5 647.9 217.0 648.3 217.5 649.1 218.0 650.3 218.5 652.0 219.0 654.2 219.5 656.8 220.0 660.0 220.5 663.8 221.0 668.2 221.5 673.3 222.0 679.3 222.5 686.3 223.0 690.0 223.5 690.0 224.0 690.0 224.5 690.0 225.0 690.0 225.5 690.0 226.0 690.0 226.5 690.0 227.0 690.0 227.5 690.0 228.0 690.0 228.5 690.0 229.0 690.0 229.5 690.0 230.0 690.0 230.5 690.0 231.0 690.0 231.5 690.0 232.0 690.0 232.5 690.0 233.0 690.0 233.5 690.0 234.0 690.0 234.5 690.0 235.0 690.0 235.5 690.0 236.0 690.0 236.5 690.0 237.0 690.0 237.5 690.0 238.0 690.0 238.5 690.0 239.0 690.0 239.5 690.0 240.0 690.0 240.5 690.0 241.0 690.0 241.5 690.0 242.0 690.0 242.5 690.0 243.0 690.0 243.5 690.0 244.0 683.4 244.5 677.4 245.0 672.3 245.5 667.8 246.0 664.0 246.5 660.7 247.0 657.9 247.5 655.6 248.0 653.7 248.5 652.2 249.0 651.1 249.5 650.4 250.0 650.0 250.5 650.1 251.0 650.6 251.5 651.6 252.0 653.0 252.5 654.9 253.0 657.4 253.5 660.4 254.0 664.0 254.5 668.3 255.0 673.3 255.5 679.2 256.0 686.2 256.5 690.0 257.0 690.0 257.5 690.0 258.0 690.0 258.5 690.0 259.0 690.0 259.5 690.0 260.0 690.0 260.5 690.0 261.0 690.0 261.5 690.0 262.0 690.0 262.5 690.0 263.0 690.0 263.5 690.0 264.0 690.0 264.5 690.0 265.0 690.0 265.5 690.0 266.0 690.0 266.5 690.0 267.0 690.0 267.5 690.0 268.0 690.0 268.5 690.0 269.0 690.0 269.5 690.0 270.0 690.0 270.5 690.0 271.0 690.0 271.5 690.0 272.0 690.0 272.5 690.0 273.0 690.0 273.5 690.0 274.0 690.0 274.5 690.0 275.0 690.0 275.5 690.0 276.0 690.0 276.5 690.0 277.0 690.0 277.5 690.0 278.0 690.0 278.5 690.0 279.0 690.0 279.5 690.0 280.0 690.0 280.5 690.0 281.0 690.0 281.5 690.0 282.0 690.0 282.5 690.0 283.0 690.0 283.5 690.0 284.0 690.0 284.5 690.0 285.0 690.0 285.5 690.0 286.0 690.0 286.5 690.0 287.0 688.7 287.5 685.1 288.0 681.8 288.5 678.9 289.0 676.3 289.5 674.0 290.0 672.0 290.5 670.2 291.0 668.7 291.5 667.4 292.0 666.3 292.5 665.4 293.0 664.8 293.5 664.4 294.0 664.1 294.5 664.1 295.0 664.3 295.5 664.6 296.0 665.1 296.5 665.8 297.0 666.6 297.5 667.7 298.0 668.9 298.5 670.4 299.0 672.0 299.5 673.9 300.0 675.9 300.5 678.2 301.0 680.8 301.5 683.6 302.0 686.8 302.5 690.0 303.0 690.0 303.5 690.0 304.0 690.0 304.5 690.0 305.0 690.0 305.5 690.0 306.0 690.0 306.5 690.0 307.0 690.0 307.5 690.0 308.0 690.0 308.5 690.0 309.0 690.0 309.5 690.0 310.0 690.0 310.5 690.0 311.0 690.0 311.5 690.0 312.0 690.0 312.5 690.0 313.0 690.0 313.5 690.0 314.0 690.0 314.5 690.0 315.0 690.0 315.5 690.0 316.0 690.0 316.5 690.0 317.0 690.0 317.5 690.0 318.0 690.0 318.5 690.0 319.0 690.0 319.5 690.0 320.0 690.0 320.5 690.0 321.0 690.0 321.5 690.0 322.0 690.0 322.5 690.0 323.0 690.0 323.5 690.0" stroke="#8d1b1b" stroke-width="1.6" fill="none" stroke-linejoin="round"/>
<path d="M41.0 677.9 41.5 676.3 42.0 674.8 42.5 673.4 43.0 672.0 43.5 670.7 44.0 669.4 44.5 668.1 45.0 666.9 45.5 665.8 46.0 664.7 46.5 663.6 47.0 662.6 47.5 661.6 48.0 660.6 48.5 659.7 49.0 658.8 49.5 658.0 50.0 657.2 50.5 656.4 51.0 655.7 51.5 655.0 52.0 654.3 52.5 653.6 53.0 653.0 53.5 652.4 54.0 651.9 54.5 651.3 55.0 650.8 55.5 650.4 56.0 649.9 56.5 649.5 57.0 649.1 57.5 648.7 58.0 648.4 58.5 648.1 59.0 647.8 59.5 647.6 60.0 647.3 60.5 647.1 61.0 646.9 61.5 646.8 62.0 646.7 62.5 646.6 63.0 646.5 63.5 646.4 64.0 646.4 64.5 646.4 65.0 646.4 65.5 646.5 66.0 646.6 66.5 646.8 67.0 647.0 67.5 647.2 68.0 647.5 68.5 647.8 69.0 648.2 69.5 648.6 70.0 649.0 70.5 649.5 71.0 650.0 71.5 650.6 72.0 651.2 72.5 651.9 73.0 652.6 73.5 653.3 74.0 654.1 74.5 654.9 75.0 655.8 75.5 656.8 76.0 657.8 76.5 658.8 77.0 660.0 77.5 661.1 78.0 662.3 78.5 663.6 79.0 665.0 79.5 666.4 80.0 667.9 80.5 669.4 81.0 671.1 81.5 672.8 82.0 674.6 82.5 676.5 83.0 678.4 83.5 680.5 84.0 682.7 84.5 685.0 85.0 687.4 85.5 689.9 86.0 690.0 86.5 690.0 87.0 690.0 87.5 690.0 88.0 690.0 88.5 690.0 89.0 690.0 89.5 690.0 90.0 690.0 90.5 690.0 91.0 690.0 91.5 690.0 92.0 690.0 92.5 690.0 93.0 690.0 93.5 690.0 94.0 690.0 94.5 690.0 95.0 690.0 95.5 690.0 96.0 690.0 96.5 690.0 97.0 690.0 97.5 690.0 98.0 690.0 98.5 690.0 99.0 690.0 99.5 690.0 100.0 690.0 100.5 690.0 101.0 690.0 101.5 690.0 102.0 690.0 102.5 690.0 103.0 690.0 103.5 690.0 104.0 690.0 104.5 690.0 105.0 690.0 105.5 690.0 106.0 690.0 106.5 690.0 107.0 690.0 107.5 690.0 108.0 690.0 108.5 690.0 109.0 690.0 109.5 690.0 110.0 690.0 110.5 690.0 111.0 690.0 111.5 690.0 112.0 690.0 112.5 690.0 113.0 690.0 113.5 690.0 114.0 688.0 114.5 683.8 115.0 680.1 115.5 676.8 116.0 674.0 116.5 671.6 117.0 669.5 117.5 667.8 118.0 666.4 118.5 665.4 119.0 664.6 119.5 664.1 120.0 664.0 120.5 664.1 121.0 664.6 121.5 665.4 122.0 666.4 122.5 667.8 123.0 669.5 123.5 671.6 124.0 674.0 124.5 676.8 125.0 680.1 125.5 683.8 126.0 686.8 126.5 683.2 127.0 679.9 127.5 676.7 128.0 673.8 128.5 671.1 129.0 668.6 129.5 666.2 130.0 664.0 130.5 661.9 131.0 660.0 131.5 658.2 132.0 656.5 132.5 654.9 133.0 653.4 133.5 652.1 134.0 650.8 134.5 649.6 135.0 648.6 135.5 647.6 136.0 646.7 136.5 645.9 137.0 645.2 137.5 644.6 138.0 644.0 138.5 643.5 139.0 643.2 139.5 642.9 140.0 642.6 140.5 642.5 141.0 642.4 141.5 642.4 142.0 642.6 142.5 642.9 143.0 643.3 143.5 643.9 144.0 644.6 144.5 645.4 145.0 646.4 145.5 647.6 146.0 648.9 146.5 650.4 147.0 652.0 147.5 653.8 148.0 655.8 148.5 658.0 149.0 660.4 149.5 663.1 150.0 666.0 150.5 660.2 151.0 652.0 151.5 644.9 152.0 638.7 152.5 633.2 153.0 628.3 153.5 624.0 154.0 620.0 154.5 616.5 155.0 613.4 155.5 610.5 156.0 608.0 156.5 605.8 157.0 603.8 157.5 602.1 158.0 600.6 158.5 599.3 159.0 598.3 159.5 597.5 160.0 596.9 160.5 596.5 161.0 596.3 161.5 596.4 162.0 596.7 162.5 597.4 163.0 598.4 163.5 599.8 164.0 601.5 164.5 603.6 165.0 606.1 165.5 609.0 166.0 612.4 166.5 616.3 167.0 620.7 167.5 625.8 168.0 631.6 168.5 638.4 169.0 646.2 169.5 655.6 170.0 667.0 170.5 665.2 171.0 661.8 171.5 658.8 172.0 656.0 172.5 653.5 173.0 651.2 173.5 649.1 174.0 647.2 174.5 645.6 175.0 644.1 175.5 642.8 176.0 641.7 176.5 640.7 177.0 639.9 177.5 639.3 178.0 638.9 178.5 638.6 179.0 638.4 179.5 638.5 180.0 638.8 180.5 639.6 181.0 640.7 181.5 642.1 182.0 643.9 182.5 646.1 183.0 648.8 183.5 651.9 184.0 655.5 184.5 659.6 185.0 664.4 185.5 669.9 186.0 676.2 186.5 683.6 187.0 690.0 187.5 690.0 188.0 690.0 188.5 690.0 189.0 690.0 189.5 690.0 190.0 690.0 190.5 690.0 191.0 690.0 191.5 690.0 192.0 690.0 192.5 690.0 193.0 690.0 193.5 690.0 194.0 690.0 194.5 690.0 195.0 690.0 195.5 690.0 196.0 690.0 196.5 690.0 197.0 690.0 197.5 690.0 198.0 690.0 198.5 690.0 199.0 688.0 199.5 683.8 200.0 680.1 200.5 676.8 201.0 674.0 201.5 671.6 202.0 669.5 202.5 667.8 203.0 666.4 203.5 665.4 204.0 664.6 204.5 664.1 205.0 664.0 205.5 664.1 206.0 664.6 206.5 665.4 207.0 666.4 207.5 667.8 208.0 669.5 208.5 671.6 209.0 674.0 209.5 676.8 210.0 680.1 210.5 683.8 211.0 688.0 211.5 690.0 212.0 690.0 212.5 690.0 213.0 690.0 213.5 690.0 214.0 690.0 214.5 690.0 215.0 690.0 215.5 690.0 216.0 690.0 216.5 690.0 217.0 690.0 217.5 690.0 218.0 690.0 218.5 690.0 219.0 690.0 219.5 690.0 220.0 690.0 220.5 690.0 221.0 690.0 221.5 690.0 222.0 690.0 222.5 690.0 223.0 690.0 223.5 690.0 224.0 690.0 224.5 690.0 225.0 690.0 225.5 690.0 226.0 690.0 226.5 690.0 227.0 690.0 227.5 690.0 228.0 690.0 228.5 690.0 229.0 690.0 229.5 690.0 230.0 690.0 230.5 690.0 231.0 690.0 231.5 690.0 232.0 690.0 232.5 690.0 233.0 690.0 233.5 690.0 234.0 690.0 234.5 690.0 235.0 690.0 235.5 690.0 236.0 690.0 236.5 690.0 237.0 690.0 237.5 690.0 238.0 690.0 238.5 690.0 239.0 690.0 239.5 690.0 240.0 690.0 240.5 690.0 241.0 690.0 241.5 690.0 242.0 690.0 242.5 690.0 243.0 690.0 243.5 690.0 244.0 690.0 244.5 690.0 245.0 690.0 245.5 690.0 246.0 690.0 246.5 690.0 247.0 690.0 247.5 690.0 248.0 690.0 248.5 690.0 249.0 690.0 249.5 690.0 250.0 690.0 250.5 690.0 251.0 690.0 251.5 690.0 252.0 690.0 252.5 690.0 253.0 690.0 253.5 690.0 254.0 690.0 254.5 690.0 255.0 690.0 255.5 690.0 256.0 690.0 256.5 690.0 257.0 690.0 257.5 690.0 258.0 689.3 258.5 685.2 259.0 681.6 259.5 678.6 260.0 676.0 260.5 673.8 261.0 672.1 261.5 670.7 262.0 669.8 262.5 669.2 263.0 668.9 263.5 669.0 264.0 669.6 264.5 670.5 265.0 671.9 265.5 673.7 266.0 676.0 266.5 678.8 267.0 682.1 267.5 686.0 268.0 690.0 268.5 690.0 269.0 690.0 269.5 690.0 270.0 690.0 270.5 690.0 271.0 690.0 271.5 690.0 272.0 690.0 272.5 690.0 273.0 690.0 273.5 690.0 274.0 690.0 274.5 690.0 275.0 690.0 275.5 690.0 276.0 690.0 276.5 690.0 277.0 690.0 277.5 690.0 278.0 690.0 278.5 690.0 279.0 690.0 279.5 690.0 280.0 690.0 280.5 690.0 281.0 690.0 281.5 690.0 282.0 689.6 282.5 685.9 283.0 682.5 283.5 679.4 284.0 676.7 284.5 674.2 285.0 672.0 285.5 670.0 286.0 668.3 286.5 666.7 287.0 665.4 287.5 664.3 288.0 663.3 288.5 662.6 289.0 662.0 289.5 661.6 290.0 661.4 290.5 661.4 291.0 661.5 291.5 661.7 292.0 662.0 292.5 662.4 293.0 662.8 293.5 663.4 294.0 664.1 294.5 664.9 295.0 665.8 295.5 666.9 296.0 668.0 296.5 669.3 297.0 670.6 297.5 672.1 298.0 673.8 298.5 675.5 299.0 677.4 299.5 679.5 300.0 681.7 300.5 684.1 301.0 686.7 301.5 689.5 302.0 690.0 302.5 690.0 303.0 690.0 303.5 690.0 304.0 690.0 304.5 690.0 305.0 690.0 305.5 690.0 306.0 690.0 306.5 690.0 307.0 690.0 307.5 690.0 308.0 690.0 308.5 690.0 309.0 690.0 309.5 690.0 310.0 690.0 310.5 690.0 311.0 690.0 311.5 690.0 312.0 690.0 312.5 690.0 313.0 690.0 313.5 690.0 314.0 690.0 314.5 690.0 315.0 690.0 315.5 690.0 316.0 690.0 316.5 690.0 317.0 690.0 317.5 690.0 318.0 690.0 318.5 690.0 319.0 690.0 319.5 690.0 320.0 690.0 320.5 690.0 321.0 690.0 321.5 690.0 322.0 690.0 322.5 690.0 323.0 690.0 323.5 690.0" stroke="#5b3b59" stroke-width="1.6" fill="none" stroke-linejoin="round"/>
<path d="M41.0 690.0 41.5 690.0 42.0 690.0 42.5 690.0 43.0 690.0 43.5 690.0 44.0 690.0 44.5 690.0 45.0 690.0 45.5 690.0 46.0 690.0 46.5 690.0 47.0 690.0 47.5 690.0 48.0 690.0 48.5 690.0 49.0 690.0 49.5 690.0 50.0 690.0 50.5 690.0 51.0 690.0 51.5 690.0 52.0 690.0 52.5 690.0 53.0 690.0 53.5 690.0 54.0 690.0 54.5 690.0 55.0 690.0 55.5 690.0 56.0 690.0 56.5 690.0 57.0 690.0 57.5 690.0 58.0 690.0 58.5 690.0 59.0 690.0 59.5 690.0 60.0 690.0 60.5 690.0 61.0 690.0 61.5 690.0 62.0 690.0 62.5 690.0 63.0 690.0 63.5 690.0 64.0 688.3 64.5 684.9 65.0 681.6 65.5 678.6 66.0 675.8 66.5 673.1 67.0 670.6 67.5 668.2 68.0 666.0 68.5 663.8 69.0 661.8 69.5 659.9 70.0 658.1 70.5 656.5 71.0 654.9 71.5 653.3 72.0 651.9 72.5 650.6 73.0 649.3 73.5 648.1 74.0 647.0 74.5 646.0 75.0 645.0 75.5 644.1 76.0 643.2 76.5 642.5 77.0 641.8 77.5 641.1 78.0 640.5 78.5 640.0 79.0 639.5 79.5 639.1 80.0 638.7 80.5 638.4 81.0 638.2 81.5 638.0 82.0 637.9 82.5 637.8 83.0 637.8 83.5 637.9 84.0 638.0 84.5 638.2 85.0 638.5 85.5 638.8 86.0 639.3 86.5 639.8 87.0 640.4 87.5 641.0 88.0 641.8 88.5 642.6 89.0 643.5 89.5 644.5 90.0 645.6 90.5 646.8 91.0 648.1 91.5 649.5 92.0 651.0 92.5 652.6 93.0 654.3 93.5 656.1 94.0 658.1 94.5 660.2 95.0 662.4 95.5 664.8 96.0 667.3 96.5 670.0 97.0 672.9 97.5 676.0 98.0 679.4 98.5 683.0 99.0 686.8 99.5 690.0 100.0 690.0 100.5 690.0 101.0 690.0 101.5 690.0 102.0 690.0 102.5 690.0 103.0 690.0 103.5 690.0 104.0 690.0 104.5 690.0 105.0 690.0 105.5 690.0 106.0 690.0 106.5 690.0 107.0 690.0 107.5 690.0 108.0 690.0 108.5 690.0 109.0 690.0 109.5 690.0 110.0 690.0 110.5 690.0 111.0 690.0 111.5 690.0 112.0 690.0 112.5 690.0 113.0 690.0 113.5 690.0 114.0 690.0 114.5 690.0 115.0 690.0 115.5 690.0 116.0 690.0 116.5 690.0 117.0 690.0 117.5 690.0 118.0 690.0 118.5 690.0 119.0 682.7 119.5 675.5 120.0 669.3 120.5 663.9 121.0 659.1 121.5 654.9 122.0 651.3 122.5 648.1 123.0 645.3 123.5 642.9 124.0 640.9 124.5 639.2 125.0 637.9 125.5 636.9 126.0 636.2 126.5 635.8 127.0 635.7 127.5 635.9 128.0 636.3 128.5 637.0 129.0 637.9 129.5 639.1 130.0 640.6 130.5 642.3 131.0 644.4 131.5 646.8 132.0 649.5 132.5 652.5 133.0 656.0 133.5 659.9 134.0 664.3 134.5 669.2 135.0 674.8 135.5 681.2 136.0 688.6 136.5 690.0 137.0 690.0 137.5 690.0 138.0 690.0 138.5 690.0 139.0 690.0 139.5 690.0 140.0 690.0 140.5 690.0 141.0 690.0 141.5 682.1 142.0 673.4 142.5 666.1 143.0 660.0 143.5 654.9 144.0 650.6 144.5 647.0 145.0 644.2 145.5 641.9 146.0 640.2 146.5 639.1 147.0 638.5 147.5 638.4 148.0 638.7 148.5 639.4 149.0 640.4 149.5 641.8 150.0 643.6 150.5 645.8 151.0 648.4 151.5 651.4 152.0 655.0 152.5 659.1 153.0 663.8 153.5 669.3 154.0 675.6 154.5 682.9 155.0 690.0 155.5 690.0 156.0 690.0 156.5 690.0 157.0 690.0 157.5 690.0 158.0 690.0 158.5 690.0 159.0 690.0 159.5 690.0 160.0 690.0 160.5 690.0 161.0 690.0 161.5 690.0 162.0 690.0 162.5 690.0 163.0 690.0 163.5 690.0 164.0 690.0 164.5 690.0 165.0 690.0 165.5 690.0 166.0 690.0 166.5 690.0 167.0 690.0 167.5 690.0 168.0 690.0 168.5 690.0 169.0 690.0 169.5 690.0 170.0 690.0 170.5 685.5 171.0 681.8 171.5 678.6 172.0 676.0 172.5 673.9 173.0 672.3 173.5 671.2 174.0 670.5 174.5 670.3 175.0 670.5 175.5 671.2 176.0 672.3 176.5 673.9 177.0 676.0 177.5 678.6 178.0 681.8 178.5 685.5 179.0 690.0 179.5 690.0 180.0 690.0 180.5 690.0 181.0 690.0 181.5 690.0 182.0 690.0 182.5 690.0 183.0 690.0 183.5 690.0 184.0 690.0 184.5 690.0 185.0 690.0 185.5 690.0 186.0 690.0 186.5 690.0 187.0 690.0 187.5 690.0 188.0 690.0 188.5 687.9 189.0 682.6 189.5 678.0 190.0 674.0 190.5 670.5 191.0 667.5 191.5 664.9 192.0 662.8 192.5 661.0 193.0 659.6 193.5 658.5 194.0 657.8 194.5 657.5 195.0 657.4 195.5 657.7 196.0 658.4 196.5 659.4 197.0 660.8 197.5 662.6 198.0 664.8 198.5 667.4 199.0 670.4 199.5 674.0 200.0 678.1 200.5 682.8 201.0 688.3 201.5 690.0 202.0 690.0 202.5 690.0 203.0 690.0 203.5 690.0 204.0 690.0 204.5 690.0 205.0 690.0 205.5 690.0 206.0 690.0 206.5 690.0 207.0 690.0 207.5 690.0 208.0 690.0 208.5 690.0 209.0 690.0 209.5 690.0 210.0 690.0 210.5 690.0 211.0 690.0 211.5 690.0 212.0 690.0 212.5 690.0 213.0 690.0 213.5 690.0 214.0 690.0 214.5 690.0 215.0 690.0 215.5 690.0 216.0 690.0 216.5 690.0 217.0 690.0 217.5 690.0 218.0 690.0 218.5 690.0 219.0 690.0 219.5 690.0 220.0 690.0 220.5 690.0 221.0 690.0 221.5 690.0 222.0 690.0 222.5 690.0 223.0 690.0 223.5 688.7 224.0 683.2 224.5 678.3 225.0 674.0 225.5 670.2 226.0 667.0 226.5 664.1 227.0 661.7 227.5 659.6 228.0 657.8 228.5 656.4 229.0 655.4 229.5 654.6 230.0 654.2 230.5 654.0 231.0 654.2 231.5 654.7 232.0 655.7 232.5 657.0 233.0 658.7 233.5 660.8 234.0 663.3 234.5 666.4 235.0 669.9 235.5 674.0 236.0 678.7 236.5 684.2 237.0 690.0 237.5 690.0 238.0 690.0 238.5 690.0 239.0 690.0 239.5 690.0 240.0 690.0 240.5 690.0 241.0 689.4 241.5 680.1 242.0 672.3 242.5 665.7 243.0 660.0 243.5 655.1 244.0 650.9 244.5 647.3 245.0 644.3 245.5 641.7 246.0 639.7 246.5 638.0 247.0 636.9 247.5 636.1 248.0 635.7 248.5 635.8 249.0 636.2 249.5 637.0 250.0 638.1 250.5 639.7 251.0 641.6 251.5 644.0 252.0 646.9 252.5 650.2 253.0 654.1 253.5 658.6 254.0 663.9 254.5 669.9 255.0 676.9 255.5 685.2 256.0 690.0 256.5 690.0 257.0 690.0 257.5 690.0 258.0 680.3 258.5 670.6 259.0 662.4 259.5 655.3 260.0 649.0 260.5 643.4 261.0 638.4 261.5 633.9 262.0 629.7 262.5 625.9 263.0 622.4 263.5 619.2 264.0 616.3 264.5 613.6 265.0 611.1 265.5 608.8 266.0 606.7 266.5 604.8 267.0 603.0 267.5 601.4 268.0 600.0 268.5 598.7 269.0 597.5 269.5 596.5 270.0 595.6 270.5 594.8 271.0 594.2 271.5 593.7 272.0 593.3 272.5 593.1 273.0 592.9 273.5 592.9 274.0 593.0 274.5 593.2 275.0 593.4 275.5 593.8 276.0 594.3 276.5 594.8 277.0 595.5 277.5 596.3 278.0 597.1 278.5 598.1 279.0 599.2 279.5 600.4 280.0 601.7 280.5 603.1 281.0 604.6 281.5 606.3 282.0 608.1 282.5 610.1 283.0 612.2 283.5 614.4 284.0 616.9 284.5 619.5 285.0 622.3 285.5 625.3 286.0 628.6 286.5 632.1 287.0 636.0 287.5 640.1 288.0 644.7 288.5 649.7 289.0 655.2 289.5 661.4 290.0 668.4 290.5 676.4 291.0 685.9 291.5 690.0 292.0 690.0 292.5 690.0 293.0 690.0 293.5 690.0 294.0 690.0 294.5 690.0 295.0 690.0 295.5 690.0 296.0 690.0 296.5 690.0 297.0 690.0 297.5 690.0 298.0 690.0 298.5 690.0 299.0 690.0 299.5 690.0 300.0 690.0 300.5 690.0 301.0 690.0 301.5 690.0 302.0 690.0 302.5 690.0 303.0 690.0 303.5 690.0 304.0 690.0 304.5 690.0 305.0 690.0 305.5 690.0 306.0 690.0 306.5 690.0 307.0 690.0 307.5 690.0 308.0 690.0 308.5 690.0 309.0 690.0 309.5 690.0 310.0 690.0 310.5 690.0 311.0 690.0 311.5 690.0 312.0 690.0 312.5 690.0 313.0 690.0 313.5 690.0 314.0 690.0 314.5 690.0 315.0 690.0 315.5 690.0 316.0 690.0 316.5 690.0 317.0 690.0 317.5 690.0 318.0 690.0 318.5 690.0 319.0 690.0 319.5 690.0 320.0 690.0 320.5 690.0 321.0 690.0 321.5 690.0 322.0 690.0 322.5 690.0 323.0 690.0 323.5 690.0" stroke="#0a22b4" stroke-width="1.6" fill="none" stroke-linejoin="round"/>
</g>
<rect x="41.6" y="493.3" width="281" height="181.6" fill="none" stroke="#3a3a3a" stroke-width="1.1"/>
<path d="M41.6 674.47h2.6M322.6 674.47h-2.6M41.6 669.14h2.6M322.6 669.14h-2.6M41.6 658.46h2.6M322.6 658.46h-2.6M41.6 653.13h2.6M322.6 653.13h-2.6M41.6 647.79h2.6M322.6 647.79h-2.6M41.6 642.45h2.6M322.6 642.45h-2.6M41.6 631.78h2.6M322.6 631.78h-2.6M41.6 626.44h2.6M322.6 626.44h-2.6M41.6 621.11h2.6M322.6 621.11h-2.6M41.6 615.77h2.6M322.6 615.77h-2.6M41.6 605.1h2.6M322.6 605.1h-2.6M41.6 599.76h2.6M322.6 599.76h-2.6M41.6 594.42h2.6M322.6 594.42h-2.6M41.6 589.09h2.6M322.6 589.09h-2.6M41.6 578.41h2.6M322.6 578.41h-2.6M41.6 573.08h2.6M322.6 573.08h-2.6M41.6 567.74h2.6M322.6 567.74h-2.6M41.6 562.4h2.6M322.6 562.4h-2.6M41.6 551.73h2.6M322.6 551.73h-2.6M41.6 546.39h2.6M322.6 546.39h-2.6M41.6 541.06h2.6M322.6 541.06h-2.6M41.6 535.72h2.6M322.6 535.72h-2.6M41.6 525.05h2.6M322.6 525.05h-2.6M41.6 519.71h2.6M322.6 519.71h-2.6M41.6 514.37h2.6M322.6 514.37h-2.6M41.6 509.04h2.6M322.6 509.04h-2.6M41.6 498.36h2.6M322.6 498.36h-2.6" stroke="#555" stroke-width="0.8" fill="none"/>
<path d="M41.6 503.7h4.8M322.6 503.7h-4.8M41.6 530.38h4.8M322.6 530.38h-4.8M41.6 557.07h4.8M322.6 557.07h-4.8M41.6 583.75h4.8M322.6 583.75h-4.8M41.6 610.43h4.8M322.6 610.43h-4.8M41.6 637.12h4.8M322.6 637.12h-4.8M41.6 663.8h4.8M322.6 663.8h-4.8" stroke="#555" stroke-width="0.8" fill="none"/>
<path d="M53.68 674.9v-2.6M53.68 493.3v2.6M65.37 674.9v-2.6M65.37 493.3v2.6M77.05 674.9v-2.6M77.05 493.3v2.6M100.42 674.9v-2.6M100.42 493.3v2.6M112.1 674.9v-2.6M112.1 493.3v2.6M123.78 674.9v-2.6M123.78 493.3v2.6M147.15 674.9v-2.6M147.15 493.3v2.6M158.83 674.9v-2.6M158.83 493.3v2.6M170.52 674.9v-2.6M170.52 493.3v2.6M193.88 674.9v-2.6M193.88 493.3v2.6M205.57 674.9v-2.6M205.57 493.3v2.6M217.25 674.9v-2.6M217.25 493.3v2.6M240.62 674.9v-2.6M240.62 493.3v2.6M252.3 674.9v-2.6M252.3 493.3v2.6M263.98 674.9v-2.6M263.98 493.3v2.6M287.35 674.9v-2.6M287.35 493.3v2.6M299.03 674.9v-2.6M299.03 493.3v2.6M310.72 674.9v-2.6M310.72 493.3v2.6" stroke="#555" stroke-width="0.8" fill="none"/>
<path d="M42 674.9v-4.8M42 493.3v4.8M88.73 674.9v-4.8M88.73 493.3v4.8M135.47 674.9v-4.8M135.47 493.3v4.8M182.2 674.9v-4.8M182.2 493.3v4.8M228.93 674.9v-4.8M228.93 493.3v4.8M275.67 674.9v-4.8M275.67 493.3v4.8M322.4 674.9v-4.8M322.4 493.3v4.8" stroke="#555" stroke-width="0.8" fill="none"/>
<text x="38.6" y="507.9" font-size="12" text-anchor="end" font-family='"Liberation Sans", sans-serif' >0</text>
<text x="38.6" y="534.58" font-size="12" text-anchor="end" font-family='"Liberation Sans", sans-serif' >−5</text>
<text x="38.6" y="561.27" font-size="12" text-anchor="end" font-family='"Liberation Sans", sans-serif' >−10</text>
<text x="38.6" y="587.95" font-size="12" text-anchor="end" font-family='"Liberation Sans", sans-serif' >−15</text>
<text x="38.6" y="614.63" font-size="12" text-anchor="end" font-family='"Liberation Sans", sans-serif' >−20</text>
<text x="38.6" y="641.32" font-size="12" text-anchor="end" font-family='"Liberation Sans", sans-serif' >−25</text>
<text x="38.6" y="668" font-size="12" text-anchor="end" font-family='"Liberation Sans", sans-serif' >−30</text>
<text x="42" y="686.8" font-size="12" text-anchor="middle" font-family='"Liberation Sans", sans-serif' >−90</text>
<text x="88.73" y="686.8" font-size="12" text-anchor="middle" font-family='"Liberation Sans", sans-serif' >−60</text>
<text x="135.47" y="686.8" font-size="12" text-anchor="middle" font-family='"Liberation Sans", sans-serif' >−30</text>
<text x="182.2" y="686.8" font-size="12" text-anchor="middle" font-family='"Liberation Sans", sans-serif' >0</text>
<text x="228.93" y="686.8" font-size="12" text-anchor="middle" font-family='"Liberation Sans", sans-serif' >30</text>
<text x="275.67" y="686.8" font-size="12" text-anchor="middle" font-family='"Liberation Sans", sans-serif' >60</text>
<text x="322.4" y="686.8" font-size="12" text-anchor="middle" font-family='"Liberation Sans", sans-serif' >90</text>
<text x="-0.75" y="499.1" font-size="20.5" text-anchor="start" font-family='"Liberation Sans", sans-serif' font-weight="bold">c</text>
<text transform="translate(11.2,584) rotate(-90)" font-size="12" text-anchor="middle" font-family='"Liberation Sans", sans-serif' >Normalized Amplitude (dB)</text>
<text x="184" y="701.5" font-size="12" text-anchor="middle" font-family='"Liberation Sans", sans-serif' ><tspan font-style="italic">θ</tspan>(°)</text>
<text x="109" y="521.4" font-size="12" text-anchor="start" font-family='"Liberation Sans", sans-serif' ><tspan font-style="italic">f</tspan><tspan font-size="9" dy="3">c</tspan></text>
<text x="249.4" y="589.6" font-size="12" text-anchor="start" font-family='"Liberation Sans", sans-serif' >Harmonics</text>
<g clip-path="url(#cd)">
<path d="M400.30 189.30 400.55 189.76 400.80 188.52 401.05 189.41 401.30 191.28 401.55 191.22 401.80 190.88 402.05 188.62 402.30 188.32 402.55 188.63 402.80 191.90 403.05 192.63 403.30 189.89 403.55 189.85 403.80 190.31 404.05 188.55 404.30 189.31 404.55 190.73 404.80 190.09 405.05 189.02 405.30 188.75 405.55 189.59 405.80 186.34 406.05 189.59 406.30 189.22 406.55 190.43 406.80 189.92 407.05 188.33 407.30 187.90 407.55 189.10 407.80 187.48 408.05 186.78 408.30 186.43 408.55 183.93 408.80 172.45 409.05 171.66 409.30 170.12 409.55 170.34 409.80 167.18 410.05 162.98 410.30 166.90 410.55 162.16 410.80 159.33 411.05 159.39 411.30 157.50 411.55 158.03 411.80 154.99 412.05 160.35 412.30 161.40 412.55 159.39 412.80 159.43 413.05 162.60 413.30 163.21 413.55 166.68 413.80 168.63 414.05 167.90 414.30 170.15 414.55 172.72 414.80 180.34 415.05 184.62 415.30 188.08 415.55 187.76 415.80 187.79 416.05 188.55 416.30 190.86 416.55 189.26 416.80 189.60 417.05 189.05 417.30 188.95 417.55 189.90 417.80 188.24 418.05 189.35 418.30 189.31 418.55 190.53 418.80 188.92 419.05 189.21 419.30 191.93 419.55 188.34 419.80 189.82 420.05 188.24 420.30 189.66 420.55 188.97 420.80 188.61 421.05 189.40 421.30 189.87 421.55 191.67 421.80 186.71 422.05 191.63 422.30 190.05 422.55 188.51 422.80 188.98 423.05 188.24 423.30 188.07 423.55 187.62 423.80 188.74 424.05 185.42 424.30 190.29 424.55 188.60 424.80 190.00 425.05 189.83 425.30 189.19 425.55 187.46 425.80 189.91 426.05 189.82 426.30 188.12 426.55 188.95 426.80 186.90 427.05 188.24 427.30 188.54 427.55 189.97 427.80 189.19 428.05 189.59 428.30 191.34 428.55 188.93 428.80 189.36 429.05 189.83 429.30 189.79 429.55 187.47 429.80 188.28 430.05 187.69 430.30 189.21 430.55 188.55 430.80 185.23 431.05 180.29 431.30 175.41 431.55 170.68 431.80 166.05 432.05 164.68 432.30 163.69 432.55 160.75 432.80 159.09 433.05 157.18 433.30 157.38 433.55 154.44 433.80 152.23 434.05 152.35 434.30 152.94 434.55 152.82 434.80 152.03 435.05 152.46 435.30 153.23 435.55 155.22 435.80 158.58 436.05 156.01 436.30 159.02 436.55 160.63 436.80 163.26 437.05 167.79 437.30 169.08 437.55 173.23 437.80 176.56 438.05 183.65 438.30 190.30 438.55 188.21 438.80 187.94 439.05 187.53 439.30 188.57 439.55 186.00 439.80 187.57 440.05 187.35 440.30 188.24 440.55 190.74 440.80 188.25 441.05 188.45 441.30 189.77 441.55 188.49 441.80 188.93 442.05 189.43 442.30 189.75 442.55 189.73 442.80 188.92 443.05 190.18 443.30 188.85 443.55 191.42 443.80 189.37 444.05 191.26 444.30 189.52 444.55 188.38 444.80 189.39 445.05 189.27 445.30 189.30 445.55 187.06 445.80 190.74 446.05 188.42 446.30 190.84 446.55 189.68 446.80 188.84 447.05 190.28 447.30 188.75 447.55 188.37 447.80 190.70 448.05 189.72 448.30 189.68 448.55 191.44 448.80 189.31 449.05 190.00 449.30 187.56 449.55 190.03 449.80 187.43 450.05 189.61 450.30 186.91 450.55 188.91 450.80 188.58 451.05 188.27 451.30 188.17 451.55 187.18 451.80 187.37 452.05 189.59 452.30 190.90 452.55 192.60 452.80 189.39 453.05 187.90 453.30 187.38 453.55 186.13 453.80 184.28 454.05 180.80 454.30 175.39 454.55 170.90 454.80 170.93 455.05 166.23 455.30 166.02 455.55 163.29 455.80 162.76 456.05 160.68 456.30 160.38 456.55 159.33 456.80 157.55 457.05 158.08 457.30 153.24 457.55 157.12 457.80 158.27 458.05 159.17 458.30 160.80 458.55 163.77 458.80 162.29 459.05 163.80 459.30 167.71 459.55 168.01 459.80 171.73 460.05 172.91 460.30 176.48 460.55 180.86 460.80 184.79 461.05 188.00 461.30 187.05 461.55 189.72 461.80 189.20 462.05 188.41 462.30 189.33 462.55 190.53 462.80 188.60 463.05 190.35 463.30 190.02 463.55 190.73 463.80 187.99 464.05 189.58 464.30 192.39 464.55 188.27 464.80 186.99 465.05 186.85 465.30 189.72 465.55 188.81 465.80 188.66 466.05 188.46 466.30 188.88 466.55 190.33 466.80 187.92 467.05 188.41 467.30 190.80 467.55 189.83 467.80 189.19 468.05 189.44 468.30 188.42 468.55 188.41 468.80 188.42 469.05 189.41 469.30 191.01 469.55 188.09 469.80 187.78 470.05 186.78 470.30 189.59 470.55 188.94 470.80 187.45 471.05 187.59 471.30 189.11 471.55 188.29 471.80 190.31 472.05 188.84 472.30 190.70 472.55 189.54 472.80 189.35 473.05 189.84 473.30 191.60 473.55 189.96 473.80 188.48 474.05 189.09 474.30 189.78 474.55 188.71 474.80 188.48 475.05 188.28 475.30 190.67 475.55 185.59 475.80 183.92 476.05 181.04 476.30 175.50 476.55 166.25 476.80 160.57 477.05 151.72 477.30 150.09 477.55 148.07 477.80 145.81 478.05 140.01 478.30 142.05 478.55 139.21 478.80 138.79 479.05 136.22 479.30 135.96 479.55 133.74 479.80 135.64 480.05 133.66 480.30 132.51 480.55 135.93 480.80 136.09 481.05 137.93 481.30 141.50 481.55 139.63 481.80 140.02 482.05 143.98 482.30 148.00 482.55 148.42 482.80 150.93 483.05 154.86 483.30 159.97 483.55 169.47 483.80 174.66 484.05 183.03 484.30 182.62 484.55 188.65 484.80 188.02 485.05 187.80 485.30 189.68 485.55 189.70 485.80 190.05 486.05 191.67 486.30 189.07 486.55 188.81 486.80 190.29 487.05 188.69 487.30 189.55 487.55 188.95 487.80 190.32 488.05 191.34 488.30 188.34 488.55 188.49 488.80 189.19 489.05 190.16 489.30 189.47 489.55 189.82 489.80 190.13 490.05 191.62 490.30 188.13 490.55 191.24 490.80 189.86 491.05 189.38 491.30 189.13 491.55 191.70 491.80 187.96 492.05 188.84 492.30 188.04 492.55 187.99 492.80 189.88 493.05 193.47 493.30 189.01 493.55 187.54 493.80 187.96 494.05 190.04 494.30 189.71 494.55 188.99 494.80 191.94 495.05 190.33 495.30 189.72 495.55 187.44 495.80 190.27 496.05 187.12 496.30 188.92 496.55 191.54 496.80 186.56 497.05 190.30 497.30 188.22 497.55 187.00 497.80 190.20 498.05 191.07 498.30 179.05 498.55 174.62 498.80 170.69 499.05 164.66 499.30 156.15 499.55 147.20 499.80 142.93 500.05 137.40 500.30 133.62 500.55 131.39 500.80 128.89 501.05 127.61 501.30 129.42 501.55 124.35 501.80 123.77 502.05 123.37 502.30 123.87 502.55 124.10 502.80 122.85 503.05 121.79 503.30 124.49 503.55 124.48 503.80 125.68 504.05 125.33 504.30 128.07 504.55 129.21 504.80 128.95 505.05 134.27 505.30 135.34 505.55 140.04 505.80 143.61 506.05 148.51 506.30 156.65 506.55 163.04 506.80 168.76 507.05 170.57 507.30 175.12 507.55 172.29 507.80 171.80 508.05 173.86 508.30 171.01 508.55 171.55 508.80 169.76 509.05 169.79 509.30 170.66 509.55 166.76 509.80 166.91 510.05 168.27 510.30 167.76 510.55 165.81 510.80 165.38 511.05 163.80 511.30 161.44 511.55 160.26 511.80 161.12 512.05 158.27 512.30 157.91 512.55 159.00 512.80 159.74 513.05 155.97 513.30 155.31 513.55 152.63 513.80 153.15 514.05 152.59 514.30 150.80 514.55 153.06 514.80 151.21 515.05 150.50 515.30 146.99 515.55 147.72 515.80 151.41 516.05 145.66 516.30 147.70 516.55 144.68 516.80 145.32 517.05 143.78 517.30 142.42 517.55 142.25 517.80 142.09 518.05 138.76 518.30 138.97 518.55 138.79 518.80 136.80 519.05 137.47 519.30 133.93 519.55 135.06 519.80 134.41 520.05 133.44 520.30 134.24 520.55 133.66 520.80 131.05 521.05 121.59 521.30 118.29 521.55 112.41 521.80 105.16 522.05 95.04 522.30 86.42 522.55 78.26 522.80 70.53 523.05 66.62 523.30 60.18 523.55 59.03 523.80 54.65 524.05 53.42 524.30 49.46 524.55 49.61 524.80 45.54 525.05 43.00 525.30 42.11 525.55 42.76 525.80 44.95 526.05 46.76 526.30 45.81 526.55 47.86 526.80 49.94 527.05 51.16 527.30 54.07 527.55 57.81 527.80 59.30 528.05 65.30 528.30 71.30 528.55 81.48 528.80 88.65 529.05 96.01 529.30 105.43 529.55 112.95 529.80 118.42 530.05 122.70 530.30 132.56 530.55 133.10 530.80 133.44 531.05 134.81 531.30 134.91 531.55 135.19 531.80 136.28 532.05 136.14 532.30 138.30 532.55 138.66 532.80 137.19 533.05 140.35 533.30 140.12 533.55 141.52 533.80 143.67 534.05 144.41 534.30 145.25 534.55 144.62 534.80 146.38 535.05 147.22 535.30 146.07 535.55 148.25 535.80 147.37 536.05 149.23 536.30 149.10 536.55 152.01 536.80 151.29 537.05 149.39 537.30 152.58 537.55 152.90 537.80 154.12 538.05 154.73 538.30 157.92 538.55 157.72 538.80 157.33 539.05 157.15 539.30 160.11 539.55 159.85 539.80 161.34 540.05 161.89 540.30 163.42 540.55 164.23 540.80 163.26 541.05 166.23 541.30 165.84 541.55 166.08 541.80 167.64 542.05 167.04 542.30 168.00 542.55 168.60 542.80 170.52 543.05 170.69 543.30 170.15 543.55 171.00 543.80 172.49 544.05 170.97 544.30 170.80 544.55 176.85 544.80 168.98 545.05 164.13 545.30 158.38 545.55 153.51 545.80 151.89 546.05 150.90 546.30 145.98 546.55 144.29 546.80 143.46 547.05 141.43 547.30 140.14 547.55 140.83 547.80 138.08 548.05 140.05 548.30 137.33 548.55 139.69 548.80 138.99 549.05 138.40 549.30 140.11 549.55 142.35 549.80 142.44 550.05 144.86 550.30 146.31 550.55 149.51 550.80 149.73 551.05 153.28 551.30 157.88 551.55 165.03 551.80 169.70 552.05 178.61 552.30 181.69 552.55 186.50 552.80 184.42 553.05 191.56 553.30 188.06 553.55 188.65 553.80 191.77 554.05 189.91 554.30 187.52 554.55 187.58 554.80 191.24 555.05 190.23 555.30 191.20 555.55 190.99 555.80 190.19 556.05 187.12 556.30 189.01 556.55 189.96 556.80 189.96 557.05 188.33 557.30 188.40 557.55 190.48 557.80 187.14 558.05 191.02 558.30 189.94 558.55 188.71 558.80 187.12 559.05 189.36 559.30 188.57 559.55 187.61 559.80 188.33 560.05 187.74 560.30 188.33 560.55 188.92 560.80 188.70 561.05 188.29 561.30 189.66 561.55 187.73 561.80 191.54 562.05 190.31 562.30 187.30 562.55 188.97 562.80 190.21 563.05 189.13 563.30 187.87 563.55 189.75 563.80 188.13 564.05 189.12 564.30 189.68 564.55 189.25 564.80 188.24 565.05 190.71 565.30 190.12 565.55 188.46 565.80 190.83 566.05 191.46 566.30 188.74 566.55 189.15 566.80 188.20 567.05 186.67 567.30 186.23 567.55 177.23 567.80 174.55 568.05 169.34 568.30 166.44 568.55 162.29 568.80 157.34 569.05 157.26 569.30 154.79 569.55 154.26 569.80 150.14 570.05 150.13 570.30 151.51 570.55 147.87 570.80 148.55 571.05 146.96 571.30 147.53 571.55 148.60 571.80 149.72 572.05 151.87 572.30 153.71 572.55 151.98 572.80 155.22 573.05 155.75 573.30 159.55 573.55 163.54 573.80 165.76 574.05 166.13 574.30 173.51 574.55 178.33 574.80 185.76 575.05 186.97 575.30 187.86 575.55 188.70 575.80 189.34 576.05 190.22 576.30 189.80 576.55 189.35 576.80 188.72 577.05 189.17 577.30 187.04 577.55 189.13 577.80 189.33 578.05 189.82 578.30 187.82 578.55 190.38 578.80 191.61 579.05 190.62 579.30 188.23 579.55 191.00 579.80 187.44 580.05 189.33 580.30 191.49 580.55 189.73 580.80 187.44 581.05 190.28 581.30 190.80 581.55 189.09 581.80 187.86 582.05 187.83 582.30 190.01 582.55 189.07 582.80 188.67 583.05 187.80 583.30 186.94 583.55 189.13 583.80 187.49 584.05 189.72 584.30 188.74 584.55 190.45 584.80 190.40 585.05 189.14 585.30 190.79 585.55 188.60 585.80 190.31 586.05 189.46 586.30 189.33 586.55 189.69 586.80 189.10 587.05 187.71 587.30 185.76 587.55 190.93 587.80 189.32 588.05 189.63 588.30 190.85 588.55 189.34 588.80 190.78 589.05 189.53 589.30 187.55 589.55 190.89 589.80 186.54 590.05 184.80 590.30 182.90 590.55 173.90 590.80 170.02 591.05 165.90 591.30 161.28 591.55 161.77 591.80 157.43 592.05 156.14 592.30 155.84 592.55 153.18 592.80 152.29 593.05 149.16 593.30 151.81 593.55 149.16 593.80 148.72 594.05 146.25 594.30 150.69 594.55 148.39 594.80 153.36 595.05 151.71 595.30 153.93 595.55 154.88 595.80 157.68 596.05 161.61 596.30 163.78 596.55 162.39 596.80 167.98 597.05 173.53 597.30 176.69 597.55 185.00 597.80 187.14 598.05 189.11 598.30 187.35 598.55 187.05 598.80 190.94 599.05 188.91 599.30 188.48 599.55 186.92 599.80 192.43 600.05 189.22 600.30 188.94 600.55 190.86 600.80 189.08 601.05 189.02 601.30 188.69 601.55 190.02 601.80 188.96 602.05 190.29 602.30 188.62 602.55 189.10 602.80 189.76 603.05 191.00 603.30 187.48 603.55 188.31 603.80 188.47 604.05 190.36 604.30 189.72 604.55 187.33 604.80 188.59 605.05 190.78 605.30 189.23 605.55 189.52 605.80 189.61 606.05 190.40 606.30 187.68 606.55 188.91 606.80 189.74 607.05 190.98 607.30 190.45 607.55 189.22 607.80 188.32 608.05 189.73 608.30 188.05 608.55 189.50 608.80 190.24 609.05 193.30 609.30 190.53 609.55 190.99 609.80 189.65 610.05 188.90 610.30 187.57 610.55 188.96 610.80 190.99 611.05 186.20 611.30 188.44 611.55 188.45 611.80 187.70 612.05 187.85 612.30 183.82 612.55 181.74 612.80 178.11 613.05 176.25 613.30 174.72 613.55 172.90 613.80 173.42 614.05 172.35 614.30 170.65 614.55 171.38 614.80 168.84 615.05 167.57 615.30 165.69 615.55 166.21 615.80 167.84 616.05 164.52 616.30 162.27 616.55 165.99 616.80 164.64 617.05 164.32 617.30 166.62 617.55 166.39 617.80 166.39 618.05 168.31 618.30 167.40 618.55 168.01 618.80 171.69 619.05 170.59 619.30 170.79 619.55 173.28 619.80 173.99 620.05 175.97 620.30 178.22 620.55 179.22 620.80 182.14 621.05 185.86 621.30 186.31 621.55 187.21 621.80 187.68 622.05 189.25 622.30 188.17 622.55 187.45 622.80 188.78 623.05 187.46 623.30 187.82 623.55 189.02 623.80 188.65 624.05 189.80 624.30 188.32 624.55 189.69 624.80 189.94 625.05 189.72 625.30 189.34 625.55 189.08 625.80 188.49 626.05 191.07 626.30 190.35 626.55 189.02 626.80 188.60 627.05 188.91 627.30 185.74 627.55 187.66 627.80 189.22 628.05 188.31 628.30 187.71 628.55 189.08 628.80 191.16 629.05 189.22 629.30 189.07 629.55 186.93 629.80 191.70 630.05 187.64 630.30 189.57 630.55 187.88 630.80 189.75 631.05 188.87 631.30 188.14 631.55 189.24 631.80 187.99 632.05 189.34 632.30 189.99 632.55 189.35 632.80 189.55 633.05 189.13 633.30 187.91 633.55 190.64 633.80 191.32 634.05 188.95 634.30 187.03 634.55 186.94 634.80 186.14 635.05 184.76 635.30 186.93 635.55 184.06 635.80 186.36 636.05 182.46 636.30 179.87 636.55 181.87 636.80 180.14 637.05 178.00 637.30 175.49 637.55 173.54 637.80 170.28 638.05 170.88 638.30 174.53 638.55 174.90 638.80 170.97 639.05 169.93 639.30 172.23 639.55 170.97 639.80 171.50 640.05 171.41 640.30 172.16 640.55 171.88 640.80 171.73 641.05 174.22 641.30 173.96 641.55 173.17 641.80 177.98 642.05 178.66 642.30 179.23 642.55 178.44 642.80 181.73 643.05 182.08 643.30 184.56 643.55 184.81 643.80 187.97 644.05 187.31 644.30 188.12 644.55 188.25 644.80 187.33 645.05 187.92 645.30 189.60 645.55 188.13 645.80 190.97 646.05 188.10 646.30 185.50 646.55 188.58 646.80 188.19 647.05 188.92 647.30 187.92 647.55 190.03 647.80 188.05 648.05 189.58 648.30 189.44 648.55 188.66 648.80 189.50 649.05 191.70 649.30 186.26 649.55 188.53 649.80 190.90 650.05 187.79 650.30 188.85 L650.30 200.27 650.05 197.59 649.80 200.85 649.55 199.64 649.30 198.96 649.05 197.40 648.80 200.23 648.55 199.82 648.30 196.87 648.05 200.53 647.80 196.90 647.55 197.41 647.30 197.77 647.05 201.72 646.80 200.83 646.55 200.50 646.30 201.38 646.05 199.96 645.80 199.65 645.55 198.96 645.30 200.07 645.05 200.49 644.80 198.96 644.55 198.22 644.30 198.97 644.05 198.12 643.80 195.17 643.55 196.97 643.30 195.20 643.05 191.64 642.80 194.30 642.55 190.87 642.30 190.62 642.05 189.05 641.80 190.39 641.55 188.76 641.30 187.06 641.05 185.54 640.80 185.35 640.55 184.44 640.30 187.26 640.05 182.56 639.80 183.26 639.55 184.38 639.30 183.65 639.05 183.91 638.80 184.40 638.55 184.29 638.30 187.15 638.05 184.07 637.80 186.08 637.55 185.48 637.30 188.27 637.05 190.23 636.80 190.95 636.55 190.14 636.30 191.48 636.05 194.70 635.80 194.97 635.55 197.23 635.30 194.27 635.05 196.19 634.80 199.64 634.55 198.37 634.30 196.77 634.05 199.55 633.80 199.52 633.55 199.70 633.30 199.67 633.05 200.62 632.80 199.30 632.55 202.06 632.30 196.83 632.05 200.31 631.80 199.14 631.55 200.35 631.30 199.44 631.05 200.41 630.80 201.71 630.55 200.99 630.30 200.51 630.05 200.89 629.80 197.76 629.55 201.26 629.30 201.42 629.05 199.30 628.80 202.34 628.55 199.20 628.30 198.16 628.05 201.02 627.80 200.91 627.55 200.63 627.30 198.57 627.05 199.97 626.80 198.42 626.55 199.05 626.30 200.99 626.05 198.04 625.80 198.97 625.55 199.28 625.30 198.37 625.05 200.24 624.80 199.19 624.55 199.71 624.30 199.45 624.05 198.70 623.80 198.32 623.55 198.97 623.30 200.78 623.05 200.11 622.80 199.78 622.55 198.83 622.30 200.97 622.05 201.59 621.80 195.98 621.55 193.87 621.30 197.03 621.05 192.73 620.80 193.71 620.55 192.98 620.30 190.43 620.05 188.99 619.80 188.35 619.55 188.07 619.30 183.38 619.05 181.69 618.80 183.42 618.55 180.39 618.30 180.69 618.05 180.77 617.80 178.48 617.55 177.67 617.30 178.02 617.05 179.12 616.80 177.98 616.55 176.59 616.30 179.43 616.05 180.91 615.80 176.34 615.55 177.35 615.30 179.64 615.05 184.20 614.80 180.00 614.55 183.82 614.30 184.33 614.05 184.67 613.80 185.79 613.55 186.03 613.30 189.57 613.05 187.95 612.80 192.59 612.55 191.42 612.30 194.07 612.05 196.70 611.80 196.93 611.55 198.64 611.30 198.33 611.05 198.46 610.80 198.35 610.55 199.85 610.30 198.25 610.05 198.22 609.80 197.15 609.55 197.78 609.30 201.46 609.05 198.95 608.80 197.59 608.55 200.86 608.30 196.41 608.05 200.28 607.80 200.36 607.55 196.69 607.30 199.48 607.05 198.97 606.80 198.05 606.55 198.89 606.30 200.89 606.05 199.49 605.80 197.67 605.55 197.71 605.30 197.42 605.05 198.74 604.80 200.36 604.55 197.42 604.30 199.78 604.05 197.58 603.80 199.56 603.55 198.33 603.30 202.95 603.05 200.69 602.80 197.69 602.55 200.91 602.30 198.62 602.05 199.23 601.80 199.36 601.55 198.64 601.30 199.89 601.05 199.24 600.80 201.12 600.55 198.66 600.30 198.21 600.05 197.61 599.80 199.80 599.55 198.35 599.30 200.23 599.05 199.82 598.80 200.43 598.55 200.07 598.30 198.59 598.05 199.26 597.80 198.12 597.55 193.72 597.30 189.57 597.05 187.37 596.80 179.61 596.55 177.30 596.30 174.28 596.05 171.39 595.80 168.75 595.55 166.52 595.30 168.07 595.05 165.42 594.80 163.41 594.55 165.21 594.30 162.94 594.05 161.60 593.80 160.78 593.55 160.54 593.30 164.19 593.05 164.52 592.80 163.89 592.55 166.03 592.30 167.17 592.05 170.46 591.80 170.78 591.55 173.10 591.30 175.13 591.05 179.43 590.80 182.26 590.55 187.05 590.30 192.46 590.05 194.39 589.80 197.34 589.55 198.62 589.30 202.03 589.05 197.12 588.80 200.67 588.55 197.77 588.30 200.26 588.05 199.22 587.80 199.33 587.55 200.17 587.30 198.19 587.05 200.12 586.80 198.55 586.55 199.55 586.30 201.27 586.05 198.05 585.80 199.42 585.55 200.35 585.30 198.69 585.05 200.02 584.80 197.97 584.55 200.64 584.30 199.24 584.05 204.33 583.80 200.86 583.55 198.65 583.30 200.63 583.05 200.71 582.80 199.28 582.55 200.51 582.30 200.60 582.05 199.78 581.80 201.18 581.55 198.32 581.30 199.99 581.05 198.92 580.80 201.11 580.55 199.31 580.30 198.75 580.05 199.50 579.80 200.96 579.55 202.65 579.30 199.40 579.05 200.26 578.80 200.90 578.55 199.96 578.30 198.33 578.05 201.32 577.80 199.38 577.55 203.27 577.30 198.78 577.05 201.52 576.80 198.66 576.55 199.17 576.30 202.26 576.05 201.68 575.80 198.94 575.55 198.71 575.30 199.30 575.05 195.74 574.80 193.95 574.55 190.47 574.30 186.99 574.05 180.25 573.80 176.69 573.55 172.46 573.30 171.34 573.05 169.63 572.80 168.57 572.55 166.29 572.30 164.13 572.05 163.02 571.80 163.73 571.55 161.10 571.30 161.98 571.05 156.16 570.80 162.43 570.55 162.63 570.30 158.11 570.05 163.74 569.80 162.50 569.55 163.79 569.30 168.83 569.05 169.75 568.80 170.81 568.55 171.67 568.30 176.21 568.05 183.33 567.80 186.15 567.55 192.35 567.30 195.79 567.05 197.51 566.80 198.26 566.55 202.97 566.30 201.83 566.05 199.52 565.80 199.46 565.55 197.80 565.30 201.51 565.05 201.15 564.80 199.21 564.55 199.54 564.30 201.27 564.05 199.25 563.80 199.20 563.55 200.55 563.30 199.85 563.05 201.82 562.80 198.38 562.55 201.18 562.30 200.79 562.05 199.51 561.80 198.82 561.55 196.22 561.30 199.32 561.05 199.61 560.80 199.10 560.55 199.35 560.30 199.30 560.05 200.99 559.80 198.74 559.55 198.79 559.30 200.22 559.05 199.28 558.80 200.28 558.55 197.27 558.30 200.36 558.05 200.21 557.80 200.16 557.55 199.97 557.30 200.87 557.05 198.26 556.80 199.40 556.55 199.54 556.30 199.65 556.05 201.85 555.80 199.46 555.55 197.12 555.30 200.17 555.05 199.42 554.80 199.32 554.55 198.81 554.30 200.92 554.05 200.70 553.80 198.45 553.55 199.49 553.30 196.95 553.05 198.62 552.80 196.20 552.55 195.36 552.30 191.39 552.05 187.07 551.80 181.54 551.55 172.97 551.30 169.88 551.05 169.68 550.80 163.90 550.55 160.55 550.30 158.37 550.05 156.47 549.80 157.42 549.55 154.17 549.30 152.21 549.05 152.33 548.80 150.26 548.55 151.21 548.30 148.64 548.05 151.75 547.80 151.50 547.55 151.43 547.30 153.90 547.05 151.34 546.80 156.03 546.55 156.81 546.30 159.30 546.05 162.28 545.80 164.93 545.55 166.01 545.30 170.61 545.05 176.79 544.80 183.74 544.55 190.87 544.30 183.41 544.05 185.27 543.80 184.34 543.55 186.20 543.30 182.95 543.05 182.47 542.80 181.42 542.55 180.88 542.30 181.47 542.05 176.31 541.80 178.44 541.55 177.89 541.30 176.78 541.05 177.99 540.80 176.88 540.55 174.40 540.30 177.91 540.05 175.68 539.80 173.11 539.55 172.80 539.30 171.17 539.05 171.51 538.80 170.49 538.55 172.00 538.30 168.23 538.05 168.94 537.80 166.83 537.55 165.88 537.30 165.81 537.05 165.47 536.80 165.13 536.55 165.62 536.30 161.73 536.05 160.98 535.80 159.53 535.55 161.29 535.30 159.97 535.05 158.92 534.80 159.31 534.55 158.46 534.30 157.96 534.05 155.23 533.80 155.93 533.55 154.81 533.30 152.16 533.05 154.75 532.80 154.36 532.55 151.64 532.30 151.07 532.05 149.87 531.80 149.94 531.55 148.58 531.30 147.05 531.05 147.58 530.80 147.93 530.55 145.32 530.30 144.53 530.05 135.22 529.80 132.61 529.55 126.87 529.30 118.47 529.05 107.70 528.80 100.15 528.55 91.96 528.30 81.16 528.05 75.97 527.80 72.32 527.55 70.29 527.30 66.37 527.05 65.94 526.80 62.97 526.55 60.00 526.30 63.52 526.05 55.62 525.80 56.73 525.55 53.94 525.30 56.56 525.05 56.97 524.80 59.38 524.55 62.26 524.30 63.55 524.05 66.94 523.80 69.33 523.55 71.79 523.30 75.06 523.05 78.08 522.80 84.38 522.55 90.56 522.30 98.28 522.05 106.11 521.80 117.69 521.55 123.13 521.30 133.81 521.05 134.37 520.80 143.60 520.55 146.45 520.30 144.61 520.05 146.28 519.80 147.84 519.55 147.30 519.30 146.88 519.05 149.80 518.80 150.18 518.55 152.28 518.30 150.05 518.05 149.94 517.80 153.41 517.55 154.16 517.30 154.14 517.05 156.59 516.80 157.36 516.55 158.17 516.30 160.87 516.05 159.14 515.80 161.74 515.55 161.04 515.30 160.58 515.05 162.68 514.80 164.71 514.55 166.55 514.30 165.11 514.05 167.19 513.80 168.23 513.55 167.33 513.30 170.14 513.05 168.29 512.80 170.31 512.55 172.19 512.30 168.97 512.05 173.33 511.80 174.01 511.55 173.45 511.30 174.65 511.05 174.59 510.80 179.19 510.55 179.45 510.30 177.39 510.05 180.46 509.80 180.32 509.55 181.55 509.30 181.28 509.05 179.23 508.80 182.96 508.55 181.64 508.30 184.62 508.05 182.92 507.80 186.22 507.55 185.76 507.30 187.85 507.05 182.64 506.80 180.82 506.55 174.64 506.30 169.98 506.05 163.43 505.80 155.01 505.55 152.34 505.30 149.95 505.05 145.74 504.80 143.35 504.55 142.90 504.30 141.15 504.05 141.85 503.80 136.04 503.55 136.07 503.30 137.32 503.05 137.53 502.80 133.43 502.55 135.66 502.30 134.24 502.05 137.31 501.80 137.13 501.55 137.93 501.30 139.34 501.05 142.03 500.80 143.68 500.55 144.89 500.30 148.88 500.05 150.91 499.80 157.88 499.55 160.73 499.30 168.42 499.05 174.66 498.80 183.71 498.55 187.98 498.30 191.59 498.05 198.99 497.80 198.49 497.55 198.81 497.30 198.48 497.05 198.34 496.80 199.82 496.55 199.50 496.30 202.42 496.05 198.96 495.80 199.57 495.55 198.09 495.30 196.92 495.05 199.63 494.80 200.30 494.55 201.45 494.30 198.51 494.05 198.22 493.80 201.11 493.55 200.50 493.30 199.14 493.05 198.19 492.80 198.52 492.55 197.93 492.30 198.03 492.05 199.37 491.80 199.95 491.55 197.96 491.30 199.63 491.05 197.71 490.80 197.34 490.55 200.40 490.30 201.14 490.05 201.16 489.80 200.75 489.55 198.99 489.30 200.20 489.05 198.56 488.80 201.49 488.55 197.42 488.30 198.90 488.05 201.07 487.80 197.79 487.55 200.40 487.30 198.90 487.05 199.65 486.80 197.64 486.55 200.01 486.30 200.52 486.05 199.99 485.80 199.21 485.55 199.58 485.30 201.79 485.05 198.93 484.80 197.82 484.55 198.94 484.30 195.64 484.05 190.33 483.80 186.20 483.55 180.48 483.30 172.70 483.05 170.18 482.80 162.74 482.55 159.07 482.30 160.05 482.05 155.95 481.80 153.31 481.55 155.64 481.30 153.90 481.05 148.54 480.80 147.86 480.55 148.06 480.30 149.34 480.05 144.15 479.80 146.52 479.55 146.25 479.30 146.37 479.05 147.31 478.80 151.83 478.55 152.81 478.30 151.82 478.05 153.59 477.80 157.34 477.55 157.06 477.30 164.25 477.05 167.39 476.80 173.76 476.55 178.31 476.30 184.91 476.05 191.22 475.80 193.29 475.55 194.87 475.30 199.98 475.05 199.47 474.80 200.28 474.55 199.49 474.30 200.10 474.05 199.41 473.80 202.76 473.55 199.52 473.30 200.16 473.05 200.97 472.80 200.73 472.55 203.45 472.30 200.89 472.05 198.50 471.80 199.22 471.55 199.56 471.30 198.57 471.05 199.93 470.80 200.53 470.55 198.26 470.30 199.65 470.05 198.71 469.80 200.78 469.55 202.40 469.30 200.89 469.05 200.37 468.80 198.69 468.55 198.37 468.30 199.43 468.05 199.08 467.80 195.71 467.55 199.00 467.30 200.12 467.05 201.48 466.80 200.04 466.55 200.47 466.30 200.53 466.05 198.67 465.80 199.44 465.55 198.88 465.30 201.72 465.05 197.87 464.80 199.73 464.55 199.92 464.30 198.86 464.05 200.69 463.80 198.94 463.55 200.99 463.30 200.83 463.05 198.38 462.80 199.99 462.55 200.71 462.30 200.75 462.05 200.04 461.80 197.12 461.55 195.60 461.30 197.17 461.05 198.07 460.80 194.43 460.55 190.09 460.30 190.65 460.05 184.45 459.80 181.71 459.55 181.58 459.30 178.46 459.05 175.26 458.80 175.23 458.55 175.44 458.30 171.22 458.05 172.12 457.80 169.18 457.55 169.53 457.30 168.58 457.05 168.57 456.80 169.35 456.55 170.67 456.30 170.49 456.05 174.32 455.80 170.54 455.55 177.68 455.30 175.67 455.05 179.23 454.80 182.88 454.55 184.55 454.30 187.34 454.05 189.57 453.80 193.19 453.55 198.20 453.30 196.47 453.05 197.02 452.80 198.18 452.55 201.58 452.30 201.67 452.05 200.25 451.80 197.18 451.55 201.90 451.30 197.31 451.05 203.67 450.80 200.29 450.55 196.88 450.30 200.93 450.05 199.72 449.80 198.92 449.55 200.71 449.30 200.05 449.05 200.98 448.80 200.65 448.55 200.49 448.30 200.18 448.05 199.05 447.80 198.97 447.55 199.89 447.30 200.26 447.05 199.29 446.80 200.29 446.55 199.69 446.30 200.27 446.05 202.36 445.80 199.42 445.55 200.28 445.30 201.27 445.05 198.70 444.80 199.12 444.55 201.53 444.30 200.34 444.05 199.34 443.80 200.42 443.55 200.69 443.30 197.10 443.05 199.46 442.80 199.86 442.55 202.50 442.30 196.92 442.05 200.47 441.80 199.63 441.55 199.22 441.30 200.21 441.05 196.88 440.80 199.23 440.55 199.19 440.30 199.61 440.05 199.33 439.80 198.86 439.55 200.82 439.30 198.79 439.05 199.20 438.80 198.54 438.55 198.14 438.30 196.90 438.05 195.31 437.80 191.80 437.55 186.43 437.30 182.45 437.05 178.07 436.80 175.89 436.55 176.05 436.30 173.37 436.05 172.04 435.80 170.97 435.55 167.89 435.30 167.73 435.05 166.58 434.80 164.29 434.55 164.01 434.30 165.41 434.05 166.12 433.80 164.48 433.55 166.84 433.30 168.13 433.05 166.89 432.80 173.52 432.55 171.25 432.30 174.95 432.05 177.41 431.80 179.30 431.55 184.86 431.30 186.64 431.05 190.00 430.80 195.78 430.55 197.89 430.30 199.24 430.05 196.83 429.80 199.41 429.55 198.30 429.30 200.26 429.05 197.49 428.80 199.43 428.55 199.85 428.30 197.98 428.05 200.61 427.80 199.93 427.55 201.49 427.30 198.03 427.05 197.91 426.80 199.31 426.55 197.99 426.30 200.16 426.05 199.65 425.80 200.44 425.55 198.96 425.30 198.44 425.05 200.80 424.80 199.04 424.55 198.78 424.30 201.27 424.05 197.94 423.80 199.41 423.55 201.34 423.30 199.90 423.05 198.93 422.80 197.61 422.55 202.97 422.30 199.26 422.05 200.13 421.80 199.51 421.55 198.16 421.30 200.47 421.05 197.38 420.80 199.26 420.55 200.05 420.30 198.87 420.05 199.53 419.80 199.52 419.55 200.29 419.30 198.19 419.05 198.53 418.80 201.02 418.55 198.17 418.30 199.54 418.05 199.61 417.80 199.30 417.55 198.60 417.30 200.48 417.05 198.29 416.80 198.92 416.55 199.75 416.30 202.04 416.05 197.84 415.80 199.19 415.55 199.25 415.30 196.75 415.05 192.99 414.80 186.03 414.55 185.66 414.30 180.88 414.05 184.63 413.80 180.54 413.55 178.05 413.30 177.90 413.05 174.92 412.80 173.79 412.55 172.31 412.30 171.95 412.05 169.94 411.80 171.32 411.55 170.14 411.30 171.39 411.05 172.65 410.80 172.45 410.55 175.24 410.30 175.94 410.05 177.26 409.80 180.52 409.55 180.40 409.30 184.60 409.05 184.90 408.80 186.46 408.55 188.83 408.30 193.16 408.05 199.03 407.80 196.49 407.55 197.29 407.30 200.41 407.05 200.63 406.80 199.56 406.55 197.97 406.30 200.68 406.05 199.14 405.80 200.50 405.55 201.31 405.30 201.40 405.05 200.44 404.80 199.09 404.55 199.32 404.30 199.91 404.05 198.80 403.80 201.42 403.55 198.28 403.30 200.18 403.05 199.42 402.80 199.21 402.55 200.33 402.30 199.76 402.05 198.45 401.80 200.63 401.55 200.39 401.30 199.30 401.05 195.61 400.80 198.68 400.55 200.61 400.30 199.67Z" fill="#c42228" stroke="none"/>
<path d="M400.30 194.41 400.80 194.41 401.30 194.41 401.80 194.41 402.30 194.41 402.80 194.41 403.30 194.41 403.80 194.41 404.30 194.41 404.80 194.41 405.30 194.41 405.80 194.41 406.30 194.41 406.80 194.41 407.30 194.08 407.80 193.11 408.30 188.86 408.80 181.63 409.30 176.51 409.80 172.22 410.30 169.30 410.80 166.62 411.30 165.11 411.80 164.20 412.30 165.71 412.80 167.52 413.30 170.48 413.80 173.74 414.30 178.29 414.80 184.60 415.30 191.36 415.80 193.65 416.30 194.41 416.80 194.41 417.30 194.41 417.80 194.41 418.30 194.41 418.80 194.41 419.30 194.41 419.80 194.41 420.30 194.41 420.80 194.41 421.30 194.41 421.80 194.41 422.30 194.41 422.80 194.41 423.30 194.41 423.80 194.41 424.30 194.41 424.80 194.41 425.30 194.41 425.80 194.41 426.30 194.41 426.80 194.41 427.30 194.41 427.80 194.41 428.30 194.41 428.80 194.41 429.30 194.41 429.80 194.41 430.30 193.21 430.80 190.07 431.30 181.15 431.80 173.46 432.30 168.61 432.80 164.92 433.30 161.87 433.80 159.81 434.30 158.27 434.80 158.76 435.30 160.31 435.80 162.85 436.30 165.89 436.80 170.18 437.30 175.23 437.80 183.88 438.30 191.51 438.80 193.63 439.30 194.41 439.80 194.41 440.30 194.41 440.80 194.41 441.30 194.41 441.80 194.41 442.30 194.41 442.80 194.41 443.30 194.41 443.80 194.41 444.30 194.41 444.80 194.41 445.30 194.41 445.80 194.41 446.30 194.41 446.80 194.41 447.30 194.41 447.80 194.41 448.30 194.41 448.80 194.41 449.30 194.41 449.80 194.41 450.30 194.41 450.80 194.41 451.30 194.41 451.80 194.41 452.30 194.41 452.80 194.06 453.30 193.02 453.80 188.71 454.30 180.98 454.80 175.42 455.30 170.90 455.80 167.95 456.30 165.13 456.80 163.61 457.30 162.45 457.80 163.97 458.30 165.67 458.80 168.67 459.30 171.83 459.80 176.51 460.30 182.86 460.80 190.39 461.30 193.41 461.80 194.41 462.30 194.41 462.80 194.41 463.30 194.41 463.80 194.41 464.30 194.41 464.80 194.41 465.30 194.41 465.80 194.41 466.30 194.41 466.80 194.41 467.30 194.41 467.80 194.41 468.30 194.41 468.80 194.41 469.30 194.41 469.80 194.41 470.30 194.41 470.80 194.41 471.30 194.41 471.80 194.41 472.30 194.41 472.80 194.41 473.30 194.41 473.80 194.41 474.30 194.41 474.80 194.41 475.30 194.41 475.80 188.42 476.30 179.87 476.80 165.71 477.30 156.39 477.80 151.19 478.30 147.18 478.80 144.04 479.30 141.81 479.80 140.23 480.30 140.48 480.80 142.06 481.30 144.54 481.80 147.68 482.30 152.03 482.80 157.22 483.30 167.32 483.80 181.51 484.30 189.37 484.80 194.41 485.30 194.41 485.80 194.41 486.30 194.41 486.80 194.41 487.30 194.41 487.80 194.41 488.30 194.41 488.80 194.41 489.30 194.41 489.80 194.41 490.30 194.41 490.80 194.41 491.30 194.41 491.80 194.41 492.30 194.41 492.80 194.41 493.30 194.41 493.80 194.41 494.30 194.41 494.80 194.41 495.30 194.41 495.80 194.41 496.30 194.41 496.80 194.41 497.30 194.41 497.80 194.41 498.30 185.74 498.80 175.79 499.30 161.91 499.80 149.21 500.30 142.09 500.80 136.92 501.30 133.77 501.80 130.68 502.30 129.10 502.80 127.65 503.30 129.23 503.80 130.87 504.30 134.02 504.80 137.26 505.30 142.51 505.80 150.05 506.30 163.23 506.80 173.51 507.30 180.69 507.80 179.36 508.30 177.97 508.80 176.55 509.30 175.09 509.80 173.59 510.30 172.06 510.80 170.51 511.30 168.94 511.80 167.36 512.30 165.75 512.80 164.13 513.30 162.51 513.80 160.87 514.30 159.23 514.80 157.57 515.30 155.92 515.80 154.26 516.30 152.59 516.80 150.92 517.30 149.25 517.80 147.58 518.30 145.91 518.80 144.23 519.30 142.55 519.80 140.87 520.30 139.19 520.80 137.51 521.30 126.19 521.80 110.40 522.30 93.39 522.80 77.60 523.30 68.18 523.80 61.48 524.30 56.55 524.80 53.39 525.30 49.71 525.80 49.71 526.30 53.39 526.80 56.55 527.30 61.48 527.80 68.18 528.30 77.60 528.80 93.39 529.30 110.40 529.80 126.19 530.30 138.42 530.80 139.94 531.30 141.47 531.80 142.99 532.30 144.51 532.80 146.03 533.30 147.54 533.80 149.06 534.30 150.57 534.80 152.09 535.30 153.60 535.80 155.10 536.30 156.61 536.80 158.11 537.30 159.60 537.80 161.09 538.30 162.57 538.80 164.05 539.30 165.52 539.80 166.97 540.30 168.41 540.80 169.84 541.30 171.26 541.80 172.65 542.30 174.03 542.80 175.38 543.30 176.70 543.80 177.99 544.30 177.53 544.80 177.54 545.30 165.31 545.80 157.95 546.30 152.76 546.80 149.55 547.30 146.41 547.80 144.77 548.30 143.20 548.80 144.65 549.30 146.22 549.80 149.29 550.30 152.43 550.80 157.53 551.30 164.50 551.80 176.38 552.30 187.15 552.80 192.10 553.30 194.41 553.80 194.41 554.30 194.41 554.80 194.41 555.30 194.41 555.80 194.41 556.30 194.41 556.80 194.41 557.30 194.41 557.80 194.41 558.30 194.41 558.80 194.41 559.30 194.41 559.80 194.41 560.30 194.41 560.80 194.41 561.30 194.41 561.80 194.41 562.30 194.41 562.80 194.41 563.30 194.41 563.80 194.41 564.30 194.41 564.80 194.41 565.30 194.41 565.80 194.41 566.30 194.41 566.80 193.07 567.30 189.76 567.80 179.83 568.30 170.77 568.80 165.81 569.30 161.59 569.80 158.50 570.30 156.05 570.80 154.50 571.30 154.25 571.80 155.80 572.30 158.01 572.80 161.10 573.30 165.01 573.80 169.99 574.30 178.46 574.80 188.86 575.30 192.76 575.80 194.41 576.30 194.41 576.80 194.41 577.30 194.41 577.80 194.41 578.30 194.41 578.80 194.41 579.30 194.41 579.80 194.41 580.30 194.41 580.80 194.41 581.30 194.41 581.80 194.41 582.30 194.41 582.80 194.41 583.30 194.41 583.80 194.41 584.30 194.41 584.80 194.41 585.30 194.41 585.80 194.41 586.30 194.41 586.80 194.41 587.30 194.41 587.80 194.41 588.30 194.41 588.80 194.41 589.30 194.41 589.80 192.12 590.30 186.58 590.80 176.33 591.30 169.10 591.80 164.09 592.30 160.79 592.80 157.70 593.30 155.96 593.80 154.40 594.30 155.59 594.80 157.14 595.30 160.05 595.80 163.12 596.30 167.91 596.80 174.12 597.30 184.00 597.80 191.32 598.30 193.58 598.80 194.41 599.30 194.41 599.80 194.41 600.30 194.41 600.80 194.41 601.30 194.41 601.80 194.41 602.30 194.41 602.80 194.41 603.30 194.41 603.80 194.41 604.30 194.41 604.80 194.41 605.30 194.41 605.80 194.41 606.30 194.41 606.80 194.41 607.30 194.41 607.80 194.41 608.30 194.41 608.80 194.41 609.30 194.41 609.80 194.41 610.30 194.41 610.80 194.20 611.30 193.82 611.80 192.63 612.30 189.28 612.80 185.11 613.30 182.15 613.80 179.12 614.30 176.83 614.80 174.80 615.30 172.75 615.80 171.68 616.30 170.61 616.80 170.26 617.30 171.34 617.80 172.41 618.30 174.14 618.80 176.19 619.30 178.17 619.80 181.21 620.30 184.03 620.80 188.12 621.30 191.77 621.80 193.59 622.30 194.12 622.80 194.41 623.30 194.41 623.80 194.41 624.30 194.41 624.80 194.41 625.30 194.41 625.80 194.41 626.30 194.41 626.80 194.41 627.30 194.41 627.80 194.41 628.30 194.41 628.80 194.41 629.30 194.41 629.80 194.41 630.30 194.41 630.80 194.41 631.30 194.41 631.80 194.41 632.30 194.41 632.80 194.41 633.30 194.41 633.80 194.26 634.30 193.98 634.80 192.91 635.30 190.78 635.80 188.17 636.30 186.03 636.80 183.72 637.30 182.04 637.80 180.26 638.30 178.85 638.80 177.88 639.30 176.89 639.80 177.49 640.30 178.46 640.80 179.51 641.30 181.34 641.80 183.06 642.30 185.07 642.80 187.36 643.30 189.64 643.80 192.07 644.30 193.73 644.80 194.18 645.30 194.33 645.80 194.41 646.30 194.41 646.80 194.41 647.30 194.41 647.80 194.41 648.30 194.41 648.80 194.41 649.30 194.41 649.80 194.41 650.30 194.41" fill="none" stroke="#c42228" stroke-width="1.8" stroke-linejoin="round"/>
</g>
<rect x="401.3" y="24.6" width="248.1" height="177.4" fill="none" stroke="#3a3a3a" stroke-width="1.1"/>
<path d="M401.3 192.85h2.6M649.4 192.85h-2.6M401.3 182.32h2.6M649.4 182.32h-2.6M401.3 161.28h2.6M649.4 161.28h-2.6M401.3 150.75h2.6M649.4 150.75h-2.6M401.3 140.22h2.6M649.4 140.22h-2.6M401.3 119.17h2.6M649.4 119.17h-2.6M401.3 108.65h2.6M649.4 108.65h-2.6M401.3 98.12h2.6M649.4 98.12h-2.6M401.3 77.08h2.6M649.4 77.08h-2.6M401.3 66.55h2.6M649.4 66.55h-2.6M401.3 56.02h2.6M649.4 56.02h-2.6M401.3 34.98h2.6M649.4 34.98h-2.6" stroke="#555" stroke-width="0.8" fill="none"/>
<path d="M401.3 45.5h4.8M649.4 45.5h-4.8M401.3 87.6h4.8M649.4 87.6h-4.8M401.3 129.7h4.8M649.4 129.7h-4.8M401.3 171.8h4.8M649.4 171.8h-4.8" stroke="#555" stroke-width="0.8" fill="none"/>
<path d="M411.8 202v-3M411.8 24.6v3M434.5 202v-3M434.5 24.6v3M457.2 202v-3M457.2 24.6v3M479.9 202v-3M479.9 24.6v3M502.6 202v-3M502.6 24.6v3M525.3 202v-3M525.3 24.6v3M548 202v-3M548 24.6v3M570.7 202v-3M570.7 24.6v3M593.4 202v-3M593.4 24.6v3M616.1 202v-3M616.1 24.6v3M638.8 202v-3M638.8 24.6v3" stroke="#555" stroke-width="0.8" fill="none"/>
<text x="397.6" y="49.7" font-size="12" text-anchor="end" font-family='"Liberation Sans", sans-serif' >0</text>
<text x="397.6" y="91.8" font-size="12" text-anchor="end" font-family='"Liberation Sans", sans-serif' >−20</text>
<text x="397.6" y="133.9" font-size="12" text-anchor="end" font-family='"Liberation Sans", sans-serif' >−40</text>
<text x="397.6" y="176" font-size="12" text-anchor="end" font-family='"Liberation Sans", sans-serif' >−60</text>
<text x="346.55" y="20.5" font-size="20.5" text-anchor="start" font-family='"Liberation Sans", sans-serif' font-weight="bold">d</text>
<text x="488" y="12.9" font-size="12" text-anchor="start" font-family='"Liberation Sans", sans-serif' >Spectrum</text>
<text x="497.8" y="230.9" font-size="12" text-anchor="start" font-family='"Liberation Sans", sans-serif' >Frequency</text>
<text transform="translate(372,114.1) rotate(-90)" font-size="12" text-anchor="middle" font-family='"Liberation Sans", sans-serif' >Normalized Amplitude(dB)</text>
<text x="419.87" y="214.30" font-size="13" font-family='"Liberation Serif", serif' font-style='italic'>f</text>
<text x="425.27" y="217.90" font-size="8.5" font-family='"Liberation Serif", serif' font-style='italic'>c</text>
<text x="431.57" y="213.80" font-size="11.5" font-family='"Liberation Serif", serif'>−</text>
<text x="440.77" y="213.60" font-size="10.5" font-family='"Liberation Serif", serif'>4</text>
<text x="447.07" y="214.30" font-size="13" font-family='"Liberation Serif", serif' font-style='italic'>f</text>
<text x="452.87" y="217.60" font-size="7.5" font-family='"Liberation Serif", serif'>0</text>
<text x="465.41" y="214.30" font-size="13" font-family='"Liberation Serif", serif' font-style='italic'>f</text>
<text x="470.81" y="217.90" font-size="8.5" font-family='"Liberation Serif", serif' font-style='italic'>c</text>
<text x="477.11" y="213.80" font-size="11.5" font-family='"Liberation Serif", serif'>−</text>
<text x="486.31" y="213.60" font-size="10.5" font-family='"Liberation Serif", serif'>2</text>
<text x="492.61" y="214.30" font-size="13" font-family='"Liberation Serif", serif' font-style='italic'>f</text>
<text x="498.41" y="217.60" font-size="7.5" font-family='"Liberation Serif", serif'>0</text>
<text x="556.49" y="214.30" font-size="13" font-family='"Liberation Serif", serif' font-style='italic'>f</text>
<text x="561.89" y="217.90" font-size="8.5" font-family='"Liberation Serif", serif' font-style='italic'>c</text>
<text x="568.19" y="213.80" font-size="11.5" font-family='"Liberation Serif", serif'>+</text>
<text x="577.39" y="213.60" font-size="10.5" font-family='"Liberation Serif", serif'>2</text>
<text x="583.69" y="214.30" font-size="13" font-family='"Liberation Serif", serif' font-style='italic'>f</text>
<text x="589.49" y="217.60" font-size="7.5" font-family='"Liberation Serif", serif'>0</text>
<text x="602.03" y="214.30" font-size="13" font-family='"Liberation Serif", serif' font-style='italic'>f</text>
<text x="607.43" y="217.90" font-size="8.5" font-family='"Liberation Serif", serif' font-style='italic'>c</text>
<text x="613.73" y="213.80" font-size="11.5" font-family='"Liberation Serif", serif'>+</text>
<text x="622.93" y="213.60" font-size="10.5" font-family='"Liberation Serif", serif'>4</text>
<text x="629.23" y="214.30" font-size="13" font-family='"Liberation Serif", serif' font-style='italic'>f</text>
<text x="635.03" y="217.60" font-size="7.5" font-family='"Liberation Serif", serif'>0</text>
<text x="521.15" y="214.30" font-size="13" font-family='"Liberation Serif", serif' font-style='italic'>f</text>
<text x="526.55" y="217.90" font-size="8.5" font-family='"Liberation Serif", serif' font-style='italic'>c</text>
<rect x="409.6" y="267.3" width="234.8" height="161.6" fill="none" stroke="#3a3a3a" stroke-width="1.1"/>
<path d="M409.6 422.14h2.6M644.4 422.14h-2.6M409.6 408.66h2.6M644.4 408.66h-2.6M409.6 401.92h2.6M644.4 401.92h-2.6M409.6 395.18h2.6M644.4 395.18h-2.6M409.6 388.44h2.6M644.4 388.44h-2.6M409.6 374.96h2.6M644.4 374.96h-2.6M409.6 368.22h2.6M644.4 368.22h-2.6M409.6 361.48h2.6M644.4 361.48h-2.6M409.6 354.74h2.6M644.4 354.74h-2.6M409.6 341.26h2.6M644.4 341.26h-2.6M409.6 334.52h2.6M644.4 334.52h-2.6M409.6 327.78h2.6M644.4 327.78h-2.6M409.6 321.04h2.6M644.4 321.04h-2.6M409.6 307.56h2.6M644.4 307.56h-2.6M409.6 300.82h2.6M644.4 300.82h-2.6M409.6 294.08h2.6M644.4 294.08h-2.6M409.6 287.34h2.6M644.4 287.34h-2.6M409.6 273.86h2.6M644.4 273.86h-2.6" stroke="#555" stroke-width="0.8" fill="none"/>
<path d="M409.6 280.6h4.8M644.4 280.6h-4.8M409.6 314.3h4.8M644.4 314.3h-4.8M409.6 348h4.8M644.4 348h-4.8M409.6 381.7h4.8M644.4 381.7h-4.8M409.6 415.4h4.8M644.4 415.4h-4.8" stroke="#555" stroke-width="0.8" fill="none"/>
<text x="405.8" y="284.8" font-size="12" text-anchor="end" font-family='"Liberation Sans", sans-serif' >0</text>
<text x="405.8" y="318.5" font-size="12" text-anchor="end" font-family='"Liberation Sans", sans-serif' >−5</text>
<text x="405.8" y="352.2" font-size="12" text-anchor="end" font-family='"Liberation Sans", sans-serif' >−10</text>
<text x="405.8" y="385.9" font-size="12" text-anchor="end" font-family='"Liberation Sans", sans-serif' >−15</text>
<text x="405.8" y="419.6" font-size="12" text-anchor="end" font-family='"Liberation Sans", sans-serif' >−20</text>
<g clip-path="url(#ce)">
<path d="M420.60 280.60V428.90M443.50 364.18V428.90M466.30 334.52V428.90M489.20 357.44V428.90M512.10 315.99V428.90M535.00 375.63V428.90M557.80 371.59V428.90M580.70 352.04V428.90M603.50 380.69V428.90M626.40 378.67V428.90M427.30 359.12V428.90M450.20 339.04V428.90M473.00 325.96V428.90M495.90 341.53V428.90M518.80 340.59V428.90M541.60 308.44V428.90M564.60 280.60V428.90M587.40 309.92V428.90M610.30 397.88V428.90M633.10 375.63V428.90" stroke="#8e8e8e" stroke-width="1.8" fill="none"/>
<path d="M423.95 428.90v-4.2M446.85 428.90v-4.2M469.65 428.90v-4.2M492.55 428.90v-4.2M515.45 428.90v-4.2M538.30 428.90v-4.2M561.20 428.90v-4.2M584.05 428.90v-4.2M606.90 428.90v-4.2M629.75 428.90v-4.2" stroke="#aaa" stroke-width="0.9"/>
<polygon points="420.60,277.00 424.31,279.69 422.89,284.06 418.31,284.06 416.89,279.69" fill="#0b73c2"/>
<polygon points="443.50,360.58 447.21,363.27 445.79,367.63 441.21,367.63 439.79,363.27" fill="#0b73c2"/>
<polygon points="466.30,330.92 470.01,333.61 468.59,337.98 464.01,337.98 462.59,333.61" fill="#0b73c2"/>
<polygon points="489.20,353.84 492.91,356.53 491.49,360.89 486.91,360.89 485.49,356.53" fill="#0b73c2"/>
<polygon points="512.10,312.39 515.81,315.08 514.39,319.44 509.81,319.44 508.39,315.08" fill="#0b73c2"/>
<polygon points="535.00,372.03 538.71,374.73 537.29,379.09 532.71,379.09 531.29,374.73" fill="#0b73c2"/>
<polygon points="557.80,367.99 561.51,370.68 560.09,375.05 555.51,375.05 554.09,370.68" fill="#0b73c2"/>
<polygon points="580.70,348.44 584.41,351.14 582.99,355.50 578.41,355.50 576.99,351.14" fill="#0b73c2"/>
<polygon points="603.50,377.09 607.21,379.78 605.79,384.14 601.21,384.14 599.79,379.78" fill="#0b73c2"/>
<polygon points="626.40,375.07 630.11,377.76 628.69,382.12 624.11,382.12 622.69,377.76" fill="#0b73c2"/>
<circle cx="427.30" cy="359.12" r="3.7" fill="#f22323"/>
<circle cx="450.20" cy="339.04" r="3.7" fill="#f22323"/>
<circle cx="473.00" cy="325.96" r="3.7" fill="#f22323"/>
<circle cx="495.90" cy="341.53" r="3.7" fill="#f22323"/>
<circle cx="518.80" cy="340.59" r="3.7" fill="#f22323"/>
<circle cx="541.60" cy="308.44" r="3.7" fill="#f22323"/>
<circle cx="564.60" cy="280.60" r="3.7" fill="#f22323"/>
<circle cx="587.40" cy="309.92" r="3.7" fill="#f22323"/>
<circle cx="610.30" cy="397.88" r="3.7" fill="#f22323"/>
<circle cx="633.10" cy="375.63" r="3.7" fill="#f22323"/>
<path d="M464.5 285V289.6M464.0 300V305.6" stroke="#8e8e8e" stroke-width="1.3"/>
<polygon points="464.50,280.70 468.21,283.39 466.79,287.76 462.21,287.76 460.79,283.39" fill="#0b73c2"/>
<circle cx="463.9" cy="299.6" r="3.8" fill="#f22323"/>
</g>
<text x="347.3" y="257.3" font-size="20.5" text-anchor="start" font-family='"Liberation Sans", sans-serif' font-weight="bold">e</text>
<text x="498" y="455.9" font-size="12" text-anchor="start" font-family='"Liberation Sans", sans-serif' >Harmonics</text>
<text transform="translate(379.6,348) rotate(-90)" font-size="12" text-anchor="middle" font-family='"Liberation Sans", sans-serif' >Normalized Amplitude(dB)</text>
<text x="423.95" y="441.9" font-size="12" text-anchor="middle" font-family='"Liberation Sans", sans-serif' >-5</text>
<text x="446.85" y="441.9" font-size="12" text-anchor="middle" font-family='"Liberation Sans", sans-serif' >-4</text>
<text x="469.65" y="441.9" font-size="12" text-anchor="middle" font-family='"Liberation Sans", sans-serif' >-3</text>
<text x="492.55" y="441.9" font-size="12" text-anchor="middle" font-family='"Liberation Sans", sans-serif' >-2</text>
<text x="515.45" y="441.9" font-size="12" text-anchor="middle" font-family='"Liberation Sans", sans-serif' >-1</text>
<text x="538.3" y="441.9" font-size="12" text-anchor="middle" font-family='"Liberation Sans", sans-serif' >1</text>
<text x="561.2" y="441.9" font-size="12" text-anchor="middle" font-family='"Liberation Sans", sans-serif' >2</text>
<text x="584.05" y="441.9" font-size="12" text-anchor="middle" font-family='"Liberation Sans", sans-serif' >3</text>
<text x="606.9" y="441.9" font-size="12" text-anchor="middle" font-family='"Liberation Sans", sans-serif' >4</text>
<text x="629.75" y="441.9" font-size="12" text-anchor="middle" font-family='"Liberation Sans", sans-serif' >5</text>
<text x="481.0" y="287.6" font-size="12.5" font-family='"Liberation Serif", serif' font-style="italic">θ</text>
<text x="488.6" y="289.8" font-size="9" font-family='"Liberation Serif", serif' font-style="italic">i</text>
<text x="494.6" y="287.6" font-size="13" font-family='"Liberation Serif", serif' >=</text>
<text x="506.8" y="287.6" font-size="13" font-family='"Liberation Serif", serif' >−</text>
<text x="516.4" y="287.6" font-size="11.5" font-family='"Liberation Serif", serif' >50</text>
<text x="480.8" y="303.0" font-size="12.5" font-family='"Liberation Serif", serif' font-style="italic">θ</text>
<text x="488.4" y="305.2" font-size="9" font-family='"Liberation Serif", serif' font-style="italic">i</text>
<text x="494.6" y="303.0" font-size="13" font-family='"Liberation Serif", serif' >=</text>
<text x="507.2" y="303.0" font-size="11.5" font-family='"Liberation Serif", serif' >20</text>
<circle cx="531.6" cy="279.0" r="1.4" fill="none" stroke="#222" stroke-width="0.8"/>
<circle cx="521.8" cy="295.3" r="1.4" fill="none" stroke="#222" stroke-width="0.8"/>
<g clip-path="url(#cf)">
<path d="M392.23 675.80L654.97 486.80" stroke="#8c8c8c" stroke-width="1.2" stroke-dasharray="2.2 2.2" fill="none"/>
<path d="M401.62 669.80 411.00 662.50 420.38 655.00 429.77 647.70 439.15 641.20 448.53 632.30 457.92 628.40 467.30 621.50 476.68 615.20 486.07 608.30 495.45 601.00 504.83 594.50 514.22 588.60 523.60 582.60 532.98 573.30 542.37 567.00 551.75 560.60 561.13 553.60 570.52 547.90 579.90 537.70 589.28 534.10 598.67 524.50 608.05 517.10 617.43 515.00 626.82 508.20 636.20 500.60 645.58 492.10" stroke="#0000ff" stroke-width="2.2" fill="none" stroke-linejoin="round"/>
<polygon points="401.62,665.80 402.73,668.26 405.42,668.56 403.42,670.39 403.97,673.04 401.62,671.70 399.27,673.04 399.81,670.39 397.81,668.56 400.50,668.26" fill="#0000ff"/>
<polygon points="411.00,658.50 412.12,660.96 414.80,661.26 412.81,663.09 413.35,665.74 411.00,664.40 408.65,665.74 409.19,663.09 407.20,661.26 409.88,660.96" fill="#0000ff"/>
<polygon points="420.38,651.00 421.50,653.46 424.19,653.76 422.19,655.59 422.73,658.24 420.38,656.90 418.03,658.24 418.58,655.59 416.58,653.76 419.27,653.46" fill="#0000ff"/>
<polygon points="429.77,643.70 430.88,646.16 433.57,646.46 431.57,648.29 432.12,650.94 429.77,649.60 427.42,650.94 427.96,648.29 425.96,646.46 428.65,646.16" fill="#0000ff"/>
<polygon points="439.15,637.20 440.27,639.66 442.95,639.96 440.96,641.79 441.50,644.44 439.15,643.10 436.80,644.44 437.34,641.79 435.35,639.96 438.03,639.66" fill="#0000ff"/>
<polygon points="448.53,628.30 449.65,630.76 452.34,631.06 450.34,632.89 450.88,635.54 448.53,634.20 446.18,635.54 446.73,632.89 444.73,631.06 447.42,630.76" fill="#0000ff"/>
<polygon points="457.92,624.40 459.03,626.86 461.72,627.16 459.72,628.99 460.27,631.64 457.92,630.30 455.57,631.64 456.11,628.99 454.11,627.16 456.80,626.86" fill="#0000ff"/>
<polygon points="467.30,617.50 468.42,619.96 471.10,620.26 469.11,622.09 469.65,624.74 467.30,623.40 464.95,624.74 465.49,622.09 463.50,620.26 466.18,619.96" fill="#0000ff"/>
<polygon points="476.68,611.20 477.80,613.66 480.49,613.96 478.49,615.79 479.03,618.44 476.68,617.10 474.33,618.44 474.88,615.79 472.88,613.96 475.57,613.66" fill="#0000ff"/>
<polygon points="486.07,604.30 487.18,606.76 489.87,607.06 487.87,608.89 488.42,611.54 486.07,610.20 483.72,611.54 484.26,608.89 482.26,607.06 484.95,606.76" fill="#0000ff"/>
<polygon points="495.45,597.00 496.57,599.46 499.25,599.76 497.26,601.59 497.80,604.24 495.45,602.90 493.10,604.24 493.64,601.59 491.65,599.76 494.33,599.46" fill="#0000ff"/>
<polygon points="504.83,590.50 505.95,592.96 508.64,593.26 506.64,595.09 507.18,597.74 504.83,596.40 502.48,597.74 503.03,595.09 501.03,593.26 503.72,592.96" fill="#0000ff"/>
<polygon points="514.22,584.60 515.33,587.06 518.02,587.36 516.02,589.19 516.57,591.84 514.22,590.50 511.87,591.84 512.41,589.19 510.41,587.36 513.10,587.06" fill="#0000ff"/>
<polygon points="523.60,578.60 524.72,581.06 527.40,581.36 525.41,583.19 525.95,585.84 523.60,584.50 521.25,585.84 521.79,583.19 519.80,581.36 522.48,581.06" fill="#0000ff"/>
<polygon points="532.98,569.30 534.10,571.76 536.79,572.06 534.79,573.89 535.33,576.54 532.98,575.20 530.63,576.54 531.18,573.89 529.18,572.06 531.87,571.76" fill="#0000ff"/>
<polygon points="542.37,563.00 543.48,565.46 546.17,565.76 544.17,567.59 544.72,570.24 542.37,568.90 540.02,570.24 540.56,567.59 538.56,565.76 541.25,565.46" fill="#0000ff"/>
<polygon points="551.75,556.60 552.87,559.06 555.55,559.36 553.56,561.19 554.10,563.84 551.75,562.50 549.40,563.84 549.94,561.19 547.95,559.36 550.63,559.06" fill="#0000ff"/>
<polygon points="561.13,549.60 562.25,552.06 564.94,552.36 562.94,554.19 563.48,556.84 561.13,555.50 558.78,556.84 559.33,554.19 557.33,552.36 560.02,552.06" fill="#0000ff"/>
<polygon points="570.52,543.90 571.63,546.36 574.32,546.66 572.32,548.49 572.87,551.14 570.52,549.80 568.17,551.14 568.71,548.49 566.71,546.66 569.40,546.36" fill="#0000ff"/>
<polygon points="579.90,533.70 581.02,536.16 583.70,536.46 581.71,538.29 582.25,540.94 579.90,539.60 577.55,540.94 578.09,538.29 576.10,536.46 578.78,536.16" fill="#0000ff"/>
<polygon points="589.28,530.10 590.40,532.56 593.09,532.86 591.09,534.69 591.63,537.34 589.28,536.00 586.93,537.34 587.48,534.69 585.48,532.86 588.17,532.56" fill="#0000ff"/>
<polygon points="598.67,520.50 599.78,522.96 602.47,523.26 600.47,525.09 601.02,527.74 598.67,526.40 596.32,527.74 596.86,525.09 594.86,523.26 597.55,522.96" fill="#0000ff"/>
<polygon points="608.05,513.10 609.17,515.56 611.85,515.86 609.86,517.69 610.40,520.34 608.05,519.00 605.70,520.34 606.24,517.69 604.25,515.86 606.93,515.56" fill="#0000ff"/>
<polygon points="617.43,511.00 618.55,513.46 621.24,513.76 619.24,515.59 619.78,518.24 617.43,516.90 615.08,518.24 615.63,515.59 613.63,513.76 616.32,513.46" fill="#0000ff"/>
<polygon points="626.82,504.20 627.93,506.66 630.62,506.96 628.62,508.79 629.17,511.44 626.82,510.10 624.47,511.44 625.01,508.79 623.01,506.96 625.70,506.66" fill="#0000ff"/>
<polygon points="636.20,496.60 637.32,499.06 640.00,499.36 638.01,501.19 638.55,503.84 636.20,502.50 633.85,503.84 634.39,501.19 632.40,499.36 635.08,499.06" fill="#0000ff"/>
<polygon points="645.58,488.10 646.70,490.56 649.39,490.86 647.39,492.69 647.93,495.34 645.58,494.00 643.23,495.34 643.78,492.69 641.78,490.86 644.47,490.56" fill="#0000ff"/>
<path d="M399.42 563.62L403.82 568.02M399.42 568.02L403.82 563.62" stroke="#008000" stroke-width="3.2" stroke-linecap="round"/>
<path d="M408.80 578.02L413.20 582.42M408.80 582.42L413.20 578.02" stroke="#008000" stroke-width="3.2" stroke-linecap="round"/>
<path d="M418.18 589.36L422.58 593.76M418.18 593.76L422.58 589.36" stroke="#008000" stroke-width="3.2" stroke-linecap="round"/>
<path d="M427.57 597.10L431.97 601.50M427.57 601.50L431.97 597.10" stroke="#008000" stroke-width="3.2" stroke-linecap="round"/>
<path d="M436.95 590.98L441.35 595.38M436.95 595.38L441.35 590.98" stroke="#008000" stroke-width="3.2" stroke-linecap="round"/>
<path d="M446.33 625.18L450.73 629.58M446.33 629.58L450.73 625.18" stroke="#008000" stroke-width="3.2" stroke-linecap="round"/>
<path d="M455.72 586.84L460.12 591.24M455.72 591.24L460.12 586.84" stroke="#008000" stroke-width="3.2" stroke-linecap="round"/>
<path d="M465.10 584.86L469.50 589.26M465.10 589.26L469.50 584.86" stroke="#008000" stroke-width="3.2" stroke-linecap="round"/>
<path d="M474.48 581.44L478.88 585.84M474.48 585.84L478.88 581.44" stroke="#008000" stroke-width="3.2" stroke-linecap="round"/>
<path d="M483.87 578.74L488.27 583.14M483.87 583.14L488.27 578.74" stroke="#008000" stroke-width="3.2" stroke-linecap="round"/>
<path d="M493.25 589.72L497.65 594.12M493.25 594.12L497.65 589.72" stroke="#008000" stroke-width="3.2" stroke-linecap="round"/>
<path d="M502.63 591.88L507.03 596.28M502.63 596.28L507.03 591.88" stroke="#008000" stroke-width="3.2" stroke-linecap="round"/>
<path d="M512.02 576.04L516.42 580.44M512.02 580.44L516.42 576.04" stroke="#008000" stroke-width="3.2" stroke-linecap="round"/>
<path d="M521.40 562.18L525.80 566.58M521.40 566.58L525.80 562.18" stroke="#008000" stroke-width="3.2" stroke-linecap="round"/>
<path d="M530.78 589.90L535.18 594.30M530.78 594.30L535.18 589.90" stroke="#008000" stroke-width="3.2" stroke-linecap="round"/>
<path d="M540.17 592.96L544.57 597.36M540.17 597.36L544.57 592.96" stroke="#008000" stroke-width="3.2" stroke-linecap="round"/>
<path d="M549.55 583.24L553.95 587.64M549.55 587.64L553.95 583.24" stroke="#008000" stroke-width="3.2" stroke-linecap="round"/>
<path d="M558.93 592.42L563.33 596.82M558.93 596.82L563.33 592.42" stroke="#008000" stroke-width="3.2" stroke-linecap="round"/>
<path d="M568.32 575.86L572.72 580.26M568.32 580.26L572.72 575.86" stroke="#008000" stroke-width="3.2" stroke-linecap="round"/>
<path d="M577.70 616.90L582.10 621.30M577.70 621.30L582.10 616.90" stroke="#008000" stroke-width="3.2" stroke-linecap="round"/>
<path d="M587.08 579.10L591.48 583.50M587.08 583.50L591.48 579.10" stroke="#008000" stroke-width="3.2" stroke-linecap="round"/>
<path d="M596.47 612.94L600.87 617.34M596.47 617.34L600.87 612.94" stroke="#008000" stroke-width="3.2" stroke-linecap="round"/>
<path d="M605.85 625.90L610.25 630.30M605.85 630.30L610.25 625.90" stroke="#008000" stroke-width="3.2" stroke-linecap="round"/>
<path d="M615.23 559.84L619.63 564.24M615.23 564.24L619.63 559.84" stroke="#008000" stroke-width="3.2" stroke-linecap="round"/>
<path d="M624.62 563.62L629.02 568.02M624.62 568.02L629.02 563.62" stroke="#008000" stroke-width="3.2" stroke-linecap="round"/>
<path d="M634.00 579.64L638.40 584.04M634.00 584.04L638.40 579.64" stroke="#008000" stroke-width="3.2" stroke-linecap="round"/>
<path d="M643.38 599.80L647.78 604.20M643.38 604.20L647.78 599.80" stroke="#008000" stroke-width="3.2" stroke-linecap="round"/>
</g>
<rect x="398.4" y="490.9" width="251" height="180.7" fill="none" stroke="#3a3a3a" stroke-width="1.1"/>
<path d="M398.4 669.05h2.6M398.4 655.55h2.6M398.4 648.8h2.6M398.4 642.05h2.6M398.4 628.55h2.6M398.4 621.8h2.6M398.4 615.05h2.6M398.4 601.55h2.6M398.4 594.8h2.6M398.4 588.05h2.6M398.4 574.55h2.6M398.4 567.8h2.6M398.4 561.05h2.6M398.4 547.55h2.6M398.4 540.8h2.6M398.4 534.05h2.6M398.4 520.55h2.6M398.4 513.8h2.6M398.4 507.05h2.6M398.4 493.55h2.6" stroke="#555" stroke-width="0.8" fill="none"/>
<path d="M398.4 662.3h4.8M398.4 635.3h4.8M398.4 608.3h4.8M398.4 581.3h4.8M398.4 554.3h4.8M398.4 527.3h4.8M398.4 500.3h4.8" stroke="#555" stroke-width="0.8" fill="none"/>
<path d="M649.4 671.3h-2.6M649.4 662.3h-2.6M649.4 644.3h-2.6M649.4 635.3h-2.6M649.4 626.3h-2.6M649.4 608.3h-2.6M649.4 599.3h-2.6M649.4 590.3h-2.6M649.4 572.3h-2.6M649.4 563.3h-2.6M649.4 554.3h-2.6M649.4 536.3h-2.6M649.4 527.3h-2.6M649.4 518.3h-2.6M649.4 500.3h-2.6M649.4 491.3h-2.6" stroke="#555" stroke-width="0.8" fill="none"/>
<path d="M649.4 653.3h-4.8M649.4 617.3h-4.8M649.4 581.3h-4.8M649.4 545.3h-4.8M649.4 509.3h-4.8" stroke="#555" stroke-width="0.8" fill="none"/>
<path d="M401.62 671.6v-2.6M401.62 490.9v2.6M420.38 671.6v-2.6M420.38 490.9v2.6M429.77 671.6v-2.6M429.77 490.9v2.6M439.15 671.6v-2.6M439.15 490.9v2.6M457.92 671.6v-2.6M457.92 490.9v2.6M467.3 671.6v-2.6M467.3 490.9v2.6M476.68 671.6v-2.6M476.68 490.9v2.6M495.45 671.6v-2.6M495.45 490.9v2.6M504.83 671.6v-2.6M504.83 490.9v2.6M514.22 671.6v-2.6M514.22 490.9v2.6M532.98 671.6v-2.6M532.98 490.9v2.6M542.37 671.6v-2.6M542.37 490.9v2.6M551.75 671.6v-2.6M551.75 490.9v2.6M570.52 671.6v-2.6M570.52 490.9v2.6M579.9 671.6v-2.6M579.9 490.9v2.6M589.28 671.6v-2.6M589.28 490.9v2.6M608.05 671.6v-2.6M608.05 490.9v2.6M617.43 671.6v-2.6M617.43 490.9v2.6M626.82 671.6v-2.6M626.82 490.9v2.6M645.58 671.6v-2.6M645.58 490.9v2.6" stroke="#555" stroke-width="0.8" fill="none"/>
<path d="M411 671.6v-4.8M411 490.9v4.8M448.53 671.6v-4.8M448.53 490.9v4.8M486.07 671.6v-4.8M486.07 490.9v4.8M523.6 671.6v-4.8M523.6 490.9v4.8M561.13 671.6v-4.8M561.13 490.9v4.8M598.67 671.6v-4.8M598.67 490.9v4.8M636.2 671.6v-4.8M636.2 490.9v4.8" stroke="#555" stroke-width="0.8" fill="none"/>
<text x="394.6" y="666.5" font-size="12" text-anchor="end" font-family='"Liberation Sans", sans-serif' >−60</text>
<text x="411" y="684" font-size="12" text-anchor="middle" font-family='"Liberation Sans", sans-serif' >−60</text>
<text x="394.6" y="639.5" font-size="12" text-anchor="end" font-family='"Liberation Sans", sans-serif' >−40</text>
<text x="448.53" y="684" font-size="12" text-anchor="middle" font-family='"Liberation Sans", sans-serif' >−40</text>
<text x="394.6" y="612.5" font-size="12" text-anchor="end" font-family='"Liberation Sans", sans-serif' >−20</text>
<text x="486.07" y="684" font-size="12" text-anchor="middle" font-family='"Liberation Sans", sans-serif' >−20</text>
<text x="394.6" y="585.5" font-size="12" text-anchor="end" font-family='"Liberation Sans", sans-serif' >0</text>
<text x="523.6" y="684" font-size="12" text-anchor="middle" font-family='"Liberation Sans", sans-serif' >0</text>
<text x="394.6" y="558.5" font-size="12" text-anchor="end" font-family='"Liberation Sans", sans-serif' >20</text>
<text x="561.13" y="684" font-size="12" text-anchor="middle" font-family='"Liberation Sans", sans-serif' >20</text>
<text x="394.6" y="531.5" font-size="12" text-anchor="end" font-family='"Liberation Sans", sans-serif' >40</text>
<text x="598.67" y="684" font-size="12" text-anchor="middle" font-family='"Liberation Sans", sans-serif' >40</text>
<text x="394.6" y="504.5" font-size="12" text-anchor="end" font-family='"Liberation Sans", sans-serif' >60</text>
<text x="636.2" y="684" font-size="12" text-anchor="middle" font-family='"Liberation Sans", sans-serif' >60</text>
<text x="652.8" y="657.5" font-size="12" text-anchor="start" font-family='"Liberation Sans", sans-serif' fill="#1e8c1e">−4</text>
<text x="652.8" y="621.5" font-size="12" text-anchor="start" font-family='"Liberation Sans", sans-serif' fill="#1e8c1e">−2</text>
<text x="652.8" y="585.5" font-size="12" text-anchor="start" font-family='"Liberation Sans", sans-serif' fill="#1e8c1e">0</text>
<text x="652.8" y="549.5" font-size="12" text-anchor="start" font-family='"Liberation Sans", sans-serif' fill="#1e8c1e">2</text>
<text x="652.8" y="513.5" font-size="12" text-anchor="start" font-family='"Liberation Sans", sans-serif' fill="#1e8c1e">4</text>
<text x="349.45" y="497.8" font-size="20.5" text-anchor="start" font-family='"Liberation Sans", sans-serif' font-weight="bold">f</text>
<path d="M415.2 515.9H440.9" stroke="#0000ff" stroke-width="2"/>
<polygon points="428.00,511.90 429.12,514.36 431.80,514.66 429.81,516.49 430.35,519.14 428.00,517.80 425.65,519.14 426.19,516.49 424.20,514.66 426.88,514.36" fill="#0000ff"/>
<path d="M427.80 532.90L432.00 537.10M427.80 537.10L432.00 532.90" stroke="#008000" stroke-width="3.2" stroke-linecap="round"/>
<text x="452.6" y="520.6" font-size="12" text-anchor="start" font-family='"Liberation Sans", sans-serif' >DOA Estimation</text>
<text x="452" y="538.5" font-size="12" text-anchor="start" font-family='"Liberation Sans", sans-serif' >Error</text>
<text transform="translate(367.9,584.8) rotate(-90)" font-size="12" text-anchor="middle" fill="#2222ff" font-family='"Liberation Sans", sans-serif'>Estimation (°)</text>
<text transform="translate(683.0,585.2) rotate(-90)" font-size="12" text-anchor="middle" fill="#1e8c1e" font-family='"Liberation Sans", sans-serif'>Error (°)</text>
<text x="520.6" y="701.6" font-size="13.5" font-family='"Liberation Serif", serif' font-style="italic">θ<tspan font-size="9.5" dy="2.6">i</tspan></text>
<text x="535.4" y="702.0" font-size="12.5" font-family='"Liberation Sans", sans-serif'>(°)</text>
</svg></body></html>
